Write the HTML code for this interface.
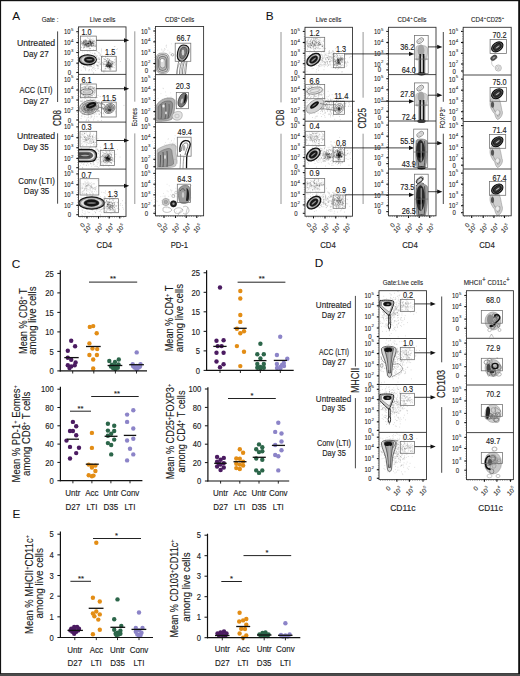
<!DOCTYPE html>
<html><head><meta charset="utf-8"><title>Figure</title>
<style>html,body{margin:0;padding:0;background:#fff;}body{width:520px;height:676px;overflow:hidden;font-family:"Liberation Sans",sans-serif;}svg{display:block;}</style>
</head><body>
<svg width="520" height="676" viewBox="0 0 520 676" font-family="Liberation Sans, sans-serif">
<rect x="0" y="0" width="520" height="676" fill="#fff"/>
<text x="12.3" y="20.4" font-size="11.8" fill="#111" stroke="#111" stroke-width="0.05">A</text>
<text x="265.7" y="20.4" font-size="11.8" fill="#111" stroke="#111" stroke-width="0.05">B</text>
<text x="11.8" y="267.6" font-size="11.8" fill="#111" stroke="#111" stroke-width="0.05">C</text>
<text x="314.7" y="267" font-size="11.8" fill="#111" stroke="#111" stroke-width="0.05">D</text>
<text x="12.6" y="517.8" font-size="11.8" fill="#111" stroke="#111" stroke-width="0.05">E</text>
<text x="41.7" y="21.6" font-size="6.9" fill="#222" stroke="#222" stroke-width="0.1" textLength="16.8" lengthAdjust="spacingAndGlyphs">Gate :</text>
<text x="102.6" y="21.6" font-size="6.9" fill="#222" stroke="#222" stroke-width="0.1" text-anchor="middle" textLength="25.6" lengthAdjust="spacingAndGlyphs">Live cells</text>
<text x="165" y="21.6" font-size="6.9" fill="#222" stroke="#222" stroke-width="0.1" textLength="12.5" lengthAdjust="spacingAndGlyphs">CD8</text>
<text x="177.6" y="18.6" font-size="4" fill="#222" stroke="#222" stroke-width="0.06">+</text>
<text x="181" y="21.6" font-size="6.9" fill="#222" stroke="#222" stroke-width="0.1" textLength="13.2" lengthAdjust="spacingAndGlyphs">Cells</text>
<text x="328.5" y="22.4" font-size="6.9" fill="#222" stroke="#222" stroke-width="0.1" text-anchor="middle" textLength="25.5" lengthAdjust="spacingAndGlyphs">Live cells</text>
<text x="397.5" y="22" font-size="6.9" fill="#222" stroke="#222" stroke-width="0.1" textLength="12.5" lengthAdjust="spacingAndGlyphs">CD4</text>
<text x="410.2" y="19" font-size="4" fill="#222" stroke="#222" stroke-width="0.06">+</text>
<text x="413.5" y="22" font-size="6.9" fill="#222" stroke="#222" stroke-width="0.1" textLength="13" lengthAdjust="spacingAndGlyphs">Cells</text>
<text x="471.1" y="22" font-size="6.9" fill="#222" stroke="#222" stroke-width="0.1" textLength="12.5" lengthAdjust="spacingAndGlyphs">CD4</text>
<text x="483.8" y="19" font-size="4" fill="#222" stroke="#222" stroke-width="0.06">+</text>
<text x="486.6" y="22" font-size="6.9" fill="#222" stroke="#222" stroke-width="0.1" textLength="15" lengthAdjust="spacingAndGlyphs">CD25</text>
<text x="501.8" y="19" font-size="4" fill="#222" stroke="#222" stroke-width="0.06">+</text>
<text x="382.8" y="284.8" font-size="6.9" fill="#222" stroke="#222" stroke-width="0.1" textLength="40.2" lengthAdjust="spacingAndGlyphs">Gate:Live cells</text>
<text x="463.7" y="285" font-size="6.9" fill="#222" stroke="#222" stroke-width="0.1" textLength="18.3" lengthAdjust="spacingAndGlyphs">MHCII</text>
<text x="482" y="281.6" font-size="6.6" fill="#222" stroke="#222" stroke-width="0.1">+</text>
<text x="487.5" y="285" font-size="6.9" fill="#222" stroke="#222" stroke-width="0.1" textLength="18.6" lengthAdjust="spacingAndGlyphs">CD11c</text>
<text x="506" y="281.6" font-size="6.6" fill="#222" stroke="#222" stroke-width="0.1">+</text>
<text x="36" y="45.6" font-size="9.4" fill="#222" stroke="#222" stroke-width="0.14" text-anchor="middle" textLength="38.1" lengthAdjust="spacingAndGlyphs">Untreated</text>
<text x="36" y="57" font-size="9.4" fill="#222" stroke="#222" stroke-width="0.14" text-anchor="middle" textLength="25.5" lengthAdjust="spacingAndGlyphs">Day 27</text>
<text x="36" y="93" font-size="9.4" fill="#222" stroke="#222" stroke-width="0.14" text-anchor="middle" textLength="32.9" lengthAdjust="spacingAndGlyphs">ACC (LTI)</text>
<text x="36" y="104.3" font-size="9.4" fill="#222" stroke="#222" stroke-width="0.14" text-anchor="middle" textLength="25.5" lengthAdjust="spacingAndGlyphs">Day 27</text>
<text x="36" y="138.8" font-size="9.4" fill="#222" stroke="#222" stroke-width="0.14" text-anchor="middle" textLength="38.1" lengthAdjust="spacingAndGlyphs">Untreated</text>
<text x="36" y="150.4" font-size="9.4" fill="#222" stroke="#222" stroke-width="0.14" text-anchor="middle" textLength="25.5" lengthAdjust="spacingAndGlyphs">Day 35</text>
<text x="36.6" y="183.6" font-size="9.4" fill="#222" stroke="#222" stroke-width="0.14" text-anchor="middle" textLength="36.7" lengthAdjust="spacingAndGlyphs">Conv (LTI)</text>
<text x="36.6" y="194.2" font-size="9.4" fill="#222" stroke="#222" stroke-width="0.14" text-anchor="middle" textLength="25.5" lengthAdjust="spacingAndGlyphs">Day 35</text>
<line x1="57.6" y1="31.4" x2="57.6" y2="102" stroke="#333" stroke-width="0.9"/>
<line x1="57.6" y1="133.3" x2="57.6" y2="203.7" stroke="#333" stroke-width="0.9"/>
<text x="61" y="126" font-size="10.4" fill="#222" stroke="#222" stroke-width="0.16" textLength="16" lengthAdjust="spacingAndGlyphs" transform="rotate(-90 61 126)">CD8</text>
<line x1="134.8" y1="31.3" x2="134.8" y2="101.7" stroke="#8a8a8a" stroke-width="0.9"/>
<line x1="134.8" y1="133.4" x2="134.8" y2="204" stroke="#8a8a8a" stroke-width="0.9"/>
<text x="137.2" y="126.6" font-size="7" fill="#222" stroke="#222" stroke-width="0.1" textLength="18.5" lengthAdjust="spacingAndGlyphs" transform="rotate(-90 137.2 126.6)">Eomes</text>
<text x="333.6" y="308" font-size="8.7" fill="#222" stroke="#222" stroke-width="0.13" text-anchor="middle" textLength="35.5" lengthAdjust="spacingAndGlyphs">Untreated</text>
<text x="333.6" y="317.8" font-size="8.7" fill="#222" stroke="#222" stroke-width="0.13" text-anchor="middle" textLength="23.7" lengthAdjust="spacingAndGlyphs">Day 27</text>
<text x="334" y="355.1" font-size="8.7" fill="#222" stroke="#222" stroke-width="0.13" text-anchor="middle" textLength="30.1" lengthAdjust="spacingAndGlyphs">ACC (LTI)</text>
<text x="334" y="365.1" font-size="8.7" fill="#222" stroke="#222" stroke-width="0.13" text-anchor="middle" textLength="23.7" lengthAdjust="spacingAndGlyphs">Day 27</text>
<text x="333.6" y="401.6" font-size="8.7" fill="#222" stroke="#222" stroke-width="0.13" text-anchor="middle" textLength="35.5" lengthAdjust="spacingAndGlyphs">Untreated</text>
<text x="333.6" y="411.4" font-size="8.7" fill="#222" stroke="#222" stroke-width="0.13" text-anchor="middle" textLength="23.7" lengthAdjust="spacingAndGlyphs">Day 35</text>
<text x="334" y="446.2" font-size="8.7" fill="#222" stroke="#222" stroke-width="0.13" text-anchor="middle" textLength="34" lengthAdjust="spacingAndGlyphs">Conv (LTI)</text>
<text x="334" y="455.8" font-size="8.7" fill="#222" stroke="#222" stroke-width="0.13" text-anchor="middle" textLength="23.7" lengthAdjust="spacingAndGlyphs">Day 35</text>
<line x1="355.4" y1="295.9" x2="355.4" y2="366.5" stroke="#333" stroke-width="0.9"/>
<line x1="355.4" y1="398.1" x2="355.4" y2="468.3" stroke="#333" stroke-width="0.9"/>
<text x="358.8" y="393.1" font-size="10.2" fill="#222" stroke="#222" stroke-width="0.15" textLength="25.4" lengthAdjust="spacingAndGlyphs" transform="rotate(-90 358.8 393.1)">MHCII</text>
<line x1="441.7" y1="296.5" x2="441.7" y2="362.3" stroke="#333" stroke-width="0.9"/>
<line x1="441.7" y1="407.1" x2="441.7" y2="472.8" stroke="#333" stroke-width="0.9"/>
<text x="444.9" y="398.1" font-size="10.4" fill="#222" stroke="#222" stroke-width="0.16" textLength="28.1" lengthAdjust="spacingAndGlyphs" transform="rotate(-90 444.9 398.1)">CD103</text>
<line x1="281" y1="32" x2="281" y2="102.4" stroke="#8a8a8a" stroke-width="0.9"/>
<line x1="281" y1="133.7" x2="281" y2="204" stroke="#8a8a8a" stroke-width="0.9"/>
<text x="284.3" y="126" font-size="10.6" fill="#222" stroke="#222" stroke-width="0.16" textLength="16.2" lengthAdjust="spacingAndGlyphs" transform="rotate(-90 284.3 126)">CD8</text>
<line x1="363.1" y1="32" x2="363.1" y2="97.7" stroke="#8a8a8a" stroke-width="0.9"/>
<line x1="363.1" y1="133.7" x2="363.1" y2="204" stroke="#8a8a8a" stroke-width="0.9"/>
<text x="366.2" y="128.6" font-size="10.5" fill="#222" stroke="#222" stroke-width="0.16" textLength="20.5" lengthAdjust="spacingAndGlyphs" transform="rotate(-90 366.2 128.6)">CD25</text>
<line x1="443.3" y1="32" x2="443.3" y2="101.8" stroke="#333" stroke-width="0.9"/>
<line x1="443.3" y1="133.7" x2="443.3" y2="204" stroke="#333" stroke-width="0.9"/>
<text x="445.2" y="128.5" font-size="7.3" fill="#222" stroke="#222" stroke-width="0.11" textLength="19.2" lengthAdjust="spacingAndGlyphs" transform="rotate(-90 445.2 128.5)">FOXP3</text>
<text x="441.6" y="109.3" font-size="4.2" fill="#222" stroke="#222" stroke-width="0.06" transform="rotate(-90 441.6 109.3)">+</text>
<text x="104.4" y="248.1" font-size="9.2" fill="#222" stroke="#222" stroke-width="0.14" text-anchor="middle" textLength="15.6" lengthAdjust="spacingAndGlyphs">CD4</text>
<text x="179.4" y="248.1" font-size="9.2" fill="#222" stroke="#222" stroke-width="0.14" text-anchor="middle" textLength="17.5" lengthAdjust="spacingAndGlyphs">PD-1</text>
<text x="328" y="248.1" font-size="9.2" fill="#222" stroke="#222" stroke-width="0.14" text-anchor="middle" textLength="15.6" lengthAdjust="spacingAndGlyphs">CD4</text>
<text x="410" y="248.1" font-size="9.2" fill="#222" stroke="#222" stroke-width="0.14" text-anchor="middle" textLength="15.6" lengthAdjust="spacingAndGlyphs">CD4</text>
<text x="487" y="248.1" font-size="9.2" fill="#222" stroke="#222" stroke-width="0.14" text-anchor="middle" textLength="15.6" lengthAdjust="spacingAndGlyphs">CD4</text>
<text x="402.9" y="510.6" font-size="9.2" fill="#222" stroke="#222" stroke-width="0.14" text-anchor="middle" textLength="25.4" lengthAdjust="spacingAndGlyphs">CD11c</text>
<text x="490.5" y="510.6" font-size="9.2" fill="#222" stroke="#222" stroke-width="0.14" text-anchor="middle" textLength="24.5" lengthAdjust="spacingAndGlyphs">CD11c</text>
<path d="M93.93 46.25h.01M88.31 42.05h.01M82.98 43.56h.01M83.3 40.77h.01M88.92 43.75h.01M90.51 41.76h.01M88.02 43.38h.01M81.07 44.52h.01M89.48 48.04h.01M88.93 43.23h.01M93.67 43.88h.01M92.18 42.81h.01M89 45.45h.01M91.2 43.74h.01M83.02 44.35h.01M88.35 44.87h.01M88.99 45.57h.01M87.76 43.88h.01M91.07 41.43h.01M86.15 42.55h.01M91 44.68h.01M86.71 40.55h.01M92.44 42.73h.01M91.3 41.02h.01M85.99 45.89h.01M94.58 41.03h.01M81.87 43.42h.01M91.35 43.8h.01M89.4 41.62h.01M90.7 45.62h.01M86 40.78h.01M84.51 44.95h.01M83.44 43.25h.01M86.88 43.53h.01M94.91 44.3h.01M94.14 43.23h.01M85.79 44.22h.01M88.74 41.15h.01M90.14 42.44h.01M83.5 42.51h.01M87.3 45.88h.01M88.47 43.45h.01M89.79 40.06h.01M93.7 41.45h.01M90.02 41.36h.01M83.51 42.75h.01M85.22 42.96h.01M82.7 43.44h.01M85.36 44.87h.01M81.76 42.86h.01M84.13 42.13h.01M91.27 43.74h.01M90.69 45.76h.01M93.29 40.89h.01M90.47 40.15h.01M87.71 47.15h.01M87.11 42.8h.01M88.78 43.53h.01M88.12 42.06h.01M92.98 45.19h.01M87.02 44.1h.01M91.03 45.46h.01M89.81 44.82h.01M86.79 41.47h.01M85.72 45.44h.01M92.5 43.78h.01M85.39 44.08h.01M95.65 46.07h.01M84.86 43.42h.01M81.32 41.34h.01M88.87 43.55h.01M92.44 45.91h.01M91.84 46.01h.01M85.48 41.36h.01M90.3 48.59h.01M89.64 41.31h.01M89.12 46.21h.01M83.24 45.03h.01M85.19 45.92h.01M91.61 44.08h.01M84.84 47.02h.01M83.97 47.68h.01M87.82 41.53h.01M87.99 43.75h.01M88.93 43.14h.01M92.97 39.09h.01M85.45 43h.01M86.44 41.33h.01M84.94 44.72h.01M89.89 46.24h.01M85.24 44.01h.01M93.4 45.22h.01M86.45 45.64h.01M83.75 46.93h.01M88.71 43.29h.01M89.25 45.11h.01M86.31 44.61h.01M83.99 40.28h.01M91.85 42.78h.01M93.18 41.55h.01M88.71 46.54h.01M90.42 44.09h.01M90.7 42.8h.01M88.36 40.93h.01M90.39 41.97h.01M85.95 44.83h.01M92.21 41.59h.01M91.84 45.31h.01M89.03 43.83h.01M90.05 40.03h.01M84.56 45.71h.01M88.89 41.69h.01M85.04 42.92h.01M91.16 44.24h.01M92.59 41.95h.01M92.54 42.55h.01M86.62 46.79h.01M88.34 43.24h.01M87.03 42.77h.01M95.17 46.12h.01M91.3 43.85h.01M92.8 43.35h.01M90.08 44.26h.01M88.41 46.63h.01M91.23 42.64h.01M87.89 45.66h.01M93.4 45.12h.01M88.65 43.57h.01M91.83 43.33h.01M83.87 42.32h.01M87.36 44.13h.01M90.2 43.33h.01M89.38 46.07h.01M93.71 43.2h.01M85.43 40.91h.01M87.67 45.87h.01M86.78 44.84h.01M91.26 44.25h.01M92.99 43.28h.01M84.18 41.27h.01M92.26 42.81h.01M86.57 45.09h.01M84.37 46.86h.01M91.06 42.5h.01M85.09 45.56h.01M82.55 42.28h.01M88.03 43.89h.01M88.07 44.24h.01M86.33 43.27h.01M93.82 44.73h.01M85.93 46.76h.01M91.07 45.35h.01M88.51 42.77h.01M90.69 43.13h.01M90.18 38.07h.01M89.75 42h.01M92.33 44.92h.01M91.35 42.73h.01M90 42.85h.01M88.99 43.24h.01M83.99 47.26h.01M91.33 39.59h.01M92.11 40.85h.01M86.93 42.39h.01M85.54 43.96h.01M86.5 40.75h.01M87.97 44.19h.01M82.53 42.78h.01M91 41.82h.01M84.68 44.55h.01M87.95 43.92h.01M85.11 41.93h.01M86.51 43.21h.01M86.46 44.32h.01M90.52 44.54h.01M90.2 41.82h.01M82.85 45.02h.01M88.06 43.73h.01M82.66 43.1h.01M85.07 41.86h.01M85.1 40.66h.01M88.39 45.72h.01M84.74 43.68h.01M82.98 44.78h.01M86.95 46.21h.01M89.69 43.72h.01M92.22 46.23h.01M90.95 42.4h.01M84.84 40.04h.01M83.05 45.63h.01M87.47 40.96h.01M94.07 40.32h.01M93.8 42.89h.01M89.56 44.79h.01M89.21 45.92h.01M88.07 42.88h.01M84.96 40.75h.01M84.8 45.37h.01M91.8 46.14h.01M90.3 41h.01M86.88 47.67h.01M90.44 43.24h.01M89.42 39.9h.01M84.16 41.01h.01M92.44 43.16h.01M89.59 41.59h.01M90.08 44.95h.01M95.06 46.47h.01M90.24 43.26h.01M84.2 42.35h.01M90.84 44.57h.01M88.09 46.66h.01M90.98 43.53h.01M87.12 43.65h.01M83.63 41.64h.01M89.6 42.39h.01M86.75 45.82h.01M87.11 46h.01M87.96 46.38h.01M90.14 40.16h.01M93.7 43.11h.01M88.71 41.05h.01M85.21 44.54h.01M94.5 45.67h.01M93.62 45.63h.01M88.86 38.39h.01M91.54 45.19h.01M84.43 42.78h.01M83.68 43.47h.01M87.81 43.49h.01M83.3 44.24h.01M86.43 45.31h.01M89.44 40.68h.01M81.36 43.63h.01M85.77 44.39h.01M91.71 43.54h.01M90.63 41.5h.01M93.1 43.33h.01M90.39 41.82h.01M87.54 37.87h.01M87.04 44.59h.01M83.87 41.9h.01M87.75 43.62h.01M84.28 44.78h.01M81.54 41.94h.01M94.13 41.61h.01M83.77 41.38h.01M84.77 42.09h.01M83.52 41.55h.01M95.42 42.22h.01M92.47 40.83h.01M90.5 41.12h.01M85.89 44.71h.01M85.56 39.77h.01M85.46 43.2h.01M90.64 41.6h.01M86.63 43.62h.01M84.19 44.33h.01M87.49 43.18h.01M86.3 41.71h.01M85.65 41.1h.01M88.8 44.75h.01M90.75 42.51h.01M95.73 45.12h.01M83.64 43.24h.01M91.28 45.91h.01M86.08 40.1h.01M87.22 46.09h.01M88.66 45.92h.01M91.81 46.46h.01M90.75 42.24h.01M90.05 48.32h.01" stroke="#000" stroke-opacity="0.35" stroke-width="0.7" stroke-linecap="round"/>
<path d="M114.61 62.78h.01M109.95 64.88h.01M111 60.85h.01M108 62.55h.01M106.42 62.31h.01M107.77 63.75h.01M106.82 65.6h.01M107.69 56.19h.01M111.86 63.48h.01M107.22 65.2h.01M109.55 64.64h.01M106.95 65h.01M105.31 68.25h.01M105.96 63.96h.01M109.05 65.07h.01M108.41 65.76h.01M100.28 63.89h.01M108.31 63.03h.01M112.36 61.62h.01M108.49 58.87h.01M109.34 59.92h.01M104.9 70.32h.01M110.38 64.13h.01M109.1 60.38h.01M106.14 65.27h.01M103.55 64.87h.01M104.47 64.47h.01M105.98 68.78h.01M111.16 62.8h.01M104.08 62.09h.01M108.55 61.54h.01M109.37 66.77h.01M108.55 63.01h.01M110.59 63.38h.01M110.75 63.32h.01M112.62 63.42h.01M106.1 64.42h.01M107.14 61.68h.01M108.38 66.14h.01M103.42 64.05h.01M108.32 63.78h.01M110.65 60.72h.01M110.31 63.57h.01M108.97 63.6h.01M107.9 62.8h.01M109.72 69.75h.01M111.29 66.46h.01M110.09 62.95h.01M110.22 69.7h.01M105.63 66.42h.01M111.23 64.99h.01M110.69 67.93h.01M114.18 67.72h.01M112.83 65.17h.01M110.83 64.76h.01M109.54 63.1h.01M110.49 68.15h.01M108.46 65.01h.01M110.37 64.41h.01M111.15 65.04h.01M106.04 61.66h.01M110.65 66.04h.01M111.57 65.05h.01M109.39 60.25h.01M112.29 61.98h.01M111.44 61.41h.01M107.31 64.82h.01M107.89 62.58h.01M111.1 66.19h.01M109.89 63.54h.01M106.94 63.18h.01M107.67 64.37h.01M110.8 64h.01M107.03 62.82h.01M112.05 64.88h.01M109.52 65.19h.01M110.39 64.82h.01M111.81 66.59h.01M102.13 64.11h.01M116.09 61.13h.01M109.29 67.3h.01M108.98 67.98h.01M105.94 61.22h.01M108.53 62.56h.01M106.4 65.98h.01M109.64 64.52h.01M108.02 65.18h.01M108.71 62.6h.01M110.23 65.47h.01M109.19 66.31h.01M106.34 64.12h.01M107.74 67.97h.01M110.22 70h.01M112.77 63.54h.01M106.37 65.76h.01M108.32 64.09h.01M106.45 66.06h.01M109.45 65.55h.01M109.74 62.15h.01M103.63 63.79h.01M107.47 63.12h.01M111.3 64.24h.01M112.62 64.97h.01M110.65 65.82h.01M110.93 61.23h.01M111.62 64.78h.01M106.66 66.1h.01M109.83 67.85h.01M110.76 65.45h.01M105.08 68.86h.01M112.57 66.52h.01M110.11 67.67h.01M106.92 66.32h.01M109.05 61.89h.01M109.88 65.42h.01M113.09 66.95h.01M105.15 59.4h.01M108.81 63.96h.01M106.75 60.71h.01M108.53 61.49h.01M107.34 66.74h.01M109.57 62.54h.01M106.3 64.01h.01M113.16 63.18h.01M113.15 62.45h.01M108.5 66.31h.01M107.14 64.64h.01M105.75 66.22h.01M111.78 62.81h.01M109.45 63.44h.01M103.82 71.64h.01M110.51 66.65h.01M109.93 64.95h.01M114.69 59.75h.01M108.25 63.41h.01M108.5 66.31h.01M107.27 61.05h.01M106.29 65.69h.01M111.28 66.6h.01M112.83 63.15h.01M111.38 66.28h.01M108.6 62.54h.01M111.11 62.73h.01M108.29 61.97h.01M113.19 64.36h.01M107.8 63.85h.01M108.45 64.73h.01M104.9 61.48h.01M110.21 67.31h.01M106.57 64.79h.01M107.61 58.58h.01M108.25 61.67h.01M111.09 63.95h.01M108.9 60.69h.01M109.34 59.43h.01M109.52 68.08h.01M106.09 66.71h.01M112.37 63.97h.01M111.68 64.71h.01M107.81 59.27h.01M106.41 60.63h.01M114.72 65.17h.01M108.58 60.98h.01M113.13 61.47h.01M112.56 67.32h.01M109.17 62.78h.01M108.88 61.05h.01M110.56 68.88h.01M111.14 67.23h.01M107.32 65.3h.01" stroke="#000" stroke-opacity="0.35" stroke-width="0.7" stroke-linecap="round"/>
<path d="M106.77 65.78h.01M108.17 64.92h.01M109.66 65.58h.01M108.17 67.66h.01M107.91 63.98h.01M106.85 64.87h.01M109.29 66.52h.01M109.87 67.72h.01M110.57 66.3h.01M110.13 66.33h.01M107.86 66.54h.01M108.63 65.31h.01M110.97 66.49h.01M107.98 65.47h.01M111.4 65.27h.01M109.46 66.32h.01M109.19 66.28h.01M107.98 65h.01M108.37 65.13h.01M109.55 67.44h.01M107.49 66.23h.01M107.38 64.73h.01M108.28 65.7h.01M108.03 62.39h.01M110.25 65.24h.01M107.79 66.39h.01M107.84 63.83h.01M109.16 66.08h.01M107.56 66.59h.01M109.02 64.19h.01M110.7 65.89h.01M107.19 66.12h.01M108.72 66.75h.01M106.92 66.83h.01M109.71 66.41h.01M109.31 67.17h.01M109.44 65.72h.01M107.55 66.92h.01M109.76 65.93h.01M108.75 66.44h.01" stroke="#000" stroke-opacity="0.49" stroke-width="0.7" stroke-linecap="round"/>
<path d="M95.04 68.5h.01M83.75 66.95h.01M91.15 59.43h.01M114.9 61.95h.01M93.53 65.38h.01M106.4 60.81h.01M100.47 55.16h.01M89.97 58.37h.01M79.34 51.95h.01M92.1 59.08h.01M94.76 52.99h.01M93.13 62.43h.01M102.26 55.92h.01M89.6 48.91h.01M88.46 47.82h.01M97.61 59.13h.01M99.05 64.16h.01M105.5 59.62h.01M87.49 57.37h.01M83.15 60.73h.01M85.36 67.41h.01M83.52 48.44h.01M114.93 46.55h.01M90.88 57.85h.01M112.22 49.09h.01M105.79 56.61h.01M92.29 56.97h.01M101.05 54.17h.01M93.13 63.12h.01M114.24 46.57h.01M110.78 66.69h.01M88.68 62.83h.01M88.87 70.88h.01M96.31 59.71h.01M91.49 59.8h.01M92.06 55.73h.01M116.64 49.53h.01M92.39 63.23h.01M91.75 60.11h.01M97.66 66.81h.01M89.07 58.76h.01M115.35 64.18h.01M102.53 57.47h.01M81.08 62.79h.01M84.85 54.65h.01M79.74 57.96h.01M106.18 58.4h.01M94.72 66.06h.01M107.22 59.99h.01M92.41 60.73h.01M81.52 65.01h.01M109.09 62.04h.01M91.39 59.44h.01M85.41 56.18h.01M89.59 55.95h.01M89.19 51.54h.01M97.85 61.29h.01M81.32 47.21h.01M93.91 67.62h.01M85.93 58.1h.01M87.75 64.92h.01M83.92 66.91h.01M90.67 66.55h.01M94.36 59.61h.01M91.13 64.96h.01M96.69 56.82h.01M98.51 66.92h.01M92.37 58.37h.01M89.67 65.86h.01M99.92 55.42h.01M98.12 58.12h.01M85.74 68.44h.01M103.03 56.65h.01M94.87 64.01h.01M86.97 60.28h.01M101.34 50.26h.01M97.6 65.43h.01M99.55 52.95h.01M97.5 55.82h.01M100.27 64.63h.01M96.38 56.41h.01M87.5 66.12h.01M84.11 63.97h.01M99.63 59.33h.01M120.34 61.42h.01M117.61 48.9h.01M101 59.13h.01M93.41 49.58h.01M87.08 54.8h.01M91.56 66.32h.01M94.58 63.23h.01M86.32 58.39h.01M95.23 59.31h.01M107.91 55.75h.01M114.8 55.12h.01M105.66 56.36h.01M112.13 61.82h.01M98.38 65.47h.01M87.02 54.75h.01M86.34 57.45h.01M93.66 72.93h.01M89.64 64.19h.01M103.25 70.35h.01M111.56 55.87h.01M94.6 60.34h.01M102.33 62.47h.01M92.43 68.29h.01M82.98 64.16h.01M94.11 60.64h.01M99.39 62.06h.01M96.94 62.59h.01M115.32 59.13h.01M105.13 64.65h.01M90.15 65.77h.01M84.57 67.96h.01M85.1 58.06h.01M97.55 65.99h.01M103.98 66.36h.01M91.72 55.26h.01M100.05 62.81h.01M83.52 66.84h.01M96.19 55.25h.01M98.85 53.05h.01M84.35 63.41h.01M79.14 65.42h.01M86 62.1h.01M104.42 63.74h.01M103.81 58.74h.01M109.59 54.65h.01M93.06 67.68h.01M108.41 68.68h.01M81.96 50.32h.01M98.3 52.41h.01M92.55 53.31h.01M105.68 65.82h.01M100.12 61.1h.01M94.5 59.21h.01M98.22 62.5h.01M99.05 58.43h.01M114.88 62.69h.01M109.34 68.98h.01M84.33 50.88h.01M107.83 58.67h.01M94.9 59.44h.01M95.44 53.86h.01M92.86 58.22h.01M93.83 46.99h.01M103.03 62.99h.01M94.34 64.77h.01M94 69.3h.01M94.24 55h.01M86.56 65.46h.01M87.25 66.05h.01M105.22 64.53h.01M105.19 59.96h.01M93.89 57.45h.01M87.29 51.61h.01M87.89 54.57h.01M99 58.95h.01M109.05 66.65h.01M105.49 57.38h.01M97.39 65.36h.01M98.58 68.56h.01M90.83 65.01h.01M84.15 47.15h.01M89.11 69.99h.01M86.52 58.6h.01M94.48 62.27h.01M83.28 61.76h.01M98.88 66.01h.01M85.7 70.31h.01M79.25 62.04h.01M100.11 54.1h.01M100.91 56.24h.01M91.12 45.84h.01M86.22 61.88h.01M95.67 70.5h.01M81.45 47.49h.01M98.97 57.45h.01M97.15 65.31h.01M100.61 69.65h.01M108.88 51.01h.01M93.31 73h.01M89.52 66.8h.01M93.39 58.48h.01M111.41 67.25h.01M91.32 66.44h.01M79.55 56.65h.01M103.92 61.23h.01M82.32 63.7h.01M97.62 68.71h.01M104.53 59.35h.01M88.67 60.17h.01M91.48 69.77h.01M111.47 69.14h.01M98.17 59.53h.01M103.93 58.91h.01M96.6 51h.01M89.34 69.64h.01M82.71 52.05h.01M92.2 71h.01M109.96 58.84h.01M88.74 60.34h.01M83.76 61.21h.01M90.7 52.14h.01M87.63 59.46h.01M84.53 54.28h.01M103.96 72.37h.01M90.84 58.45h.01M99.53 59.62h.01M85.39 69.35h.01M82.55 56.61h.01M86.69 55.69h.01M91.38 64.45h.01M109.85 64.98h.01M94.39 53.49h.01M93.32 55.35h.01M92.92 66.87h.01M96.25 59.74h.01M85.71 60.87h.01M95.22 55.43h.01M88.44 66.29h.01M81.16 70.28h.01M100.66 64.09h.01M98.36 62.72h.01M97.21 51.49h.01M96.84 64.56h.01M101.34 51.87h.01M88.81 59.16h.01M88.2 63.35h.01M79.95 59.66h.01M96.48 65.35h.01M94.54 59.55h.01M101.6 49.06h.01M104.27 59.15h.01" stroke="#000" stroke-opacity="0.24" stroke-width="0.7" stroke-linecap="round"/>
<g transform="rotate(0 87.75 59.8)">
<ellipse cx="87.75" cy="59.8" rx="8.6" ry="5" fill="#999" stroke="#111" stroke-width="1.25"/>
<ellipse cx="88.55" cy="59.8" rx="7.22" ry="3.8" fill="#d8d8d8" stroke="#9a9a9a" stroke-width="0.35"/>
<ellipse cx="89.35" cy="59.8" rx="5.33" ry="3.1" fill="#151515" stroke="#444" stroke-width="0.4"/>
<ellipse cx="89.35" cy="59.8" rx="3.2" ry="0.68" fill="#8a8a8a"/>
</g>
<path d="M88.18 92.3h.01M85.93 91.99h.01M92.17 92.15h.01M95.03 88.52h.01M88.3 89.03h.01M84.47 90.49h.01M89 92.17h.01M91.88 86.54h.01M88.92 89.26h.01M85.68 94.66h.01M87 85.54h.01M89.4 90.18h.01M82.72 88.42h.01M85.19 90.93h.01M86.08 91.2h.01M84.37 90.3h.01M92.93 89.02h.01M94.45 87.34h.01M83.35 90.85h.01M84.11 89.27h.01M90.03 93.03h.01M88.51 90.23h.01M94.05 92.13h.01M86.94 94.4h.01M83.94 91.46h.01M90.97 90.97h.01M85.41 91.98h.01M85.57 89.33h.01M83.4 94.65h.01M85.53 94.23h.01M89.71 90.27h.01M91 91.76h.01M88.59 87.15h.01M88.32 93.5h.01M90.19 93.79h.01M94.71 92.15h.01M91.69 91.26h.01M95.6 89.97h.01M81.96 87.45h.01M87.21 92.76h.01M85.71 91.52h.01M87.7 91.34h.01M90.64 91.47h.01M88.9 88.4h.01M87.49 92.23h.01M92.7 90.66h.01M88.41 91.95h.01M90.57 91.58h.01M86.86 89.57h.01M93.06 91.83h.01M91.97 93.39h.01M88.69 88.16h.01M93.11 90.75h.01M88.24 93.88h.01M92.58 91.67h.01M88.08 96.87h.01M90.58 88.13h.01M91.38 91.42h.01M88.15 92.91h.01M89.06 96.61h.01M88.92 91.71h.01M93.23 89.42h.01M92.56 90.83h.01M93.33 88.62h.01M89.89 86.52h.01M86.01 91.04h.01M90.23 96.53h.01M84.59 94.5h.01M89.98 87.18h.01M90.18 87.85h.01M84.14 87.48h.01M89.7 90.7h.01M87.33 90.26h.01M89.89 90.13h.01M94.55 90.18h.01M90.53 91.63h.01M84.14 88.27h.01M87.77 84.59h.01M88.07 91.22h.01M88.65 90.79h.01M89.59 90.03h.01M90.89 86.45h.01M92.1 88.54h.01M90.18 89.7h.01M86.09 88.79h.01M94.03 87.96h.01M82.59 91.61h.01M89.17 91.12h.01M83.68 89.19h.01M92.07 88.12h.01M90.75 93.03h.01M88.6 87.61h.01M88.89 89.96h.01M83.75 90.26h.01M88.9 88.65h.01M88.53 94.22h.01M89.97 90.74h.01M92.72 93.57h.01M92.05 88.79h.01M88.28 89.97h.01M90.18 89.75h.01M85.24 96.04h.01M92.55 95.95h.01M89.14 92.42h.01M83.91 91.09h.01M87.88 90.71h.01M85.86 94.25h.01M86.22 91.11h.01M88.25 96.43h.01M83.23 94.74h.01M94.29 90.65h.01M85.26 87.56h.01M84.15 96.7h.01M84.9 96.29h.01M89.42 87.24h.01M85.68 91.55h.01M88.56 88.37h.01M86.74 89.73h.01M90.18 91.77h.01M89.02 89.37h.01M91.54 89.44h.01M84.29 89.8h.01M86.55 90.15h.01M90.8 94.69h.01M86.24 93.1h.01M88.9 91.08h.01M90.58 86.18h.01M90.53 90.52h.01M83.46 89.35h.01M92.85 93.72h.01M84.64 86.87h.01M81.73 87.44h.01M84.64 97.07h.01M82.94 93.11h.01M93.6 88.36h.01M86.81 92.89h.01M85.07 94.48h.01M84.31 92.66h.01M89.51 88.91h.01M87.38 91.24h.01M90.26 94.19h.01M85.83 87.38h.01M86.13 89.86h.01M84.91 89.53h.01M90.92 92.17h.01M94.09 87.96h.01M89.97 92.66h.01M92.12 95.23h.01M85.61 87.8h.01M91.4 90.45h.01M85.4 90.75h.01M88.94 91.41h.01M87.07 92.3h.01M85.7 96.71h.01M85.83 86.67h.01M81.76 85.28h.01M93.18 87.91h.01M81.56 89.42h.01M87.06 87.5h.01M85.4 90.97h.01M90.89 88.33h.01M90.49 91.7h.01M90.44 89.48h.01M82.71 93.67h.01M90.59 89.09h.01M84.42 92.92h.01M89.51 92.34h.01M92.87 86.75h.01M88.64 94.53h.01M80.91 91.65h.01M91.33 95.8h.01" stroke="#000" stroke-opacity="0.32" stroke-width="0.7" stroke-linecap="round"/>
<ellipse cx="87.5" cy="91.3" rx="7.6" ry="5.2" fill="none" stroke="#999" stroke-width="0.5"/>
<ellipse cx="86.8" cy="91.9" rx="6.2" ry="3.0" fill="#e0e0e0" stroke="#666" stroke-width="0.9"/>
<ellipse cx="86.8" cy="91.9" rx="3.8" ry="1.2" fill="none" stroke="#777" stroke-width="0.5"/>
<path d="M81.39 101.69h.01M98.03 95.38h.01M90.71 95.59h.01M101.91 109.12h.01M104.21 105.23h.01M95.58 106.43h.01M85.36 108.8h.01M80.69 106.05h.01M98.27 108.32h.01M88.31 120.04h.01M92.52 104.77h.01M93.44 105.12h.01M88.53 106.07h.01M110.23 108.12h.01M93.58 111.71h.01M110.15 106.77h.01M98 120.56h.01M83.45 94.65h.01M97.95 105.13h.01M88.51 110.54h.01M94.01 109.6h.01M88.12 115.09h.01M105.54 108.18h.01M87.93 112.03h.01M96.3 102.28h.01M87.86 113.77h.01M91.13 106.19h.01M93.91 107.82h.01M91.98 97.38h.01M107.74 109.1h.01M84.11 113.39h.01M94.78 108.1h.01M101.43 120.44h.01M96.98 116.72h.01M111.42 102.39h.01M87.29 112.27h.01M103.64 113.74h.01M97.22 97.58h.01M113.16 111.03h.01M98.9 110.72h.01M81.05 118.55h.01M84.52 106.67h.01M89.71 111.14h.01M96.51 109.47h.01M80.65 90.74h.01M93.5 109.47h.01M103.08 107.43h.01M86.5 110.26h.01M82.94 109.58h.01M110.82 112.2h.01M102.28 109.31h.01M94.51 105.53h.01M89.47 94.64h.01M81.18 100.92h.01M99.53 111.65h.01M102.28 116.56h.01M89.25 113.8h.01M109.6 107.95h.01M101.78 107.09h.01M84.6 108.6h.01M87.83 109.76h.01M104.24 106.07h.01M83.82 108.02h.01M98.08 110.33h.01M95.62 97.17h.01M81.82 115.39h.01M94.16 99.63h.01M84.18 100.04h.01M82.81 114.5h.01M90 114.22h.01M93.71 99.64h.01M86.09 120.77h.01M85.01 102.14h.01M103.3 108.5h.01M91.94 116.21h.01M82.34 100.14h.01M84.54 114.46h.01M90.71 97.71h.01M81.82 116.56h.01M101.4 101.87h.01M114.28 105.94h.01M81.02 107.23h.01M100.61 117.05h.01M101.47 105.6h.01M86.84 99.82h.01M91.32 104.65h.01M94.25 100.88h.01M87.24 103.04h.01M80.93 101.34h.01M82.62 101.35h.01M97.24 108.56h.01M79.84 110.88h.01M94.65 116.21h.01M90.21 106.82h.01M85.66 108.7h.01M96.54 108.98h.01M89.66 111.17h.01M92.85 109.39h.01M83.4 109.16h.01M82.82 103.25h.01M93.48 119.85h.01M101.18 108.02h.01M90.35 113.56h.01M104.73 114.87h.01M90.29 109.06h.01M88.96 106.39h.01M84.13 106.6h.01M95.92 102.79h.01M96.98 100.72h.01M88.6 110.23h.01M82.45 103.98h.01M114.77 104.17h.01M85.5 104.77h.01M92.31 107.85h.01M101.05 112.46h.01M88.29 105.99h.01M85.2 112.11h.01M93.11 112.52h.01M100.67 107.07h.01M111.33 105.06h.01M86.25 105.58h.01M102.47 107.23h.01M85.2 110.44h.01M102.42 107.37h.01M89.68 114.1h.01M101.05 113.32h.01M84.97 109.59h.01M95.34 97.9h.01M103.06 108.56h.01M88.86 120.73h.01M93.35 103.95h.01M91.42 111.17h.01M99.48 107.68h.01M84.05 104.08h.01M84.49 102.09h.01M91.81 105.24h.01M92.5 103.36h.01M84.03 106.96h.01M88.79 114.47h.01M83.69 109.16h.01M91.62 100.65h.01M98.69 108.95h.01M100.62 103.53h.01M107.56 108.87h.01M81.41 111.16h.01M88.69 100.49h.01M85.25 111.62h.01M95.56 105.08h.01M87.13 117.92h.01M107.67 112.22h.01M88.73 102.49h.01M88.45 117.33h.01M96.23 106.38h.01M80.75 108.94h.01M83.94 108.07h.01M98.81 114h.01M93.28 106.08h.01M94.09 118.1h.01M95.45 100.16h.01M106.23 109.41h.01M123.91 105.37h.01M91.14 106.34h.01M95.46 104.76h.01M90.87 105.12h.01M86.69 119.87h.01M99.28 114.1h.01M87.43 109.68h.01M90.07 106.86h.01M98.83 111.38h.01M94.79 108.83h.01M95.49 105.96h.01M84.89 109.99h.01M83.56 104.24h.01M100.07 105.99h.01M105.07 110.92h.01M99.4 114.32h.01M80.2 105.41h.01M91.05 114.94h.01M91.61 117.16h.01M87.2 107.69h.01M92.85 113.27h.01M91.53 104.55h.01M89 100.19h.01M103.49 112.17h.01M95.9 109.54h.01M86.48 105.74h.01M99.37 103.6h.01M84.86 116.79h.01M106.21 109.63h.01M96.86 109.04h.01M104.99 105.53h.01M92.75 110.69h.01M105.12 106.61h.01M94.12 105.27h.01M86.04 104.37h.01M92.76 112.93h.01M85.71 104.66h.01M88.33 109.96h.01M98.34 101.06h.01M95.22 102.48h.01M98.47 102.67h.01M82.19 104.05h.01M91.44 102.49h.01M93.92 108.82h.01M92.75 109.49h.01M99.91 103.96h.01M92.02 107.84h.01M85.04 104.03h.01M87.97 108.54h.01M94.99 110.67h.01M85.73 111.85h.01M95.78 105.84h.01M91.81 112.43h.01M95.91 111.84h.01M92.96 114.28h.01M112.04 110.5h.01M86.86 100.39h.01M101.87 113.52h.01M88.56 115.97h.01M91.3 104.74h.01M92.61 109.18h.01M92.44 110.2h.01M86.88 111.58h.01M84.8 108.9h.01M90.42 99.3h.01M95.46 111.49h.01M81.96 96.47h.01M86.19 103.37h.01M93 107.91h.01M106.51 111.57h.01M89.69 108.89h.01M83.71 107.39h.01M94.88 109.18h.01M100.42 104.2h.01M94.75 107.28h.01M92.12 109.77h.01M89.47 109.16h.01M91.69 113.62h.01M90.99 109.68h.01M115.36 111.44h.01M96.61 113.92h.01M82.94 111.9h.01M98.74 110.41h.01M100.76 112.31h.01M102.7 104.47h.01M95.89 105.01h.01M103.14 108.75h.01M80.33 108.6h.01M82.99 113.39h.01M88.97 95.99h.01M88.52 113.62h.01M94.96 104.53h.01M97.81 111.16h.01M105.2 112.95h.01M95.29 103.68h.01M94.55 109.66h.01M92.12 110.31h.01M81.36 111.13h.01M92.09 109.96h.01M91.14 106.36h.01M94.29 112.29h.01M89.12 109.79h.01M85.14 110.28h.01M92.17 100.99h.01M102.42 103.13h.01M92.72 100.82h.01M79.47 96.66h.01M90.07 99.53h.01M90.17 117.99h.01M88.49 109.96h.01M97.02 109.35h.01M90.93 116.23h.01M91.28 109.94h.01M92.99 101.01h.01M94.86 108.3h.01M97.79 111.77h.01M105.98 97.64h.01M87.03 105.42h.01M84.3 110.25h.01M91.31 108.76h.01M91.42 105.56h.01M86.58 107.36h.01M89.53 102.21h.01M106.84 104.31h.01M97.79 111.25h.01M100.61 104.89h.01M83.11 110.39h.01M94.32 95.17h.01M88.53 106.54h.01M95.69 102.73h.01M115.54 112.91h.01M103.55 109.48h.01M87.1 110.39h.01M90.98 111.63h.01M84.18 106.02h.01M92.05 103.91h.01M87.94 111.33h.01M109.13 106.84h.01M99.33 101.82h.01M87.94 109.78h.01M97.13 102.44h.01M97.33 108.79h.01M103.65 113.08h.01M96.86 105.85h.01M94.32 103.34h.01M84.66 97.99h.01M80.44 101.1h.01M91.09 108.55h.01M80.07 107.46h.01M95.56 113.01h.01M91.14 109.17h.01M88.64 113h.01M100.17 96.56h.01M87.29 100.33h.01M84.14 113.6h.01M87.31 101.96h.01M91.23 110.16h.01M99.2 110.69h.01M90.29 103.41h.01M98.51 106.1h.01M91.26 105.92h.01M92.29 99.81h.01M110.5 104.86h.01M85.44 98.3h.01M91.12 100.46h.01M94.78 114.41h.01M97.29 105.53h.01M103.14 106.91h.01M91.46 108.26h.01M87.65 110.19h.01M80.96 98.33h.01M102.49 103.94h.01" stroke="#000" stroke-opacity="0.28" stroke-width="0.7" stroke-linecap="round"/>
<ellipse cx="89" cy="107.5" rx="10" ry="7" transform="rotate(-15 89 107.5)" fill="#000" fill-opacity="0.12" stroke="#555" stroke-width="0.5"/><ellipse cx="89" cy="107.5" rx="7.5" ry="5.25" transform="rotate(-15 89 107.5)" fill="#000" fill-opacity="0.12" stroke="#555" stroke-width="0.5"/><ellipse cx="89" cy="107.5" rx="5" ry="3.5" transform="rotate(-15 89 107.5)" fill="#000" fill-opacity="0.12" stroke="#555" stroke-width="0.5"/><ellipse cx="89" cy="107.5" rx="2.5" ry="1.75" transform="rotate(-15 89 107.5)" fill="#000" fill-opacity="0.12" stroke="#555" stroke-width="0.5"/>
<ellipse cx="91.3" cy="105.2" rx="5.4" ry="2.8" transform="rotate(-20 91.3 105.2)" fill="#111"/>
<ellipse cx="91.3" cy="105.2" rx="2.8" ry="0.7" transform="rotate(-20 91.3 105.2)" fill="#666"/>
<path d="M97 103 C 100 102 103 104 105 105 M97 107 C 100 107 102 108 104 109" fill="none" stroke="#555" stroke-width="0.6" stroke-opacity="1"/>
<ellipse cx="109.5" cy="108.5" rx="5.8" ry="4.6" transform="rotate(-35 109.5 108.5)" fill="#000" fill-opacity="0.12" stroke="#444" stroke-width="0.55"/><ellipse cx="109.5" cy="108.5" rx="4.35" ry="3.45" transform="rotate(-35 109.5 108.5)" fill="#000" fill-opacity="0.12" stroke="#444" stroke-width="0.55"/><ellipse cx="109.5" cy="108.5" rx="2.9" ry="2.3" transform="rotate(-35 109.5 108.5)" fill="#000" fill-opacity="0.12" stroke="#444" stroke-width="0.55"/><ellipse cx="109.5" cy="108.5" rx="1.45" ry="1.15" transform="rotate(-35 109.5 108.5)" fill="#000" fill-opacity="0.12" stroke="#444" stroke-width="0.55"/>
<ellipse cx="109.5" cy="110" rx="1.6" ry="1.2" fill="#333"/>
<path d="M90.5 132.74h.01M84.12 139.26h.01M95.37 139.01h.01M82.01 143.29h.01M86.72 145.23h.01M87.35 135.41h.01M80.65 137.74h.01M90.23 143.16h.01M89.33 136.41h.01M90.5 133.97h.01M90.52 136.37h.01M95.48 142.47h.01M89.83 135.42h.01M90.75 140.29h.01M85.26 136.82h.01M94.36 137.6h.01M90.22 143.87h.01M80.57 145.25h.01M93.07 136.73h.01M83.24 134.73h.01M92.66 139.59h.01M84.58 137.22h.01M86.16 138.19h.01M92.45 136.08h.01M93.47 142.46h.01M86.74 141.14h.01M85.29 139.19h.01M90.5 145.79h.01M87.75 138.47h.01M88.16 138.36h.01M82.61 145.58h.01M84.89 136.95h.01M84.44 141.42h.01M92.95 140.22h.01M87.88 135.48h.01M91.72 138.69h.01M82.96 132.56h.01M89.72 134.96h.01M86.22 139.8h.01M87.91 136.25h.01M88.49 139.65h.01M92.76 142.27h.01M85.53 141.06h.01M87.85 142.6h.01M93 135.69h.01M87.36 142.95h.01M85.26 139.26h.01M84.93 141.08h.01M89.49 136.09h.01M92.3 137.42h.01M84.5 137.15h.01M83.36 141.42h.01M87.86 139.38h.01M86.37 139.38h.01M94.07 142.61h.01M89.09 138h.01M84.04 136.6h.01M89.85 132.72h.01M82.38 139.21h.01M91.83 140.95h.01M92.3 142.88h.01M85.81 137.79h.01M86.43 137.86h.01M93.68 142.1h.01M82.65 135.05h.01M94.6 143.74h.01M94 141.43h.01M92.3 136.61h.01M84.94 133.19h.01M95.81 145.36h.01M92.53 136.95h.01M88.97 135.25h.01M86.7 144.45h.01M92.07 138.61h.01M89.94 138.46h.01M90.54 136.79h.01M93.19 138.22h.01M89.12 138.58h.01M95.9 142.3h.01M84.01 135.69h.01M91.02 139.44h.01M86.88 139.83h.01M95.38 137.31h.01M86.89 140.17h.01M87.71 137.29h.01M82.66 137.86h.01M86.02 139.05h.01M93.42 140.9h.01M93.99 139.81h.01M90.38 141.31h.01M91.78 142.69h.01M85.29 140.61h.01M89.14 143.44h.01M92.41 137.06h.01M90.26 141.61h.01M88.4 143.55h.01M89.47 134.58h.01M89.68 141.87h.01M84.04 141.57h.01M81.01 137.37h.01M86.49 134.07h.01M89.64 135.82h.01M91.6 143.21h.01M86.67 139.82h.01M96.17 140.46h.01M93.92 142.64h.01M91.87 140.97h.01M94.13 139.88h.01M88.81 136.56h.01M86.48 142.8h.01M86.38 132.1h.01M91.6 143.49h.01M89.78 140.17h.01M89.59 138.88h.01M95.29 136.19h.01M84.37 133.94h.01M85.6 136.66h.01M84.85 139.82h.01M93.51 134.3h.01M88.81 136.64h.01M84.79 137.53h.01M90.08 133.4h.01M95.84 138.83h.01M84.5 133.45h.01M93.59 141.61h.01M92.68 139.68h.01M93.06 137.8h.01M88.81 138.01h.01M88.45 139.38h.01M88.33 139.1h.01M89.01 137.68h.01M84.64 137.49h.01M91.51 141.7h.01M83 142.13h.01M81.53 137.09h.01M84.06 139.34h.01M94.83 144.55h.01M89.93 142.57h.01M90.35 134.72h.01M85.48 138.85h.01M83.27 136.82h.01M91.97 135.71h.01M84.87 132.99h.01M90.34 137.8h.01M90.78 136.49h.01M87.97 140.87h.01M81.23 143.98h.01M87.66 139.28h.01M87.3 140.37h.01M81.86 134.83h.01M89.94 138.33h.01M86.11 140.24h.01M96.05 135.44h.01M83.25 139.25h.01M82.72 133.95h.01M90.43 139.76h.01M93.25 142.02h.01M87.45 137h.01M85.55 138.94h.01M84.68 133.38h.01M86.68 137.44h.01M86.26 140.65h.01M89.45 140.99h.01M81.17 133.98h.01M87.62 135.14h.01M93.3 142.09h.01M80.68 136.51h.01" stroke="#000" stroke-opacity="0.22" stroke-width="0.7" stroke-linecap="round"/>
<path d="M107.36 159.53h.01M107.43 157.05h.01M105.67 157.36h.01M110.78 159.27h.01M110.59 158.75h.01M108.99 158.56h.01M103.83 160.57h.01M109.27 159.5h.01M103.77 152.77h.01M105.78 156.6h.01M108.76 157.86h.01M109.3 156.07h.01M108.77 159.18h.01M106.35 163.15h.01M109.39 161.59h.01M106.45 155.78h.01M107.14 157.68h.01M109.58 158.75h.01M106.88 155.13h.01M106.7 161.66h.01M105.98 158.73h.01M109.07 153.53h.01M108.12 161.92h.01M102.96 157.04h.01M107.73 155.55h.01M109.24 157.81h.01M104.34 160.48h.01M109.67 160.84h.01M111.6 159.09h.01M108.3 154.1h.01M109.54 156.16h.01M106.87 154.21h.01M105.58 156.41h.01M111.22 151.9h.01M104.36 158.72h.01M111.61 159.74h.01M103.25 150.45h.01M108.89 155.79h.01M105.2 160.93h.01M110.75 158.47h.01M108.61 159.3h.01M111.99 159.86h.01M109.3 159.64h.01M104.08 161.85h.01M110.39 159.59h.01M103.07 156.1h.01M110.11 152.57h.01M107.54 161.06h.01M104.72 162.83h.01M109.38 157.55h.01M108.81 159.95h.01M108.3 161.44h.01M106.35 156.76h.01M110.6 158.08h.01M105.8 160.84h.01M111.66 156.67h.01M104.55 157.6h.01M107.63 157.11h.01M111.51 154.92h.01M111.15 154.2h.01M106.03 159.89h.01M110.82 160.58h.01M108.86 158.43h.01M108.38 159.73h.01M107.56 158.83h.01M109.43 158h.01M109.91 159.7h.01M113.03 158.97h.01M106.93 156.88h.01M107.97 160.77h.01M107.16 159.16h.01M112.59 150.31h.01M105.19 158.73h.01M109 158.72h.01M106.92 159.97h.01M108.71 156.43h.01M114.08 159.07h.01M106.61 157.7h.01M107.44 157.81h.01M101.18 156.54h.01M110.52 154.49h.01M107.83 160.86h.01M110.14 162.47h.01M103.75 156.94h.01M107.15 159.87h.01M110.73 149.95h.01M110.72 153.66h.01M109.71 153.52h.01M108.44 161.58h.01M107.63 158.57h.01M109.99 158.42h.01M107.78 162.6h.01M110.62 157.12h.01M114.86 154.56h.01M110.29 157.2h.01M108.33 160.12h.01M108.56 159.92h.01M104.18 153.47h.01M109.54 155.11h.01M105.43 153.59h.01M111.17 160.24h.01M111.68 155.19h.01M108 154.58h.01M109.92 162.77h.01M105.77 162.68h.01M110.47 157.47h.01M103.07 162.22h.01M107.76 156.19h.01M109 159.23h.01M111.75 154.94h.01M110.84 162.46h.01M111.63 157.46h.01M106.14 161.06h.01M108.29 158.37h.01M111.56 157.21h.01M102.26 156.84h.01M103.37 160.46h.01M108.79 156.17h.01M107.98 160.5h.01M108.2 161.98h.01M107.85 161.12h.01M111.73 162.83h.01M106.32 160.64h.01M103.31 154.75h.01M103.09 161.21h.01M104.92 157.96h.01M107.52 157.91h.01M106.52 158.7h.01M112.48 158.13h.01M109.33 161h.01M107.51 154.22h.01M106.61 161.22h.01M103.88 156.21h.01M110.52 160.38h.01M108.02 160.42h.01M108.41 154.46h.01M104.09 156.08h.01M110.31 156.3h.01M105.74 155.69h.01M104.17 157.65h.01M105.05 159.09h.01M102.1 158.98h.01M106.4 152.17h.01M109.81 157.17h.01M102.42 155.37h.01M108.73 156.62h.01M109.95 160.24h.01M109.67 158.98h.01M111.33 159.98h.01M109.13 151.75h.01M110.24 161.93h.01M107.26 156.59h.01M112.85 152.73h.01M109.17 165.27h.01M105.68 160.07h.01M112.72 157.64h.01M109.4 160.71h.01M105.74 157.73h.01M108.73 160.48h.01M107.91 157.41h.01M105.46 156.92h.01M110.23 158.31h.01M105.87 155.48h.01M114.67 161.42h.01M109.59 150.22h.01M109.55 159.44h.01M112.21 159.28h.01M107.83 159.57h.01M103.14 161.1h.01M108.81 155.89h.01M111.31 163.43h.01M104.49 156h.01M108.73 158.55h.01M107 155.08h.01M113.3 161.11h.01M105.01 153.96h.01M112.26 160.97h.01M112.55 160.43h.01M105.82 158.78h.01M102.6 155.76h.01M107.85 159.57h.01M106.18 157.63h.01M109.15 159.13h.01M109.59 158.63h.01M107.19 160.37h.01M108.12 155.52h.01M106.44 158h.01M107.73 158.47h.01M108 158.53h.01M107.66 154.22h.01M109.05 161.16h.01M109.09 157.43h.01M109.12 155.1h.01M103.26 158.18h.01M105.67 160.22h.01M105.29 150.11h.01M105.4 162.73h.01M107.05 153.89h.01M106.09 159.56h.01M109.24 158.53h.01" stroke="#000" stroke-opacity="0.35" stroke-width="0.7" stroke-linecap="round"/>
<path d="M105.35 158.2h.01M108.46 158.26h.01M107.69 156.64h.01M107.19 158.01h.01M108.66 158.7h.01M107.48 157.58h.01M106.45 158.49h.01M109.15 156.12h.01M103.98 161h.01M109.53 159.34h.01M107.99 158.02h.01M107.08 157.02h.01M108.29 158.27h.01M105.09 157.88h.01M106.84 157.71h.01M109.98 159.9h.01M103.53 159.15h.01M108.88 160.21h.01M108.55 156.01h.01M108.65 158.63h.01M109.4 159.14h.01M105.64 160.91h.01M106.04 159.97h.01M108.1 157.85h.01M104.68 157.45h.01M106.38 158.31h.01M107.27 160.6h.01M108.07 160.03h.01M106.07 157.98h.01M108.71 159.78h.01M108.41 157.97h.01M106.2 160.79h.01M106.66 158.05h.01M109.5 158.62h.01M106.72 159.6h.01M107.26 160.18h.01M107.36 157.48h.01M110.64 160.1h.01M107.71 158.37h.01M105.82 157.78h.01M105.9 159.61h.01M109.05 158.1h.01M106.88 159h.01M107.49 159.19h.01M108.14 159.03h.01M108.31 157.25h.01M108.41 155.96h.01M107.64 158.15h.01M107.97 158.26h.01M107.8 156.23h.01M106.83 157.48h.01M107.95 158.73h.01M106.92 157.82h.01M106.58 158.31h.01M108.02 159.36h.01M107.28 157.13h.01M106.42 159.36h.01M106.14 158.02h.01M104.55 159.56h.01M107.51 157.63h.01" stroke="#000" stroke-opacity="0.56" stroke-width="0.7" stroke-linecap="round"/>
<path d="M102.95 163.68h.01M98.49 159.31h.01M98.85 156.98h.01M85.03 151.83h.01M80.81 159.04h.01M98.69 167.57h.01M98.18 159.34h.01M99.82 157.59h.01M88.44 159.03h.01M104.84 160.22h.01M81.46 163.15h.01M83.91 164.82h.01M102.75 152.4h.01M94.29 158.71h.01M102.92 154.69h.01M98.01 153.65h.01M79.25 166.65h.01M103.24 164.65h.01M104.52 162.29h.01M84.75 142.97h.01M98.56 151.09h.01M93.84 160.24h.01M80.25 155.71h.01M111.47 162.63h.01M93.4 161.41h.01M101.14 157.41h.01M90.89 163.26h.01M96.82 154.65h.01M87.21 159.19h.01M97.09 166.77h.01M91.5 157.93h.01M92.82 151.53h.01M97.14 162.63h.01M93.18 163.12h.01M82.19 159.08h.01M84.99 154.39h.01M95.49 158.43h.01M101.51 161.52h.01M80.41 165.39h.01M95.58 156.73h.01M97.47 157.35h.01M82.13 162.13h.01M91.63 151.42h.01M92.75 156.9h.01M95.52 153.46h.01M93.84 155.9h.01M108.48 154.8h.01M105.15 156.53h.01M88.11 157.9h.01M82.75 152.67h.01M86.29 157.58h.01M101.5 162.49h.01M87.03 157.91h.01M89.57 150.38h.01M84.57 160.51h.01M93.02 160.93h.01M87.49 157.95h.01M89.56 147.7h.01M90.36 156.17h.01M85.01 161.81h.01M113.83 165.7h.01M92.42 149.91h.01M90.14 153.14h.01M93.57 164.27h.01M91.45 148.34h.01M105.77 157.35h.01M105.86 151.64h.01M117.41 149.54h.01M93.38 161.96h.01M99.11 151.16h.01M93.74 152.08h.01M95.73 153.73h.01M96.95 152.75h.01M88.53 165h.01M100.35 149.39h.01M106.85 153.21h.01M97.87 149.62h.01M85.16 161.83h.01M79.75 157.46h.01M96.16 152.96h.01M106.77 161.08h.01M90.63 163.21h.01M105.94 164.57h.01M90.76 161.93h.01M95.96 150.3h.01M83.95 159.99h.01M109.26 154.72h.01M91.88 152.45h.01M97.22 149.55h.01M96.6 151.96h.01M95.41 146.54h.01M80.88 162.66h.01M97.96 138.42h.01M107.42 151.95h.01M100.96 163.24h.01M90.31 154.65h.01M110.87 149.35h.01M103.42 161.51h.01M101.62 150.45h.01M90.8 158.53h.01M109.34 151.26h.01M86.56 152.29h.01M100.69 147.29h.01M89.86 148.98h.01M88.46 161.56h.01M86.44 161.17h.01M87.12 156.63h.01M90.35 151.54h.01M96.12 160.88h.01M83.84 161.08h.01M92.92 154.31h.01M93.43 161.92h.01M99.4 165.94h.01M94.5 158.23h.01M97.82 150.16h.01M82.41 167.99h.01M91.01 150.18h.01M115.14 156.77h.01M97.98 160.95h.01M86.91 159h.01M92.27 154.88h.01M102.09 151.83h.01M84.18 152.93h.01M104.11 153.94h.01M110.01 148.78h.01M81.82 140.95h.01M82.46 157.37h.01M98.82 150.89h.01M86.55 165.45h.01M86.83 157.47h.01M98.17 150.98h.01M104.16 155.68h.01M99.62 155.08h.01M94.48 164.18h.01M93.96 145.86h.01M88.91 154.53h.01M89.9 157.99h.01M83.13 164.62h.01M87.98 154.69h.01M90.46 154.74h.01M97.26 164.25h.01M109.99 168.13h.01M79.41 160.82h.01M96.67 156.38h.01M94.84 156.99h.01M80.25 151.79h.01M101.38 156.5h.01M105.69 154.14h.01M85.97 157.53h.01M92.85 162.7h.01M86.52 161.76h.01M95.46 151.57h.01M90.06 155.78h.01M101.98 164.3h.01M98.7 153.7h.01M99.13 157.88h.01M85.89 161.41h.01M84.15 155.08h.01M81.42 148.59h.01M95.41 147.35h.01M85.29 154.65h.01M96.49 152.83h.01M98.94 151.97h.01M83.91 151.88h.01M86.81 152.49h.01M83.28 163.22h.01M81.15 158.83h.01M82.64 162.04h.01M90.44 153.41h.01M103.31 165.87h.01M107.08 162.62h.01M92.4 152.8h.01M86.98 153.54h.01M96.88 154.31h.01M94.04 158.09h.01M90.64 152.94h.01M90.57 147.22h.01M79.29 153.06h.01M110.25 157.76h.01M82.64 167.36h.01M120.04 157.05h.01M101.86 161.07h.01M86.14 140.37h.01M100.73 153.48h.01M95.36 159.7h.01M85.8 142.73h.01M87.31 152.24h.01M80.02 151.97h.01M91.71 166.23h.01M92.75 158.35h.01M102.64 159.73h.01M89.62 152.95h.01M79.75 162.57h.01M91 164.27h.01M83.85 153.31h.01M95.97 165.9h.01M90.04 153.3h.01M97.14 148.81h.01M103.63 149.23h.01M86.26 165.03h.01M100.01 159.73h.01M83.16 144.98h.01M110.11 145.33h.01M81.76 151.4h.01M85.06 157.82h.01M95.96 149.11h.01M95.9 160.78h.01M94.92 166.45h.01M86.52 154.69h.01M87.08 149.86h.01M90.87 163.47h.01M97.51 156.85h.01M93.13 165.03h.01M104.09 145.56h.01M99.27 161.02h.01M101.2 150.05h.01M79.24 159.67h.01M79.44 157.6h.01M112.34 146.11h.01M97.15 166.58h.01M104.86 154.21h.01M82.35 156.98h.01M88.24 155.1h.01M100.04 156.96h.01M85.65 155.83h.01M89.33 155.26h.01M86.97 162.08h.01M87.55 163.4h.01M98.33 162.84h.01M95.98 148.9h.01M116.06 154.26h.01M80.88 157.95h.01M93.61 144.69h.01M87.63 150.29h.01M81.89 156.69h.01M81.25 159.15h.01M93.92 153.65h.01M108.75 166.16h.01M106.09 152.06h.01M84.26 152.41h.01M94.42 160.22h.01M97.6 144.67h.01M84.35 162.76h.01M86.07 149.62h.01M87.95 151.03h.01M90.04 153.29h.01M86.28 153.38h.01M93.93 159.52h.01M96.55 159.69h.01M89.07 150.8h.01M92.27 155.54h.01M89.08 159.47h.01M82.62 153.76h.01M85.97 160.95h.01M97.15 159.43h.01M107.59 163.84h.01M97.11 157.54h.01M83.48 158.73h.01M87.48 158.54h.01" stroke="#000" stroke-opacity="0.24" stroke-width="0.7" stroke-linecap="round"/>
<path d="M78.6 149.3 L 89 149.3 C 94 149.3 96.5 152 96.5 155.5 C 96.5 159 94 161.7 89 161.7 L 78.6 161.7 Z" fill="#8c8c8c" stroke="#0d0d0d" stroke-width="1.2"/>
<path d="M78.6 150.9 L 88.5 150.9 C 92.5 150.9 94.8 153 94.8 155.5 C 94.8 158 92.5 160.1 88.5 160.1 L 78.6 160.1" fill="#f2f2f2" stroke="#888" stroke-width="0.4"/>
<path d="M78.6 152.2 L 87.5 152.2 C 91 152.2 92.8 153.8 92.8 155.5 C 92.8 157.2 91 158.8 87.5 158.8 L 78.6 158.8" fill="#5a5a5a" stroke="#333" stroke-width="0.5"/>
<path d="M79 154 H 89 M79 156.8 H 90" fill="none" stroke="#222" stroke-width="0.6" stroke-opacity="1"/>
<ellipse cx="85" cy="155.5" rx="4" ry="0.8" fill="#aaa"/>
<path d="M83.83 187.89h.01M96.11 193.14h.01M95.5 187.19h.01M90.81 186.02h.01M81.82 185.15h.01M94.19 187.99h.01M87.26 182.8h.01M88.5 184.69h.01M89.2 188.93h.01M81 183.29h.01M82.22 191.42h.01M92.66 188.98h.01M84.95 181.28h.01M86.92 187.81h.01M88.6 189.73h.01M87.05 194.14h.01M90.34 186.08h.01M84.37 190.21h.01M94.72 187.62h.01M91.23 185.92h.01M86.71 185.84h.01M89.21 187.49h.01M94.93 189.5h.01M91.3 187.18h.01M84.14 188.94h.01M87.43 185.64h.01M86.03 185.82h.01M95.6 188.7h.01M86.55 185.59h.01M91.8 186.97h.01M89.63 192.48h.01M94.06 188.02h.01M85.63 182.25h.01M89.36 185.32h.01M82.7 193.55h.01M83.8 184.79h.01M88.05 186.65h.01M90.5 183.6h.01M85.52 188.12h.01M84.42 188.22h.01M95.57 189.98h.01M96.68 191.23h.01M91.28 182.61h.01M87.95 184.08h.01M88.55 182.8h.01M84.68 189.25h.01M92.36 184.04h.01M87.33 184.87h.01M91.35 184.42h.01M96.48 186.53h.01M90.94 187.11h.01M90.4 190.84h.01M87.15 188.74h.01M86.23 186.18h.01M95 189.64h.01M88.33 185.61h.01M80.82 188.88h.01M89.48 183.08h.01M91.54 185.42h.01M86.96 180.29h.01M93.69 183.81h.01M90.41 187.74h.01M85.66 186.56h.01M87.42 185.78h.01M89.73 184.21h.01M92.41 187.2h.01M82.22 188.38h.01M86.41 188.59h.01M94.29 183.78h.01M82.25 186.27h.01M90.71 186.21h.01M84.71 183.09h.01M86.25 193.11h.01M88.53 185.16h.01M87.11 182.82h.01M81.19 187.35h.01M96.07 188.78h.01M81.1 192.88h.01M90.21 194.39h.01M88.01 181.44h.01M90.06 186.24h.01M82.78 183.84h.01M86.55 183.32h.01M92.23 188.09h.01M86.29 185.41h.01M93.73 188.48h.01M82.31 187.92h.01M84.17 193.04h.01M93 189.29h.01M90.12 193.91h.01M90.38 189.64h.01M91.14 188.3h.01M82.71 191.72h.01M82.46 187.99h.01M83.67 191.15h.01M89.37 190.07h.01M85.38 186.7h.01M91.54 187.26h.01M89.59 185.69h.01M85.93 185.27h.01M93.12 188.16h.01M85.94 193.83h.01M97.83 180.71h.01M91.4 186.64h.01M87.29 189.75h.01M83.92 184.17h.01M83.01 193.25h.01M85.97 188.62h.01M87.99 191.39h.01M83.52 183.68h.01M85.72 187.95h.01M85.02 189.05h.01M92.3 191.4h.01M92.27 192.84h.01M87.38 185.17h.01M85.48 184.43h.01M81.9 188.78h.01M88.61 184.26h.01M84.2 186.06h.01M95.92 187.61h.01M84.35 193.78h.01M86.5 186.84h.01M88.07 183.8h.01M86.93 186.68h.01M92.02 187.59h.01M90.28 188.54h.01M85.73 183.77h.01M93.99 183.94h.01M94.57 191.59h.01M86.24 189.46h.01M86.68 190.56h.01" stroke="#000" stroke-opacity="0.2" stroke-width="0.7" stroke-linecap="round"/>
<path d="M107.66 204.62h.01M108.9 205.04h.01M113.53 200.85h.01M109.82 204.54h.01M107.91 205.65h.01M111 213.41h.01M112.06 205.98h.01M114.04 202.86h.01M108.9 207.66h.01M109.24 203.05h.01M108.98 201.94h.01M115.01 209.8h.01M120.19 205.13h.01M110.2 205.41h.01M112.88 206.04h.01M113.77 205.08h.01M106.01 210.78h.01M109.26 209.48h.01M109.82 206.43h.01M105.18 203.07h.01M112.38 207.78h.01M110.18 206.43h.01M104.54 206.12h.01M108.64 202.9h.01M112.22 204.65h.01M107.91 204.81h.01M109.62 205.13h.01M111.25 204.67h.01M114.19 210.71h.01M114.53 204.97h.01M108.75 207.16h.01M110.25 210.11h.01M111.77 207.36h.01M108.98 206.49h.01M107.14 201.52h.01M111.69 202.62h.01M108.85 208.62h.01M116.52 206.15h.01M109.49 208.29h.01M114.34 207.57h.01M107.98 204.52h.01M114.57 202.72h.01M111.23 209.66h.01M114.59 204.06h.01M109.99 205.35h.01M107.11 206.22h.01M108.03 207.82h.01M107.25 204.1h.01M108.9 206.11h.01M102.41 208.84h.01M110.19 206.41h.01M115.33 206.07h.01M112.47 206.41h.01M113.99 208.08h.01M115.03 205.84h.01M107.38 206.83h.01M107.19 205.98h.01M109.89 199.66h.01M109.82 203.02h.01M106.47 200.69h.01M112.47 207.82h.01M107.09 202.89h.01M108.09 202.88h.01M112.91 202.99h.01M114.17 198.81h.01M104.64 208.35h.01M109.55 199.84h.01M118.41 207.9h.01M111.95 198.36h.01M113.85 205.71h.01M110.07 204.55h.01M104.5 202.21h.01M112.16 208.6h.01M113.02 206.95h.01M111.41 207.3h.01M118.32 205.99h.01M105.37 207.12h.01M109.56 202.57h.01M106.42 208.05h.01M108.41 205.19h.01M107.76 209.17h.01M109.33 204.53h.01M105.49 202.11h.01M114.51 202.85h.01M114.32 207.34h.01M112 206.54h.01M110.89 209.31h.01M111.29 201.78h.01M109.91 210.53h.01M106.84 205.85h.01M110.68 209.23h.01M107.93 210.05h.01M107.21 206.36h.01M107.04 206.49h.01M108.93 201.55h.01M112.13 203.1h.01M113.45 198.53h.01M116.58 205.77h.01M117.22 208.33h.01M111.33 205.53h.01M109.55 208.34h.01M110.71 201.89h.01M110.55 207.89h.01M111.77 207.17h.01M113.07 199.2h.01M112.09 210.87h.01M113.18 205.41h.01M107.61 204.59h.01M117.98 205.05h.01M113.33 206.2h.01M113.64 202.8h.01M104.69 205.22h.01M111.77 198.56h.01M110.49 206.83h.01M110.6 205.1h.01M104.64 203.63h.01M107.21 208.45h.01M111.97 207.55h.01M105.5 202.29h.01M111.88 206h.01M114.68 204.29h.01M108.94 208.45h.01M108.14 204.7h.01M115.28 210.76h.01M109.7 202.04h.01M109.25 197.36h.01M113.96 210.99h.01M112.41 203.53h.01M107.39 204.8h.01M112.28 209h.01M115.67 211.7h.01M112.9 209.93h.01M102.41 202.54h.01M111.89 203.27h.01M110.2 206.67h.01M113.86 206.83h.01M112.06 205.7h.01M113.21 209.82h.01M109.57 207.48h.01M111.98 205.71h.01M107.98 204.17h.01M109.7 207.63h.01M112.86 208.61h.01M111.06 202.63h.01M112.23 199.93h.01M114.35 211.47h.01M107.81 204.47h.01M103.67 205.47h.01M109.79 206.84h.01M112.7 205.62h.01M115.38 208.98h.01M109.92 208.3h.01M106.65 200.9h.01M106.69 211.4h.01M107.5 203.19h.01M110.46 205.9h.01M113.87 209.78h.01M110.45 204.73h.01M108.41 203.42h.01M107.87 204.59h.01" stroke="#000" stroke-opacity="0.32" stroke-width="0.7" stroke-linecap="round"/>
<path d="M106.93 201.18h.01M100.21 210.04h.01M103.18 206.61h.01M113.94 209.4h.01M92.68 202.49h.01M83.8 197.74h.01M95.24 204.8h.01M89.52 203.66h.01M97.55 207.81h.01M108.26 205.15h.01M83.88 205.18h.01M104.95 196.72h.01M90.26 207.64h.01M92.8 206.04h.01M95.34 198.47h.01M101.33 199.53h.01M118.33 201.22h.01M102.92 204.01h.01M106.38 200.69h.01M106.99 203.32h.01M110.42 207.43h.01M95.84 199.71h.01M103.98 206.57h.01M115.34 201.93h.01M101.21 206.79h.01M97.68 205.15h.01M96.37 200.71h.01M80.81 201.82h.01M101.68 212.31h.01M106.7 209.79h.01M104.1 207.84h.01M96.38 208.24h.01M117.06 202.2h.01M84.98 214.78h.01M97.18 209.34h.01M105.36 197.75h.01M96.3 208.14h.01M95.65 199.14h.01M92.54 206.06h.01M108.51 207.9h.01M94.77 211.45h.01M84.11 208.36h.01M108.46 202.39h.01M97.08 206.9h.01M114.13 198.48h.01M94.03 207.57h.01M91.95 190.97h.01M107.06 198.95h.01M88.64 205.22h.01M95.48 212.57h.01M92.94 214.24h.01M85.09 201.39h.01M103.37 211.83h.01M102.5 205.66h.01M86.06 201.07h.01M101.62 202.16h.01M104.24 204.45h.01M89.67 204.65h.01M99.57 208.72h.01M87.79 202.72h.01M112.87 203.02h.01M87.78 197.2h.01M96.21 205.13h.01M122.36 205.35h.01M83.89 190.55h.01M112.32 205.04h.01M108.55 207.15h.01M91.72 192.23h.01M92.36 195.45h.01M101.75 192.24h.01M82.2 210.71h.01M115.37 197.5h.01M105.09 198.57h.01M84.97 200.18h.01M110.26 207.79h.01M120.74 203.53h.01M92.24 198.6h.01M92.39 196.78h.01M112.72 208.6h.01M111.32 205.39h.01M84.66 204.47h.01M89.14 197.89h.01M93.93 204.83h.01M87.83 211.86h.01M96.33 207.21h.01M109.84 199.49h.01M85.05 211.21h.01M98.39 209.54h.01M103.93 192.56h.01M103.35 200.3h.01M84.17 201.61h.01M103.99 208.86h.01M107.15 194.87h.01M86.32 190.94h.01M92.67 207.3h.01M84.07 205.35h.01M97.01 209.54h.01M83.32 199.44h.01M84.08 213.64h.01M108.18 203.32h.01M96.93 204.63h.01M96.64 202.85h.01M89.66 197.09h.01M85.66 213.08h.01M100.98 204.36h.01M91.21 204.34h.01M98.59 200.45h.01M96.55 205.32h.01M84.27 199.66h.01M81.01 198.15h.01M105.57 191.02h.01M90.53 200.64h.01M85.94 204.54h.01M108.66 204.42h.01M92.18 200.63h.01M92.32 209.02h.01M88.88 197.69h.01M98.62 202.69h.01M112.97 200.38h.01M103.79 208.41h.01M81.94 208.99h.01M110.85 197.25h.01M107.63 201.89h.01M88.88 200.97h.01M89.79 194h.01M80.98 197.2h.01M100.38 215.49h.01M81.79 214.91h.01M101.42 199.99h.01M106.17 206.95h.01M90.89 204.1h.01M95.72 202.14h.01M96.47 200.78h.01M82.35 212.34h.01M98.68 206.41h.01M104.65 196.9h.01M108.27 201.86h.01M99.23 203.27h.01M96.84 210.62h.01M88.76 212.6h.01M83.83 198.88h.01M103.24 198.14h.01M89.19 208.99h.01M109.74 194.24h.01M100.58 214.36h.01M109.53 202.68h.01M86.19 202.37h.01M91.57 203.2h.01M109.37 202.73h.01M80.05 201.54h.01M92.26 202.11h.01M80.96 202.63h.01M122.39 200.66h.01M92.23 210.18h.01M103.68 208.2h.01M105.21 193.18h.01M82.77 204.71h.01M100.49 211.12h.01M100.1 202.69h.01M94.51 202.84h.01M97.21 207.71h.01M89.58 199.53h.01M82.89 210.03h.01M110.65 209.46h.01M105.14 208.58h.01M93.97 207.65h.01M80.32 202.88h.01M84.46 208h.01M86.46 203.41h.01M99.2 211.45h.01M83.7 198.84h.01M104.62 197.91h.01M99.88 200.86h.01M92.63 193.99h.01M103.27 201.25h.01M82.32 215.42h.01M99.3 202.09h.01M95.4 212.84h.01M93.65 206.48h.01M100.72 198.99h.01M95.68 201.23h.01M102.65 204.41h.01M82.2 192.97h.01M100.31 203.46h.01M95.86 205.95h.01M96.82 204.94h.01M79.18 201.89h.01M87.35 202.7h.01M97.51 207.4h.01M115.26 189.87h.01M99.21 202.91h.01M123.59 209.13h.01M87.23 209.46h.01M80.28 203.44h.01M92.29 203.47h.01M86.41 193.89h.01M99.99 209.49h.01M93.11 198.41h.01M96.64 207.11h.01M91.72 203.92h.01M112.31 197.85h.01M86.75 193.52h.01M84.9 199.93h.01M81.52 200.18h.01M117.36 202.92h.01M93.21 194.46h.01M99.24 198.85h.01M115.3 197.15h.01M86.45 195.17h.01M95.27 198.41h.01M93.15 201.93h.01M86.03 209.19h.01M106.16 204.34h.01M82.3 198.11h.01M88.06 199.68h.01M84.93 197.98h.01M81.36 202.87h.01M112.64 203.99h.01M87.36 195.12h.01M96.77 203.85h.01M93.45 209.57h.01M102.15 205.13h.01M89.8 205.76h.01M79.28 201.97h.01M110.48 202.54h.01M112.52 203.76h.01M95.89 201.96h.01M122.8 207.55h.01M101.88 209.25h.01M101.4 209.62h.01M90.54 202.77h.01M106.79 202.06h.01M86.92 207.37h.01M84.64 198.16h.01M89.68 212.54h.01M93.38 204.89h.01M94.12 205.63h.01M106.07 211.68h.01M93.96 202.24h.01M125.18 203.07h.01M119.28 209.32h.01M80.61 206.69h.01M103.58 203.31h.01M91.51 197.91h.01M117.74 202.66h.01M88.89 202.35h.01M83.81 199.73h.01M95.22 205.72h.01M87.41 203.5h.01M84.26 205.18h.01M82.21 201.17h.01M96.8 197.34h.01M93.05 199.96h.01M114.73 211.62h.01M97.89 196.48h.01M87.45 207.39h.01M87.34 197.49h.01M94.18 200.43h.01M117.05 198.29h.01M98.46 204.48h.01M92.21 209.74h.01M89.68 202.21h.01M89.13 203.45h.01M110.72 208.27h.01M83.63 208.49h.01M96.92 208.89h.01M93.19 193.5h.01M99.86 205.25h.01M100.6 196.84h.01M95.06 200.22h.01M85.07 205.94h.01M98.58 199.09h.01" stroke="#000" stroke-opacity="0.24" stroke-width="0.7" stroke-linecap="round"/>
<clipPath id="ca14"><rect x="78.5" y="169.1" width="47.5" height="47.3"/></clipPath>
<g clip-path="url(#ca14)">
<g transform="rotate(0 91.5 203)">
<ellipse cx="91.5" cy="203" rx="12.8" ry="6.1" fill="#8a8a8a" stroke="#111" stroke-width="1.1"/>
<ellipse cx="91.5" cy="203" rx="10.75" ry="4.64" fill="#e4e4e4" stroke="#9a9a9a" stroke-width="0.35"/>
<ellipse cx="91.5" cy="203" rx="7.68" ry="3.66" fill="#151515" stroke="#444" stroke-width="0.4"/>
<ellipse cx="91.5" cy="203" rx="4.61" ry="0.81" fill="#8a8a8a"/>
</g>
</g>
<path d="M169.24 53.45h.01M169.26 52.08h.01M166.1 45.85h.01M159.42 53.26h.01M158.38 54.42h.01M164.31 50.6h.01M161.84 50.15h.01M163.29 51.38h.01M165.13 49.56h.01M165.09 54.82h.01M165.73 54.51h.01M166.12 46.08h.01M171.14 52.99h.01M171.07 54.71h.01M161.84 54.73h.01M166.51 45.07h.01M164.63 48.96h.01M170.39 54.96h.01M157.74 50.18h.01M167.9 50.26h.01M160.66 55.34h.01M156.92 57.09h.01M170.12 52.35h.01M171.37 43.87h.01M162.96 51.89h.01M163.06 50.09h.01M164.79 48.54h.01M167.9 56.97h.01M166.62 47.4h.01M161.66 49.13h.01" stroke="#000" stroke-opacity="0.17" stroke-width="0.7" stroke-linecap="round"/>
<rect x="156.3" y="53.2" width="12.8" height="20.2" rx="4.5" fill="#e6e6e6" stroke="#888" stroke-width="0.7"/>
<rect x="157.3" y="54.6" width="10.6" height="17.6" rx="4" fill="#cfcfcf" stroke="#666" stroke-width="0.7"/>
<rect x="158.6" y="56.4" width="8" height="14" rx="3.4" fill="#b8b8b8" stroke="#555" stroke-width="0.7"/>
<rect x="160" y="58.5" width="5.2" height="9.5" rx="2.5" fill="#dcdcdc" stroke="#666" stroke-width="0.6"/>
<ellipse cx="162" cy="60.5" rx="1.3" ry="1.5" fill="#fff"/>
<path d="M177 74 C 177 68 178 64 179 61 M179.5 74 C 179.5 68 181 64 182 61 M182.5 74 C 182.5 68 183.5 65 184.5 61 M185.5 74 C 186 69 186.5 65 187 61" fill="none" stroke="#555" stroke-width="0.7" stroke-opacity="1"/>
<path d="M176.5 74 C 177 70 178 66 180 63 M184 74 C 184.5 70 185 66 186 62 M181 74 C 181 70 182 66 183 62" fill="none" stroke="#888" stroke-width="0.6" stroke-opacity="1"/>
<path d="M183.5 45 C 188 45 189.7 48 188.8 52 C 187.8 56 185.4 60 183 61.2 C 180 61.7 177.4 60 177.3 56 C 177.3 51 179 45 183.5 45 Z" fill="#a8a8a8" stroke="#111" stroke-width="1.1"/>
<path d="M183.6 47.2 C 186.4 47.2 187.4 49.4 186.8 52 C 186 55.2 184.4 58 182.8 58.8 C 180.8 59 179.6 57.6 179.6 55.2 C 179.7 51.5 180.8 47.2 183.6 47.2 Z" fill="#777" stroke="#333" stroke-width="0.6"/>
<ellipse cx="183" cy="52.5" rx="1.3" ry="3" fill="#d0d0d0"/>
<circle cx="172.6" cy="54.8" r="1.2" fill="none" stroke="#777" stroke-width="0.5"/>
<path d="M170.75 92.83h.01M166.64 101.79h.01M162.96 88.18h.01M159.48 104.28h.01M177.16 101.38h.01M172.1 105.57h.01M160.96 93.67h.01M158.03 98.55h.01M168.54 102.32h.01M160.72 101.73h.01M169.57 98.68h.01M170.04 103.83h.01M158.25 101.77h.01M169.76 101.52h.01M179.7 93.97h.01M170.22 98.61h.01M169.75 103.11h.01M172.67 98.69h.01M172.95 102.54h.01M171.02 96.79h.01M175.12 99.55h.01M167.7 97.36h.01M166.86 109.67h.01M174.47 99.94h.01M168.79 101.39h.01M172.01 104.63h.01M162.24 99.14h.01M167.94 102.38h.01M164.78 98.41h.01M160.92 111.12h.01M169.11 99.54h.01M185.29 96.48h.01M157.1 108.9h.01M180.62 106.87h.01M175.85 108.72h.01M163.34 88.68h.01M167.18 106.89h.01M172.93 99.04h.01M173.04 105.86h.01M171.34 101.25h.01M175.51 100.45h.01M166.05 95.47h.01M168.9 99.3h.01M176.23 103.84h.01M170.53 100.67h.01M178.07 102.74h.01M176.81 98.54h.01M173.95 100.13h.01M165.55 91.94h.01M171.84 105.4h.01" stroke="#000" stroke-opacity="0.17" stroke-width="0.7" stroke-linecap="round"/>
<path d="M156.6 105 C 160 99.5 166 97.5 171 98 C 174.5 98.5 175.5 101 175 104 C 174.5 109 174 115 172 119 C 170 121 160 121.5 156.6 121 Z" fill="#b3b3b3" stroke="#777" stroke-width="0.6"/>
<path d="M158 107 C 161 102 166 100.5 170 101 C 172.5 101.5 173 104 172.5 107 C 172 111 171 115 169 118 C 166 119.5 160 119.5 158 119 Z" fill="#8f8f8f" stroke="#555" stroke-width="0.5"/>
<path d="M161 104 C 162 110 162 115 161 119 M165.5 103 C 166 109 166 115 165 119 M169 104 C 169.5 108 169 114 168 118" fill="none" stroke="#444" stroke-width="0.6" stroke-opacity="1"/>
<ellipse cx="163.5" cy="106" rx="1.2" ry="1.5" fill="#eee"/>
<ellipse cx="166" cy="113" rx="1" ry="1.4" fill="#ddd"/>
<path d="M172 116 C 173 112 178 110.5 181 112 C 183 113.5 182.5 118 180 119.5 C 177 121 172.5 120 172 116 Z" fill="#e2e2e2" stroke="#888" stroke-width="0.5"/>
<ellipse cx="177" cy="116" rx="2.2" ry="1.8" fill="none" stroke="#999" stroke-width="0.4"/>
<path d="M184.5 93.2 C 187 93.2 187.5 96 187 99 C 186.4 102.5 184.5 106 182 107 C 179.5 107.5 178 106 178 103 C 178.2 99 180.5 93.2 184.5 93.2 Z" fill="#777" stroke="#222" stroke-width="0.7"/>
<path d="M185 94.2 C 186.6 94.5 186.6 97 186.1 99.5 C 185.5 102 184.5 103.5 183.5 103.8 C 184 101 184.5 97 185 94.2 Z" fill="#111"/>
<ellipse cx="181.8" cy="101" rx="1" ry="2.6" transform="rotate(15 181.8 101)" fill="#c8c8c8"/>
<path d="M179.7 152.19h.01M166.65 144.96h.01M171.5 140.4h.01M173.89 140.93h.01M168.27 138.48h.01M168.5 148.86h.01M172.4 145.5h.01M152.68 141.62h.01M167.24 150.14h.01M167.02 149.26h.01M170 142.79h.01M177.23 149.99h.01M169.78 150.14h.01M181.4 148.01h.01M164.16 151.7h.01M157.99 148.22h.01M177.76 149.91h.01M172.35 143.43h.01M165.03 148.83h.01M163.52 157.78h.01M171.32 155.11h.01M180.06 149.39h.01M179.27 151.27h.01M173.83 148.4h.01M169.58 151.05h.01M171.2 141.16h.01M173.65 147.9h.01M161.75 150.84h.01M165.65 142.58h.01M175.13 135.69h.01M187.6 142.18h.01M185.35 139.9h.01M168.07 139.49h.01M164.83 144.51h.01M173.06 142.81h.01M175.37 143.99h.01M181.53 148.35h.01M169.43 147.05h.01M174.42 138.91h.01M174.78 143.08h.01" stroke="#000" stroke-opacity="0.17" stroke-width="0.7" stroke-linecap="round"/>
<path d="M157 150 C 160 147 165 145.5 169 144.5 C 172 143.5 175 143.8 176 146 C 176.8 148 175 151 176 154 C 177.5 158 177 163 175.5 166 C 173 168 160 168.5 157 168 Z" fill="#c9c9c9" stroke="#999" stroke-width="0.5"/>
<path d="M158 153 C 161 150.5 165 149 168 148.5 C 170.5 148 172 149.5 172 152 C 172 156 174 160 173.5 164 C 172 166.5 161 167 158 166.5 Z" fill="#999" stroke="#666" stroke-width="0.5"/>
<path d="M163 152 C 163.5 157 163.5 162 163 167 M167 151 C 167.5 156 167.5 162 167 167 M160.5 155 C 160.5 159 160.5 163 160 167" fill="none" stroke="#3a3a3a" stroke-width="0.7" stroke-opacity="1"/>
<ellipse cx="165" cy="157" rx="1" ry="2" fill="#ddd"/>
<path d="M171 146 C 173 144 175 145 176 147 M173.5 160 C 176 158 178 160 177 164" fill="none" stroke="#aaa" stroke-width="0.5" stroke-opacity="1"/>
<path d="M180 168.5 C 180.5 163 180.5 159 180.5 154 M183 168.5 C 183.2 163 183.5 159 184 156 M186.5 168.5 C 186.3 164 186.5 160 186.8 156" fill="none" stroke="#777" stroke-width="0.7" stroke-opacity="1"/>
<path d="M180 152 C 179.3 147 180.5 141.5 185 140.7 C 189 140.2 191 142.5 190 146 C 189 149.5 187 153 186.7 157 L 186.5 168" fill="none" stroke="#111" stroke-width="1.3"/>
<path d="M181.6 151 C 181.5 147 182.5 143.5 185.5 143 C 187.5 142.8 188.3 144 187.8 146.3 C 187 149 185.5 151.5 185 155" fill="none" stroke="#555" stroke-width="0.8"/>
<ellipse cx="184" cy="148" rx="1.4" ry="3" fill="#aaa"/>
<path d="M169.64 199.53h.01M168.77 196.39h.01M165.75 198.61h.01M170.64 194.68h.01M174.66 197.53h.01M181.55 201.72h.01M185.85 196.8h.01M173.81 194.93h.01M173.87 202.74h.01M172.35 201.66h.01M169.71 203.5h.01M166.34 207.75h.01M173.9 195.22h.01M160.78 196.68h.01M188.42 201.16h.01M165.03 195.33h.01M159.54 205.31h.01M164.6 196.83h.01M176.26 196.89h.01M156.4 201.03h.01M178.43 189.16h.01M174.37 195.28h.01M168.14 191.69h.01M191.02 197.84h.01M161.95 204.68h.01M167.33 202.65h.01M169.2 185.81h.01M172.92 194.15h.01M187.37 203.78h.01M163.05 196.18h.01M167.05 184.27h.01M170.6 189.78h.01M161.72 200.54h.01M171.07 190.3h.01M178.55 196.79h.01M191.29 185.45h.01M171.45 191.92h.01M165.36 196.92h.01M175.82 188.29h.01M174.94 203.25h.01M172.28 194.44h.01M172.01 190.32h.01M175.35 202.92h.01M174.72 196.26h.01M151.58 200.61h.01M168.95 208.26h.01M158.5 205.67h.01M182.72 194.2h.01M176.62 211.36h.01M164.96 206.99h.01M167.09 190.86h.01M162.7 204.37h.01M186.02 196.49h.01M174.59 193.93h.01M172.29 207.91h.01M157.68 201.24h.01M153.85 197.83h.01M188.08 199.23h.01M169 207.58h.01M163.61 193.43h.01" stroke="#000" stroke-opacity="0.17" stroke-width="0.7" stroke-linecap="round"/>
<path d="M179 189 C 181 185 186 184.5 188.5 186 C 190.5 188 190.5 195 189.5 200 C 188.5 203.5 184 204 181 203 C 178.5 202 178 195 179 189 Z" fill="#9a9a9a" stroke="#555" stroke-width="0.6"/>
<path d="M186.5 188 C 189 189 189.5 194 188.8 199 C 188 201.5 186.5 202 186 200 C 186.5 196 187 192 186.5 188 Z" fill="#222"/>
<ellipse cx="183" cy="195" rx="1.2" ry="3" fill="#ccc"/>
<path d="M180 191 C 182 188 184 188 185 191" fill="none" stroke="#333" stroke-width="0.6" stroke-opacity="1"/>
<circle cx="165.8" cy="202" r="3.6" fill="#d0d0d0" stroke="#888" stroke-width="0.6"/>
<circle cx="165.8" cy="202" r="1.8" fill="#aaa" stroke="#777" stroke-width="0.4"/>
<circle cx="173.5" cy="203.8" r="3.1" fill="#222" stroke="#000" stroke-width="0.6"/>
<circle cx="173.5" cy="203.8" r="1.2" fill="#999"/>
<circle cx="173.3" cy="196" r="1.5" fill="none" stroke="#888" stroke-width="0.5"/>
<circle cx="176" cy="192.5" r="1.3" fill="none" stroke="#999" stroke-width="0.4"/>
<path d="M163 208 C 166 206 170 207 172 210 C 170 213 165 213 163 211 Z M174 210 C 177 207 181 207 183 210 C 182 213 178 214 175 213 Z M183 207 C 186 205 189 207 189 211 C 188 214 185 215 183 213" fill="none" stroke="#888" stroke-width="0.5" stroke-opacity="1"/>
<path d="M178 215.5 C 179 212 181 210 183 209 M186 215.5 C 186 212 187 209 188 207" fill="none" stroke="#999" stroke-width="0.5" stroke-opacity="1"/>
<path d="M317.9 47.95h.01M310.22 41.43h.01M315.88 49.2h.01M316.13 40.64h.01M310.33 43.93h.01M318.81 44.06h.01M312.37 43.42h.01M314.99 41.9h.01M314.16 44.88h.01M322.19 43.92h.01M318.89 41.07h.01M318.36 44.57h.01M311.52 44.02h.01M318.58 43.15h.01M319.19 48.57h.01M322.12 48.86h.01M307.94 45.1h.01M310.83 46.88h.01M314.53 44.76h.01M316.43 42.36h.01M314.65 41.99h.01M314.26 38.91h.01M306.93 41.64h.01M318.08 46.37h.01M315.56 42.22h.01M323.26 41.09h.01M309.98 45.54h.01M309.29 44.89h.01M318.94 43.9h.01M316.18 44.22h.01M308.19 44.09h.01M306.11 42.45h.01M315.2 48.05h.01M307.45 42.54h.01M315.29 45.66h.01M307.38 49.6h.01M310.15 47.32h.01M313.19 45.31h.01M322.4 46.2h.01M314.82 41.13h.01M310.95 39.89h.01M324.14 39.51h.01M320.49 43.04h.01M318.31 41.66h.01M311.33 45.59h.01M316.12 42.75h.01M322.2 46.29h.01M314.86 40.59h.01M314.85 43.16h.01M313.79 46.48h.01M311.32 44.89h.01M318.12 45.15h.01M313.85 40.58h.01M306.03 43.22h.01M317.4 44.37h.01M318.69 39.46h.01M318.99 41.24h.01M308.1 45.77h.01M316.51 41.91h.01M310.07 43.48h.01M314.08 43.57h.01M320.64 44.59h.01M307.96 39.39h.01M310.67 42.83h.01M316.22 43.1h.01M315.84 44.75h.01M319.37 44.52h.01M320.37 48.67h.01M312.54 42.71h.01M309.7 43.36h.01M310.48 44.08h.01M315.6 45.65h.01M308.34 47.28h.01M312.54 43.71h.01M311.52 38.08h.01M315.34 38.76h.01M319.58 44.16h.01M321.83 45.98h.01M317.57 48.22h.01M313.86 48.63h.01M313.43 44.81h.01M310.7 45.66h.01M317.39 42.54h.01M307.69 43.93h.01M316.16 43.56h.01M309.21 41.88h.01M311.14 48.32h.01M307.67 43.38h.01M322.45 46.15h.01M318.63 43.59h.01M315.55 44.75h.01M322.22 46.45h.01M314.34 40.74h.01M313.28 43.59h.01M310.68 41.44h.01M309.06 43.67h.01M311.09 45.24h.01M319.08 44.97h.01M314.14 48.68h.01M317.29 39.61h.01M310.47 44.6h.01M309.66 46.28h.01M318.91 45.75h.01M306.06 44.24h.01M320.72 40.69h.01M308.11 40.38h.01M309.13 38.83h.01M311.61 39.68h.01M314.33 50.69h.01M308.79 46.72h.01M314.56 43.98h.01M312.34 46.4h.01M311.83 45.06h.01M312.08 43.6h.01M310.11 50.8h.01M313.73 40.66h.01M323.72 48.71h.01M313.03 42.05h.01M310.34 47.7h.01M312.38 41.88h.01M318.2 43.2h.01M313.74 49.79h.01M318.31 47.73h.01M316.09 47.85h.01M313.16 46.89h.01M319.22 42.78h.01M307.61 45.61h.01M313.41 45.82h.01M311.01 45.59h.01M322.91 45.17h.01M321.16 42.13h.01M319.86 44.42h.01M320.63 45h.01M312.86 41.88h.01M320.26 44.18h.01M317.56 45.44h.01M312.16 45.18h.01M316.41 38.61h.01M312.44 43.82h.01M315.94 46.82h.01M310.62 43.31h.01M317.11 38.53h.01M323.24 41.18h.01M320.56 44.44h.01M323.38 47.11h.01M313.84 38.94h.01M314.66 44.97h.01M316.72 40.24h.01M309.89 41.68h.01M315.41 41.41h.01M313.42 46.78h.01M311.91 48.02h.01M315.48 43.27h.01M319.45 45.48h.01M312.58 42.25h.01M313.78 45.04h.01M319.69 44.81h.01M310.93 40.04h.01M315.28 45.18h.01M319.64 42.43h.01M307.57 46.5h.01M313.15 40.38h.01M322.26 46.66h.01M314.32 44.84h.01M310.3 46.96h.01M311.86 42.66h.01M312.54 40.61h.01M319.12 48.98h.01M317.8 37.88h.01M312.5 42.1h.01M318.89 43.44h.01M314.2 43.57h.01M309.88 47.32h.01M307.44 40.86h.01M312.21 42.58h.01M319.62 42.43h.01M316.51 42.62h.01M320.36 43.95h.01M315.31 39.14h.01M317.51 42.09h.01M318.42 45.52h.01M316.71 47.36h.01M315.88 41.39h.01M314.8 44.51h.01M308.17 45.84h.01M321.3 44.73h.01M314.58 45.38h.01M319.47 42.4h.01M318.75 41.79h.01M316.65 45.55h.01M307.64 45.97h.01M315.09 39.04h.01M311.77 42.14h.01M309.59 45.24h.01M310.08 44.15h.01M308.62 43.22h.01M323.07 45.24h.01M306.29 41.21h.01M313.32 39.16h.01M318.86 43.88h.01M313.66 44.16h.01M310.62 40.6h.01M315.18 46.04h.01M313.09 38.54h.01M312.33 44.11h.01M307.58 48.08h.01M308.44 44h.01M308.59 46.7h.01M307.74 41.33h.01M319.53 40.25h.01M311.32 45.61h.01M315.77 38.78h.01M317 43.13h.01M320.06 38.84h.01M317.8 45.2h.01M312.12 42.74h.01M315.91 41.95h.01M312.27 41.71h.01M314.68 46h.01M306.1 44.07h.01M315.53 48.48h.01M310.31 47.74h.01M311.78 45.45h.01" stroke="#000" stroke-opacity="0.28" stroke-width="0.7" stroke-linecap="round"/>
<path d="M340.33 60.57h.01M347.98 62.61h.01M339.51 62.39h.01M337.66 58.75h.01M340.4 59.61h.01M341.12 60.34h.01M334.33 56.87h.01M336.76 54.75h.01M338.8 60.09h.01M341.45 58.28h.01M338.4 62.81h.01M340.94 57.79h.01M342.99 59.03h.01M342.14 60.06h.01M337.9 57.09h.01M338.67 68.51h.01M337.33 65.83h.01M342.48 59.78h.01M341.93 65.37h.01M338.21 59.33h.01M341.93 62.12h.01M344.57 62.38h.01M335.98 60.86h.01M335.9 63.38h.01M340.85 59.71h.01M336.68 63.83h.01M338.01 64.86h.01M336.43 60.14h.01M337.58 57.74h.01M346.15 66.3h.01M337.36 63.51h.01M334.28 64.96h.01M341.86 59.94h.01M338.09 61.79h.01M340.21 59.88h.01M336.78 60.2h.01M337.89 63.49h.01M339.25 61.77h.01M334.65 59.82h.01M337.99 59.39h.01M338.72 60.08h.01M335.03 63.99h.01M341.44 59.41h.01M340.67 58.1h.01M335.72 60.4h.01M343.12 60.73h.01M335.03 61.82h.01M337.55 58.8h.01M339.99 55.57h.01M334.36 56.48h.01M341.92 61.4h.01M337.49 58.95h.01M340.82 65.05h.01M337.19 61.95h.01M345.31 63.04h.01M338.25 62.2h.01M339.4 63.25h.01M340.05 59.59h.01M338.81 62.34h.01M337.32 61.38h.01M336.73 65.06h.01M343.22 58.42h.01M341.37 61.7h.01M339.38 60.37h.01M339.84 64.33h.01M335.92 64.36h.01M338.44 57.71h.01M339.01 63.17h.01M338.91 62.1h.01M338.26 59.48h.01M341.77 58.23h.01M341.75 62.23h.01M338.42 60.47h.01M338.39 61.06h.01M339.02 60.73h.01M334.09 54.56h.01M340.04 59.2h.01M337.66 60.65h.01M336.26 66.01h.01M339.14 60.63h.01M336.4 63.94h.01M341.03 65.82h.01M341.48 58.64h.01M335.86 65.44h.01M337.39 60.84h.01M338.74 62.74h.01M340.58 57.96h.01M337.48 55.78h.01M340.6 60.68h.01M334.78 64.41h.01M339.18 58.04h.01M338.08 59.36h.01M339.42 61.82h.01M337.67 62.51h.01M332.44 60.12h.01M340.83 64.14h.01M341.23 57.95h.01M334.79 60.13h.01M345.03 62h.01M337.24 55.99h.01M339.52 59.78h.01M340.43 61.76h.01M333.1 60.79h.01M341.17 59.33h.01M336.05 57.58h.01M335.72 67.92h.01M342.76 59.27h.01M342.66 57.87h.01M337.73 58.84h.01M338.64 63.17h.01M344.34 63.41h.01M338.84 61.63h.01M338.53 62.28h.01M336.89 61.91h.01M340.28 64.05h.01M336.99 62.43h.01M339.83 58.63h.01M334.04 59.42h.01M341.34 60.26h.01M344.93 62.85h.01M337.26 60.81h.01M340.28 62.6h.01M338.49 62.52h.01M346.67 63.93h.01M339.52 59.67h.01M334.54 61.65h.01M338.05 60.97h.01M337.69 63.48h.01M341.84 58.97h.01M335.59 62.08h.01M342.63 62.37h.01M340.33 56.82h.01M337.68 62.89h.01M340.03 61.08h.01M340.55 63.72h.01M339.31 58.93h.01M335.5 61.74h.01M338.65 60.56h.01M341.91 59.09h.01M338.39 63.1h.01M336.83 54.54h.01M337.69 63.58h.01M337.55 60.35h.01M334.36 64.74h.01M334.64 59.06h.01M338.62 67.03h.01M339.36 58.9h.01M335.28 60.15h.01M335.96 59.2h.01M339.2 64.8h.01" stroke="#000" stroke-opacity="0.32" stroke-width="0.7" stroke-linecap="round"/>
<path d="M338.01 59.4h.01M340.11 66.55h.01M339.06 63.96h.01M340.05 63.29h.01M339.5 63.78h.01M338.2 59.64h.01M336.44 63.01h.01M339.04 61.95h.01M335.74 61.63h.01M338.42 60.49h.01M337.58 65.26h.01M340.1 63.21h.01M338.86 61.32h.01M338.06 63.06h.01M337.48 61.65h.01M340.46 60.03h.01M337.56 64.72h.01M338.95 62.27h.01M337.5 59.84h.01M339.94 58.05h.01M339.05 61.15h.01M338.39 58.82h.01M339.57 62.91h.01M338.85 62.64h.01M336.87 62.27h.01M339.08 61.88h.01M334.71 61.83h.01M338.63 60.28h.01M338.57 63.97h.01M338.39 64.01h.01" stroke="#000" stroke-opacity="0.42" stroke-width="0.7" stroke-linecap="round"/>
<path d="M329.91 58.69h.01M315.45 57.13h.01M319.77 59.5h.01M330.64 65.07h.01M328.39 65.42h.01M331.02 60.33h.01M322.88 54.94h.01M306.53 59.35h.01M323.39 61.33h.01M329.3 53.47h.01M316.86 54.17h.01M337.2 59.13h.01M326.71 55.21h.01M310.14 56.79h.01M324 61.95h.01M307.16 61.29h.01M314.99 57.06h.01M321.24 57.53h.01M330.6 63.98h.01M329.18 56.98h.01M330.12 61.5h.01M335.35 60.97h.01M306.04 55.91h.01M320.4 64.2h.01M323.55 64.14h.01M328.61 53.78h.01M325.7 62.38h.01M329.97 52.34h.01M330.19 56.75h.01M342.19 71.79h.01M337.69 61.79h.01M347.62 61.33h.01M313.55 47.55h.01M335.9 48.53h.01M325.93 55.39h.01M337.52 59.22h.01M327.66 61.86h.01M318.24 60.7h.01M327.19 62.28h.01M318.8 59.45h.01M325.76 65.23h.01M336.57 56.84h.01M312.05 68.81h.01M335.94 50.22h.01M321.28 55.23h.01M318.09 51.19h.01M320.33 57.16h.01M322.54 64.93h.01M328.08 53.68h.01M339.17 64.45h.01M318.39 65.56h.01M330.63 56.75h.01M330.63 59.39h.01M312.13 57.63h.01M327.44 66.39h.01M313.11 61h.01M325.79 59.56h.01M310.91 66.12h.01M341.16 67.82h.01M331.22 67.24h.01M332.09 64.84h.01M321.62 60.97h.01M321.73 54.56h.01M320.42 54.23h.01M312.23 57.9h.01M318.4 70.22h.01M347.02 65.28h.01M335.21 55.56h.01M329.03 52.63h.01M318.13 57.45h.01M321.28 64.2h.01M316.21 72h.01M319.55 64.16h.01M306.67 64.46h.01M310.9 60.88h.01M325.67 64.03h.01M333.12 61.86h.01M323.95 69.74h.01M320.2 59.96h.01M320.07 60.59h.01M314.13 57.82h.01M331.85 56.99h.01M331.36 56.96h.01M342.92 59.23h.01M346.99 62.4h.01M324.17 64.68h.01M339.84 67.59h.01M342.56 64.4h.01M311.65 64.6h.01M324.7 61.95h.01M341.07 56.29h.01M341.86 71.97h.01M332.48 58.33h.01M342.37 60.82h.01M338.49 66.22h.01M307.5 61.53h.01M307.35 56.36h.01M333.09 53.88h.01M317.04 57.58h.01M329.52 61.64h.01M331.08 57.34h.01M316.62 61.94h.01M315.18 55.78h.01M334.13 55.86h.01M314.74 65.54h.01M325.11 48.61h.01M316.52 69.65h.01M334.08 63.55h.01M329.4 50.68h.01M337.66 61.23h.01M322.73 51.68h.01M317.95 59.25h.01M322.53 60.96h.01M320.92 64.84h.01M333.08 54.02h.01M318.26 61.93h.01M318.87 66.83h.01M319.03 61.04h.01M332.84 54.11h.01M340.57 58.74h.01M316.93 56.31h.01M343.53 59.14h.01M322.09 60.76h.01M332.42 55.8h.01M322.96 61.15h.01M337.67 61.06h.01M345.46 58.7h.01M321.44 52.82h.01M324.96 63.01h.01M322.52 58.91h.01M313.73 56.84h.01M320.11 59.33h.01M338.38 62.33h.01M336.49 65.67h.01M319.89 66.48h.01M326.02 53.17h.01M318.2 59.35h.01M306.99 71.31h.01M324.86 64.06h.01M310.93 60.27h.01M328.54 55.95h.01M328.48 59.75h.01M329.91 53.71h.01M331.63 58.32h.01M315.15 48.75h.01M323.08 57.88h.01M343.26 66.01h.01M330.34 60.98h.01M331.38 52.34h.01M342.36 58.12h.01M316.46 59.71h.01M311.19 51.87h.01M332.34 67.71h.01M325.47 58.1h.01M329.19 57.19h.01M326.87 61.74h.01M322.53 57.64h.01M326.11 59.99h.01M333.39 52.15h.01M311.83 57.25h.01M331.07 53.21h.01M339.72 66.86h.01M316.35 65.26h.01M305.81 65.02h.01M335.28 62.18h.01M318.1 53.96h.01M330.05 57.03h.01M333.14 51.6h.01M330.1 62.15h.01M316.42 56.54h.01M311.26 59.13h.01M333.14 50.92h.01M324.35 66.73h.01M334.46 52.87h.01M351.45 56.69h.01M335.94 64.28h.01M320.91 62.64h.01M326.63 57.73h.01M326.16 64.8h.01M335.99 56.34h.01M334.17 65.33h.01M326.06 61.4h.01M329.18 51.95h.01M334.85 65.26h.01M312.79 53.6h.01M322.25 60.54h.01M334.47 58.28h.01M325.03 54.43h.01M327.99 55.54h.01M336.6 62.9h.01M311.37 64.21h.01M312.1 65.7h.01M337.33 69.15h.01M328.47 59.63h.01M339.11 53.26h.01M324.01 57.78h.01M323.78 51.46h.01M342.07 57.68h.01M331.96 58.74h.01M321.59 65.86h.01M315.02 54.75h.01M310.05 64.8h.01M316.16 57.01h.01M322.32 62.45h.01M336.83 60.31h.01M324.47 61.96h.01M314.89 60.42h.01M344.68 56.1h.01M314.17 51.66h.01M325.08 62.46h.01M319.35 57.72h.01M338.57 59.51h.01M332.8 57.54h.01M340.01 63.9h.01M322.76 56.4h.01M312.99 46.97h.01M332.76 59.7h.01M323.55 51.79h.01M324.76 55.48h.01M310.61 58.21h.01M328.29 58.68h.01M318.61 63.07h.01M327.54 57.59h.01M331.5 60.94h.01M335.57 63.56h.01M333.47 56.5h.01M340.38 64.42h.01M318.25 65.65h.01M325.8 54.48h.01M324.25 53.09h.01M338.14 53.2h.01M342.17 55.18h.01M323.14 65.81h.01M328.93 51.32h.01M323.16 50.45h.01M332.76 54.43h.01M323.72 58.84h.01M306.86 61.14h.01M345.95 54.98h.01M317.96 61.34h.01M339.21 55.18h.01M327.19 61.29h.01M337.34 55.45h.01M308.73 55.61h.01M329.2 56.39h.01M318.7 59.57h.01M316.25 56.53h.01M327.48 57.6h.01M329.27 64.76h.01M338.26 60.05h.01M349.38 57.67h.01M335.64 68.54h.01M327.38 63.66h.01M319.5 56.83h.01M327.53 62.02h.01M329.48 62.93h.01M328.99 59.23h.01M317.97 59.14h.01M325.83 59.62h.01M312.43 65.91h.01M338.19 60.83h.01M319.66 65.11h.01M322.62 58.52h.01M332.34 57.04h.01M326.89 57.36h.01M332.54 61.82h.01M333.83 61.9h.01M329.26 61.63h.01M334.79 55.08h.01M311.71 60.13h.01M327.37 58.58h.01M343.06 62.08h.01M340.23 60.26h.01M309.48 53.12h.01M338.17 60.02h.01M319.91 66.08h.01M345.67 61.72h.01M340.59 58.32h.01M314.55 51.79h.01M338.34 52.31h.01M320.88 60.17h.01M332.37 50.74h.01M322.84 55.86h.01M342.55 58.91h.01M317.95 68.12h.01M327.44 63.66h.01M329.35 59.06h.01M334.25 56.33h.01M309.46 56.65h.01M332.92 57.98h.01M338 63.3h.01M328.04 65.18h.01M330.01 61.39h.01M322.43 59.33h.01M324.76 64.93h.01M343.97 65.08h.01M328.5 59.26h.01M328.61 57.09h.01M325.46 58.25h.01M325.21 48.4h.01M325.59 63h.01M313.19 68.35h.01M327.32 57.13h.01M342.05 55.26h.01M336.53 66.77h.01M333.74 60.5h.01M317.48 59.17h.01M328.24 64.61h.01M312.66 56.89h.01M324.51 56.83h.01M332.69 51.99h.01M331.16 54.97h.01M321.43 59.49h.01M309.34 61.85h.01M350.29 56.71h.01" stroke="#000" stroke-opacity="0.24" stroke-width="0.7" stroke-linecap="round"/>
<g transform="rotate(-40 313.6 59.6)">
<ellipse cx="313.6" cy="59.6" rx="7.8" ry="4.9" fill="#777" stroke="#111" stroke-width="1.3"/>
<ellipse cx="313.6" cy="59.6" rx="6.55" ry="3.72" fill="#e6e6e6" stroke="#9a9a9a" stroke-width="0.35"/>
<ellipse cx="313.6" cy="59.6" rx="4.99" ry="3.14" fill="#151515" stroke="#444" stroke-width="0.4"/>
<ellipse cx="313.6" cy="59.6" rx="3" ry="0.69" fill="#8a8a8a"/>
</g>
<path d="M316.43 91.11h.01M308.07 93.84h.01M315.57 92.12h.01M314.96 96.02h.01M318.94 94.94h.01M312.58 89.62h.01M308.69 90.27h.01M314.85 91.34h.01M318.72 89.87h.01M315.42 93.55h.01M314.86 93.03h.01M308.58 89.08h.01M323.15 89.36h.01M311.92 92.6h.01M322 91.93h.01M318.91 87.8h.01M315.76 96.25h.01M313.58 89.05h.01M311.77 89.37h.01M318.37 91.7h.01M311.46 93.6h.01M308.25 86.45h.01M322.82 90.78h.01M312.92 92.75h.01M309.52 88.36h.01M312.99 89.82h.01M317.96 97.33h.01M307.8 88.25h.01M318.16 92.71h.01M320.11 88.68h.01M317.31 90.9h.01M311.68 90.43h.01M316.4 92.34h.01M309.97 95.08h.01M317.46 88.29h.01M313.16 93.85h.01M308.6 88.22h.01M316.37 91.35h.01M319.2 94.67h.01M314.42 88.71h.01M313.56 91.37h.01M311.12 92.73h.01M314.68 91.81h.01M321.08 95.24h.01M320.56 92.28h.01M314.88 92.89h.01M315.81 88.72h.01M316.22 94.02h.01M311.93 87.56h.01M317.22 88.65h.01M306.14 90.28h.01M306.29 92.14h.01M311.38 91.33h.01M320.24 94.67h.01M311.58 87.33h.01M318.92 96.08h.01M317.86 93.14h.01M317.11 93.27h.01M312.15 93.96h.01M312.49 87.36h.01M314.4 96.21h.01M313.12 85.4h.01M320.76 91.85h.01M317.06 89.58h.01M316.71 96.25h.01M310.68 93.29h.01M316.03 88.31h.01M315.11 92.98h.01M309.63 94.83h.01M308.19 94.79h.01M317.46 91.91h.01M309.96 88.58h.01M313.46 92.87h.01M319.61 91.72h.01M312.35 94.25h.01M314.1 91h.01M307.88 94.46h.01M310.56 97.29h.01M309.54 89.54h.01M314.62 88.85h.01M306.36 87.43h.01M309.76 90.33h.01M319.38 93.22h.01M315.85 93.68h.01M311.2 87.78h.01M316.7 89h.01M308.28 93.93h.01M310.66 90.29h.01M306.12 93.97h.01M314.38 95.69h.01M312.22 88.57h.01M322.87 90.44h.01M317.5 91.86h.01M314.99 91.72h.01M313.42 91.84h.01M308.77 93.02h.01M311.43 91.61h.01M322.92 91.78h.01M308.68 92.26h.01M306.47 91.63h.01M321.6 87.72h.01M313.35 88.3h.01M315.06 92.14h.01M315.08 90.2h.01M311.82 93.68h.01M310.16 85.75h.01M321.86 92.17h.01M309.17 91.92h.01M317.31 86.53h.01M320.93 88.38h.01M318.46 89.3h.01M311.4 91.47h.01M315.78 89.87h.01M311.36 92.47h.01M307.15 97.39h.01M310.19 92.24h.01M313.24 94.2h.01M311.79 88.59h.01M315.4 92.98h.01M313.32 97.51h.01M318.06 95.39h.01M320.83 94.31h.01M313.13 96.19h.01M312.16 91.5h.01M321.43 94.01h.01M308.43 90.1h.01M309.41 94.68h.01M312.22 91.12h.01M310.51 89.46h.01M317.6 87.89h.01M314.38 89.5h.01M312.17 87.03h.01M320.15 85.98h.01M307.65 89.72h.01M314.42 88.67h.01M308.82 88.9h.01M313.89 92.18h.01M311.86 89.89h.01M319.57 90.35h.01M315.89 89.79h.01M310.98 91.55h.01M311.41 91.39h.01M317.36 89.04h.01M316.01 88.57h.01M306.62 91h.01M315.03 92.5h.01M315.86 89.61h.01M311.86 86.26h.01M310.14 89.5h.01M319.5 86.89h.01M323.62 93.76h.01M311.3 89.12h.01M315.11 92.19h.01M317.65 85.61h.01M312.18 92.54h.01M318.63 92.38h.01M313.52 91.94h.01M311.26 96.32h.01M318.67 92.21h.01M311.04 90.84h.01M315.91 91.27h.01M322.38 97.38h.01M319.05 87.42h.01M317.58 89.43h.01M314.04 97.06h.01M310.73 93.4h.01M311.92 84.92h.01M315.98 93.02h.01M320.38 91.33h.01M319.75 89.21h.01M318.56 94.7h.01M312.61 89.86h.01M320.3 88.74h.01M309.42 91.16h.01M316.99 93.85h.01M311.58 92.63h.01M309.54 87.49h.01M306.25 92.01h.01M310.23 93.26h.01M319.38 91.87h.01M309.33 95.64h.01M319.38 89.96h.01M319.89 92.94h.01M307.56 88.63h.01M314.93 87.7h.01M317.65 91.38h.01M317.81 90.15h.01M317.98 90.58h.01M311.19 91.52h.01M310.02 89.2h.01M319.08 94.16h.01M310.79 89.57h.01M311.63 87.04h.01M322.58 94.86h.01M309.49 92.99h.01M308.9 89.87h.01M319.38 90.03h.01M310.21 86.36h.01M316.79 90.25h.01M307.47 97.21h.01M310.21 89.21h.01M315.85 89.98h.01M313.96 92.14h.01M311.24 87.96h.01M312.2 94.04h.01M313.84 95.71h.01M314.3 88.06h.01M315.03 90.33h.01M311.36 90.31h.01M318.73 93.58h.01" stroke="#000" stroke-opacity="0.28" stroke-width="0.7" stroke-linecap="round"/>
<ellipse cx="314.8" cy="90.6" rx="7.8" ry="3.4" transform="rotate(-10 314.8 90.6)" fill="#e6e6e6" stroke="#777" stroke-width="0.7"/>
<ellipse cx="314.8" cy="90.6" rx="5" ry="1.6" transform="rotate(-10 314.8 90.6)" fill="none" stroke="#888" stroke-width="0.5"/>
<path d="M333.35 107.62h.01M317.56 116.14h.01M306.85 106.19h.01M337.57 109.51h.01M334.06 100.93h.01M349.32 102.48h.01M325.68 106.14h.01M326.21 103.4h.01M345.4 106.48h.01M338.58 98.06h.01M333.71 105.03h.01M331.31 107.24h.01M331.79 105.66h.01M327.3 106.85h.01M329.19 106.43h.01M321.68 108.38h.01M315.9 116.7h.01M336.91 113.97h.01M324.86 99.53h.01M307.71 102.07h.01M318.6 104.12h.01M321.7 109.28h.01M321.91 106.84h.01M308.4 108.61h.01M329.62 106.97h.01M324.01 104.66h.01M322.2 110.67h.01M327.14 107.28h.01M314.9 94.59h.01M336.82 100.73h.01M311.87 105.06h.01M327.79 110.8h.01M324.66 102.75h.01M334.42 101.17h.01M308.32 100.35h.01M322.03 103.84h.01M326.01 106.23h.01M328 101.72h.01M321.18 106.56h.01M322.98 108.74h.01M322.69 107.55h.01M318.34 92.42h.01M331.1 114.44h.01M314.12 103.1h.01M335.75 103.32h.01M327.38 104.8h.01M333.44 105.31h.01M350.77 106.24h.01M322.79 98.63h.01M327.17 101.16h.01M333.9 108.88h.01M327.62 111.36h.01M348.55 106.33h.01M325.67 112.31h.01M329.46 107.52h.01M336.53 102.04h.01M349.63 104.24h.01M326.07 104.03h.01M321.57 105.97h.01M340.23 119.63h.01M334.94 105.45h.01M318.07 113.2h.01M318.32 105.85h.01M342.63 105.32h.01M324.32 106.79h.01M306 105.46h.01M328.25 107.92h.01M321.63 94.9h.01M316.28 109.95h.01M316.48 101.42h.01M332.66 108.89h.01M328.17 109.19h.01M336.17 108.62h.01M330.47 115.52h.01M312.52 117.56h.01M329.56 102.33h.01M334.86 111.37h.01M311.35 107.01h.01M336.56 110.3h.01M326.76 100.58h.01M325.11 117.3h.01M325.69 105.68h.01M319.55 106.92h.01M328.84 100.91h.01M351.41 112.31h.01M331 99.48h.01M321.7 105.19h.01M336.11 105.54h.01M312.23 105.13h.01M323.74 106.17h.01M336.95 102.38h.01M307.32 112.16h.01M338.2 99.86h.01M335.3 103.45h.01M334.78 108.83h.01M309.06 100.76h.01M324.34 98.99h.01M311.68 101.61h.01M324.12 105.6h.01M316.78 104.84h.01M340.85 109.02h.01M331.29 102.57h.01M317.9 99.86h.01M315.83 96.79h.01M324.36 104.08h.01M317.77 102.89h.01M310.42 109.75h.01M333.78 112.23h.01M330.43 105.25h.01M337.21 99.7h.01M309.15 110.82h.01M332.24 107.42h.01M342.73 105.89h.01M329.13 108.29h.01M311.75 108.06h.01M333.69 105.79h.01M317.49 101.94h.01M342.78 112.43h.01M324.9 102.08h.01M340.5 111.67h.01M332.68 102.33h.01M335.88 110.85h.01M320.59 101.86h.01M321.27 107.23h.01M331.38 108.75h.01M326.3 103.46h.01M330.3 111.29h.01M328.2 109.59h.01M325.27 102.36h.01M321.33 105.21h.01M307.54 105.14h.01M318.63 107.05h.01M335.45 106.76h.01M321.35 107.25h.01M313.2 108.66h.01M342.31 108.89h.01M343.97 103.86h.01M345.5 103.45h.01M345.05 103.04h.01M323.07 108.39h.01M307.36 106.63h.01M324.65 110.69h.01M329.02 106.71h.01M324.68 115.7h.01M332.35 107.05h.01M326.72 107.46h.01M336.51 107.39h.01M343.87 106.26h.01M333.2 107.24h.01M334.44 107.84h.01M332.11 107.58h.01M329.02 109.42h.01M318.35 102.41h.01M326.5 106.75h.01M341.6 98.66h.01M343.88 103.48h.01M316.24 107.83h.01M330.38 111.07h.01M331.72 113.37h.01M323.88 98.73h.01M323.33 105.04h.01M334.75 110.82h.01M327.87 102.59h.01M338.35 112.91h.01M339.87 109.5h.01M328.85 104.27h.01M339.6 110.22h.01M325.67 105.29h.01M327.95 101.07h.01M342.62 106.35h.01M313.76 104.81h.01M312.91 102.24h.01M310.95 106.74h.01M306.9 102.76h.01M326.64 104.99h.01M327.92 102.35h.01M318.59 107.65h.01M321.67 110.7h.01M320.55 106.68h.01M322.37 111.31h.01M314.87 110.03h.01M339.93 108.69h.01M342.28 101.4h.01M305.67 102.81h.01M320.55 108.14h.01M319.17 103.57h.01M323.01 114.47h.01M318.58 105.82h.01M330.02 113.96h.01M310.93 97.34h.01M325.32 101.91h.01M318.71 96.13h.01M345.54 98.52h.01M331.58 108.99h.01M336.27 114.15h.01M320.64 100.01h.01M330.08 110.86h.01M324.88 104.81h.01M340.49 101.06h.01M349.03 98.49h.01M315.89 105.59h.01M315.9 109.97h.01M318.41 103.55h.01M322.55 111.82h.01M325.87 105.16h.01M340.16 101.8h.01M310.74 105.94h.01M331.58 101.24h.01M323.62 107.94h.01M323.85 107.53h.01M325.47 113.16h.01M309.47 114.56h.01M334.73 119.31h.01M341.61 97.32h.01M330.96 100.32h.01M339.04 113.95h.01M338.77 104.51h.01M327.64 99.03h.01M329.32 95.15h.01M322.06 103.74h.01M312.12 108.37h.01M328.85 113.73h.01M323.6 107.89h.01M313.66 112.32h.01M319.01 102.67h.01M309.97 109.72h.01M329.37 104.07h.01M330.07 110.88h.01M327.51 109.09h.01M323.86 108.62h.01M338.32 107.21h.01M310.66 108.67h.01M351.85 101.03h.01M316.37 106.59h.01M316.41 102.34h.01M328.07 91.35h.01M333.71 98.11h.01M345.59 105.75h.01M325.75 98.53h.01M340.5 104.8h.01M313.19 110.37h.01M333.66 114.2h.01M314.82 105.34h.01M317.61 98.96h.01M318.05 103.2h.01M324.13 105.91h.01M323.81 106.59h.01M322.01 104.87h.01M328.33 114.65h.01M323.71 102.59h.01M322.24 106.73h.01M317.76 103.7h.01M314.58 105.56h.01M346.16 103h.01M330.3 112.64h.01M328.82 102.84h.01M335.78 111.05h.01M317.9 101.98h.01M310.32 104.29h.01M324.22 103.84h.01M322.4 108.4h.01M330.61 116.9h.01M309.66 99.43h.01M319.13 107.98h.01M343.86 110.38h.01M338.53 99.79h.01M329.66 114.35h.01M333.97 103.29h.01M331.33 112.92h.01M328.59 99.62h.01M338.2 103.03h.01M331.97 110.03h.01M320.36 111.47h.01M310 112.65h.01M310.85 99.64h.01M322.26 104.87h.01M328.67 108.33h.01M323.56 101.37h.01M337.28 96.57h.01M336.57 100.12h.01M326.4 108.06h.01M329.53 104.64h.01M337.78 107.66h.01M317.67 103.27h.01M318.65 98.15h.01M339.39 95.97h.01M339.38 116.54h.01M340.94 108.87h.01M326.94 103.55h.01M324.16 113.56h.01M320.84 107.07h.01M341.59 108.13h.01M330.45 108.18h.01M324.77 112.17h.01M335.4 108.18h.01M324.05 109.73h.01M325.92 100.41h.01M332.12 94.71h.01M334.34 104.78h.01M323.21 103.54h.01M342.54 107.58h.01M318.96 105.45h.01M320.72 113.63h.01M321.56 104.46h.01M327.44 105.26h.01M312.37 109.86h.01M326.45 108.92h.01M329.11 108.02h.01M315.07 118.11h.01M341.52 107.84h.01M308.56 96.26h.01M339.33 112.2h.01M341.13 103.15h.01M321.87 104.22h.01M316.27 116.15h.01M320.14 103h.01M333.78 114.61h.01M330.47 99.06h.01M329.22 102.87h.01M324.06 101.12h.01M307.68 112.47h.01M322.99 103.06h.01M321.19 109.18h.01M318.13 110.42h.01M327.61 106.11h.01M324.7 100.66h.01M339.21 106.43h.01M319.24 102.4h.01M332.81 115.74h.01M330.96 100.45h.01M317.43 99.45h.01M316.25 104.04h.01M319.63 108.53h.01M323.06 107.63h.01M328.93 101.97h.01M334.04 106.47h.01M332.28 99.87h.01M327.23 107.57h.01M313.73 109.82h.01M321.01 104.41h.01M328.67 96.56h.01M326.91 109.7h.01M333.18 116.03h.01M331.23 103.31h.01M324.31 101.47h.01M329.5 102.06h.01M313.8 101.34h.01M306.83 100.17h.01M319.24 103.66h.01M319.65 108.98h.01M313.41 105.45h.01M315.47 106.06h.01M330.42 100.84h.01M313.2 107.05h.01M314.78 105.97h.01M323.66 106.18h.01M317.58 105.86h.01M321.5 107.52h.01M335.94 108.34h.01M325.44 105.78h.01M332.96 104.34h.01M322.46 109.53h.01M348.49 102.77h.01M345.37 104.2h.01M326.89 103.71h.01M321.36 116.52h.01M319.42 107.03h.01M315.33 109.44h.01M317.75 99.29h.01M317.29 106.08h.01M310.65 102.22h.01M321.03 106.59h.01M315.28 110.15h.01M314.77 113.3h.01M323.02 100.78h.01M322.61 97.25h.01M326.92 96.87h.01M348.92 106.1h.01M327.68 109.83h.01M336.42 102.18h.01M343.95 104.36h.01M338.31 101.34h.01M342.62 104.32h.01M318.8 108.87h.01M317.49 104.8h.01M343.07 101.16h.01M336.57 100.59h.01" stroke="#000" stroke-opacity="0.24" stroke-width="0.7" stroke-linecap="round"/>
<ellipse cx="315" cy="106" rx="10" ry="5.6" transform="rotate(-35 315 106)" fill="#d5d5d5" stroke="#777" stroke-width="0.5"/>
<path d="M320 103.5 C 326 105 331 105 336 104.5 M320 109 C 326 108.5 331 109.5 336 111" fill="none" stroke="#555" stroke-width="0.6" stroke-opacity="1"/>
<ellipse cx="314.5" cy="105" rx="5.2" ry="2.2" transform="rotate(-37 314.5 105)" fill="#111"/>
<ellipse cx="314.5" cy="105" rx="2.8" ry="0.5" transform="rotate(-37 314.5 105)" fill="#777"/>
<ellipse cx="339" cy="108.4" rx="4.2" ry="5" transform="rotate(30 339 108.4)" fill="#000" fill-opacity="0.08" stroke="#555" stroke-width="0.5"/><ellipse cx="339" cy="108.4" rx="2.62" ry="3.12" transform="rotate(30 339 108.4)" fill="#000" fill-opacity="0.08" stroke="#555" stroke-width="0.5"/><ellipse cx="339" cy="108.4" rx="1.05" ry="1.25" transform="rotate(30 339 108.4)" fill="#000" fill-opacity="0.08" stroke="#555" stroke-width="0.5"/>
<ellipse cx="339" cy="109" rx="1.4" ry="1.8" fill="#333"/>
<path d="M311.34 139.48h.01M319.57 143.74h.01M307.25 135.84h.01M309.35 137.03h.01M313.24 134.09h.01M315.43 133.67h.01M316.86 135.27h.01M315.6 139.41h.01M313.49 136.21h.01M310.07 134.55h.01M322.15 139.92h.01M323.83 139.24h.01M315.89 136.24h.01M312.79 133.18h.01M319.26 141.16h.01M321.88 142.65h.01M318.13 138.87h.01M309.01 135.19h.01M318.33 143.71h.01M316.41 135.91h.01M318.52 141.53h.01M307.84 140.44h.01M308.99 138.13h.01M316.67 138.22h.01M306.2 139.25h.01M306.63 140.23h.01M311.53 135.81h.01M315.19 138.85h.01M323.65 139.47h.01M319.88 134.45h.01M319.68 140.8h.01M321.29 142.52h.01M309.34 133.86h.01M309.97 136.02h.01M314.28 141.21h.01M313.22 133.5h.01M309.37 139.75h.01M317.94 137.51h.01M315.82 142.43h.01M312.2 144.31h.01M308.79 144.06h.01M306.43 142.28h.01M314.06 133.13h.01M314.67 139.75h.01M317.1 138.37h.01M313.09 137.05h.01M314.52 141.87h.01M316.51 140.22h.01M315.02 142.46h.01M307.57 135.24h.01M308.45 136.86h.01M314.54 137.34h.01M310.13 135.25h.01M312.16 136.49h.01M312.78 132.8h.01M319.37 139.56h.01M310.15 136.43h.01M309.3 131.84h.01M317.57 136.57h.01M319.68 142.8h.01M306.83 134.35h.01M316.75 136.22h.01M310.37 136.67h.01M316.25 133.6h.01M314.4 141.52h.01M310.98 136.78h.01M316.33 141.1h.01M319.26 139.54h.01M322.69 135.93h.01M322.81 139.88h.01M312.36 133.4h.01M322.33 138.85h.01M317.03 143.09h.01M311.9 140.58h.01M318.72 143.33h.01M315.79 144h.01M311.18 137.85h.01M310.55 134.95h.01M323.18 138.94h.01M313.86 138.65h.01M314.83 133.19h.01M311.58 139.27h.01M307.45 137.33h.01M311.85 134.77h.01M306.73 136.02h.01M315.17 139.76h.01M317.19 132.44h.01M306.67 139.78h.01M317.9 139.84h.01M322.67 140.32h.01M321.44 137.99h.01M314.07 135.11h.01M314.59 136.79h.01M310.81 140.03h.01M316.02 136.6h.01M315.17 139.09h.01M316.4 135.82h.01M317.55 136.51h.01M315.71 136.31h.01M319.54 134.81h.01M322.82 133.97h.01M317.91 137.46h.01M319.11 133.78h.01M312.28 139.5h.01M318.57 136h.01M310.21 138.23h.01M311.59 134.6h.01M312.92 142.56h.01M317.09 136.72h.01M317.21 133.36h.01M310.76 137.72h.01M311.93 135.9h.01M313.95 143.88h.01M313.72 139.31h.01M312.26 140.87h.01M305.97 136.61h.01M321.2 138.33h.01M315.18 144.86h.01M307.06 139.35h.01M317.27 138.48h.01M312.62 140.76h.01M316.43 140.78h.01M319.5 140.04h.01M323.6 136.63h.01M313.05 133.78h.01M312 138.33h.01M322.34 134.03h.01M316.58 133.68h.01M322.44 137.1h.01M309 136.64h.01M310.4 139h.01M320.78 138.88h.01M312.43 137.14h.01M323.57 134.98h.01M318.1 135.2h.01M309.77 140.24h.01M323.35 134.88h.01M308.07 137.56h.01M312.41 135.71h.01M313.51 140.36h.01M311.85 138.06h.01M311.08 137.74h.01M314.99 136.91h.01M315.27 135.75h.01M316.12 132.76h.01M316.98 137.49h.01M316.82 137.84h.01M313.64 138.29h.01M311.93 138.05h.01M315.43 133.75h.01M305.93 143.51h.01M316.57 140.01h.01M321.85 136.4h.01M316.15 141.06h.01M310.33 137.4h.01M314.41 139.23h.01M308.82 137.82h.01M310.64 140.77h.01M311.18 140.44h.01M314.25 136.31h.01M318.49 139.84h.01M312.6 141.3h.01M321.69 132.4h.01M318.58 131.83h.01M314.56 140.75h.01M317.16 139.6h.01M313.75 140.22h.01M308.05 144.17h.01M310.77 134.48h.01M319.97 136.16h.01M310.39 137.95h.01M318.3 139.85h.01M311.8 138.88h.01M314.9 137.83h.01M310.49 138.81h.01M306.02 141.11h.01M318.91 137.32h.01M311.5 131.84h.01M312.74 140.92h.01" stroke="#000" stroke-opacity="0.24" stroke-width="0.7" stroke-linecap="round"/>
<path d="M338.63 153.31h.01M338.71 156.81h.01M338.67 148.01h.01M339.86 152.93h.01M338.44 154.46h.01M339.6 158.65h.01M340.71 154.44h.01M337.08 149.94h.01M339.64 159.24h.01M339.11 153.57h.01M340.38 148.19h.01M338.19 155.96h.01M341.27 153.04h.01M339.98 154.99h.01M341.03 149.55h.01M340.48 147.94h.01M332.19 151.57h.01M336.62 157.5h.01M340.73 149.12h.01M341.2 149.99h.01M338.78 152.82h.01M339.3 157.27h.01M340.66 155.4h.01M340.69 155.91h.01M337.37 151.13h.01M337.78 156h.01M338.35 163.34h.01M336.87 149.6h.01M341 159.69h.01M340.31 157.34h.01M342.71 153.62h.01M335.3 151.87h.01M341.48 148.23h.01M339.09 155.01h.01M338.18 156.89h.01M340.51 163.29h.01M340.61 151.56h.01M337.54 150.67h.01M341.48 151.73h.01M338.82 157h.01M337.12 152.83h.01M334.21 149.67h.01M337.52 155.66h.01M342.1 153.93h.01M339.68 154.67h.01M341.82 157.57h.01M339.71 149.96h.01M341.35 155.52h.01M342.19 153.88h.01M344.08 152.56h.01M343.14 154.46h.01M337.66 149.49h.01M338.61 159.69h.01M341.12 156.76h.01M332.82 156.84h.01M340.45 151.8h.01M337.37 153.99h.01M343.48 149.78h.01M337.89 159.45h.01M337.84 152.54h.01M339.25 149.03h.01M339.57 149.16h.01M341.3 154.01h.01M344.94 155.12h.01M342.55 148.79h.01M338.68 155.29h.01M343.54 147.28h.01M341.58 156.37h.01M342.99 156.85h.01M339.14 151.91h.01M335.75 154.78h.01M338.5 162.08h.01M337.41 155.28h.01M334.92 152.42h.01M339.68 157.3h.01M342.77 153.82h.01M336.1 155.83h.01M340.34 155.97h.01M337.18 158.53h.01M339.23 156.8h.01M342.31 156.44h.01M339.74 162.61h.01M339.63 152.82h.01M339.29 159.93h.01M339.31 156.08h.01M342.11 151.95h.01M334.51 155.2h.01M339.6 151.57h.01M341.26 156.43h.01M336.41 156.07h.01M338.49 148.07h.01M340.18 153.82h.01M337.06 156.09h.01M340.27 151.69h.01M340.04 158.06h.01M337.15 155.52h.01M339.01 163.06h.01M334.16 156.78h.01M338.2 153.6h.01M343.94 153.97h.01M344.83 152.23h.01M339.91 152.04h.01M337.2 154.25h.01M338.27 154.81h.01M333.53 162.01h.01M338.57 160.97h.01M336.38 155.17h.01M347.23 150.52h.01M335.11 151.81h.01M340.23 156.77h.01M342.35 152.97h.01M334.83 152.26h.01M342.22 155.86h.01M333.91 153.86h.01M342.64 162.51h.01M340.46 155.24h.01M335.78 150.63h.01M339.12 156.01h.01M340.51 152.09h.01M336 150.89h.01M335.99 156.57h.01M332.99 152.67h.01M340.17 160.09h.01M339.19 158.01h.01M337.96 151.02h.01M337.25 160.11h.01M341.58 155.95h.01M347.66 153.87h.01M340.61 155.23h.01M338.42 163.26h.01M342.92 148.4h.01M337.96 155.71h.01M341.04 148.61h.01M333.14 146.37h.01M338.82 153.59h.01M339.9 150.92h.01M335.82 145.91h.01M339.86 155.48h.01M341.58 157.16h.01M338.5 159.4h.01M338.65 151.36h.01M337.65 151.66h.01M333.37 154.63h.01M339.65 152.55h.01M337.14 155.49h.01M343.46 154.15h.01M337.68 151.63h.01M338.82 148.94h.01M338.67 154.24h.01M343.8 157.77h.01M341.69 151.15h.01M340.74 149.44h.01M339.81 155.67h.01M337.01 162h.01M340.48 146.39h.01M340.44 152.37h.01M339 155.86h.01M340.02 145.84h.01M335.99 157.09h.01M342.38 161.61h.01M343.69 145.78h.01M341 146.33h.01M343.2 155.01h.01M336.03 162.04h.01M340.67 146.44h.01M339.76 151.08h.01M339.29 152.14h.01M342.57 148.31h.01M339.83 161.26h.01M336.85 154.84h.01M339.53 151.24h.01M340.68 154.39h.01M336.55 161.05h.01M341.06 153.33h.01M337.34 150.86h.01M342.2 153.41h.01M340.19 153.26h.01M340.6 153.54h.01M340.99 153.27h.01M341.16 156.69h.01M338.7 150.56h.01M336.56 151.04h.01M336.44 157.46h.01M338.88 160.28h.01M344.93 154.1h.01M334.98 152.47h.01M338.8 148.05h.01M338.35 155.15h.01M337.81 150.93h.01M337.03 161.15h.01M338.58 150.68h.01M338.03 157.82h.01M337.22 155.93h.01M340.89 157h.01M342.64 151.8h.01M341.95 150.83h.01M337.97 158.78h.01M341.14 154.01h.01M335.9 156.25h.01M337.36 150.3h.01M337.31 154.99h.01M333.49 155.44h.01M339.45 151.66h.01M341.7 156.45h.01M337.42 151.32h.01M340.81 147.94h.01M338.14 151.48h.01M339.18 154.84h.01M339.1 158.54h.01M339.59 152.74h.01M335.85 156.89h.01M340.37 159.8h.01M337.06 154.11h.01M338.85 153.65h.01M339.03 147.14h.01M341.14 156.61h.01M341.94 163h.01M338.17 153.86h.01M339.03 161.77h.01M334.5 155.94h.01" stroke="#000" stroke-opacity="0.32" stroke-width="0.7" stroke-linecap="round"/>
<path d="M337.74 156.09h.01M339.48 154.24h.01M339.05 155.38h.01M339.12 155.14h.01M339.8 156.6h.01M340.84 154.84h.01M338.12 156.13h.01M338.62 153.67h.01M341.06 156.37h.01M338.57 154.48h.01M339.48 155.3h.01M339.55 154.81h.01M336.76 152h.01M340.16 155.34h.01M336.35 155.51h.01M339.35 156.15h.01M339 155.51h.01M337.98 152.38h.01M338.69 155.17h.01M338.56 152.45h.01M338.39 153.83h.01M339.82 153.02h.01M337.74 153.93h.01M339.14 156.75h.01M339.5 152.66h.01M337.74 157.44h.01M339.19 154.6h.01M339.47 155.95h.01M341 155.25h.01M338.09 153.4h.01M340.13 154.95h.01M339.18 155.74h.01M337.77 157.58h.01M338.67 154.65h.01M338.66 155.2h.01M338.56 154.43h.01M339.74 157.07h.01M339.85 153.09h.01M338.53 157.22h.01M338.98 155.18h.01M338.73 157.42h.01M338.45 154.25h.01M340.22 152.46h.01M338.44 159.01h.01M338.97 155.58h.01M336.61 154.75h.01M337.78 153.82h.01M338.02 155.1h.01M338.62 156.55h.01M336.25 153.88h.01M339.82 155.54h.01M340.65 154.19h.01M340.16 155.78h.01M337.46 152.13h.01M341.23 156.74h.01M339.13 153.72h.01M336.81 154.38h.01M339.08 157.49h.01M338.57 154.77h.01M338.83 156.63h.01" stroke="#000" stroke-opacity="0.56" stroke-width="0.7" stroke-linecap="round"/>
<path d="M342.48 155.85h.01M333.58 158.38h.01M316.77 146.18h.01M313.64 155.7h.01M337.62 154.64h.01M311.04 161.03h.01M308.34 151.56h.01M319.73 155.25h.01M338.07 146.54h.01M322.49 155.58h.01M313.16 153.54h.01M328.07 147.32h.01M311.62 153.73h.01M323.51 155.11h.01M350.33 158.48h.01M330.9 150.45h.01M336.23 150.09h.01M343.26 159.93h.01M323.9 151.99h.01M312.13 147.87h.01M333.94 151.34h.01M309.18 152.6h.01M336.66 162.41h.01M326.68 152.43h.01M317.15 151.4h.01M331.86 160.27h.01M339.68 152.78h.01M335.73 157.82h.01M330.99 141.75h.01M325.31 152.58h.01M340.6 152.58h.01M330.96 155.31h.01M339.93 157.81h.01M337.32 161.48h.01M336.55 157.91h.01M323.13 154.49h.01M349.79 154.17h.01M331.61 153.62h.01M322.8 139.03h.01M344.83 148.09h.01M316.85 160.77h.01M319.83 144.78h.01M332.77 150.14h.01M324.86 151.85h.01M333.04 165.3h.01M312.19 158.29h.01M318.4 152.22h.01M321.26 158.08h.01M328.7 156.88h.01M334.04 147.08h.01M341.98 152.38h.01M333.53 153.09h.01M328.93 157.23h.01M327.92 159.47h.01M328.39 154.44h.01M311.46 152.04h.01M343.36 144.58h.01M318.43 152.14h.01M338.81 160.19h.01M326.69 154.46h.01M324.22 151.55h.01M320.71 151.67h.01M324.31 154.39h.01M319.01 157.13h.01M325.59 156.67h.01M310.98 150.49h.01M327.02 155.42h.01M324.05 161.7h.01M323.68 161.14h.01M341.35 157.48h.01M330.9 156.77h.01M324.4 148.37h.01M320.26 150.83h.01M321.45 150.33h.01M314.17 154.65h.01M341.65 149.62h.01M305.73 151.1h.01M312.41 148.89h.01M311.7 153.26h.01M331.75 165.25h.01M312.95 146.9h.01M324.06 153.31h.01M343.68 160.49h.01M318.58 143.7h.01M332.26 151.75h.01M341.04 153.36h.01M324.34 148.02h.01M325.5 159.76h.01M317.02 154.99h.01M319.51 158.53h.01M325.37 156.72h.01M329.47 149.56h.01M313.29 160.57h.01M322.17 148.84h.01M318.82 162.3h.01M327.03 159.56h.01M326.93 160.69h.01M322.58 153.73h.01M335.56 163.47h.01M327.84 150.64h.01M337.27 164.64h.01M311.18 149.8h.01M333.14 151.86h.01M329.29 157.53h.01M341.54 147.5h.01M320.13 153.74h.01M330.72 150.28h.01M326.39 150.17h.01M335.58 160.33h.01M317.64 157.02h.01M314.68 156.06h.01M310.37 155.32h.01M338.94 158.65h.01M305.76 154.77h.01M322.22 161.21h.01M330.7 161.45h.01M320.2 148.32h.01M323.12 155.61h.01M324.41 155.29h.01M342.19 148h.01M332.13 160.46h.01M332.03 163.44h.01M322.7 154.89h.01M322.96 152.44h.01M345.89 146.92h.01M319.79 151.54h.01M326.48 152.6h.01M333.18 156.73h.01M346.11 158.46h.01M316.18 146.09h.01M321.68 151.02h.01M323.35 160.74h.01M329.95 147.23h.01M317.47 162.09h.01M312.92 157.75h.01M335.52 148.02h.01M311.77 155.68h.01M329.36 159.14h.01M332.3 149h.01M346.08 154.97h.01M327.6 155.06h.01M309.44 149.95h.01M335.07 157.51h.01M320.53 154.61h.01M320.24 151.24h.01M321.32 148.49h.01M318.12 153.45h.01M326.14 153.26h.01M324.03 156.14h.01M327.39 154.38h.01M321.79 153.72h.01M334.83 157.5h.01M322.85 150.96h.01M318.24 148.67h.01M343.84 149.83h.01M336.33 153.75h.01M333.27 151.1h.01M323.62 159.15h.01M343.45 155.15h.01M338.87 157.63h.01M336.83 155.91h.01M325.55 166.05h.01M322.9 158.48h.01M324.01 156.42h.01M320.24 150.66h.01M324.74 158.29h.01M314.22 161.08h.01M327.19 156.51h.01M319.07 159.68h.01M324.93 156.36h.01M308.53 163.94h.01M335.47 150.7h.01M319.8 155.26h.01M317.64 146.97h.01M325.18 161h.01M333.67 156.6h.01M321.27 162.66h.01M316.31 149.95h.01M313.12 156.42h.01M317.56 154.44h.01M335.55 146.2h.01M317.55 157.32h.01M328.01 153.54h.01M326.66 150.97h.01M329.74 158.32h.01M319.12 150.92h.01M312.89 153.34h.01M338.69 150.83h.01M324.01 161.02h.01M317.23 152.53h.01M325.76 153.33h.01M348.29 153.13h.01M342.1 156.93h.01M348.94 165.16h.01M308.6 156.44h.01M325.42 161.28h.01M345.39 155.61h.01M325.31 157.06h.01M313.89 156.13h.01M332.37 154.86h.01M315.86 158.25h.01M324.16 151.44h.01M330.56 149.76h.01M336.58 153.73h.01M316.18 155.53h.01M348.01 159.55h.01M310.46 149.44h.01M333.2 158.75h.01M324.08 157.88h.01M313.82 158.31h.01M309.58 156.05h.01M340.65 153.52h.01M334.27 142.28h.01M336.01 153.16h.01M334.89 147.41h.01M346.21 155.12h.01M344.73 147.61h.01M316.78 160.87h.01M331.59 149.21h.01M319.01 150.27h.01M337.79 151.1h.01M326.6 159.28h.01M316.87 151.47h.01M318.67 160.21h.01M320.64 159.25h.01M334.32 156.2h.01M335.53 157.76h.01M320.97 158.29h.01M326.38 154.69h.01M323.34 153.29h.01M337.65 156.03h.01M330.14 150.83h.01M328.57 155.27h.01M319.78 146h.01M316.88 156.05h.01M334.27 153.61h.01M332.17 145.36h.01M307.56 156.55h.01M315 163.56h.01M325.6 147.01h.01M334.8 147.66h.01M332.83 150.52h.01M307.28 162.52h.01M317.26 155.71h.01M329.63 149.64h.01M313.59 157.19h.01M343.96 159.04h.01M323.39 153h.01M333.62 156.32h.01M308.11 157.84h.01M331.66 146.2h.01M324.41 148.05h.01M334.72 156.43h.01M325.92 152.85h.01M326.11 154.91h.01M321.51 157.93h.01M319.2 154.41h.01M320.73 153.28h.01M331.07 144.79h.01M306.4 159.4h.01M318.78 148.5h.01M318.21 149.89h.01M341.16 162.19h.01M329.24 164.07h.01M315.69 158.24h.01M318.29 150.83h.01M347.31 153.46h.01M318.52 157.01h.01M345.8 146.28h.01M322.31 156.05h.01M314.04 152.77h.01M312.03 156.41h.01M340.15 154.57h.01M320.17 148.25h.01M340.26 154.07h.01M340.51 150.24h.01M315.36 153.52h.01M328.58 159.39h.01M332.07 153.27h.01M316.22 149.83h.01M332.91 156.02h.01M325.74 156.16h.01M343.17 159.2h.01M320.03 160.95h.01M312.79 154.44h.01M323.27 154.37h.01M331.11 155.13h.01M332.68 146.87h.01M342.35 152.13h.01M328.18 160.53h.01M321.41 150.54h.01M309.27 158.64h.01M326.73 155.2h.01M333.87 151.18h.01M328.89 157.69h.01M321.42 157.47h.01M323.7 154.03h.01M339.66 137.35h.01M328.54 158.89h.01M313.84 159.52h.01M307.12 159.04h.01M334.14 152.74h.01M337.12 158.6h.01M336.52 155.97h.01M332.9 162.82h.01M308.81 159.36h.01M310.77 149.47h.01M316.28 146.42h.01M324.13 145h.01M320.76 155.99h.01M328.24 163.14h.01M339.9 159.66h.01M327.85 154.26h.01M324.22 145.97h.01M328.38 149.32h.01M318.8 146.52h.01M326.69 156.53h.01M334.71 155.59h.01M327.26 150.46h.01M334.06 147.74h.01M334.44 152.85h.01M344.77 152.46h.01M334.41 155.16h.01M333.39 156.98h.01M332.02 150.62h.01M314.75 151.05h.01M334.89 154.48h.01M312.89 153.89h.01M324.1 149.84h.01M350.43 152.73h.01M324.26 156.55h.01M327.73 158.59h.01M314.34 154.66h.01M312.24 149.05h.01M331.78 154.17h.01M313.99 156.21h.01M325.52 145.66h.01M314.31 158.79h.01M322.38 159.74h.01M335.48 147.12h.01M343.52 155.01h.01M326.39 154.07h.01M316.35 167.11h.01M318.11 159.25h.01M328.87 159.81h.01M326.78 149.65h.01M338.89 157.28h.01M328.48 154.56h.01M331.63 157.84h.01M340.55 165.03h.01M318.6 146.21h.01M322.05 150.01h.01M327.77 154.12h.01M332.58 157.73h.01M307.9 152.63h.01M345.01 149.94h.01M312.01 149.27h.01M351.23 150.89h.01M314.07 148.52h.01M337.59 145.45h.01M312.06 152.6h.01M334.9 153.09h.01M306.67 167.81h.01M311.24 153.45h.01M325.05 154.41h.01M308.65 149.8h.01M320.77 154.95h.01" stroke="#000" stroke-opacity="0.24" stroke-width="0.7" stroke-linecap="round"/>
<path d="M327.15 158.29h.01M329.24 156.9h.01M327.79 156.13h.01M327.27 156.98h.01M326.14 159.06h.01M330.5 156.62h.01M330.09 158.67h.01M327.38 154.63h.01M329.52 153.41h.01M329.51 156.93h.01M325.97 151.69h.01M328.29 157.35h.01M328.39 150.93h.01M328.29 156.48h.01M327.51 154.25h.01M324.09 158.67h.01M327.41 153.06h.01M329.91 153.6h.01M328.67 153.33h.01M326.86 155.61h.01M331.59 153.63h.01M325.66 158.26h.01M330.08 156.25h.01M326.19 154.83h.01M323.91 157.94h.01M329.01 157.73h.01M329.36 157.02h.01M329.74 154.15h.01M331.78 156.72h.01M326.05 153.97h.01M327.05 157.64h.01M328.76 158.55h.01M332.54 157.48h.01M329.96 157.68h.01M325.65 155.13h.01M327.08 158.12h.01M324.69 160.69h.01M325.87 154.09h.01M326.17 154h.01M327.78 156.34h.01M331.67 155.28h.01M330 157.55h.01M328.52 151.86h.01M328.58 156.42h.01M325.17 157.7h.01M330.45 157.53h.01M327.57 153.82h.01M328.77 154.39h.01M328.58 154.3h.01M325.75 157.12h.01M326.36 151.99h.01M330.14 157.17h.01M329.23 153.36h.01M327.71 157.89h.01M328.66 155.09h.01M329.6 155.43h.01M324.08 155.6h.01M326.27 153.57h.01M329.62 153.89h.01M330.26 154.54h.01M326.86 155.64h.01M328.83 155.22h.01M327.61 156.63h.01M325.97 154.67h.01M325.18 153h.01M331.2 154.71h.01M328.64 154.34h.01M331.06 157.12h.01M329.95 155.93h.01M329.79 154.47h.01M324.38 158.49h.01M329.43 156.72h.01M327.2 155.22h.01M325.44 155.34h.01M327.92 158.01h.01M327.37 153.02h.01M324.31 154.12h.01M325.06 157.42h.01M330.12 157.72h.01M325.97 153.57h.01" stroke="#000" stroke-opacity="0.42" stroke-width="0.7" stroke-linecap="round"/>
<g transform="rotate(-40 313.3 154.5)">
<ellipse cx="313.3" cy="154.5" rx="7.9" ry="5" fill="#777" stroke="#111" stroke-width="1.3"/>
<ellipse cx="313.3" cy="154.5" rx="6.64" ry="3.8" fill="#e6e6e6" stroke="#9a9a9a" stroke-width="0.35"/>
<ellipse cx="313.3" cy="154.5" rx="5.06" ry="3.2" fill="#151515" stroke="#444" stroke-width="0.4"/>
<ellipse cx="313.3" cy="154.5" rx="3.03" ry="0.7" fill="#8a8a8a"/>
</g>
<path d="M314.24 188.54h.01M318.88 189.74h.01M314.74 188.78h.01M318.5 183.65h.01M321.94 184.02h.01M307.28 183.74h.01M309.95 183.54h.01M319.08 184.94h.01M323.73 184.41h.01M317.8 185.41h.01M317.04 188.73h.01M308.11 188.9h.01M321.58 182.73h.01M316.95 189.75h.01M323.29 184.51h.01M318.25 180.07h.01M311.41 183.98h.01M319.56 184.71h.01M319.31 185.33h.01M311.12 186.02h.01M316.36 184.64h.01M319.21 182.85h.01M316.04 187.55h.01M311.62 185.46h.01M314.59 180.66h.01M323.35 184.37h.01M320.54 183.21h.01M308.09 184.11h.01M318.63 179.98h.01M319.15 185.54h.01M319.66 187.07h.01M308.38 183.14h.01M316.24 183.33h.01M313.12 181.05h.01M319.28 186.11h.01M307.44 184.11h.01M320.29 184.57h.01M317.16 183.36h.01M311.2 185.2h.01M310.65 182.58h.01M314.53 183.57h.01M321.33 185.31h.01M310.46 180.67h.01M308.49 183.75h.01M317.95 184.38h.01M311.87 180.73h.01M313.23 181.61h.01M322.59 185.55h.01M312.4 190.15h.01M322.63 184.58h.01M305.92 188.39h.01M310.69 186.73h.01M307.43 183.11h.01M311.51 181.5h.01M307.08 187.68h.01M310.92 188.66h.01M316.65 185.05h.01M316.34 183.45h.01M312.59 185.52h.01M314.42 182.33h.01M317.81 185.73h.01M321.61 182.87h.01M319.17 186.52h.01M319.88 189.35h.01M312.76 189.86h.01M319.99 183.22h.01M321.42 185.05h.01M306.56 186.92h.01M314.51 183.6h.01M307.46 183.22h.01M320.18 183.16h.01M307.58 181.61h.01M319.32 190.02h.01M307.79 182.92h.01M317.43 188.02h.01M311.14 186.1h.01M323.02 182.91h.01M312.09 185.3h.01M316.49 184.85h.01M307.55 184.83h.01M318.49 181.54h.01M309.23 182.82h.01M323.17 184.25h.01M308.49 189.19h.01M319.46 183.88h.01M315.61 185.57h.01M317.34 184.58h.01M315.09 183.15h.01M314.48 186.75h.01M314.88 183.79h.01M313.33 184.93h.01M323.38 185.59h.01M313.35 186.19h.01M313.12 186.52h.01M316.23 188.13h.01M314.39 183.77h.01M314.52 180.47h.01M309.41 183.95h.01M319.8 185.71h.01M307.6 187.39h.01M316.78 185.69h.01M319.73 185.41h.01M319.75 186.35h.01M309.87 186.04h.01M318.14 191.28h.01M311.7 185.17h.01M306.51 182.61h.01M317.99 181.15h.01M319 185.5h.01M310.96 184.88h.01M306.57 185h.01M314.13 179.94h.01M313.93 182.47h.01M309.5 182.71h.01M314.13 183.47h.01M317.56 189.26h.01M313.41 182.86h.01M314.99 179.84h.01M310.64 182.34h.01M317.39 185.76h.01M314.7 185.71h.01M307.07 190.78h.01M316.03 179.39h.01M321.49 184.74h.01M315.72 188.03h.01M308.1 187.67h.01M309.1 188.87h.01M317.49 185.4h.01M314.54 186.81h.01M318.72 186.91h.01M317.77 185.12h.01M318.72 188.63h.01M318.95 180.05h.01M313.2 188.04h.01M314.89 189.4h.01M315.13 190.07h.01M307.79 185.7h.01M321.87 180.09h.01M313.09 189.8h.01M313.89 185.44h.01M315.93 183.43h.01M312.44 189.68h.01M316.92 182.6h.01M312.93 182.06h.01M320.31 185.43h.01M315.6 186.82h.01M307.98 187.36h.01M314.66 187.07h.01M310.39 183.97h.01M307.05 183.33h.01M310.26 191.01h.01M315.39 184.83h.01M316.2 185.58h.01M309.78 185.14h.01M310.17 185.69h.01M316.01 191.49h.01M318.07 179.34h.01M319.49 184.99h.01M313.92 182.28h.01M318.87 188.56h.01M309.71 187.71h.01M310.6 184.08h.01M322.18 185.68h.01M314.59 179.91h.01M311.9 187.4h.01M310.64 182.93h.01M313.84 181.37h.01M316.54 186.39h.01M322.91 181.98h.01M315.42 187.47h.01M314.07 187.15h.01M315.25 186.55h.01M316.48 181.67h.01M320.89 184.26h.01M310.54 184.36h.01M309.49 186.79h.01M317.35 188.23h.01M314.65 182.36h.01M316.28 185.22h.01M311.8 186.5h.01" stroke="#000" stroke-opacity="0.24" stroke-width="0.7" stroke-linecap="round"/>
<path d="M340 200.84h.01M338.47 197.02h.01M341.86 199.72h.01M340.54 200h.01M342.09 200.88h.01M340.13 203.95h.01M338.46 200.32h.01M338.66 201.34h.01M340.66 201.9h.01M339.29 203.78h.01M339.55 197.43h.01M343.01 195.16h.01M344.76 195.8h.01M335.02 198.6h.01M341.76 198.03h.01M341.28 204.31h.01M337.15 200.59h.01M340.6 202.23h.01M337.22 194.94h.01M337.25 197.93h.01M339.27 201.06h.01M336.93 197.45h.01M337.23 201.58h.01M340.35 202.54h.01M341.8 204.42h.01M337.66 205.17h.01M335.59 202.9h.01M338.81 194.91h.01M343.48 208.17h.01M342.35 195.83h.01M331.93 203.51h.01M339.85 198.61h.01M336.75 194.72h.01M339.12 193.5h.01M334.6 200.05h.01M342.93 203.38h.01M341.92 205.47h.01M341.36 199.06h.01M339.81 201.44h.01M337.26 200.79h.01M338.72 196.21h.01M334.53 200.99h.01M340.94 204.15h.01M342.62 202.26h.01M339.47 199.05h.01M335.38 190.62h.01M338.09 203.14h.01M338.91 207.62h.01M343.54 203.94h.01M338.63 206.86h.01M343.41 196.58h.01M340.34 205.12h.01M336.51 207.52h.01M338.49 203.04h.01M337.94 201.83h.01M339.8 206.37h.01M338.11 202.98h.01M341.14 199.92h.01M340.28 195.9h.01M334.93 199.25h.01M333.97 197.73h.01M338.18 198.41h.01M337.01 197.55h.01M340.32 200.19h.01M331.53 203.71h.01M343.41 203.33h.01M342.32 198.18h.01M343.86 203.13h.01M338.7 205.22h.01M340.06 198.23h.01M339.06 202.74h.01M338.23 202.36h.01M337.07 194.81h.01M342.45 202.47h.01M340.36 195.14h.01M338.65 205.28h.01M337.5 197.13h.01M345.59 200.96h.01M340.52 200.61h.01M342.96 201.72h.01M336.93 199.69h.01M339.22 207.14h.01M339.14 200.45h.01M342.43 204.89h.01M337.47 201.95h.01M341.55 200.02h.01M341.73 202.69h.01M335.41 203.81h.01M339.12 199.56h.01M332.63 202.34h.01M332.75 201.63h.01M343.39 197.29h.01M338.15 199.63h.01M341.53 200.68h.01M337.77 204.89h.01M333.98 199.69h.01M332.44 199.06h.01M339.97 196.08h.01M338.34 205.92h.01M333.94 200.97h.01M338.18 207.14h.01M338.57 198.86h.01M342.2 199.48h.01M336.46 202.15h.01M334.91 205.1h.01M341.98 199.15h.01M335.69 200.21h.01M343.52 206.1h.01M338.39 201.39h.01M339.26 203.94h.01M339.42 198.86h.01M342.57 207.31h.01M336.64 208.61h.01M340.29 201.1h.01M339.74 204.38h.01M336.4 200.25h.01M346.02 199.1h.01M331.04 196.78h.01M344.27 193.72h.01M337.78 200.14h.01M338.13 200.55h.01M330.86 207.09h.01M335.4 204.27h.01M343.49 199.32h.01M336.34 203.82h.01M342.76 205.26h.01M337.41 198.51h.01M333.65 203.82h.01M341.01 201.75h.01M335.31 196.56h.01M334.91 199.73h.01M342.89 201.29h.01M337.9 200.54h.01M336.74 200.51h.01M336.01 206.12h.01M339.25 200.53h.01M342.65 203.57h.01M342.77 198.71h.01M336.32 205.86h.01M339.93 200.32h.01M342.13 201.85h.01M338.16 196.86h.01M337.25 201.29h.01M339.45 201.9h.01M336.71 201.58h.01M336.05 199.09h.01M336.82 206.37h.01M337.27 204.33h.01M334.52 202.48h.01M343.89 200.31h.01M344.01 201.01h.01M334.76 200.26h.01M339.51 201.12h.01M340.49 201.17h.01M342.56 204.62h.01M339.28 197.43h.01M339.69 204.67h.01M340.68 202.74h.01M333 203.51h.01M338.79 199.3h.01" stroke="#000" stroke-opacity="0.32" stroke-width="0.7" stroke-linecap="round"/>
<path d="M308.87 193.95h.01M309.3 203.13h.01M338.31 198.66h.01M324.2 192.97h.01M327.89 199.94h.01M325.83 197.11h.01M325.68 197.96h.01M318.43 205.15h.01M326.8 203.7h.01M310.14 200.66h.01M319.28 207.68h.01M329.68 200.81h.01M325.15 203.14h.01M320.99 196.37h.01M318.3 202.4h.01M329.13 192.69h.01M306.58 204.03h.01M327.19 205.56h.01M333.64 200.06h.01M327.74 202h.01M316.44 192.81h.01M337.89 202.82h.01M318.2 203.7h.01M327.03 205.9h.01M341.68 209.76h.01M330.28 206.88h.01M315.8 195.34h.01M312.79 201.98h.01M332.26 199.8h.01M328.85 205.04h.01M325.29 195.76h.01M322.6 202.28h.01M337.21 206.17h.01M327.62 206.51h.01M326.73 205.3h.01M334.65 211.19h.01M316.96 196.94h.01M328.76 210.43h.01M320.54 199.99h.01M337.37 212.1h.01M321.06 205.63h.01M344.4 206.79h.01M326.39 207.44h.01M323.71 194.87h.01M319.93 203.73h.01M323.06 197.38h.01M340.52 197.53h.01M320.68 199.34h.01M335.33 190.88h.01M323.76 202.47h.01M314.55 199.93h.01M336.78 194.22h.01M313.68 203.57h.01M309.94 201.92h.01M315.68 195.36h.01M329.98 209.84h.01M334.11 202.28h.01M323.66 200.61h.01M318.26 198.35h.01M323.66 202.75h.01M315.48 205.49h.01M345.95 203.86h.01M339.27 200.35h.01M306.75 198.04h.01M316.72 194.92h.01M312.82 201.94h.01M322.61 202.78h.01M328.86 193.71h.01M345.08 201.22h.01M337.24 200.54h.01M332.7 199.29h.01M312.71 194.37h.01M318.44 203.3h.01M335.07 205.73h.01M321.64 206.33h.01M320 198.57h.01M323.34 201.8h.01M316.74 194.06h.01M323.93 204.3h.01M318.04 196.87h.01M333.45 193.4h.01M314.91 202.58h.01M312.99 197.72h.01M312.35 201.95h.01M314.37 206.56h.01M320.16 201.24h.01M319.43 197.74h.01M318.3 206.62h.01M333.69 197.32h.01M313.18 205.12h.01M337.68 193.75h.01M329.93 200.87h.01M315.74 200.09h.01M319.73 204.24h.01M310.47 196.39h.01M323.65 199.39h.01M305.85 202.96h.01M319.3 203.64h.01M316.59 206.39h.01M323.78 203.93h.01M331.8 201.2h.01M324.26 199.32h.01M321.8 204.53h.01M333.8 192.29h.01M331.79 201.71h.01M325.83 203.89h.01M312.42 205.35h.01M313.36 205.61h.01M333.83 204.26h.01M338.86 202.33h.01M321.23 198.55h.01M309.47 201.89h.01M314.49 211.39h.01M335.24 203.14h.01M319.17 201.1h.01M320.48 205.44h.01M318.61 205.14h.01M311.46 209.07h.01M346.7 203.33h.01M345.45 194.48h.01M332.43 204.43h.01M328.28 202.12h.01M335.44 198.78h.01M330.16 211.38h.01M331.45 194.57h.01M324.44 203.35h.01M336.64 205.88h.01M339.48 197.32h.01M325.74 203.96h.01M335.75 193.76h.01M311.41 201.39h.01M331.65 201.9h.01M328.72 200.79h.01M328.28 198.14h.01M325.4 198.13h.01M339.27 205.38h.01M338.18 198.74h.01M339.59 196.76h.01M335.01 196.05h.01M338.31 196.01h.01M316.65 203.84h.01M328.02 199.49h.01M320.85 201.33h.01M333.41 195.68h.01M331.05 196.63h.01M313.15 203.3h.01M319.73 198.72h.01M338.26 202.97h.01M336.2 204.66h.01M335.8 206.23h.01M319.61 200.32h.01M330.15 195.67h.01M334.61 199.26h.01M315.04 201.08h.01M323.24 196.59h.01M314.95 198.46h.01M334.13 213.24h.01M316.25 210.69h.01M316.32 197.98h.01M319.8 203.58h.01M332.51 204.05h.01M332.05 199.92h.01M313.63 201.2h.01M324.89 201.94h.01M325.53 194.98h.01M316.15 197.83h.01M337.14 197.62h.01M322.86 197.73h.01M313.28 204.82h.01M342.7 197.13h.01M331.42 195.86h.01M327.44 192.07h.01M327.61 198.25h.01M326.57 188.22h.01M329.38 193.75h.01M336.11 201.37h.01M342.27 203.39h.01M306.86 193.67h.01M337.08 204.41h.01M347.65 199.61h.01M334 204.52h.01M335.96 200.77h.01M320.62 200.25h.01M346.63 194.8h.01M321.45 202.13h.01M316.01 206.54h.01M337.21 197.96h.01M320.6 202.69h.01M320.96 204.85h.01M331.34 196.15h.01M327.04 197.94h.01M331.98 202.25h.01M340.73 210.83h.01M316.49 201.81h.01M333.45 202.52h.01M320.9 193.68h.01M317.13 199.44h.01M330.64 196.88h.01M326.57 200.35h.01M338.36 198.69h.01M344.32 191.01h.01M328.02 201.85h.01M325.34 204.13h.01M322.39 194.95h.01M320 207.65h.01M326.09 207.8h.01M330.45 200.93h.01M329.71 197.78h.01M323.71 196.42h.01M323.94 200.93h.01M319.71 195.48h.01M325.47 204.42h.01M344.31 205.39h.01M319.29 203.24h.01M332.41 200.39h.01M323.39 202.16h.01M330.26 206.17h.01M331.89 211.02h.01M330.66 209.71h.01M308.35 201.71h.01M335.65 191.33h.01M339.93 196.51h.01M332.55 203.75h.01M310.55 193.37h.01M346.25 195.8h.01M319.35 204.31h.01M308.35 198.49h.01M339.63 201.02h.01M345.17 192.51h.01M323.95 201.11h.01M330.16 195.05h.01M319.03 198.62h.01M324.06 194.08h.01M343.17 202.72h.01M336.66 200.14h.01M317.2 200.5h.01M349.79 206.39h.01M325.21 197.87h.01M341.5 200.12h.01M325.88 196.09h.01M320.31 203.35h.01M310.85 206.03h.01M328.81 202.6h.01M325.47 205.3h.01M349.01 193.96h.01M329.2 197.2h.01M326.48 199.17h.01M323.41 199.39h.01M338.07 203.97h.01M322.11 196.07h.01M336.22 196.43h.01M328.29 201.92h.01M339.79 197.02h.01M330.47 196.85h.01M313.45 200.68h.01M334.18 200.47h.01M331.2 203.34h.01M306.59 205.01h.01M310.73 200.14h.01M342.32 207.42h.01M328.53 196.54h.01M316.44 195.08h.01M344.61 206.75h.01M325.48 199.76h.01M311.5 200.32h.01M328.67 192.26h.01M323.86 206.74h.01M344.04 198.41h.01M311.95 207.36h.01M334.15 205.44h.01M325.62 196.52h.01M308.81 201.37h.01M344.58 212.05h.01M334.59 198.55h.01M332.54 192.48h.01M323.71 203.4h.01M334.61 193.28h.01M322.17 206.75h.01M340.48 206.77h.01M310 206.07h.01M335.01 205.29h.01M317.88 206.9h.01M321.53 201.69h.01M345.61 198.26h.01M345.36 195.01h.01M319.98 196.54h.01M331.84 200.56h.01M313.21 196.46h.01M342.6 192.31h.01M347.71 203.84h.01M331.4 206.33h.01M339.98 202.62h.01M338.04 199.83h.01M321.43 199.84h.01M331.06 195.33h.01M314.87 200.84h.01M323.98 199.18h.01M333.62 201.77h.01M335.16 203.88h.01M307.79 193.89h.01M331.86 197.13h.01M331.81 209.5h.01M331.33 204.61h.01M314.76 199.58h.01M318.18 201.7h.01M314.71 202.04h.01M317.95 194.07h.01M325.72 200.07h.01M334.04 195.46h.01M312.8 197.81h.01M339.94 198.72h.01M309.57 200.14h.01M314.06 201.53h.01M310.84 196.3h.01M328.85 201.94h.01M340.51 203.06h.01M312.52 206.43h.01M327.63 198.65h.01M320.91 196.89h.01M342.18 196.47h.01M313.58 200.58h.01M312.85 197.46h.01M313.09 204.79h.01M337.79 203.94h.01M319.79 201.18h.01" stroke="#000" stroke-opacity="0.24" stroke-width="0.7" stroke-linecap="round"/>
<g transform="rotate(-40 313.9 202.6)">
<ellipse cx="313.9" cy="202.6" rx="7.9" ry="5" fill="#777" stroke="#111" stroke-width="1.3"/>
<ellipse cx="313.9" cy="202.6" rx="6.64" ry="3.8" fill="#e6e6e6" stroke="#9a9a9a" stroke-width="0.35"/>
<ellipse cx="313.9" cy="202.6" rx="5.06" ry="3.2" fill="#151515" stroke="#444" stroke-width="0.4"/>
<ellipse cx="313.9" cy="202.6" rx="3.03" ry="0.7" fill="#8a8a8a"/>
</g>
<clipPath id="cb2"><rect x="388.5" y="27.3" width="47.5" height="188.5"/></clipPath>
<g clip-path="url(#cb2)">
<ellipse cx="420.2" cy="40.7" rx="3.8" ry="2.3" transform="rotate(-35 420.2 40.7)" fill="#e8e8e8" stroke="#777" stroke-width="0.7"/>
<ellipse cx="420.2" cy="40.7" rx="2" ry="0.9" transform="rotate(-35 420.2 40.7)" fill="none" stroke="#999" stroke-width="0.4"/>
<path d="M416 47.5 C 416 44.5 427 44.5 427.5 48.5 C 428 51.1 427 57.1 426 60.1 L 416.5 60.1 C 415.5 57.1 415.5 51.1 416 47.5 Z" fill="#d2d2d2" stroke="#999" stroke-width="0.5"/>
<ellipse cx="421" cy="50.3" rx="3.4" ry="5.9" fill="#a5a5a5"/>
<rect x="418" y="56.1" width="7.5" height="17.5" fill="#b8b8b8"/>
<line x1="420.2" y1="54.1" x2="420.2" y2="73.6" stroke="#111" stroke-width="1.5"/>
<line x1="423.6" y1="54.1" x2="423.6" y2="73.6" stroke="#111" stroke-width="1.5"/>
<line x1="421.9" y1="57.1" x2="421.9" y2="71.6" stroke="#ddd" stroke-width="0.7"/>
<ellipse cx="421.5" cy="73.8" rx="4.2" ry="1.6" fill="#000"/>
<ellipse cx="420.2" cy="88.1" rx="3.8" ry="2.3" transform="rotate(-35 420.2 88.1)" fill="#e8e8e8" stroke="#777" stroke-width="0.7"/>
<ellipse cx="420.2" cy="88.1" rx="2" ry="0.9" transform="rotate(-35 420.2 88.1)" fill="none" stroke="#999" stroke-width="0.4"/>
<path d="M416 94.9 C 416 91.9 427 91.9 427.5 95.9 C 428 97.1 427 103.1 426 106.1 L 416.5 106.1 C 415.5 103.1 415.5 97.1 416 94.9 Z" fill="#d2d2d2" stroke="#999" stroke-width="0.5"/>
<ellipse cx="421" cy="97" rx="3.4" ry="5.55" fill="#a5a5a5"/>
<rect x="418" y="102.1" width="7.5" height="18.9" fill="#b8b8b8"/>
<line x1="420.2" y1="100.1" x2="420.2" y2="121" stroke="#111" stroke-width="1.5"/>
<line x1="423.6" y1="100.1" x2="423.6" y2="121" stroke="#111" stroke-width="1.5"/>
<line x1="421.9" y1="103.1" x2="421.9" y2="119" stroke="#ddd" stroke-width="0.7"/>
<ellipse cx="421.5" cy="121.2" rx="4.2" ry="1.6" fill="#000"/>
<ellipse cx="420.2" cy="134.3" rx="3.8" ry="2.3" transform="rotate(-35 420.2 134.3)" fill="#e8e8e8" stroke="#777" stroke-width="0.7"/>
<ellipse cx="420.2" cy="134.3" rx="2" ry="0.9" transform="rotate(-35 420.2 134.3)" fill="none" stroke="#999" stroke-width="0.4"/>
<path d="M416 141.1 C 416 138.1 427 138.1 427.5 142.1 C 428 154.1 427 159.6 425.5 167.6 L 417 167.6 C 415.5 159.6 415.5 154.1 416 141.1 Z" fill="#a0a0a0" stroke="#666" stroke-width="0.5"/>
<ellipse cx="420.5" cy="151.35" rx="4.4" ry="11.25" fill="#2a2a2a"/>
<ellipse cx="420" cy="154.35" rx="3" ry="3.5" fill="#050505"/>
<line x1="421.2" y1="143.1" x2="421.2" y2="161.6" stroke="#ddd" stroke-width="0.8"/>
<path d="M417 143.1 C 417 151.1 418 161.6 419 167.6 M424.5 141.1 C 425.5 151.1 425 161.6 424 167.6" fill="none" stroke="#333" stroke-width="0.7" stroke-opacity="1"/>
<ellipse cx="421.5" cy="167.8" rx="4.2" ry="1.6" fill="#000"/>
<ellipse cx="420.2" cy="179.4" rx="3.8" ry="2.3" transform="rotate(-35 420.2 179.4)" fill="#e8e8e8" stroke="#777" stroke-width="0.7"/>
<ellipse cx="420.2" cy="179.4" rx="2" ry="0.9" transform="rotate(-35 420.2 179.4)" fill="none" stroke="#999" stroke-width="0.4"/>
<path d="M416 186.2 C 416 183.2 427 183.2 427.5 187.2 C 428 199.2 427 207.8 425.5 215.8 L 417 215.8 C 415.5 207.8 415.5 199.2 416 186.2 Z" fill="#a0a0a0" stroke="#666" stroke-width="0.5"/>
<ellipse cx="420.5" cy="198" rx="4.4" ry="12.8" fill="#2a2a2a"/>
<ellipse cx="420" cy="201" rx="3" ry="3.5" fill="#050505"/>
<line x1="421.2" y1="188.2" x2="421.2" y2="209.8" stroke="#ddd" stroke-width="0.8"/>
<path d="M417 188.2 C 417 196.2 418 209.8 419 215.8 M424.5 186.2 C 425.5 196.2 425 209.8 424 215.8" fill="none" stroke="#333" stroke-width="0.7" stroke-opacity="1"/>
<ellipse cx="421.5" cy="216" rx="4.2" ry="1.6" fill="#000"/>
<ellipse cx="419.5" cy="180.5" rx="3.8" ry="2" transform="rotate(-40 419.5 180.5)" fill="none" stroke="#222" stroke-width="0.9"/>
<path d="M416 186 C 418 183 421 182 424 184" fill="none" stroke="#333" stroke-width="0.8"/>
</g>
<ellipse cx="493.8" cy="57.8" rx="3.4" ry="2.2" transform="rotate(-35 493.8 57.8)" fill="#555" stroke="#222" stroke-width="0.6"/>
<ellipse cx="493.8" cy="57.8" rx="1.4" ry="0.6" transform="rotate(-35 493.8 57.8)" fill="#aaa"/>
<path d="M492 60.5 C 491 63 492 66 494.5 67" fill="none" stroke="#999" stroke-width="0.5" stroke-opacity="1"/>
<circle cx="498.3" cy="68" r="3.1" fill="#f0f0f0" stroke="#888" stroke-width="0.5"/>
<circle cx="498.3" cy="68" r="1.8" fill="none" stroke="#999" stroke-width="0.4"/>
<circle cx="498.3" cy="68" r="0.6" fill="#888"/>
<ellipse cx="497.3" cy="46.9" rx="6.2" ry="4.3" transform="rotate(-35 497.3 46.9)" fill="#666" stroke="#0a0a0a" stroke-width="1.1"/>
<ellipse cx="497.3" cy="46.9" rx="4.4" ry="2.7" transform="rotate(-35 497.3 46.9)" fill="#333" stroke="#111" stroke-width="0.8"/>
<ellipse cx="497.6" cy="46.9" rx="2.4" ry="0.6" transform="rotate(-35 497.6 46.9)" fill="#bbb"/>
<path d="M491 98.7 C 488.5 104.7 491 108.7 493.5 112.7 C 495 111.5 494.5 117.5 497.5 119.5 C 501.5 118.5 503.5 112.5 502 110.7 C 501 105.7 500.5 101.7 499 98.7 Z" fill="#cfcfcf" stroke="#8a8a8a" stroke-width="0.5"/>
<path d="M492.5 100.7 C 491.5 104.7 493 107.7 495 111.7 C 496.5 110.5 496.5 114.5 498 116.5 C 500 115.5 500.5 111.5 499.5 110.7" fill="none" stroke="#777" stroke-width="0.5"/>
<ellipse cx="492.5" cy="104.7" rx="1.6" ry="3" fill="#555"/>
<ellipse cx="497.5" cy="112.5" rx="2" ry="2.6" fill="#eee" stroke="#999" stroke-width="0.4"/>
<ellipse cx="497.3" cy="93.7" rx="6.2" ry="4.3" transform="rotate(-35 497.3 93.7)" fill="#666" stroke="#0a0a0a" stroke-width="1.1"/>
<ellipse cx="497.3" cy="93.7" rx="4.4" ry="2.7" transform="rotate(-35 497.3 93.7)" fill="#333" stroke="#111" stroke-width="0.8"/>
<ellipse cx="497.6" cy="93.7" rx="2.4" ry="0.6" transform="rotate(-35 497.6 93.7)" fill="#bbb"/>
<path d="M491 146.7 C 488.5 152.7 491 156.7 493.5 160.7 C 495 159.5 494.5 165.5 497.5 167.5 C 501.5 166.5 503.5 160.5 502 158.7 C 501 153.7 500.5 149.7 499 146.7 Z" fill="#cfcfcf" stroke="#8a8a8a" stroke-width="0.5"/>
<path d="M492.5 148.7 C 491.5 152.7 493 155.7 495 159.7 C 496.5 158.5 496.5 162.5 498 164.5 C 500 163.5 500.5 159.5 499.5 158.7" fill="none" stroke="#777" stroke-width="0.5"/>
<ellipse cx="492.5" cy="152.7" rx="1.6" ry="3" fill="#555"/>
<ellipse cx="497.5" cy="160.5" rx="2" ry="2.6" fill="#eee" stroke="#999" stroke-width="0.4"/>
<ellipse cx="497.3" cy="141.7" rx="6.2" ry="4.3" transform="rotate(-35 497.3 141.7)" fill="#666" stroke="#0a0a0a" stroke-width="1.1"/>
<ellipse cx="497.3" cy="141.7" rx="4.4" ry="2.7" transform="rotate(-35 497.3 141.7)" fill="#333" stroke="#111" stroke-width="0.8"/>
<ellipse cx="497.6" cy="141.7" rx="2.4" ry="0.6" transform="rotate(-35 497.6 141.7)" fill="#bbb"/>
<path d="M491 194 C 488.5 200 491 204 493.5 208 C 495 207.5 494.5 213.5 497.5 215.5 C 501.5 214.5 503.5 208.5 502 206 C 501 201 500.5 197 499 194 Z" fill="#cfcfcf" stroke="#8a8a8a" stroke-width="0.5"/>
<path d="M492.5 196 C 491.5 200 493 203 495 207 C 496.5 206.5 496.5 210.5 498 212.5 C 500 211.5 500.5 207.5 499.5 206" fill="none" stroke="#777" stroke-width="0.5"/>
<ellipse cx="492.5" cy="200" rx="1.6" ry="3" fill="#555"/>
<ellipse cx="497.5" cy="208.5" rx="2" ry="2.6" fill="#eee" stroke="#999" stroke-width="0.4"/>
<ellipse cx="497.3" cy="189" rx="6.2" ry="4.3" transform="rotate(-35 497.3 189)" fill="#666" stroke="#0a0a0a" stroke-width="1.1"/>
<ellipse cx="497.3" cy="189" rx="4.4" ry="2.7" transform="rotate(-35 497.3 189)" fill="#333" stroke="#111" stroke-width="0.8"/>
<ellipse cx="497.6" cy="189" rx="2.4" ry="0.6" transform="rotate(-35 497.6 189)" fill="#bbb"/>
<path d="M390.82 321.84h.01M386.12 318.84h.01M385.75 318.76h.01M406.88 301.48h.01M396.9 312.94h.01M400.49 306.85h.01M397.99 320.6h.01M396.66 308.12h.01M389.39 315.12h.01M396.68 309.83h.01M391.85 314.35h.01M393.01 311.66h.01M400.57 310.98h.01M390.02 318.93h.01M386.65 306.96h.01M391.72 303.99h.01M385.28 310.86h.01M391.55 300.86h.01M389.2 331.15h.01M393.24 302.55h.01M388.22 301.22h.01M396.67 312.28h.01M391.41 309.56h.01M397.36 312.42h.01M391.51 310.78h.01M412.87 307.07h.01M394.38 293.28h.01M403.49 301.47h.01M388.41 313.26h.01M382.71 315.71h.01M398.44 297.93h.01M395.59 312.98h.01M387.68 314.93h.01M385.4 324.13h.01M382.1 308.06h.01M399.79 310.43h.01M380.34 304.14h.01M392.81 301.22h.01M390.39 322.17h.01M390.18 319.28h.01M410.65 312.16h.01M394.59 309.69h.01M393.53 317.72h.01M389.47 317.49h.01M386.44 320.47h.01M393.81 314.62h.01M390.99 305.07h.01M393.13 305.34h.01M395.37 310.27h.01M397.29 296.47h.01M397.3 326.88h.01M394.87 309.01h.01M380.67 299.81h.01M406.22 291.91h.01M390.35 324.65h.01M389.24 318.01h.01M396.02 306.72h.01M385.92 326h.01M386.16 302.26h.01M384 316.87h.01M401.98 313.02h.01M398.16 311.43h.01M387.66 312.76h.01M387.83 305.41h.01M405.38 296.7h.01M386.95 323.79h.01M408.66 307.11h.01M381.84 306.34h.01M387.15 313.28h.01M398.24 323.43h.01M400.93 311.07h.01M388.43 327.09h.01M381.86 303.39h.01M392.35 314.05h.01M401.52 317.71h.01M387.92 311.58h.01M390.61 317.68h.01M397.58 317.86h.01M396.99 325.27h.01M390.85 323.32h.01M394.82 313.39h.01M391.08 301.65h.01M382.27 317.51h.01M393.88 328.35h.01M387.03 324h.01M393.75 312.26h.01M388.49 302.46h.01M392.55 306.45h.01M396.26 304.11h.01M395.87 308.1h.01M400.79 302.8h.01M397.53 309.87h.01M389.47 310.31h.01M393.36 312.42h.01M394.89 327.63h.01M388.72 307.27h.01M383.91 300.24h.01M394.74 317.33h.01M401.52 310.65h.01M395.57 307.09h.01M390.95 314.62h.01M398.42 303.45h.01M396.76 321.56h.01M389.46 302.87h.01M381.11 317.41h.01M390.63 317.32h.01M398.29 317.53h.01M394.31 310.94h.01M404.65 319.33h.01M388.8 308.47h.01M400.51 302.59h.01M391.59 314.87h.01M397.49 313.04h.01M388.31 325.05h.01M389.5 320.11h.01M388.78 318h.01M397.85 307.19h.01M392.34 315.75h.01M386.85 303.21h.01M395.72 314.27h.01M393 299.4h.01M389.67 314.55h.01M391.84 304.95h.01M394.18 312.14h.01M386.2 310.84h.01M392.75 315.08h.01M397.5 315.18h.01M390.63 300.74h.01M398.08 300.1h.01M386.92 305.74h.01M382.88 311.51h.01M394.55 313.66h.01M395.01 314.32h.01M404.22 305.2h.01M390.74 304.88h.01M400.96 305.58h.01M385.82 311.86h.01M413.74 314.22h.01M398.9 313.77h.01M388.07 304.26h.01M398.29 310.3h.01M394.26 316.04h.01M398.43 320.21h.01M391.12 317.65h.01M393 316h.01M391.14 315.18h.01M394.78 320.77h.01M381.07 305.05h.01M387.89 318.52h.01M389.11 314.07h.01M398.43 300.05h.01M397.35 327.23h.01M386.3 325.22h.01M405.92 310.46h.01M382.77 312.12h.01M384.43 314.24h.01M402.9 302.64h.01M389.96 293.42h.01M385 299.49h.01M390.24 310.89h.01M389.42 313.6h.01M390.17 311.14h.01M385.6 306.54h.01M395.83 330.78h.01M394.95 302.52h.01M386.51 309.54h.01M384.13 326.24h.01M398.7 306.01h.01M382.53 331.4h.01M387.52 315.13h.01M384.36 305.8h.01M394.54 303.5h.01M391.87 324.35h.01M389.23 322.39h.01M406.33 299.43h.01M394.41 329.48h.01M402.19 298.51h.01M395.07 327.15h.01M401.96 307.04h.01M392.72 309.47h.01M391.12 321.33h.01M399.06 310.94h.01M388.88 317.4h.01M401.07 307.04h.01M389.25 309.21h.01M400.27 318.87h.01M393.63 310.55h.01M391.23 308.43h.01M388.32 311.34h.01M392.15 306.79h.01M390.97 294.99h.01M392.51 312.98h.01M389.95 313.37h.01M391.61 318.92h.01M402.91 320.77h.01M403.86 324.68h.01M391.59 313.21h.01M393.22 312.34h.01M402.98 310.24h.01M380.28 321.34h.01M383.44 311.73h.01M388.33 324.59h.01M416.26 312.7h.01M392.39 299.27h.01M397.1 313.06h.01M394.43 313.07h.01M404.49 317.9h.01M391.17 294.81h.01M397.38 306.75h.01M392.97 313.51h.01M395.37 306.95h.01M385.35 305.59h.01M396.85 324.48h.01M391.15 322.45h.01M394.02 311.35h.01M401.79 320.26h.01M388.16 306.3h.01M383.87 310.3h.01M393.05 325.77h.01M395.27 313.26h.01M387.44 315.19h.01M395.86 298.88h.01M394.88 299.62h.01M398.96 322.65h.01M399.25 301.65h.01M405.3 335.87h.01M381.99 309.79h.01M386.92 317.93h.01M381.22 314.88h.01M395.66 320.97h.01M395.29 314.48h.01M407.28 298.53h.01M385.8 309.78h.01M383.73 308.2h.01M387 317.27h.01M388.19 320.34h.01M393.89 315.59h.01M382.88 316.11h.01M394.33 306.08h.01M387.97 305.67h.01M406.19 306.56h.01M405.35 304.52h.01M394.01 305.99h.01M400.46 306.56h.01M385.18 308.12h.01M389.75 307.57h.01M393.14 309h.01M391.75 324.26h.01M407.38 322.61h.01M398.59 309.64h.01M384.18 312.55h.01M391.61 320.39h.01M383.17 317.6h.01M402.08 297.92h.01M398.88 315.05h.01M403.56 305.92h.01M388.92 316.03h.01M386.64 314.8h.01M392.87 308.89h.01M400.67 319.86h.01M390.52 314.89h.01M395.87 309.68h.01M396.35 308.41h.01M385.75 316.04h.01M388.4 314.34h.01M390.4 300.6h.01M383.49 312.58h.01M386.9 304.63h.01M400.94 317.73h.01M389.83 309.26h.01M383.99 314.63h.01M382.41 323.3h.01M384.09 320.86h.01M389.77 323.29h.01M380.3 323.45h.01M384.98 313.25h.01M403.08 311.22h.01M399.38 295.77h.01M385.86 305.98h.01M379.9 312.8h.01M395.47 309.36h.01M383.93 319.64h.01M387.39 311.71h.01M383.25 310.08h.01M394.04 322.86h.01M396.92 305.5h.01M389.96 307.89h.01M383.43 318.64h.01M402.24 307.06h.01M391.07 298.32h.01M397.39 291.44h.01M390.44 307.18h.01M384.14 313.37h.01M401.27 305.45h.01M384.13 304.82h.01M387.8 317.22h.01M393.81 313.1h.01M388.5 310.62h.01M405.21 303.48h.01M394.32 321.32h.01M396.6 308.75h.01M398.33 291.62h.01M401.96 315.03h.01M392.55 308.65h.01M383.76 296.3h.01M402.67 301.95h.01M383.09 323.29h.01M397.65 312.4h.01M383.63 314.95h.01M398.21 310.31h.01M400.32 325.51h.01M389.75 318.24h.01M405.16 315.62h.01M402.04 307.56h.01M388.53 317.81h.01M387.05 311.97h.01M396.04 314.96h.01M387.07 318.68h.01M397.88 315.5h.01M397.51 315.45h.01M388.98 316.29h.01M396.52 302.27h.01M390.19 315.88h.01M396.21 304.33h.01M390.34 311.72h.01M386.11 327.29h.01M399.9 294.86h.01M384.44 300.75h.01M391.07 307.5h.01M383.67 317.9h.01M394.4 307.88h.01M384.58 315.12h.01M397.16 307.83h.01M392.58 319.08h.01M395.36 299.35h.01M390.24 306.25h.01M392.94 330.24h.01M387.54 307h.01M391.23 333.51h.01M389.14 318.41h.01M399.14 304.12h.01M386.33 331.32h.01M386.39 311.95h.01M391.93 301.35h.01M394.29 320.7h.01M398.17 336.88h.01M384.12 309.25h.01M399.74 303.28h.01M401.36 302.07h.01M381.61 326.61h.01M382.61 306.36h.01M393.72 304.79h.01M402.3 303.49h.01M390.87 314.42h.01M390.38 319.16h.01M391.18 317.25h.01M386.21 316.03h.01M397.85 301.99h.01M383.81 311.35h.01M400.02 309.24h.01M395.31 308.51h.01M400.9 308.48h.01M383.99 308.03h.01M391.12 311.31h.01M395.77 306.49h.01M392.44 308.14h.01M401.4 300.56h.01M398.82 305.25h.01M385.48 302.68h.01M395.95 307.03h.01M393.36 313.75h.01M402.95 303h.01M391.72 322.56h.01M393.55 297.41h.01M398.09 295.72h.01M389.18 318.8h.01M394.01 314.4h.01M389.29 311.23h.01M391.54 316.71h.01M386.34 298.79h.01M401.75 322.64h.01M395.29 297.68h.01M396.63 309.76h.01M387.94 315.99h.01M387.61 311.13h.01M394.26 310.6h.01M385.32 307.09h.01M398.73 323.87h.01M390.04 318.9h.01M381.12 322.87h.01M401.42 326.28h.01M403.53 304.66h.01M390.75 299.07h.01M389.74 335.32h.01M390.56 297.37h.01" stroke="#000" stroke-opacity="0.22" stroke-width="0.7" stroke-linecap="round"/>
<path d="M402.83 305.59h.01M403.5 304.72h.01M408.13 304.28h.01M400.86 307.16h.01M406.14 308.26h.01M406.32 307.1h.01M411.06 307.23h.01M405.52 309.22h.01M407.61 303.23h.01M400.94 309.69h.01M407.71 310.89h.01M407.12 308.75h.01M406.16 300.38h.01M404.94 307.81h.01M410.45 302.99h.01M406.67 304.45h.01M410.71 306.82h.01M405.95 307.76h.01M407.28 306.97h.01M407.91 307.36h.01M406.39 302.99h.01M407.73 305.63h.01M405.02 305.37h.01M409.17 303.47h.01M407.29 309.4h.01M407.46 305.35h.01M405.5 306.31h.01M404.75 306.52h.01M413.17 306.47h.01M407.83 301.16h.01M405.72 303.26h.01M405.84 309.26h.01M408.16 302.66h.01M403.25 305.44h.01M408.49 303.07h.01M406.88 309.95h.01M402.1 304.71h.01M405.67 302.46h.01M407.75 306.66h.01M408.25 303.76h.01M405.65 303.53h.01M408.27 309.84h.01M407.69 306.64h.01M410.83 305.62h.01M402.7 309.5h.01M408.63 310.53h.01M407.67 310.18h.01M407.02 304.36h.01M401.54 309.34h.01M402.96 305.86h.01M409.02 306.36h.01M401.44 305.18h.01M413.15 310.69h.01M402.76 302.43h.01M408.76 304.09h.01M405.62 302.71h.01M406.23 307.33h.01M406.48 303.93h.01M408.86 308.07h.01M403.3 307.01h.01M412.54 308.59h.01M407.12 302.6h.01M404.68 310.8h.01M406.96 303.59h.01M410.9 302.93h.01M405.59 306.89h.01M413.13 304.46h.01M402.31 306.49h.01" stroke="#000" stroke-opacity="0.21" stroke-width="0.7" stroke-linecap="round"/>
<path d="M379.8 300.7 C 384 299.9 391 299.9 393.5 301.2 C 394.5 303.7 392 308.7 390 313.7 L 389.3 315.7 C 384 311.7 381 307.7 379.8 306.7 Z" fill="#c8c8c8" stroke="#111" stroke-width="0.9"/>
<path d="M381.5 301.7 C 385 301.1 390 301.1 392 302.2 C 392.5 304.7 391 308.7 389.5 312.2 C 386 309.7 383 307.2 381.5 305.7 Z" fill="#f4f4f4" stroke="#555" stroke-width="0.5"/>
<ellipse cx="387.4" cy="304" rx="4.2" ry="2.3" fill="#111"/>
<ellipse cx="388" cy="304.2" rx="1.6" ry="0.8" fill="#777"/>
<path d="M388.6 314.7 L 388.6 328.7 M390.2 314.7 L 390.2 328.7" stroke="#222" stroke-width="0.9"/>
<ellipse cx="389.4" cy="325.7" rx="1.2" ry="2.6" fill="#fff" stroke="#111" stroke-width="0.8"/>
<path d="M389.4 328.2 L 389.4 330.7" stroke="#333" stroke-width="0.6"/>
<path d="M395.01 362.3h.01M388.28 348.43h.01M389.03 352.2h.01M396.6 352.07h.01M393.55 362h.01M393.73 355.91h.01M398.41 351.37h.01M395.54 354.05h.01M394.62 352.86h.01M393.23 356.68h.01M394.86 362.58h.01M393.1 359.02h.01M404.07 365.01h.01M415.35 356.19h.01M397.15 349.56h.01M396.73 344.08h.01M394.99 348.3h.01M393.95 350.33h.01M393.22 364.03h.01M388.02 365.46h.01M387.11 375.13h.01M385.77 356.6h.01M410.15 353.96h.01M400.87 361.37h.01M390.94 349.62h.01M406.48 354.9h.01M404.92 352.8h.01M394.92 361.38h.01M390.11 361.56h.01M381.21 353.06h.01M382.31 353.39h.01M411.35 378.89h.01M400.77 358.2h.01M388.68 346.22h.01M389.59 352.98h.01M388.53 364.27h.01M388.82 375.81h.01M389.87 346.56h.01M398.07 358.64h.01M380.91 359.38h.01M382.75 368.13h.01M401.2 370.42h.01M408.36 352.57h.01M393.02 354.94h.01M390.95 366.56h.01M400.79 359.11h.01M402.18 356.04h.01M394.58 352.61h.01M395.79 361.5h.01M383.64 371.67h.01M393.57 353.06h.01M390.04 362.73h.01M386.68 364.31h.01M395.85 356.08h.01M387.5 353.47h.01M385.95 343.24h.01M393.69 368.64h.01M404.66 353.93h.01M387.08 359.12h.01M383.87 352.07h.01M387.85 359.32h.01M390.73 361.47h.01M387.32 370.33h.01M400.23 353.97h.01M386.13 368.3h.01M397.62 352.81h.01M396.54 357.42h.01M395.42 353.39h.01M388.56 357.93h.01M393.16 353.04h.01M389.75 358.21h.01M395.02 366.59h.01M385.48 358.68h.01M396.2 353.65h.01M393.03 357.46h.01M384.68 360.05h.01M397.42 351.65h.01M394.06 361.2h.01M394.18 340.79h.01M393.01 369.03h.01M387.05 359.52h.01M400.66 351.5h.01M389.27 371.33h.01M394.36 343.3h.01M395.59 356.15h.01M390.72 361.08h.01M385.27 364.73h.01M408.7 356.78h.01M382.75 354.16h.01M395.13 341.25h.01M393.63 358.12h.01M394.88 344.2h.01M389.78 348.01h.01M407.53 355.81h.01M390.74 354.81h.01M390.97 377.55h.01M389.91 362.41h.01M389.44 354.5h.01M390.97 353.86h.01M397.57 363.44h.01M410.72 362.6h.01M402.5 365.27h.01M392.66 350.87h.01M411.07 369.93h.01M398.52 354.52h.01M394.69 367.28h.01M404.76 360.4h.01M404.97 354.38h.01M397.13 348.17h.01M409.68 358.62h.01M389.58 363.12h.01M402.44 363.07h.01M402.46 368.08h.01M397.28 357.1h.01M395.29 359.47h.01M385.51 362.23h.01M390.62 340.05h.01M392.63 376.5h.01M394.08 351.75h.01M387.13 345.37h.01M383.88 363.14h.01M386.9 384.45h.01M403.74 361.22h.01M405.34 371.38h.01M393.9 355.22h.01M391.68 360.14h.01M381.43 382.83h.01M386.95 355.49h.01M419.51 350.55h.01M396.2 371.52h.01M386.59 340.05h.01M407.84 361.83h.01M390.54 367.53h.01M387.71 366.89h.01M391.12 361.32h.01M390.14 368.91h.01M388.89 344.56h.01M401.12 347.2h.01M399.24 374.85h.01M405.65 353.97h.01M390.46 358.67h.01M381.98 371.31h.01M394.28 376.41h.01M392.87 346.05h.01M403.86 370.88h.01M392.26 358.76h.01M389.53 369.79h.01M389.92 365.34h.01M391.08 358.68h.01M391.47 344.16h.01M405.55 343.01h.01M392.15 352.69h.01M402.61 350.58h.01M395.95 352.52h.01M392.42 361.2h.01M389.57 364.35h.01M390.66 353.88h.01M402.16 348.91h.01M391.66 357.55h.01M393.12 369.75h.01M397.21 359.31h.01M397.93 382.09h.01M394.18 368.91h.01M398.92 374.01h.01M406.52 362.88h.01M395.06 362.18h.01M388.12 349.5h.01M396.72 351.71h.01M393.07 342.17h.01M397.71 364.49h.01M401.6 357.57h.01M386.78 365.64h.01M385.94 349.98h.01M392.55 374.33h.01M389.24 375.37h.01M394.33 359.91h.01M396.91 344.58h.01M407.28 367.38h.01M391.07 357h.01M390.78 361.67h.01M391.3 372.05h.01M390.8 347.76h.01M386.61 368.31h.01M392 367.5h.01M392.84 362.41h.01M410.34 347.49h.01M400.85 360.21h.01M406.27 345.69h.01M394.58 350.74h.01M400.2 373.82h.01M397.58 367.19h.01M389.22 356.93h.01M400.75 358.2h.01M392.91 353.94h.01M403.81 348.03h.01M401.02 361.49h.01M401.87 360.67h.01M407.49 360.49h.01M398.83 358.39h.01M403.69 370.3h.01M400.75 363.47h.01M395.28 353.56h.01M391.14 375h.01M401.45 372.65h.01M388.92 369.27h.01M399.16 369.57h.01M387.9 359.58h.01M397.61 352.15h.01M396.13 368h.01M385.43 354.5h.01M396.81 358.01h.01M398.29 366.31h.01M403.52 352.73h.01M401.2 360.77h.01M388.76 365h.01M394.81 366.98h.01M391.25 365.27h.01M397.72 361.21h.01M396.62 372.93h.01M415.89 355.23h.01M390.26 354.7h.01M384.62 368h.01M391.46 347.68h.01M394.4 367.02h.01M384.35 368.44h.01M397.51 351.75h.01M393.03 364.37h.01M389.34 359.83h.01M387.9 358.83h.01M384.06 355.65h.01M388.62 364.55h.01M381.2 369.21h.01M391.29 350.45h.01M382.32 355.76h.01M386.86 371.13h.01M381.57 361.67h.01M384.24 359.68h.01M380.89 370.88h.01M390.84 353.21h.01M405.11 346.58h.01M390.85 360.74h.01M395.75 368.44h.01M388.48 360.72h.01M399 358.31h.01M391.47 357.54h.01M395.56 373.27h.01M391.64 373.15h.01M395.18 355.65h.01M385.51 365.57h.01M399.25 358.58h.01M393.32 363.51h.01M383.13 354.35h.01M386 355.09h.01M409.02 347.92h.01M390.56 355.24h.01M402.48 364.27h.01M396.08 376.65h.01M397.82 360.04h.01M385.36 351.08h.01M389.07 352.75h.01M394.45 359.81h.01M397.57 350.7h.01M380.51 366.99h.01M396.96 356.6h.01M393.14 369.49h.01M391.5 368.13h.01M409.24 362.25h.01M387.48 361.27h.01M391.37 358.19h.01M401.2 361.95h.01M380.82 364.76h.01M393.83 358.11h.01M390.62 364.93h.01M387.84 353.05h.01M405.48 347.26h.01M403.68 362.41h.01M406.56 350.28h.01M385.69 356.54h.01M399.53 360.15h.01M401.16 372.75h.01M407.83 367.19h.01M413.23 345.37h.01M400.22 347.67h.01M396.32 353.94h.01M388.2 344.75h.01M395.01 364.49h.01M401.1 354.84h.01M394.93 372.04h.01M391.43 361.6h.01M391.35 371.52h.01M391.94 355.73h.01M383.89 357.35h.01M393.03 362.06h.01M394.81 356.85h.01M406.89 348.61h.01M406.49 358.28h.01M393.63 355.1h.01M391.28 346.89h.01M397.4 353.92h.01M405.36 372.95h.01M386.08 357.18h.01M394.28 350.81h.01M404.51 373.61h.01M394.73 372.97h.01M401.93 341.38h.01M398.48 356.41h.01M398.33 378.03h.01M401.35 360.26h.01M387.48 348.02h.01M393.58 366.4h.01M387.52 354.66h.01M386.53 357.81h.01M391.42 371.95h.01M387.64 366.55h.01M399.52 353.25h.01M388.11 370.23h.01M404.28 346.12h.01M393.08 378.86h.01M395.54 353.1h.01M398.19 366.21h.01M385.82 355.77h.01M397.94 367.32h.01M391.21 359.38h.01M400.64 351.89h.01M386.31 367.03h.01M402.81 346.2h.01M400.26 356.94h.01M401.38 370.8h.01M390.1 365.88h.01M391.59 361.74h.01M379.69 369.68h.01M387.14 361.81h.01M392.52 377.22h.01M382.93 347.56h.01M398.18 375.06h.01M400.35 365.09h.01M388.74 354.75h.01M416.39 350.27h.01M409.66 357.5h.01M388.2 362.85h.01M392.32 349.71h.01M409.13 360.86h.01M387.66 371.1h.01M393.85 357.83h.01M400.65 369.61h.01M386.64 367.7h.01M398.87 354.45h.01M413.47 347.79h.01M400.25 353.91h.01M402.01 351.84h.01M400.23 353.88h.01M403.16 368.66h.01M395.4 363.88h.01M400.65 348.43h.01M388.75 341.03h.01M390.21 349.69h.01M397.39 359.24h.01M389.37 353.42h.01M410.45 353.47h.01M395.41 370.54h.01M399.73 341.72h.01M398.1 350.96h.01M407.96 359.27h.01M384.31 382.05h.01M390.77 354.69h.01M406.75 355.07h.01M407.15 358.48h.01M386.02 368.88h.01M390.04 347.71h.01M393.94 348.51h.01M390.25 340.64h.01M403.83 353.18h.01M398.3 352.21h.01M380.18 370.16h.01M405.69 373.03h.01M399.82 364.31h.01M386.06 353.7h.01M402.48 360.91h.01M388.15 354h.01M383.44 350.75h.01M399.39 355.29h.01M416.28 346.19h.01M394.96 351.34h.01M382.62 363.54h.01M400.82 368.36h.01M397.25 348.86h.01M394.31 356.03h.01M397.79 365.09h.01M406.56 354.3h.01M395.73 355.37h.01M396.86 369.54h.01M386.26 358.4h.01M392.88 366.38h.01M391.48 353.68h.01M407.67 356h.01M394.82 356.12h.01M393.97 355.2h.01M396.56 366.24h.01M405.79 369.34h.01" stroke="#000" stroke-opacity="0.22" stroke-width="0.7" stroke-linecap="round"/>
<path d="M409.02 354.36h.01M406.09 351.98h.01M413.96 351.81h.01M406.8 350.37h.01M408.32 351.65h.01M404.09 351.87h.01M408.33 358.09h.01M407.17 352.31h.01M411.14 353.36h.01M403.9 352.86h.01M403.4 357.2h.01M408.63 347.99h.01M405.53 350.72h.01M405.01 355.84h.01M401.44 357.66h.01M408.25 351.78h.01M406.89 354.34h.01M408.21 353.09h.01M405.13 354.63h.01M402.05 355.06h.01M409.24 350.51h.01M409.76 349.14h.01M403.13 351.29h.01M411.33 350.76h.01M402.54 358.52h.01M404.94 350.87h.01M403.79 356.62h.01M409.63 357.6h.01M404.94 347.95h.01M407.99 357.12h.01M402.12 352.32h.01M406.57 353.71h.01M411.53 358.71h.01M406.6 353.3h.01M404.89 351.72h.01M405.75 354.45h.01M409.73 349.98h.01M407.56 357.11h.01M408.46 357.61h.01M409.38 347.9h.01M407.95 354.94h.01M400.95 349.44h.01M404.98 354.41h.01M410.18 355.18h.01M410.64 350.6h.01M402.39 353.86h.01M407.72 355.47h.01M406.44 358.03h.01M406.3 352.75h.01M409.01 354.23h.01M411.52 352.84h.01M412.87 350.42h.01M406.76 355.9h.01M407.98 358.14h.01M410.28 355.33h.01M407.9 349.11h.01M406.13 355h.01M410.26 348.65h.01M403.75 350.6h.01M409.76 355.05h.01M406.16 356.75h.01M406.03 357.28h.01M406.94 354.28h.01M408.57 354.91h.01M405.11 350.23h.01M401.44 351.42h.01M406.26 351.73h.01M410 358.78h.01M406.47 350.71h.01M405.26 349.34h.01" stroke="#000" stroke-opacity="0.21" stroke-width="0.7" stroke-linecap="round"/>
<path d="M381 356.5 C 382 366.5 395 364.5 398 363.5 C 402 365.5 404 369.5 401 371.5 C 398 373.5 395 375.5 392 376.5" fill="none" stroke="#555" stroke-width="0.5"/>
<ellipse cx="381.8" cy="365.5" rx="1.2" ry="2" fill="none" stroke="#666" stroke-width="0.5"/>
<path d="M381.5 348.5 C 383 345.5 394 345.5 396 348.5 C 397 352.5 393 358.5 392.5 364.5 L 391.5 375 C 390.5 378 388.5 378 387.5 375 L 386 364.5 C 384.5 358.5 381 352.5 381.5 348.5 Z" fill="#d6d6d6" stroke="#333" stroke-width="0.7"/>
<path d="M384 348.5 C 386 347 391 347 393.5 348.5 C 393 352.5 391 358.5 390.5 373 L 388.5 373 C 388 358.5 385.5 352.5 384 348.5 Z" fill="#a0a0a0" stroke="#222" stroke-width="0.6"/>
<ellipse cx="388.3" cy="350" rx="4" ry="2.2" fill="#111"/>
<path d="M389.2 351.5 L 389.2 370" stroke="#ccc" stroke-width="0.7"/>
<path d="M396.7 412.36h.01M393.43 390.55h.01M391.16 394.97h.01M394.67 393.94h.01M398.76 409.29h.01M407.54 410.7h.01M397.98 401.84h.01M387.64 418.83h.01M393.25 409.91h.01M394.43 412.2h.01M396.26 426.33h.01M393.72 399.66h.01M389.86 400.78h.01M399.02 404.82h.01M393.33 393h.01M396.74 420.66h.01M396.41 401.08h.01M382.55 408.6h.01M394.98 401.8h.01M383.39 395.44h.01M393.3 393.93h.01M389.68 416.15h.01M385.68 403.05h.01M396.05 397.72h.01M380.21 406.07h.01M397.75 387.07h.01M388.9 398.91h.01M400.81 388.36h.01M389.37 389.51h.01M383.87 403.61h.01M388.57 401.98h.01M385.76 388.51h.01M397.99 417.46h.01M391.03 400.1h.01M400.94 408.29h.01M393.16 412.11h.01M384.65 395.49h.01M391.93 392.84h.01M391.44 405.74h.01M395.46 408.37h.01M380.97 402.23h.01M393.77 413.15h.01M398.52 400.96h.01M389.77 392.34h.01M387.72 395.86h.01M381.56 400.59h.01M398.64 418.17h.01M393.52 402.5h.01M393.7 410.95h.01M395.19 407.26h.01M389.74 400.92h.01M407.44 413.36h.01M384.87 410.98h.01M385.66 405.84h.01M387.59 406.18h.01M387.33 401.21h.01M394.93 409.37h.01M387.58 408.58h.01M390.89 398.83h.01M398.97 404.39h.01M391.25 411.6h.01M386.48 424.42h.01M400.94 403.93h.01M392.11 405.75h.01M397.16 408.15h.01M385.87 394.63h.01M399.85 391.2h.01M385.7 415.27h.01M381.39 409.48h.01M399.7 427.08h.01M401.61 406.28h.01M384.45 417.43h.01M401.13 419.37h.01M403.41 404.8h.01M389.6 394.25h.01M395.14 412.36h.01M387.43 406.55h.01M399.14 419.17h.01M386.7 402.31h.01M385.01 395.47h.01M398.09 413.5h.01M389.07 402.29h.01M387.62 421.54h.01M387.63 401.45h.01M385.92 410.68h.01M388.4 387.24h.01M393.85 405.95h.01M390.69 405.15h.01M393.88 408.02h.01M400.33 411.16h.01M399.47 411.07h.01M395.76 403.45h.01M392.52 392.6h.01M400.23 423.81h.01M391.43 395.74h.01M394.51 401.78h.01M398.76 389.54h.01M403.6 417.82h.01M389.74 418.95h.01M393.2 396.32h.01M393.16 404.83h.01M383.19 404.03h.01M398.99 413.49h.01M399.56 407.8h.01M387.29 404.1h.01M406.45 410.22h.01M397.6 394.91h.01M400.4 406.52h.01M403.63 400.96h.01M391.25 402.13h.01M387.51 401.4h.01M393.03 404.39h.01M394.46 422.76h.01M396.31 409.71h.01M386.98 421.94h.01M393.07 408.12h.01M385.4 417.28h.01M380 390.18h.01M391.33 400.88h.01M390.12 410.07h.01M390.85 417.76h.01M380.96 409.74h.01M407.24 406.47h.01M398.04 417.13h.01M393.15 402.31h.01M400.2 404.98h.01M385.88 408.49h.01M393.51 409.83h.01M391.51 410.77h.01M387.89 423.16h.01M397.15 402.3h.01M397.42 405.72h.01M394.7 400.11h.01M390.38 401.12h.01M389.44 408.89h.01M386.99 398.72h.01M393.26 393.75h.01M390.8 405.57h.01M393.04 402.34h.01M393.66 396.34h.01M396.89 401.53h.01M384.01 398.73h.01M390.95 397.2h.01M387.04 409.28h.01M401.99 397.3h.01M385.54 417.61h.01M388.11 399.93h.01M388.83 404.52h.01M392.67 408h.01M400.46 410.55h.01M398.39 389.53h.01M395.27 425.96h.01M386.54 416.38h.01M385.43 398.72h.01M386.53 386.91h.01M389.22 394.38h.01M399.47 393.1h.01M390.37 405.96h.01M408.3 399.63h.01M380.62 401.2h.01M390.94 400.63h.01M394.79 392.36h.01M399.81 402.28h.01M389.91 419.69h.01M402.25 408.13h.01M395.75 401.43h.01M398.84 410.14h.01M386.36 394.06h.01M385.74 402.98h.01M384.98 404.14h.01M396.29 403.41h.01M379.63 397.89h.01M394.92 390.04h.01M388.81 395.56h.01M392.38 404.39h.01M385.21 409.05h.01M390.85 397.24h.01M394.46 413.79h.01M386.37 396.17h.01M397.59 397.29h.01M394.79 416.89h.01M390.79 405.8h.01M389.24 407.04h.01M382.31 389.56h.01M400.28 417.88h.01M392.44 397.85h.01M387.75 405.42h.01M388.89 414.72h.01M386.69 410.26h.01M389.45 391.37h.01M398.79 412.3h.01M392.31 402.23h.01M391.97 402.67h.01M385.82 408.36h.01M394.73 404.95h.01M389.34 398.28h.01M387.86 403.86h.01M379.77 390.52h.01M392.11 395.9h.01M398.27 402.31h.01M390.7 413.78h.01M398.89 403.66h.01M389.78 415.39h.01M384.27 393.03h.01M389.37 391.48h.01M385.61 409.59h.01M400.12 403.28h.01M392.45 396.03h.01M398.96 405.14h.01M385 403.26h.01M393.04 409.67h.01M402.43 408.82h.01M399.65 393.13h.01M396.15 385.81h.01M403.12 395.92h.01M397.14 399.43h.01M406.8 404.08h.01M397.24 388.34h.01M391.79 392.74h.01M389.69 417.1h.01M397.03 401.65h.01M395.34 410.97h.01M384.22 408.32h.01M392.55 411.16h.01M396.78 412.58h.01M396.11 411.02h.01M396.65 415.76h.01M388.32 400.04h.01M397.73 404.46h.01M396.92 400.3h.01M383.34 399.98h.01M386.39 400.63h.01M394.48 392.34h.01M384.55 400.66h.01M390.51 413.51h.01M390.93 390.41h.01M403.29 404.04h.01M398.24 404.09h.01M383.76 409.83h.01M394.46 401.09h.01M397.75 411.37h.01M392.77 407.56h.01M389.92 393.43h.01M382.42 408.11h.01M389.6 413h.01M386.88 415.64h.01M383.11 407.55h.01M383.35 400.96h.01M403.69 408.91h.01M394.23 402.65h.01M391.57 392.8h.01M391.93 402.88h.01M400.57 406.96h.01M388.89 403.09h.01M392.52 400.47h.01M401.75 394.46h.01M389.74 387.02h.01M389.5 416.45h.01M403.55 406.59h.01M392.94 407.12h.01M392.16 401.31h.01M380.97 386.63h.01M383.46 401.65h.01M392.76 389.69h.01M389.72 404.5h.01M403.25 403.09h.01M381.71 406.35h.01M391.96 411.05h.01M398.83 406.69h.01M389.03 402.82h.01M394.75 412.7h.01M404.75 404.53h.01M400.04 421.15h.01M386.54 401.19h.01M400.89 410.01h.01M397.88 407.43h.01M405.15 404.27h.01M389.69 392.95h.01M383.5 394.41h.01M394.27 401.63h.01M407.15 389.5h.01M386.56 400.48h.01M398.08 407.17h.01M402.27 407.52h.01M382.61 396.31h.01M396.16 398.77h.01M392 389.74h.01M389.65 403.34h.01M397.85 395.96h.01M393.37 406.08h.01M386.37 392.19h.01M383.21 402.37h.01M393.79 387.85h.01M385.21 392.77h.01M387.8 404.2h.01M392.67 401.83h.01M396.47 414.71h.01M382.14 418.45h.01M389.46 414.45h.01M397.04 420.55h.01M384.87 415.47h.01M391.31 394.7h.01M405.58 419.88h.01M404.75 408.33h.01M396.07 412.48h.01M385.09 407.76h.01M383.09 397.33h.01M390.87 401.51h.01M388.87 408.73h.01M400.55 402.26h.01M396.8 404.1h.01M388.64 394.48h.01M389.81 409.63h.01M380.36 392.97h.01M383.56 404.93h.01M397.11 402.15h.01M383.29 419.38h.01M393.68 405.69h.01M387.84 395.68h.01M399.57 398.03h.01M390.19 417.56h.01M382.75 408.82h.01M392.83 407.59h.01M403.36 395.21h.01M393.95 407.97h.01M397.18 392.04h.01M397.34 389.2h.01M402.93 396.07h.01M402 404.66h.01M404.31 415.17h.01M396.26 393.5h.01M382.15 409.78h.01M388.92 417.67h.01M393.9 403.9h.01M382.21 414.86h.01M394.78 412.08h.01M395.73 393.81h.01M391.44 413.58h.01M386.49 412.58h.01M397.28 404.2h.01M385.5 421.49h.01M381.94 405.51h.01M394.17 401.43h.01M393.7 408.97h.01M393.12 407.4h.01M393.3 424.47h.01M400.6 396.41h.01M380.47 403.03h.01M397.49 402.5h.01M391.56 399.84h.01M385.72 411.97h.01M388.68 400.1h.01M388.41 407.37h.01M383.81 416.88h.01M392.4 412.53h.01M388.35 401.01h.01M396.57 399.11h.01M390.05 411.99h.01M384.67 407.31h.01M386.01 409.74h.01M392.88 407.6h.01M400.8 391.7h.01M391.69 394.13h.01M395.59 403.41h.01M407.2 411.03h.01M383.58 401.5h.01M380.94 403.02h.01M386.01 391.85h.01M379.72 403.14h.01M385.16 389.95h.01M392.56 399.85h.01M382.18 409.07h.01M390.34 394.99h.01M379.86 394.16h.01M393.02 411.5h.01M390.69 409.3h.01M384.45 397.57h.01M400.57 403.56h.01M392.27 408.71h.01M388.81 401.65h.01M397.25 411.96h.01M394.2 397.57h.01M391.7 407.39h.01M404.25 400.92h.01M389.27 403.91h.01M401.02 400.54h.01M389.33 391.61h.01M385.25 401.27h.01M392.26 400.62h.01M390.7 415.95h.01M384 407.24h.01M388.92 402.8h.01M392.32 405.25h.01M386.94 393.37h.01M396.55 405.22h.01M386.2 418.66h.01M391.85 398.76h.01M383.11 407.71h.01M393.19 398.95h.01M395.29 419.33h.01M389.97 397.29h.01M392.2 414.29h.01" stroke="#000" stroke-opacity="0.22" stroke-width="0.7" stroke-linecap="round"/>
<path d="M404.82 398.6h.01M401.51 400.35h.01M407.59 401.43h.01M405.6 403.67h.01M409.25 400.29h.01M412.52 402.04h.01M404.13 401.85h.01M404.51 403.04h.01M404.86 400.59h.01M404.07 400.51h.01M412.43 402.84h.01M404.61 395.75h.01M409.82 397.61h.01M404.11 401.52h.01M402.34 401.85h.01M411.24 399.63h.01M403.59 398.94h.01M412.88 400.1h.01M411.89 399.71h.01M407.58 400.11h.01M407.59 400.44h.01M410.37 402.95h.01M406.51 396.87h.01M404.52 396.9h.01M404.12 404.74h.01M404.91 395.54h.01M408.59 399.54h.01M410.43 400.02h.01M408.01 398.3h.01M405.2 394.85h.01M409.45 394.88h.01M408.52 400.86h.01M408.64 395.08h.01M410.22 397.6h.01M408.6 398.52h.01M406.26 400.39h.01M401.46 398.21h.01M406.23 400.28h.01M405.73 404.64h.01M407 401.39h.01M409.71 398.07h.01M411.56 401.8h.01M407.45 399.22h.01M401.98 395.4h.01M402.23 400.43h.01M407.94 397.55h.01M406.19 403.57h.01M402.55 398.38h.01M405.64 403.6h.01M410.03 397.75h.01M409.53 400.16h.01M408.97 400.14h.01M409.53 401.26h.01M404.17 401.72h.01M404.1 395.88h.01M405.61 397.04h.01M404.5 396.48h.01M410.32 402.03h.01M404.62 403.32h.01M406.73 397.43h.01M403.16 400.72h.01M406.68 400.27h.01M406.74 396.5h.01M405.5 397.58h.01M407.62 396.4h.01M410.66 400.53h.01M404.1 400.16h.01M405.43 398.46h.01M406.87 393.97h.01" stroke="#000" stroke-opacity="0.21" stroke-width="0.7" stroke-linecap="round"/>
<path d="M379.8 394.5 C 384 393.7 391 393.7 393.5 395 C 394.5 397.5 392 402.5 390 407.5 L 389.3 409.5 C 384 405.5 381 401.5 379.8 400.5 Z" fill="#c8c8c8" stroke="#111" stroke-width="0.9"/>
<path d="M381.5 395.5 C 385 394.9 390 394.9 392 396 C 392.5 398.5 391 402.5 389.5 406 C 386 403.5 383 401 381.5 399.5 Z" fill="#f4f4f4" stroke="#555" stroke-width="0.5"/>
<ellipse cx="387.4" cy="397.8" rx="4.2" ry="2.3" fill="#111"/>
<ellipse cx="388" cy="398" rx="1.6" ry="0.8" fill="#777"/>
<path d="M388.6 408.5 L 388.6 422.5 M390.2 408.5 L 390.2 422.5" stroke="#222" stroke-width="0.9"/>
<ellipse cx="389.4" cy="419.5" rx="1.2" ry="2.6" fill="#fff" stroke="#111" stroke-width="0.8"/>
<path d="M389.4 422 L 389.4 424.5" stroke="#333" stroke-width="0.6"/>
<path d="M401.26 448.82h.01M396.63 446.29h.01M387.64 453.21h.01M390.95 451.47h.01M387.96 456.32h.01M408.25 456.52h.01M397.89 449.71h.01M387.39 444.25h.01M384.48 457.85h.01M390.58 446.24h.01M387.81 460.53h.01M412.47 451.56h.01M395.5 442.59h.01M412.66 438.83h.01M397.91 448.45h.01M389.13 455.84h.01M386.85 452.66h.01M396.24 456.65h.01M394.54 451.89h.01M393.52 457.33h.01M388.77 453.77h.01M385.26 453.18h.01M387.48 444.45h.01M391.58 452.36h.01M401.9 449.05h.01M398.85 446.6h.01M414.74 467.32h.01M389.14 452.64h.01M411.87 447.69h.01M409.08 466.53h.01M396.86 455.87h.01M403.7 467.2h.01M385.99 445.31h.01M391.9 445.27h.01M397.02 453.77h.01M394.86 464.31h.01M396.17 453.61h.01M394.36 453.67h.01M398.07 454.09h.01M399.24 457.96h.01M400.98 441.59h.01M397.06 452.55h.01M389.4 460.94h.01M384.45 455.57h.01M391.98 439.83h.01M394.09 459.56h.01M403.72 451.93h.01M409.89 442.04h.01M398.19 440.68h.01M393.59 444.97h.01M396.16 461.02h.01M395.91 457.68h.01M397.81 456.01h.01M398.3 452.9h.01M393.76 449.57h.01M390.73 438.8h.01M398.53 461.3h.01M390.67 449.29h.01M398.65 454.32h.01M403.54 465h.01M396.17 448.87h.01M396.41 433.13h.01M395.68 462.86h.01M394.88 461.8h.01M394.5 446.39h.01M382.74 452.15h.01M407.83 435.49h.01M400.68 447.22h.01M383.94 468.53h.01M403.37 439.9h.01M397.46 456.67h.01M394.43 445.22h.01M386.85 443.66h.01M389.33 447.69h.01M404.02 449.78h.01M401 452.57h.01M392.73 455.08h.01M402.7 435.84h.01M392.23 452.41h.01M390.72 450.63h.01M389.84 457.01h.01M388.16 460.27h.01M402.66 438.85h.01M399.8 462.27h.01M387.66 458.93h.01M401.58 457.53h.01M409.88 447.89h.01M395.7 448.82h.01M398.48 444.76h.01M388.83 461.22h.01M391.32 458.64h.01M402.69 445.5h.01M384.49 455.21h.01M397.19 454.12h.01M401.33 454.15h.01M395.62 450.65h.01M389.69 470.16h.01M397.02 462.55h.01M404.98 443.43h.01M388.71 457.18h.01M392.92 460.35h.01M404.5 451.33h.01M389.44 456.49h.01M390.09 451.98h.01M394.47 452.19h.01M392.56 454.01h.01M397.51 470.21h.01M401.86 465.19h.01M392.6 449.95h.01M396.48 451.7h.01M387.59 457.42h.01M385.08 461.85h.01M390.74 448.54h.01M397.09 456.31h.01M397.13 454.36h.01M389.76 452.6h.01M391 445.41h.01M396.81 451.35h.01M387.66 445.55h.01M393.93 450.25h.01M401.49 471.8h.01M386.62 454.16h.01M403.12 458.51h.01M404.94 449.95h.01M404.96 448.91h.01M405.03 453.73h.01M397.35 438.87h.01M399.7 459.64h.01M394.48 441.21h.01M391.1 450.52h.01M390.62 451.64h.01M406.85 454.4h.01M389.41 455.65h.01M390.82 453.18h.01M399.05 434.94h.01M390.55 454.52h.01M394.48 453.55h.01M395.04 456.69h.01M400.99 465.35h.01M388.9 458.11h.01M404.02 462.81h.01M393.4 471.26h.01M395.04 453.25h.01M398.09 443.08h.01M401.31 441h.01M392.29 445.69h.01M391.85 448.98h.01M407.35 442.97h.01M391.34 449.09h.01M395.88 462.11h.01M408.45 469.3h.01M402.2 447.71h.01M394.63 463.08h.01M402.72 451.88h.01M393.56 442.51h.01M398.55 458.07h.01M383.1 458.44h.01M389.7 456.56h.01M410.05 463.32h.01M398.66 444.48h.01M394.07 443.11h.01M393.63 455.95h.01M393.32 451.62h.01M397.77 449.37h.01M401.12 448.28h.01M391.7 447.18h.01M397.87 467.22h.01M384.19 449.14h.01M386.93 461.94h.01M414.54 449.62h.01M401.14 444.43h.01M379.71 459.43h.01M397.56 444.48h.01M393.18 452.3h.01M387.55 444.48h.01M407.31 468.15h.01M391.9 442.08h.01M398.89 442.26h.01M392.52 452.3h.01M391.39 442.41h.01M383.59 450.43h.01M393.07 438.47h.01M407.17 462.07h.01M386.57 446.47h.01M393.77 457.55h.01M387.22 459.43h.01M406.44 452.99h.01M401.25 443.87h.01M392.89 448.23h.01M393.07 454.08h.01M412.84 449.68h.01M388.47 454.3h.01M384.1 441.91h.01M395.93 458.62h.01M398.22 439.54h.01M398.17 458.86h.01M398.17 441.09h.01M412.01 452.22h.01M404.69 455.69h.01M399.02 451.28h.01M396.57 443.78h.01M402.71 454.68h.01M397.62 443.81h.01M399.74 455.49h.01M381.12 454.92h.01M402.75 459.56h.01M390.47 462.39h.01M408.71 447.18h.01M406.28 457.36h.01M384.79 450.66h.01M406.38 447.07h.01M404.56 457.04h.01M398.08 449.08h.01M392.15 452.51h.01M393.97 445.71h.01M386.35 445.84h.01M397.92 444.66h.01M401.79 455.56h.01M402.54 448.71h.01M398.85 459.06h.01M395.57 462.41h.01M393.26 436.88h.01M384.84 465.56h.01M387.5 445.3h.01M390.33 447.88h.01M404.11 452.67h.01M397.36 445.83h.01M395.77 445.87h.01M385.85 457.9h.01M386.27 447.78h.01M395.34 469.6h.01M392.11 446.48h.01M416.88 438.7h.01M395.47 466.39h.01M386.22 456.67h.01M398.67 451.27h.01M395.17 458.48h.01M402.28 473.71h.01M400.63 462.03h.01M382.9 438.84h.01M392.86 440.88h.01M403.89 444.77h.01M393.9 450.77h.01M391.15 456.27h.01M398.94 470.13h.01M382.81 452.85h.01M403.13 458.74h.01M387.29 471.92h.01M386.45 452.79h.01M400.63 456.81h.01M393.12 445.8h.01M406.54 445.55h.01M398.66 453.38h.01M388.47 455.92h.01M393.9 450.09h.01M402.07 464.86h.01M392.32 439.05h.01M379.69 444.53h.01M404.22 442.81h.01M393.58 434.72h.01M392.31 435.75h.01M400.05 435.71h.01M400.11 443.02h.01M402.44 449.7h.01M400.1 456.75h.01M398.83 447.74h.01M391.56 458.1h.01M396.91 462.82h.01M388.74 456.89h.01M385.08 450.75h.01M393.07 453.45h.01M399.7 439.69h.01M394.78 458.5h.01M394.98 472.95h.01M395.96 461.03h.01M388.76 454.99h.01M400.43 459.18h.01M380.11 450.79h.01M388 455.77h.01M382.47 447.58h.01M395.98 448.55h.01M396.45 447.1h.01M388.85 451.35h.01M387.07 447.95h.01M394.88 452.41h.01M400.34 460.16h.01M407.36 453.13h.01M383.17 447.67h.01M412.16 456.65h.01M405.19 451.85h.01M397.88 443.18h.01M394.72 456.83h.01M388.18 443.93h.01M395.82 441.39h.01M396.33 472.04h.01M389.78 440.5h.01M395.17 456.86h.01M413.08 448.18h.01M384.65 452.82h.01M387.22 452.61h.01M385.7 453.81h.01M397.21 454.3h.01M388.62 457.59h.01M382.04 452.9h.01M399.8 452.02h.01M389.32 436.49h.01M381.9 458.85h.01M396.83 455.72h.01M404.6 440.11h.01M389.7 462.36h.01M385 469.59h.01M388.46 445.82h.01M389.51 445.23h.01M379.94 444.4h.01M395.9 453.13h.01M410.74 450.92h.01M397.26 434.16h.01M398.84 449.86h.01M410.79 447.5h.01M402.82 474.64h.01M385.2 452.26h.01M382.16 445.16h.01M398.2 454.98h.01M385.31 448.42h.01M390.79 445.53h.01M411.42 450.48h.01M394.02 460.51h.01M411.99 446.44h.01M401.78 450.13h.01M393.26 451.13h.01M399.57 438.26h.01M381.34 451.43h.01M395.64 453.82h.01M394.98 440.04h.01M388.26 450.74h.01M399.64 445.23h.01M388.49 449.01h.01M404.84 458.87h.01M396.26 450.29h.01M381.32 452.12h.01M399.98 447.64h.01M404.99 471.79h.01M403.08 437.65h.01M381.27 451.93h.01M385.44 439.26h.01M397.86 456.57h.01M398.03 447.83h.01M393.24 442.78h.01M391.65 454.57h.01M382.83 450.93h.01M414.2 453.64h.01M388.91 450.95h.01M393.53 440.05h.01M390.1 449.08h.01M388.21 452.67h.01M400.78 466.58h.01M397.99 447.87h.01M397.02 452.19h.01M394.68 443.63h.01M392.53 457.77h.01M405.26 452.02h.01M402 447.04h.01M380.83 438.08h.01M389.54 446.63h.01M404.09 441.82h.01M382.69 446.55h.01M383.95 454.46h.01M403.47 439.27h.01M406.23 464.05h.01M385.52 445.06h.01M399.6 441.92h.01M393.86 446.04h.01M389.06 460.15h.01M383.28 440.93h.01M389.77 439.17h.01M400.51 460.39h.01M392.33 446.62h.01M401.13 453.24h.01M393.4 453.04h.01M380.47 446.32h.01M390.3 463.54h.01M400.24 449.03h.01M404.02 459.18h.01M389.93 449.8h.01M394.02 464.6h.01M385.8 441.56h.01M401.43 465.42h.01M395.22 435.42h.01M404.22 457.54h.01M388.33 454.35h.01M387.47 450.52h.01M400.03 452.97h.01M396.09 451.93h.01M387.49 463.78h.01M394.92 448.91h.01M400.53 456.54h.01M393.15 458.45h.01M400.92 456.74h.01M387.07 437.62h.01M398.32 447.7h.01" stroke="#000" stroke-opacity="0.22" stroke-width="0.7" stroke-linecap="round"/>
<path d="M408.23 445.69h.01M411.15 446.25h.01M402.79 449.73h.01M408.21 449.01h.01M404.58 448.36h.01M405.11 444.85h.01M404.72 448.91h.01M408.1 451.77h.01M409.89 445.91h.01M408.1 445.11h.01M407.18 445.34h.01M403.47 446.2h.01M411.43 443.96h.01M408.35 448.2h.01M404.44 447.88h.01M407.66 447.21h.01M412.28 447.95h.01M404.81 443.1h.01M402.62 447.75h.01M408.13 446.35h.01M404.5 443.33h.01M410.64 451.39h.01M407.37 444.32h.01M405.28 448.8h.01M403.95 441.78h.01M410.6 451.35h.01M402.56 450.15h.01M408.94 447.06h.01M412.93 445.61h.01M410.09 450.28h.01M406.84 448.26h.01M410.38 448.34h.01M408.04 446.63h.01M403.05 450.78h.01M401.65 444.77h.01M404.88 448.55h.01M409.12 448.89h.01M413.67 451.9h.01M411.88 451.38h.01M407.54 444.27h.01M409.43 447.99h.01M410.61 446.26h.01M407.38 445.98h.01M410.43 448.17h.01M405.48 448.93h.01M403.83 444.56h.01M403.92 446.5h.01M404.45 448.58h.01M403.43 446.5h.01M404.74 450.76h.01M412.9 450.37h.01M402.01 446.65h.01M405.26 446.88h.01M407.41 447.11h.01M408.53 450.42h.01M412.22 445.39h.01M409.83 445.93h.01M402.12 446.21h.01M407.17 448.63h.01M406.13 448.41h.01M409.37 447.48h.01M410.36 444.43h.01M407 443.74h.01M405.35 449.21h.01M406.63 448.46h.01M410.01 447.65h.01M405.33 446.02h.01M403.89 447.74h.01M407.03 445.33h.01M400.99 448.81h.01" stroke="#000" stroke-opacity="0.21" stroke-width="0.7" stroke-linecap="round"/>
<path d="M381.5 442.4 C 383 439.4 394 439.4 396 442.4 C 397 446.4 393 452.4 392.5 458.4 L 391.5 469.4 C 390.5 472.4 388.5 472.4 387.5 469.4 L 386 458.4 C 384.5 452.4 381 446.4 381.5 442.4 Z" fill="#d6d6d6" stroke="#333" stroke-width="0.7"/>
<path d="M384 442.4 C 386 440.9 391 440.9 393.5 442.4 C 393 446.4 391 452.4 390.5 467.4 L 388.5 467.4 C 388 452.4 385.5 446.4 384 442.4 Z" fill="#a0a0a0" stroke="#222" stroke-width="0.6"/>
<ellipse cx="388.3" cy="443.9" rx="4" ry="2.2" fill="#111"/>
<path d="M389.2 445.4 L 389.2 464.4" stroke="#ccc" stroke-width="0.7"/>
<path d="M386 442 C 390 440.5 395 440 397.5 440.5 C 396 443 394 446 393 448" fill="none" stroke="#555" stroke-width="0.6"/>
<ellipse cx="493" cy="321" rx="8" ry="9" fill="#c8c8c8" stroke="#888" stroke-width="0.5"/>
<ellipse cx="492.41" cy="321.83" rx="3.05" ry="2.13" fill="none" stroke="#999" stroke-width="0.55"/>
<ellipse cx="497.37" cy="316.71" rx="2.81" ry="2.15" fill="none" stroke="#999" stroke-width="0.55"/>
<ellipse cx="496.61" cy="315.38" rx="1.81" ry="1.38" fill="none" stroke="#555" stroke-width="0.55"/>
<ellipse cx="494.17" cy="319.56" rx="2.11" ry="2.68" fill="none" stroke="#666" stroke-width="0.55"/>
<ellipse cx="494.52" cy="325.59" rx="1.33" ry="1.27" fill="none" stroke="#666" stroke-width="0.55"/>
<ellipse cx="494.23" cy="324.85" rx="1.85" ry="2.38" fill="none" stroke="#666" stroke-width="0.55"/>
<ellipse cx="493.24" cy="322.94" rx="2.2" ry="2.52" fill="none" stroke="#888" stroke-width="0.55"/>
<ellipse cx="494.91" cy="319.71" rx="2.3" ry="3.06" fill="none" stroke="#555" stroke-width="0.55"/>
<ellipse cx="495.56" cy="318.44" rx="1.66" ry="1.78" fill="none" stroke="#555" stroke-width="0.55"/>
<ellipse cx="493.78" cy="315.57" rx="1.42" ry="1.78" fill="none" stroke="#555" stroke-width="0.55"/>
<ellipse cx="498.64" cy="325.81" rx="1.2" ry="1.62" fill="none" stroke="#555" stroke-width="0.55"/>
<ellipse cx="492.63" cy="327.65" rx="1.99" ry="1.35" fill="none" stroke="#666" stroke-width="0.55"/>
<ellipse cx="496.43" cy="317.81" rx="1.37" ry="1.87" fill="none" stroke="#888" stroke-width="0.55"/>
<ellipse cx="496.18" cy="315.71" rx="1.69" ry="1.4" fill="none" stroke="#555" stroke-width="0.55"/>
<ellipse cx="490" cy="319.5" rx="3" ry="5" fill="#8a8a8a"/>
<path d="M494.5 316.5 C 495 314 498.5 314 499.5 316.5 C 500.5 319.5 498 321 496 322.5 L 493.5 325.5" fill="none" stroke="#0a0a0a" stroke-width="1.5"/>
<ellipse cx="491.2" cy="326" rx="1.8" ry="1.3" fill="#111"/>
<ellipse cx="489.5" cy="330" rx="1.8" ry="1.6" fill="#fff" stroke="#888" stroke-width="0.5"/>
<ellipse cx="499.5" cy="330" rx="1.5" ry="1.5" fill="#fff" stroke="#888" stroke-width="0.5"/>
<ellipse cx="493" cy="368" rx="8" ry="8.5" fill="#c8c8c8" stroke="#888" stroke-width="0.5"/>
<ellipse cx="492.69" cy="370.06" rx="2.53" ry="1.49" fill="none" stroke="#555" stroke-width="0.55"/>
<ellipse cx="499.11" cy="367.77" rx="2.49" ry="2.12" fill="none" stroke="#999" stroke-width="0.55"/>
<ellipse cx="489.65" cy="361.48" rx="2.45" ry="3.16" fill="none" stroke="#777" stroke-width="0.55"/>
<ellipse cx="488.84" cy="373.31" rx="1.32" ry="2.84" fill="none" stroke="#555" stroke-width="0.55"/>
<ellipse cx="493.17" cy="372.17" rx="2.56" ry="2.8" fill="none" stroke="#555" stroke-width="0.55"/>
<ellipse cx="487.08" cy="362.26" rx="3.03" ry="2.22" fill="none" stroke="#555" stroke-width="0.55"/>
<ellipse cx="499.02" cy="367" rx="2.09" ry="2.52" fill="none" stroke="#666" stroke-width="0.55"/>
<ellipse cx="493.49" cy="373" rx="2.32" ry="3.15" fill="none" stroke="#555" stroke-width="0.55"/>
<ellipse cx="493.68" cy="368.09" rx="1.37" ry="2.41" fill="none" stroke="#999" stroke-width="0.55"/>
<ellipse cx="492.63" cy="369.43" rx="2.28" ry="2.48" fill="none" stroke="#555" stroke-width="0.55"/>
<ellipse cx="498.75" cy="374.23" rx="2.53" ry="1.91" fill="none" stroke="#777" stroke-width="0.55"/>
<ellipse cx="497.51" cy="366.5" rx="1.82" ry="1.7" fill="none" stroke="#777" stroke-width="0.55"/>
<ellipse cx="491.32" cy="368.15" rx="2.82" ry="2.2" fill="none" stroke="#555" stroke-width="0.55"/>
<ellipse cx="491.53" cy="372.7" rx="1.27" ry="1.25" fill="none" stroke="#888" stroke-width="0.55"/>
<ellipse cx="488.5" cy="368" rx="2" ry="4" fill="#444"/>
<ellipse cx="495" cy="366" rx="3" ry="2.6" fill="none" stroke="#111" stroke-width="1.3"/>
<ellipse cx="492" cy="372" rx="2.5" ry="1.2" fill="#333"/>
<path d="M497 357 L 497.5 359" stroke="#888" stroke-width="0.5"/>
<ellipse cx="493" cy="413.5" rx="8" ry="9" fill="#d0d0d0" stroke="#888" stroke-width="0.5"/>
<ellipse cx="490.03" cy="416.07" rx="2.57" ry="2.9" fill="none" stroke="#666" stroke-width="0.55"/>
<ellipse cx="494.87" cy="415.8" rx="2.94" ry="2.48" fill="none" stroke="#666" stroke-width="0.55"/>
<ellipse cx="488.45" cy="413.93" rx="1.63" ry="1.79" fill="none" stroke="#888" stroke-width="0.55"/>
<ellipse cx="488.4" cy="416.05" rx="3.2" ry="3.19" fill="none" stroke="#666" stroke-width="0.55"/>
<ellipse cx="487.89" cy="417.57" rx="2.98" ry="1.72" fill="none" stroke="#888" stroke-width="0.55"/>
<ellipse cx="496.01" cy="419.72" rx="2.79" ry="1.71" fill="none" stroke="#666" stroke-width="0.55"/>
<ellipse cx="492.84" cy="417.03" rx="2.33" ry="2.06" fill="none" stroke="#777" stroke-width="0.55"/>
<ellipse cx="497.78" cy="415.42" rx="2.51" ry="1.89" fill="none" stroke="#999" stroke-width="0.55"/>
<ellipse cx="496.67" cy="420.22" rx="2.58" ry="2.31" fill="none" stroke="#666" stroke-width="0.55"/>
<ellipse cx="492.27" cy="416.67" rx="2.27" ry="1.79" fill="none" stroke="#666" stroke-width="0.55"/>
<ellipse cx="493.28" cy="410.08" rx="2.12" ry="2.41" fill="none" stroke="#888" stroke-width="0.55"/>
<ellipse cx="497.79" cy="414.57" rx="2.3" ry="2.33" fill="none" stroke="#666" stroke-width="0.55"/>
<path d="M487 407 C 489 406 490.5 408 490 412 C 489.5 416 488.5 419 487 419 C 485.5 418 485.5 410 487 407 Z" fill="#222"/>
<path d="M495 407 L 501 411 L 496 416 Z" fill="none" stroke="#777" stroke-width="0.5"/>
<ellipse cx="493" cy="463" rx="8.5" ry="11" fill="#c8c8c8" stroke="#888" stroke-width="0.5"/>
<ellipse cx="487.86" cy="466.43" rx="2.5" ry="3.08" fill="none" stroke="#777" stroke-width="0.55"/>
<ellipse cx="496.07" cy="459.46" rx="1.35" ry="2.1" fill="none" stroke="#888" stroke-width="0.55"/>
<ellipse cx="495.41" cy="461.25" rx="2.76" ry="1.44" fill="none" stroke="#666" stroke-width="0.55"/>
<ellipse cx="497.85" cy="459.88" rx="2.82" ry="1.92" fill="none" stroke="#999" stroke-width="0.55"/>
<ellipse cx="488.42" cy="463.87" rx="2.53" ry="1.53" fill="none" stroke="#555" stroke-width="0.55"/>
<ellipse cx="488.07" cy="460.24" rx="1.37" ry="1.61" fill="none" stroke="#888" stroke-width="0.55"/>
<ellipse cx="491.74" cy="471.3" rx="2.08" ry="2.42" fill="none" stroke="#555" stroke-width="0.55"/>
<ellipse cx="494.03" cy="465.33" rx="1.93" ry="2.93" fill="none" stroke="#888" stroke-width="0.55"/>
<ellipse cx="493.18" cy="457.82" rx="2.11" ry="1.64" fill="none" stroke="#777" stroke-width="0.55"/>
<ellipse cx="493.01" cy="456.27" rx="2.84" ry="1.38" fill="none" stroke="#777" stroke-width="0.55"/>
<ellipse cx="488.01" cy="457.28" rx="2.02" ry="2.57" fill="none" stroke="#999" stroke-width="0.55"/>
<ellipse cx="487.68" cy="462.67" rx="2.57" ry="2.27" fill="none" stroke="#888" stroke-width="0.55"/>
<ellipse cx="490.51" cy="462.32" rx="2.04" ry="2.85" fill="none" stroke="#777" stroke-width="0.55"/>
<ellipse cx="492.67" cy="458.54" rx="2.93" ry="3.08" fill="none" stroke="#555" stroke-width="0.55"/>
<ellipse cx="493.9" cy="462.81" rx="1.73" ry="2.08" fill="none" stroke="#888" stroke-width="0.55"/>
<ellipse cx="498.81" cy="461.7" rx="1.89" ry="2.34" fill="none" stroke="#888" stroke-width="0.55"/>
<path d="M490 456 C 486.5 456 485 460 485.5 464 C 486 468 488 469.5 490.5 469" fill="none" stroke="#0a0a0a" stroke-width="1.6"/>
<ellipse cx="490" cy="462" rx="2" ry="3" fill="#555"/>
<ellipse cx="494.5" cy="449" rx="2.5" ry="2" fill="none" stroke="#777" stroke-width="0.6"/>
<ellipse cx="498" cy="476" rx="2" ry="1.6" fill="none" stroke="#888" stroke-width="0.5"/>
<ellipse cx="489.5" cy="476" rx="2.5" ry="1.8" fill="none" stroke="#999" stroke-width="0.5"/>
<path d="M489.5 337.5 L 491.5 334 L 493.5 337.5" fill="none" stroke="#888" stroke-width="0.5"/>
<rect x="78.5" y="26.9" width="47.5" height="189.5" fill="none" stroke="#333" stroke-width="0.9"/>
<line x1="78.5" y1="74.4" x2="126" y2="74.4" stroke="#333" stroke-width="0.9"/>
<line x1="78.5" y1="122.1" x2="126" y2="122.1" stroke="#333" stroke-width="0.9"/>
<line x1="78.5" y1="169.1" x2="126" y2="169.1" stroke="#333" stroke-width="0.9"/>
<text x="70.6" y="34.22" font-size="7" fill="#222" stroke="#222" stroke-width="0.1" text-anchor="end" textLength="6.54" lengthAdjust="spacingAndGlyphs">10</text>
<text x="71" y="30.86" font-size="4.34" fill="#222" stroke="#222" stroke-width="0.07">5</text>
<line x1="76.3" y1="31.7" x2="78.5" y2="31.7" stroke="#111" stroke-width="1.1"/>
<text x="70.6" y="45.02" font-size="7" fill="#222" stroke="#222" stroke-width="0.1" text-anchor="end" textLength="6.54" lengthAdjust="spacingAndGlyphs">10</text>
<text x="71" y="41.66" font-size="4.34" fill="#222" stroke="#222" stroke-width="0.07">4</text>
<line x1="76.3" y1="42.5" x2="78.5" y2="42.5" stroke="#111" stroke-width="1.1"/>
<text x="70.6" y="55.02" font-size="7" fill="#222" stroke="#222" stroke-width="0.1" text-anchor="end" textLength="6.54" lengthAdjust="spacingAndGlyphs">10</text>
<text x="71" y="51.66" font-size="4.34" fill="#222" stroke="#222" stroke-width="0.07">3</text>
<line x1="76.3" y1="52.5" x2="78.5" y2="52.5" stroke="#111" stroke-width="1.1"/>
<text x="70.6" y="65.72" font-size="7" fill="#222" stroke="#222" stroke-width="0.1" text-anchor="end" textLength="6.54" lengthAdjust="spacingAndGlyphs">10</text>
<text x="71" y="62.36" font-size="4.34" fill="#222" stroke="#222" stroke-width="0.07">2</text>
<line x1="76.3" y1="63.2" x2="78.5" y2="63.2" stroke="#111" stroke-width="1.1"/>
<text x="71.2" y="75" font-size="7" fill="#222" stroke="#222" stroke-width="0.1" text-anchor="end" textLength="3.35" lengthAdjust="spacingAndGlyphs">0</text>
<line x1="76.3" y1="72.5" x2="78.5" y2="72.5" stroke="#111" stroke-width="1.1"/>
<path d="M77.3 28.9h1.2M77.3 31.3h1.2M77.3 33.7h1.2M77.3 36.1h1.2M77.3 38.5h1.2M77.3 40.9h1.2M77.3 43.3h1.2M77.3 45.7h1.2M77.3 48.1h1.2M77.3 50.5h1.2M77.3 52.9h1.2M77.3 55.3h1.2M77.3 57.7h1.2M77.3 60.1h1.2M77.3 62.5h1.2M77.3 64.9h1.2M77.3 67.3h1.2M77.3 69.7h1.2M77.3 72.1h1.2" stroke="#555" stroke-width="0.5"/>
<text x="70.6" y="81.72" font-size="7" fill="#222" stroke="#222" stroke-width="0.1" text-anchor="end" textLength="6.54" lengthAdjust="spacingAndGlyphs">10</text>
<text x="71" y="78.36" font-size="4.34" fill="#222" stroke="#222" stroke-width="0.07">5</text>
<line x1="76.3" y1="79.2" x2="78.5" y2="79.2" stroke="#111" stroke-width="1.1"/>
<text x="70.6" y="92.52" font-size="7" fill="#222" stroke="#222" stroke-width="0.1" text-anchor="end" textLength="6.54" lengthAdjust="spacingAndGlyphs">10</text>
<text x="71" y="89.16" font-size="4.34" fill="#222" stroke="#222" stroke-width="0.07">4</text>
<line x1="76.3" y1="90" x2="78.5" y2="90" stroke="#111" stroke-width="1.1"/>
<text x="70.6" y="102.52" font-size="7" fill="#222" stroke="#222" stroke-width="0.1" text-anchor="end" textLength="6.54" lengthAdjust="spacingAndGlyphs">10</text>
<text x="71" y="99.16" font-size="4.34" fill="#222" stroke="#222" stroke-width="0.07">3</text>
<line x1="76.3" y1="100" x2="78.5" y2="100" stroke="#111" stroke-width="1.1"/>
<text x="70.6" y="113.22" font-size="7" fill="#222" stroke="#222" stroke-width="0.1" text-anchor="end" textLength="6.54" lengthAdjust="spacingAndGlyphs">10</text>
<text x="71" y="109.86" font-size="4.34" fill="#222" stroke="#222" stroke-width="0.07">2</text>
<line x1="76.3" y1="110.7" x2="78.5" y2="110.7" stroke="#111" stroke-width="1.1"/>
<text x="71.2" y="122.5" font-size="7" fill="#222" stroke="#222" stroke-width="0.1" text-anchor="end" textLength="3.35" lengthAdjust="spacingAndGlyphs">0</text>
<line x1="76.3" y1="120" x2="78.5" y2="120" stroke="#111" stroke-width="1.1"/>
<path d="M77.3 76.4h1.2M77.3 78.8h1.2M77.3 81.2h1.2M77.3 83.6h1.2M77.3 86h1.2M77.3 88.4h1.2M77.3 90.8h1.2M77.3 93.2h1.2M77.3 95.6h1.2M77.3 98h1.2M77.3 100.4h1.2M77.3 102.8h1.2M77.3 105.2h1.2M77.3 107.6h1.2M77.3 110h1.2M77.3 112.4h1.2M77.3 114.8h1.2M77.3 117.2h1.2M77.3 119.6h1.2" stroke="#555" stroke-width="0.5"/>
<text x="70.6" y="129.42" font-size="7" fill="#222" stroke="#222" stroke-width="0.1" text-anchor="end" textLength="6.54" lengthAdjust="spacingAndGlyphs">10</text>
<text x="71" y="126.06" font-size="4.34" fill="#222" stroke="#222" stroke-width="0.07">5</text>
<line x1="76.3" y1="126.9" x2="78.5" y2="126.9" stroke="#111" stroke-width="1.1"/>
<text x="70.6" y="140.22" font-size="7" fill="#222" stroke="#222" stroke-width="0.1" text-anchor="end" textLength="6.54" lengthAdjust="spacingAndGlyphs">10</text>
<text x="71" y="136.86" font-size="4.34" fill="#222" stroke="#222" stroke-width="0.07">4</text>
<line x1="76.3" y1="137.7" x2="78.5" y2="137.7" stroke="#111" stroke-width="1.1"/>
<text x="70.6" y="150.22" font-size="7" fill="#222" stroke="#222" stroke-width="0.1" text-anchor="end" textLength="6.54" lengthAdjust="spacingAndGlyphs">10</text>
<text x="71" y="146.86" font-size="4.34" fill="#222" stroke="#222" stroke-width="0.07">3</text>
<line x1="76.3" y1="147.7" x2="78.5" y2="147.7" stroke="#111" stroke-width="1.1"/>
<text x="70.6" y="160.92" font-size="7" fill="#222" stroke="#222" stroke-width="0.1" text-anchor="end" textLength="6.54" lengthAdjust="spacingAndGlyphs">10</text>
<text x="71" y="157.56" font-size="4.34" fill="#222" stroke="#222" stroke-width="0.07">2</text>
<line x1="76.3" y1="158.4" x2="78.5" y2="158.4" stroke="#111" stroke-width="1.1"/>
<text x="71.2" y="170.2" font-size="7" fill="#222" stroke="#222" stroke-width="0.1" text-anchor="end" textLength="3.35" lengthAdjust="spacingAndGlyphs">0</text>
<line x1="76.3" y1="167.7" x2="78.5" y2="167.7" stroke="#111" stroke-width="1.1"/>
<path d="M77.3 124.1h1.2M77.3 126.5h1.2M77.3 128.9h1.2M77.3 131.3h1.2M77.3 133.7h1.2M77.3 136.1h1.2M77.3 138.5h1.2M77.3 140.9h1.2M77.3 143.3h1.2M77.3 145.7h1.2M77.3 148.1h1.2M77.3 150.5h1.2M77.3 152.9h1.2M77.3 155.3h1.2M77.3 157.7h1.2M77.3 160.1h1.2M77.3 162.5h1.2M77.3 164.9h1.2M77.3 167.3h1.2" stroke="#555" stroke-width="0.5"/>
<text x="70.6" y="176.42" font-size="7" fill="#222" stroke="#222" stroke-width="0.1" text-anchor="end" textLength="6.54" lengthAdjust="spacingAndGlyphs">10</text>
<text x="71" y="173.06" font-size="4.34" fill="#222" stroke="#222" stroke-width="0.07">5</text>
<line x1="76.3" y1="173.9" x2="78.5" y2="173.9" stroke="#111" stroke-width="1.1"/>
<text x="70.6" y="187.22" font-size="7" fill="#222" stroke="#222" stroke-width="0.1" text-anchor="end" textLength="6.54" lengthAdjust="spacingAndGlyphs">10</text>
<text x="71" y="183.86" font-size="4.34" fill="#222" stroke="#222" stroke-width="0.07">4</text>
<line x1="76.3" y1="184.7" x2="78.5" y2="184.7" stroke="#111" stroke-width="1.1"/>
<text x="70.6" y="197.22" font-size="7" fill="#222" stroke="#222" stroke-width="0.1" text-anchor="end" textLength="6.54" lengthAdjust="spacingAndGlyphs">10</text>
<text x="71" y="193.86" font-size="4.34" fill="#222" stroke="#222" stroke-width="0.07">3</text>
<line x1="76.3" y1="194.7" x2="78.5" y2="194.7" stroke="#111" stroke-width="1.1"/>
<text x="70.6" y="207.92" font-size="7" fill="#222" stroke="#222" stroke-width="0.1" text-anchor="end" textLength="6.54" lengthAdjust="spacingAndGlyphs">10</text>
<text x="71" y="204.56" font-size="4.34" fill="#222" stroke="#222" stroke-width="0.07">2</text>
<line x1="76.3" y1="205.4" x2="78.5" y2="205.4" stroke="#111" stroke-width="1.1"/>
<text x="71.2" y="217.2" font-size="7" fill="#222" stroke="#222" stroke-width="0.1" text-anchor="end" textLength="3.35" lengthAdjust="spacingAndGlyphs">0</text>
<line x1="76.3" y1="214.7" x2="78.5" y2="214.7" stroke="#111" stroke-width="1.1"/>
<path d="M77.3 171.1h1.2M77.3 173.5h1.2M77.3 175.9h1.2M77.3 178.3h1.2M77.3 180.7h1.2M77.3 183.1h1.2M77.3 185.5h1.2M77.3 187.9h1.2M77.3 190.3h1.2M77.3 192.7h1.2M77.3 195.1h1.2M77.3 197.5h1.2M77.3 199.9h1.2M77.3 202.3h1.2M77.3 204.7h1.2M77.3 207.1h1.2M77.3 209.5h1.2M77.3 211.9h1.2M77.3 214.3h1.2" stroke="#555" stroke-width="0.5"/>
<rect x="155.5" y="26.5" width="48.1" height="189.3" fill="none" stroke="#333" stroke-width="0.9"/>
<line x1="155.5" y1="74.6" x2="203.6" y2="74.6" stroke="#333" stroke-width="0.9"/>
<line x1="155.5" y1="122.3" x2="203.6" y2="122.3" stroke="#333" stroke-width="0.9"/>
<line x1="155.5" y1="168.9" x2="203.6" y2="168.9" stroke="#333" stroke-width="0.9"/>
<text x="147.6" y="33.52" font-size="7" fill="#222" stroke="#222" stroke-width="0.1" text-anchor="end" textLength="6.54" lengthAdjust="spacingAndGlyphs">10</text>
<text x="148" y="30.16" font-size="4.34" fill="#222" stroke="#222" stroke-width="0.07">5</text>
<line x1="153.3" y1="31" x2="155.5" y2="31" stroke="#111" stroke-width="1.1"/>
<text x="147.6" y="44.32" font-size="7" fill="#222" stroke="#222" stroke-width="0.1" text-anchor="end" textLength="6.54" lengthAdjust="spacingAndGlyphs">10</text>
<text x="148" y="40.96" font-size="4.34" fill="#222" stroke="#222" stroke-width="0.07">4</text>
<line x1="153.3" y1="41.8" x2="155.5" y2="41.8" stroke="#111" stroke-width="1.1"/>
<text x="147.6" y="54.92" font-size="7" fill="#222" stroke="#222" stroke-width="0.1" text-anchor="end" textLength="6.54" lengthAdjust="spacingAndGlyphs">10</text>
<text x="148" y="51.56" font-size="4.34" fill="#222" stroke="#222" stroke-width="0.07">3</text>
<line x1="153.3" y1="52.4" x2="155.5" y2="52.4" stroke="#111" stroke-width="1.1"/>
<text x="147.6" y="66.02" font-size="7" fill="#222" stroke="#222" stroke-width="0.1" text-anchor="end" textLength="6.54" lengthAdjust="spacingAndGlyphs">10</text>
<text x="148" y="62.66" font-size="4.34" fill="#222" stroke="#222" stroke-width="0.07">2</text>
<line x1="153.3" y1="63.5" x2="155.5" y2="63.5" stroke="#111" stroke-width="1.1"/>
<text x="148.2" y="73.4" font-size="7" fill="#222" stroke="#222" stroke-width="0.1" text-anchor="end" textLength="3.35" lengthAdjust="spacingAndGlyphs">0</text>
<line x1="153.3" y1="70.9" x2="155.5" y2="70.9" stroke="#111" stroke-width="1.1"/>
<path d="M154.3 28.5h1.2M154.3 30.9h1.2M154.3 33.3h1.2M154.3 35.7h1.2M154.3 38.1h1.2M154.3 40.5h1.2M154.3 42.9h1.2M154.3 45.3h1.2M154.3 47.7h1.2M154.3 50.1h1.2M154.3 52.5h1.2M154.3 54.9h1.2M154.3 57.3h1.2M154.3 59.7h1.2M154.3 62.1h1.2M154.3 64.5h1.2M154.3 66.9h1.2M154.3 69.3h1.2M154.3 71.7h1.2" stroke="#555" stroke-width="0.5"/>
<text x="147.6" y="81.62" font-size="7" fill="#222" stroke="#222" stroke-width="0.1" text-anchor="end" textLength="6.54" lengthAdjust="spacingAndGlyphs">10</text>
<text x="148" y="78.26" font-size="4.34" fill="#222" stroke="#222" stroke-width="0.07">5</text>
<line x1="153.3" y1="79.1" x2="155.5" y2="79.1" stroke="#111" stroke-width="1.1"/>
<text x="147.6" y="92.42" font-size="7" fill="#222" stroke="#222" stroke-width="0.1" text-anchor="end" textLength="6.54" lengthAdjust="spacingAndGlyphs">10</text>
<text x="148" y="89.06" font-size="4.34" fill="#222" stroke="#222" stroke-width="0.07">4</text>
<line x1="153.3" y1="89.9" x2="155.5" y2="89.9" stroke="#111" stroke-width="1.1"/>
<text x="147.6" y="103.02" font-size="7" fill="#222" stroke="#222" stroke-width="0.1" text-anchor="end" textLength="6.54" lengthAdjust="spacingAndGlyphs">10</text>
<text x="148" y="99.66" font-size="4.34" fill="#222" stroke="#222" stroke-width="0.07">3</text>
<line x1="153.3" y1="100.5" x2="155.5" y2="100.5" stroke="#111" stroke-width="1.1"/>
<text x="147.6" y="114.12" font-size="7" fill="#222" stroke="#222" stroke-width="0.1" text-anchor="end" textLength="6.54" lengthAdjust="spacingAndGlyphs">10</text>
<text x="148" y="110.76" font-size="4.34" fill="#222" stroke="#222" stroke-width="0.07">2</text>
<line x1="153.3" y1="111.6" x2="155.5" y2="111.6" stroke="#111" stroke-width="1.1"/>
<text x="148.2" y="121.5" font-size="7" fill="#222" stroke="#222" stroke-width="0.1" text-anchor="end" textLength="3.35" lengthAdjust="spacingAndGlyphs">0</text>
<line x1="153.3" y1="119" x2="155.5" y2="119" stroke="#111" stroke-width="1.1"/>
<path d="M154.3 76.6h1.2M154.3 79h1.2M154.3 81.4h1.2M154.3 83.8h1.2M154.3 86.2h1.2M154.3 88.6h1.2M154.3 91h1.2M154.3 93.4h1.2M154.3 95.8h1.2M154.3 98.2h1.2M154.3 100.6h1.2M154.3 103h1.2M154.3 105.4h1.2M154.3 107.8h1.2M154.3 110.2h1.2M154.3 112.6h1.2M154.3 115h1.2M154.3 117.4h1.2M154.3 119.8h1.2" stroke="#555" stroke-width="0.5"/>
<text x="147.6" y="129.32" font-size="7" fill="#222" stroke="#222" stroke-width="0.1" text-anchor="end" textLength="6.54" lengthAdjust="spacingAndGlyphs">10</text>
<text x="148" y="125.96" font-size="4.34" fill="#222" stroke="#222" stroke-width="0.07">5</text>
<line x1="153.3" y1="126.8" x2="155.5" y2="126.8" stroke="#111" stroke-width="1.1"/>
<text x="147.6" y="140.12" font-size="7" fill="#222" stroke="#222" stroke-width="0.1" text-anchor="end" textLength="6.54" lengthAdjust="spacingAndGlyphs">10</text>
<text x="148" y="136.76" font-size="4.34" fill="#222" stroke="#222" stroke-width="0.07">4</text>
<line x1="153.3" y1="137.6" x2="155.5" y2="137.6" stroke="#111" stroke-width="1.1"/>
<text x="147.6" y="150.72" font-size="7" fill="#222" stroke="#222" stroke-width="0.1" text-anchor="end" textLength="6.54" lengthAdjust="spacingAndGlyphs">10</text>
<text x="148" y="147.36" font-size="4.34" fill="#222" stroke="#222" stroke-width="0.07">3</text>
<line x1="153.3" y1="148.2" x2="155.5" y2="148.2" stroke="#111" stroke-width="1.1"/>
<text x="147.6" y="161.82" font-size="7" fill="#222" stroke="#222" stroke-width="0.1" text-anchor="end" textLength="6.54" lengthAdjust="spacingAndGlyphs">10</text>
<text x="148" y="158.46" font-size="4.34" fill="#222" stroke="#222" stroke-width="0.07">2</text>
<line x1="153.3" y1="159.3" x2="155.5" y2="159.3" stroke="#111" stroke-width="1.1"/>
<text x="148.2" y="169.2" font-size="7" fill="#222" stroke="#222" stroke-width="0.1" text-anchor="end" textLength="3.35" lengthAdjust="spacingAndGlyphs">0</text>
<line x1="153.3" y1="166.7" x2="155.5" y2="166.7" stroke="#111" stroke-width="1.1"/>
<path d="M154.3 124.3h1.2M154.3 126.7h1.2M154.3 129.1h1.2M154.3 131.5h1.2M154.3 133.9h1.2M154.3 136.3h1.2M154.3 138.7h1.2M154.3 141.1h1.2M154.3 143.5h1.2M154.3 145.9h1.2M154.3 148.3h1.2M154.3 150.7h1.2M154.3 153.1h1.2M154.3 155.5h1.2M154.3 157.9h1.2M154.3 160.3h1.2M154.3 162.7h1.2M154.3 165.1h1.2M154.3 167.5h1.2" stroke="#555" stroke-width="0.5"/>
<text x="147.6" y="175.92" font-size="7" fill="#222" stroke="#222" stroke-width="0.1" text-anchor="end" textLength="6.54" lengthAdjust="spacingAndGlyphs">10</text>
<text x="148" y="172.56" font-size="4.34" fill="#222" stroke="#222" stroke-width="0.07">5</text>
<line x1="153.3" y1="173.4" x2="155.5" y2="173.4" stroke="#111" stroke-width="1.1"/>
<text x="147.6" y="186.72" font-size="7" fill="#222" stroke="#222" stroke-width="0.1" text-anchor="end" textLength="6.54" lengthAdjust="spacingAndGlyphs">10</text>
<text x="148" y="183.36" font-size="4.34" fill="#222" stroke="#222" stroke-width="0.07">4</text>
<line x1="153.3" y1="184.2" x2="155.5" y2="184.2" stroke="#111" stroke-width="1.1"/>
<text x="147.6" y="197.32" font-size="7" fill="#222" stroke="#222" stroke-width="0.1" text-anchor="end" textLength="6.54" lengthAdjust="spacingAndGlyphs">10</text>
<text x="148" y="193.96" font-size="4.34" fill="#222" stroke="#222" stroke-width="0.07">3</text>
<line x1="153.3" y1="194.8" x2="155.5" y2="194.8" stroke="#111" stroke-width="1.1"/>
<text x="147.6" y="208.42" font-size="7" fill="#222" stroke="#222" stroke-width="0.1" text-anchor="end" textLength="6.54" lengthAdjust="spacingAndGlyphs">10</text>
<text x="148" y="205.06" font-size="4.34" fill="#222" stroke="#222" stroke-width="0.07">2</text>
<line x1="153.3" y1="205.9" x2="155.5" y2="205.9" stroke="#111" stroke-width="1.1"/>
<text x="148.2" y="215.8" font-size="7" fill="#222" stroke="#222" stroke-width="0.1" text-anchor="end" textLength="3.35" lengthAdjust="spacingAndGlyphs">0</text>
<line x1="153.3" y1="213.3" x2="155.5" y2="213.3" stroke="#111" stroke-width="1.1"/>
<path d="M154.3 170.9h1.2M154.3 173.3h1.2M154.3 175.7h1.2M154.3 178.1h1.2M154.3 180.5h1.2M154.3 182.9h1.2M154.3 185.3h1.2M154.3 187.7h1.2M154.3 190.1h1.2M154.3 192.5h1.2M154.3 194.9h1.2M154.3 197.3h1.2M154.3 199.7h1.2M154.3 202.1h1.2M154.3 204.5h1.2M154.3 206.9h1.2M154.3 209.3h1.2M154.3 211.7h1.2M154.3 214.1h1.2" stroke="#555" stroke-width="0.5"/>
<rect x="305" y="27.3" width="47.5" height="188.9" fill="none" stroke="#333" stroke-width="0.9"/>
<line x1="305" y1="74.4" x2="352.5" y2="74.4" stroke="#333" stroke-width="0.9"/>
<line x1="305" y1="121.2" x2="352.5" y2="121.2" stroke="#333" stroke-width="0.9"/>
<line x1="305" y1="168.5" x2="352.5" y2="168.5" stroke="#333" stroke-width="0.9"/>
<text x="297.1" y="33.92" font-size="7" fill="#222" stroke="#222" stroke-width="0.1" text-anchor="end" textLength="6.54" lengthAdjust="spacingAndGlyphs">10</text>
<text x="297.5" y="30.56" font-size="4.34" fill="#222" stroke="#222" stroke-width="0.07">5</text>
<line x1="302.8" y1="31.4" x2="305" y2="31.4" stroke="#111" stroke-width="1.1"/>
<text x="297.1" y="45.02" font-size="7" fill="#222" stroke="#222" stroke-width="0.1" text-anchor="end" textLength="6.54" lengthAdjust="spacingAndGlyphs">10</text>
<text x="297.5" y="41.66" font-size="4.34" fill="#222" stroke="#222" stroke-width="0.07">4</text>
<line x1="302.8" y1="42.5" x2="305" y2="42.5" stroke="#111" stroke-width="1.1"/>
<text x="297.1" y="55.82" font-size="7" fill="#222" stroke="#222" stroke-width="0.1" text-anchor="end" textLength="6.54" lengthAdjust="spacingAndGlyphs">10</text>
<text x="297.5" y="52.46" font-size="4.34" fill="#222" stroke="#222" stroke-width="0.07">3</text>
<line x1="302.8" y1="53.3" x2="305" y2="53.3" stroke="#111" stroke-width="1.1"/>
<text x="297.1" y="66.22" font-size="7" fill="#222" stroke="#222" stroke-width="0.1" text-anchor="end" textLength="6.54" lengthAdjust="spacingAndGlyphs">10</text>
<text x="297.5" y="62.86" font-size="4.34" fill="#222" stroke="#222" stroke-width="0.07">2</text>
<line x1="302.8" y1="63.7" x2="305" y2="63.7" stroke="#111" stroke-width="1.1"/>
<text x="297.7" y="74.6" font-size="7" fill="#222" stroke="#222" stroke-width="0.1" text-anchor="end" textLength="3.35" lengthAdjust="spacingAndGlyphs">0</text>
<line x1="302.8" y1="72.1" x2="305" y2="72.1" stroke="#111" stroke-width="1.1"/>
<path d="M303.8 29.3h1.2M303.8 31.7h1.2M303.8 34.1h1.2M303.8 36.5h1.2M303.8 38.9h1.2M303.8 41.3h1.2M303.8 43.7h1.2M303.8 46.1h1.2M303.8 48.5h1.2M303.8 50.9h1.2M303.8 53.3h1.2M303.8 55.7h1.2M303.8 58.1h1.2M303.8 60.5h1.2M303.8 62.9h1.2M303.8 65.3h1.2M303.8 67.7h1.2M303.8 70.1h1.2M303.8 72.5h1.2" stroke="#555" stroke-width="0.5"/>
<text x="297.1" y="81.02" font-size="7" fill="#222" stroke="#222" stroke-width="0.1" text-anchor="end" textLength="6.54" lengthAdjust="spacingAndGlyphs">10</text>
<text x="297.5" y="77.66" font-size="4.34" fill="#222" stroke="#222" stroke-width="0.07">5</text>
<line x1="302.8" y1="78.5" x2="305" y2="78.5" stroke="#111" stroke-width="1.1"/>
<text x="297.1" y="92.12" font-size="7" fill="#222" stroke="#222" stroke-width="0.1" text-anchor="end" textLength="6.54" lengthAdjust="spacingAndGlyphs">10</text>
<text x="297.5" y="88.76" font-size="4.34" fill="#222" stroke="#222" stroke-width="0.07">4</text>
<line x1="302.8" y1="89.6" x2="305" y2="89.6" stroke="#111" stroke-width="1.1"/>
<text x="297.1" y="102.92" font-size="7" fill="#222" stroke="#222" stroke-width="0.1" text-anchor="end" textLength="6.54" lengthAdjust="spacingAndGlyphs">10</text>
<text x="297.5" y="99.56" font-size="4.34" fill="#222" stroke="#222" stroke-width="0.07">3</text>
<line x1="302.8" y1="100.4" x2="305" y2="100.4" stroke="#111" stroke-width="1.1"/>
<text x="297.1" y="113.32" font-size="7" fill="#222" stroke="#222" stroke-width="0.1" text-anchor="end" textLength="6.54" lengthAdjust="spacingAndGlyphs">10</text>
<text x="297.5" y="109.96" font-size="4.34" fill="#222" stroke="#222" stroke-width="0.07">2</text>
<line x1="302.8" y1="110.8" x2="305" y2="110.8" stroke="#111" stroke-width="1.1"/>
<text x="297.7" y="121.7" font-size="7" fill="#222" stroke="#222" stroke-width="0.1" text-anchor="end" textLength="3.35" lengthAdjust="spacingAndGlyphs">0</text>
<line x1="302.8" y1="119.2" x2="305" y2="119.2" stroke="#111" stroke-width="1.1"/>
<path d="M303.8 76.4h1.2M303.8 78.8h1.2M303.8 81.2h1.2M303.8 83.6h1.2M303.8 86h1.2M303.8 88.4h1.2M303.8 90.8h1.2M303.8 93.2h1.2M303.8 95.6h1.2M303.8 98h1.2M303.8 100.4h1.2M303.8 102.8h1.2M303.8 105.2h1.2M303.8 107.6h1.2M303.8 110h1.2M303.8 112.4h1.2M303.8 114.8h1.2M303.8 117.2h1.2M303.8 119.6h1.2" stroke="#555" stroke-width="0.5"/>
<text x="297.1" y="127.82" font-size="7" fill="#222" stroke="#222" stroke-width="0.1" text-anchor="end" textLength="6.54" lengthAdjust="spacingAndGlyphs">10</text>
<text x="297.5" y="124.46" font-size="4.34" fill="#222" stroke="#222" stroke-width="0.07">5</text>
<line x1="302.8" y1="125.3" x2="305" y2="125.3" stroke="#111" stroke-width="1.1"/>
<text x="297.1" y="138.92" font-size="7" fill="#222" stroke="#222" stroke-width="0.1" text-anchor="end" textLength="6.54" lengthAdjust="spacingAndGlyphs">10</text>
<text x="297.5" y="135.56" font-size="4.34" fill="#222" stroke="#222" stroke-width="0.07">4</text>
<line x1="302.8" y1="136.4" x2="305" y2="136.4" stroke="#111" stroke-width="1.1"/>
<text x="297.1" y="149.72" font-size="7" fill="#222" stroke="#222" stroke-width="0.1" text-anchor="end" textLength="6.54" lengthAdjust="spacingAndGlyphs">10</text>
<text x="297.5" y="146.36" font-size="4.34" fill="#222" stroke="#222" stroke-width="0.07">3</text>
<line x1="302.8" y1="147.2" x2="305" y2="147.2" stroke="#111" stroke-width="1.1"/>
<text x="297.1" y="160.12" font-size="7" fill="#222" stroke="#222" stroke-width="0.1" text-anchor="end" textLength="6.54" lengthAdjust="spacingAndGlyphs">10</text>
<text x="297.5" y="156.76" font-size="4.34" fill="#222" stroke="#222" stroke-width="0.07">2</text>
<line x1="302.8" y1="157.6" x2="305" y2="157.6" stroke="#111" stroke-width="1.1"/>
<text x="297.7" y="168.5" font-size="7" fill="#222" stroke="#222" stroke-width="0.1" text-anchor="end" textLength="3.35" lengthAdjust="spacingAndGlyphs">0</text>
<line x1="302.8" y1="166" x2="305" y2="166" stroke="#111" stroke-width="1.1"/>
<path d="M303.8 123.2h1.2M303.8 125.6h1.2M303.8 128h1.2M303.8 130.4h1.2M303.8 132.8h1.2M303.8 135.2h1.2M303.8 137.6h1.2M303.8 140h1.2M303.8 142.4h1.2M303.8 144.8h1.2M303.8 147.2h1.2M303.8 149.6h1.2M303.8 152h1.2M303.8 154.4h1.2M303.8 156.8h1.2M303.8 159.2h1.2M303.8 161.6h1.2M303.8 164h1.2M303.8 166.4h1.2" stroke="#555" stroke-width="0.5"/>
<text x="297.1" y="175.12" font-size="7" fill="#222" stroke="#222" stroke-width="0.1" text-anchor="end" textLength="6.54" lengthAdjust="spacingAndGlyphs">10</text>
<text x="297.5" y="171.76" font-size="4.34" fill="#222" stroke="#222" stroke-width="0.07">5</text>
<line x1="302.8" y1="172.6" x2="305" y2="172.6" stroke="#111" stroke-width="1.1"/>
<text x="297.1" y="186.22" font-size="7" fill="#222" stroke="#222" stroke-width="0.1" text-anchor="end" textLength="6.54" lengthAdjust="spacingAndGlyphs">10</text>
<text x="297.5" y="182.86" font-size="4.34" fill="#222" stroke="#222" stroke-width="0.07">4</text>
<line x1="302.8" y1="183.7" x2="305" y2="183.7" stroke="#111" stroke-width="1.1"/>
<text x="297.1" y="197.02" font-size="7" fill="#222" stroke="#222" stroke-width="0.1" text-anchor="end" textLength="6.54" lengthAdjust="spacingAndGlyphs">10</text>
<text x="297.5" y="193.66" font-size="4.34" fill="#222" stroke="#222" stroke-width="0.07">3</text>
<line x1="302.8" y1="194.5" x2="305" y2="194.5" stroke="#111" stroke-width="1.1"/>
<text x="297.1" y="207.42" font-size="7" fill="#222" stroke="#222" stroke-width="0.1" text-anchor="end" textLength="6.54" lengthAdjust="spacingAndGlyphs">10</text>
<text x="297.5" y="204.06" font-size="4.34" fill="#222" stroke="#222" stroke-width="0.07">2</text>
<line x1="302.8" y1="204.9" x2="305" y2="204.9" stroke="#111" stroke-width="1.1"/>
<text x="297.7" y="215.8" font-size="7" fill="#222" stroke="#222" stroke-width="0.1" text-anchor="end" textLength="3.35" lengthAdjust="spacingAndGlyphs">0</text>
<line x1="302.8" y1="213.3" x2="305" y2="213.3" stroke="#111" stroke-width="1.1"/>
<path d="M303.8 170.5h1.2M303.8 172.9h1.2M303.8 175.3h1.2M303.8 177.7h1.2M303.8 180.1h1.2M303.8 182.5h1.2M303.8 184.9h1.2M303.8 187.3h1.2M303.8 189.7h1.2M303.8 192.1h1.2M303.8 194.5h1.2M303.8 196.9h1.2M303.8 199.3h1.2M303.8 201.7h1.2M303.8 204.1h1.2M303.8 206.5h1.2M303.8 208.9h1.2M303.8 211.3h1.2M303.8 213.7h1.2" stroke="#555" stroke-width="0.5"/>
<rect x="388.5" y="27.3" width="47.5" height="188.5" fill="none" stroke="#333" stroke-width="0.9"/>
<line x1="388.5" y1="74.6" x2="436" y2="74.6" stroke="#333" stroke-width="0.9"/>
<line x1="388.5" y1="121" x2="436" y2="121" stroke="#333" stroke-width="0.9"/>
<line x1="388.5" y1="169" x2="436" y2="169" stroke="#333" stroke-width="0.9"/>
<text x="380.6" y="33.92" font-size="7" fill="#222" stroke="#222" stroke-width="0.1" text-anchor="end" textLength="6.54" lengthAdjust="spacingAndGlyphs">10</text>
<text x="381" y="30.56" font-size="4.34" fill="#222" stroke="#222" stroke-width="0.07">5</text>
<line x1="386.3" y1="31.4" x2="388.5" y2="31.4" stroke="#111" stroke-width="1.1"/>
<text x="380.6" y="45.02" font-size="7" fill="#222" stroke="#222" stroke-width="0.1" text-anchor="end" textLength="6.54" lengthAdjust="spacingAndGlyphs">10</text>
<text x="381" y="41.66" font-size="4.34" fill="#222" stroke="#222" stroke-width="0.07">4</text>
<line x1="386.3" y1="42.5" x2="388.5" y2="42.5" stroke="#111" stroke-width="1.1"/>
<text x="380.6" y="56.12" font-size="7" fill="#222" stroke="#222" stroke-width="0.1" text-anchor="end" textLength="6.54" lengthAdjust="spacingAndGlyphs">10</text>
<text x="381" y="52.76" font-size="4.34" fill="#222" stroke="#222" stroke-width="0.07">3</text>
<line x1="386.3" y1="53.6" x2="388.5" y2="53.6" stroke="#111" stroke-width="1.1"/>
<text x="380.6" y="66.52" font-size="7" fill="#222" stroke="#222" stroke-width="0.1" text-anchor="end" textLength="6.54" lengthAdjust="spacingAndGlyphs">10</text>
<text x="381" y="63.16" font-size="4.34" fill="#222" stroke="#222" stroke-width="0.07">2</text>
<line x1="386.3" y1="64" x2="388.5" y2="64" stroke="#111" stroke-width="1.1"/>
<text x="381.2" y="72.4" font-size="7" fill="#222" stroke="#222" stroke-width="0.1" text-anchor="end" textLength="3.35" lengthAdjust="spacingAndGlyphs">0</text>
<line x1="386.3" y1="69.9" x2="388.5" y2="69.9" stroke="#111" stroke-width="1.1"/>
<path d="M387.3 29.3h1.2M387.3 31.7h1.2M387.3 34.1h1.2M387.3 36.5h1.2M387.3 38.9h1.2M387.3 41.3h1.2M387.3 43.7h1.2M387.3 46.1h1.2M387.3 48.5h1.2M387.3 50.9h1.2M387.3 53.3h1.2M387.3 55.7h1.2M387.3 58.1h1.2M387.3 60.5h1.2M387.3 62.9h1.2M387.3 65.3h1.2M387.3 67.7h1.2M387.3 70.1h1.2M387.3 72.5h1.2" stroke="#555" stroke-width="0.5"/>
<text x="380.6" y="81.22" font-size="7" fill="#222" stroke="#222" stroke-width="0.1" text-anchor="end" textLength="6.54" lengthAdjust="spacingAndGlyphs">10</text>
<text x="381" y="77.86" font-size="4.34" fill="#222" stroke="#222" stroke-width="0.07">5</text>
<line x1="386.3" y1="78.7" x2="388.5" y2="78.7" stroke="#111" stroke-width="1.1"/>
<text x="380.6" y="92.32" font-size="7" fill="#222" stroke="#222" stroke-width="0.1" text-anchor="end" textLength="6.54" lengthAdjust="spacingAndGlyphs">10</text>
<text x="381" y="88.96" font-size="4.34" fill="#222" stroke="#222" stroke-width="0.07">4</text>
<line x1="386.3" y1="89.8" x2="388.5" y2="89.8" stroke="#111" stroke-width="1.1"/>
<text x="380.6" y="103.42" font-size="7" fill="#222" stroke="#222" stroke-width="0.1" text-anchor="end" textLength="6.54" lengthAdjust="spacingAndGlyphs">10</text>
<text x="381" y="100.06" font-size="4.34" fill="#222" stroke="#222" stroke-width="0.07">3</text>
<line x1="386.3" y1="100.9" x2="388.5" y2="100.9" stroke="#111" stroke-width="1.1"/>
<text x="380.6" y="113.82" font-size="7" fill="#222" stroke="#222" stroke-width="0.1" text-anchor="end" textLength="6.54" lengthAdjust="spacingAndGlyphs">10</text>
<text x="381" y="110.46" font-size="4.34" fill="#222" stroke="#222" stroke-width="0.07">2</text>
<line x1="386.3" y1="111.3" x2="388.5" y2="111.3" stroke="#111" stroke-width="1.1"/>
<text x="381.2" y="119.7" font-size="7" fill="#222" stroke="#222" stroke-width="0.1" text-anchor="end" textLength="3.35" lengthAdjust="spacingAndGlyphs">0</text>
<line x1="386.3" y1="117.2" x2="388.5" y2="117.2" stroke="#111" stroke-width="1.1"/>
<path d="M387.3 76.6h1.2M387.3 79h1.2M387.3 81.4h1.2M387.3 83.8h1.2M387.3 86.2h1.2M387.3 88.6h1.2M387.3 91h1.2M387.3 93.4h1.2M387.3 95.8h1.2M387.3 98.2h1.2M387.3 100.6h1.2M387.3 103h1.2M387.3 105.4h1.2M387.3 107.8h1.2M387.3 110.2h1.2M387.3 112.6h1.2M387.3 115h1.2M387.3 117.4h1.2M387.3 119.8h1.2" stroke="#555" stroke-width="0.5"/>
<text x="380.6" y="127.62" font-size="7" fill="#222" stroke="#222" stroke-width="0.1" text-anchor="end" textLength="6.54" lengthAdjust="spacingAndGlyphs">10</text>
<text x="381" y="124.26" font-size="4.34" fill="#222" stroke="#222" stroke-width="0.07">5</text>
<line x1="386.3" y1="125.1" x2="388.5" y2="125.1" stroke="#111" stroke-width="1.1"/>
<text x="380.6" y="138.72" font-size="7" fill="#222" stroke="#222" stroke-width="0.1" text-anchor="end" textLength="6.54" lengthAdjust="spacingAndGlyphs">10</text>
<text x="381" y="135.36" font-size="4.34" fill="#222" stroke="#222" stroke-width="0.07">4</text>
<line x1="386.3" y1="136.2" x2="388.5" y2="136.2" stroke="#111" stroke-width="1.1"/>
<text x="380.6" y="149.82" font-size="7" fill="#222" stroke="#222" stroke-width="0.1" text-anchor="end" textLength="6.54" lengthAdjust="spacingAndGlyphs">10</text>
<text x="381" y="146.46" font-size="4.34" fill="#222" stroke="#222" stroke-width="0.07">3</text>
<line x1="386.3" y1="147.3" x2="388.5" y2="147.3" stroke="#111" stroke-width="1.1"/>
<text x="380.6" y="160.22" font-size="7" fill="#222" stroke="#222" stroke-width="0.1" text-anchor="end" textLength="6.54" lengthAdjust="spacingAndGlyphs">10</text>
<text x="381" y="156.86" font-size="4.34" fill="#222" stroke="#222" stroke-width="0.07">2</text>
<line x1="386.3" y1="157.7" x2="388.5" y2="157.7" stroke="#111" stroke-width="1.1"/>
<text x="381.2" y="166.1" font-size="7" fill="#222" stroke="#222" stroke-width="0.1" text-anchor="end" textLength="3.35" lengthAdjust="spacingAndGlyphs">0</text>
<line x1="386.3" y1="163.6" x2="388.5" y2="163.6" stroke="#111" stroke-width="1.1"/>
<path d="M387.3 123h1.2M387.3 125.4h1.2M387.3 127.8h1.2M387.3 130.2h1.2M387.3 132.6h1.2M387.3 135h1.2M387.3 137.4h1.2M387.3 139.8h1.2M387.3 142.2h1.2M387.3 144.6h1.2M387.3 147h1.2M387.3 149.4h1.2M387.3 151.8h1.2M387.3 154.2h1.2M387.3 156.6h1.2M387.3 159h1.2M387.3 161.4h1.2M387.3 163.8h1.2M387.3 166.2h1.2" stroke="#555" stroke-width="0.5"/>
<text x="380.6" y="175.62" font-size="7" fill="#222" stroke="#222" stroke-width="0.1" text-anchor="end" textLength="6.54" lengthAdjust="spacingAndGlyphs">10</text>
<text x="381" y="172.26" font-size="4.34" fill="#222" stroke="#222" stroke-width="0.07">5</text>
<line x1="386.3" y1="173.1" x2="388.5" y2="173.1" stroke="#111" stroke-width="1.1"/>
<text x="380.6" y="186.72" font-size="7" fill="#222" stroke="#222" stroke-width="0.1" text-anchor="end" textLength="6.54" lengthAdjust="spacingAndGlyphs">10</text>
<text x="381" y="183.36" font-size="4.34" fill="#222" stroke="#222" stroke-width="0.07">4</text>
<line x1="386.3" y1="184.2" x2="388.5" y2="184.2" stroke="#111" stroke-width="1.1"/>
<text x="380.6" y="197.82" font-size="7" fill="#222" stroke="#222" stroke-width="0.1" text-anchor="end" textLength="6.54" lengthAdjust="spacingAndGlyphs">10</text>
<text x="381" y="194.46" font-size="4.34" fill="#222" stroke="#222" stroke-width="0.07">3</text>
<line x1="386.3" y1="195.3" x2="388.5" y2="195.3" stroke="#111" stroke-width="1.1"/>
<text x="380.6" y="208.22" font-size="7" fill="#222" stroke="#222" stroke-width="0.1" text-anchor="end" textLength="6.54" lengthAdjust="spacingAndGlyphs">10</text>
<text x="381" y="204.86" font-size="4.34" fill="#222" stroke="#222" stroke-width="0.07">2</text>
<line x1="386.3" y1="205.7" x2="388.5" y2="205.7" stroke="#111" stroke-width="1.1"/>
<text x="381.2" y="214.1" font-size="7" fill="#222" stroke="#222" stroke-width="0.1" text-anchor="end" textLength="3.35" lengthAdjust="spacingAndGlyphs">0</text>
<line x1="386.3" y1="211.6" x2="388.5" y2="211.6" stroke="#111" stroke-width="1.1"/>
<path d="M387.3 171h1.2M387.3 173.4h1.2M387.3 175.8h1.2M387.3 178.2h1.2M387.3 180.6h1.2M387.3 183h1.2M387.3 185.4h1.2M387.3 187.8h1.2M387.3 190.2h1.2M387.3 192.6h1.2M387.3 195h1.2M387.3 197.4h1.2M387.3 199.8h1.2M387.3 202.2h1.2M387.3 204.6h1.2M387.3 207h1.2M387.3 209.4h1.2M387.3 211.8h1.2M387.3 214.2h1.2" stroke="#555" stroke-width="0.5"/>
<rect x="463.2" y="27.3" width="48" height="188.5" fill="none" stroke="#333" stroke-width="0.9"/>
<line x1="463.2" y1="75" x2="511.2" y2="75" stroke="#333" stroke-width="0.9"/>
<line x1="463.2" y1="121.5" x2="511.2" y2="121.5" stroke="#333" stroke-width="0.9"/>
<line x1="463.2" y1="169" x2="511.2" y2="169" stroke="#333" stroke-width="0.9"/>
<text x="455.3" y="33.92" font-size="7" fill="#222" stroke="#222" stroke-width="0.1" text-anchor="end" textLength="6.54" lengthAdjust="spacingAndGlyphs">10</text>
<text x="455.7" y="30.56" font-size="4.34" fill="#222" stroke="#222" stroke-width="0.07">5</text>
<line x1="461" y1="31.4" x2="463.2" y2="31.4" stroke="#111" stroke-width="1.1"/>
<text x="455.3" y="45.02" font-size="7" fill="#222" stroke="#222" stroke-width="0.1" text-anchor="end" textLength="6.54" lengthAdjust="spacingAndGlyphs">10</text>
<text x="455.7" y="41.66" font-size="4.34" fill="#222" stroke="#222" stroke-width="0.07">4</text>
<line x1="461" y1="42.5" x2="463.2" y2="42.5" stroke="#111" stroke-width="1.1"/>
<text x="455.3" y="55.82" font-size="7" fill="#222" stroke="#222" stroke-width="0.1" text-anchor="end" textLength="6.54" lengthAdjust="spacingAndGlyphs">10</text>
<text x="455.7" y="52.46" font-size="4.34" fill="#222" stroke="#222" stroke-width="0.07">3</text>
<line x1="461" y1="53.3" x2="463.2" y2="53.3" stroke="#111" stroke-width="1.1"/>
<text x="455.3" y="66.52" font-size="7" fill="#222" stroke="#222" stroke-width="0.1" text-anchor="end" textLength="6.54" lengthAdjust="spacingAndGlyphs">10</text>
<text x="455.7" y="63.16" font-size="4.34" fill="#222" stroke="#222" stroke-width="0.07">2</text>
<line x1="461" y1="64" x2="463.2" y2="64" stroke="#111" stroke-width="1.1"/>
<text x="455.9" y="73.5" font-size="7" fill="#222" stroke="#222" stroke-width="0.1" text-anchor="end" textLength="3.35" lengthAdjust="spacingAndGlyphs">0</text>
<line x1="461" y1="71" x2="463.2" y2="71" stroke="#111" stroke-width="1.1"/>
<path d="M462 29.3h1.2M462 31.7h1.2M462 34.1h1.2M462 36.5h1.2M462 38.9h1.2M462 41.3h1.2M462 43.7h1.2M462 46.1h1.2M462 48.5h1.2M462 50.9h1.2M462 53.3h1.2M462 55.7h1.2M462 58.1h1.2M462 60.5h1.2M462 62.9h1.2M462 65.3h1.2M462 67.7h1.2M462 70.1h1.2M462 72.5h1.2" stroke="#555" stroke-width="0.5"/>
<text x="455.3" y="81.62" font-size="7" fill="#222" stroke="#222" stroke-width="0.1" text-anchor="end" textLength="6.54" lengthAdjust="spacingAndGlyphs">10</text>
<text x="455.7" y="78.26" font-size="4.34" fill="#222" stroke="#222" stroke-width="0.07">5</text>
<line x1="461" y1="79.1" x2="463.2" y2="79.1" stroke="#111" stroke-width="1.1"/>
<text x="455.3" y="92.72" font-size="7" fill="#222" stroke="#222" stroke-width="0.1" text-anchor="end" textLength="6.54" lengthAdjust="spacingAndGlyphs">10</text>
<text x="455.7" y="89.36" font-size="4.34" fill="#222" stroke="#222" stroke-width="0.07">4</text>
<line x1="461" y1="90.2" x2="463.2" y2="90.2" stroke="#111" stroke-width="1.1"/>
<text x="455.3" y="103.52" font-size="7" fill="#222" stroke="#222" stroke-width="0.1" text-anchor="end" textLength="6.54" lengthAdjust="spacingAndGlyphs">10</text>
<text x="455.7" y="100.16" font-size="4.34" fill="#222" stroke="#222" stroke-width="0.07">3</text>
<line x1="461" y1="101" x2="463.2" y2="101" stroke="#111" stroke-width="1.1"/>
<text x="455.3" y="114.22" font-size="7" fill="#222" stroke="#222" stroke-width="0.1" text-anchor="end" textLength="6.54" lengthAdjust="spacingAndGlyphs">10</text>
<text x="455.7" y="110.86" font-size="4.34" fill="#222" stroke="#222" stroke-width="0.07">2</text>
<line x1="461" y1="111.7" x2="463.2" y2="111.7" stroke="#111" stroke-width="1.1"/>
<text x="455.9" y="121.2" font-size="7" fill="#222" stroke="#222" stroke-width="0.1" text-anchor="end" textLength="3.35" lengthAdjust="spacingAndGlyphs">0</text>
<line x1="461" y1="118.7" x2="463.2" y2="118.7" stroke="#111" stroke-width="1.1"/>
<path d="M462 77h1.2M462 79.4h1.2M462 81.8h1.2M462 84.2h1.2M462 86.6h1.2M462 89h1.2M462 91.4h1.2M462 93.8h1.2M462 96.2h1.2M462 98.6h1.2M462 101h1.2M462 103.4h1.2M462 105.8h1.2M462 108.2h1.2M462 110.6h1.2M462 113h1.2M462 115.4h1.2M462 117.8h1.2M462 120.2h1.2" stroke="#555" stroke-width="0.5"/>
<text x="455.3" y="128.12" font-size="7" fill="#222" stroke="#222" stroke-width="0.1" text-anchor="end" textLength="6.54" lengthAdjust="spacingAndGlyphs">10</text>
<text x="455.7" y="124.76" font-size="4.34" fill="#222" stroke="#222" stroke-width="0.07">5</text>
<line x1="461" y1="125.6" x2="463.2" y2="125.6" stroke="#111" stroke-width="1.1"/>
<text x="455.3" y="139.22" font-size="7" fill="#222" stroke="#222" stroke-width="0.1" text-anchor="end" textLength="6.54" lengthAdjust="spacingAndGlyphs">10</text>
<text x="455.7" y="135.86" font-size="4.34" fill="#222" stroke="#222" stroke-width="0.07">4</text>
<line x1="461" y1="136.7" x2="463.2" y2="136.7" stroke="#111" stroke-width="1.1"/>
<text x="455.3" y="150.02" font-size="7" fill="#222" stroke="#222" stroke-width="0.1" text-anchor="end" textLength="6.54" lengthAdjust="spacingAndGlyphs">10</text>
<text x="455.7" y="146.66" font-size="4.34" fill="#222" stroke="#222" stroke-width="0.07">3</text>
<line x1="461" y1="147.5" x2="463.2" y2="147.5" stroke="#111" stroke-width="1.1"/>
<text x="455.3" y="160.72" font-size="7" fill="#222" stroke="#222" stroke-width="0.1" text-anchor="end" textLength="6.54" lengthAdjust="spacingAndGlyphs">10</text>
<text x="455.7" y="157.36" font-size="4.34" fill="#222" stroke="#222" stroke-width="0.07">2</text>
<line x1="461" y1="158.2" x2="463.2" y2="158.2" stroke="#111" stroke-width="1.1"/>
<text x="455.9" y="167.7" font-size="7" fill="#222" stroke="#222" stroke-width="0.1" text-anchor="end" textLength="3.35" lengthAdjust="spacingAndGlyphs">0</text>
<line x1="461" y1="165.2" x2="463.2" y2="165.2" stroke="#111" stroke-width="1.1"/>
<path d="M462 123.5h1.2M462 125.9h1.2M462 128.3h1.2M462 130.7h1.2M462 133.1h1.2M462 135.5h1.2M462 137.9h1.2M462 140.3h1.2M462 142.7h1.2M462 145.1h1.2M462 147.5h1.2M462 149.9h1.2M462 152.3h1.2M462 154.7h1.2M462 157.1h1.2M462 159.5h1.2M462 161.9h1.2M462 164.3h1.2M462 166.7h1.2" stroke="#555" stroke-width="0.5"/>
<text x="455.3" y="175.62" font-size="7" fill="#222" stroke="#222" stroke-width="0.1" text-anchor="end" textLength="6.54" lengthAdjust="spacingAndGlyphs">10</text>
<text x="455.7" y="172.26" font-size="4.34" fill="#222" stroke="#222" stroke-width="0.07">5</text>
<line x1="461" y1="173.1" x2="463.2" y2="173.1" stroke="#111" stroke-width="1.1"/>
<text x="455.3" y="186.72" font-size="7" fill="#222" stroke="#222" stroke-width="0.1" text-anchor="end" textLength="6.54" lengthAdjust="spacingAndGlyphs">10</text>
<text x="455.7" y="183.36" font-size="4.34" fill="#222" stroke="#222" stroke-width="0.07">4</text>
<line x1="461" y1="184.2" x2="463.2" y2="184.2" stroke="#111" stroke-width="1.1"/>
<text x="455.3" y="197.52" font-size="7" fill="#222" stroke="#222" stroke-width="0.1" text-anchor="end" textLength="6.54" lengthAdjust="spacingAndGlyphs">10</text>
<text x="455.7" y="194.16" font-size="4.34" fill="#222" stroke="#222" stroke-width="0.07">3</text>
<line x1="461" y1="195" x2="463.2" y2="195" stroke="#111" stroke-width="1.1"/>
<text x="455.3" y="208.22" font-size="7" fill="#222" stroke="#222" stroke-width="0.1" text-anchor="end" textLength="6.54" lengthAdjust="spacingAndGlyphs">10</text>
<text x="455.7" y="204.86" font-size="4.34" fill="#222" stroke="#222" stroke-width="0.07">2</text>
<line x1="461" y1="205.7" x2="463.2" y2="205.7" stroke="#111" stroke-width="1.1"/>
<text x="455.9" y="215.2" font-size="7" fill="#222" stroke="#222" stroke-width="0.1" text-anchor="end" textLength="3.35" lengthAdjust="spacingAndGlyphs">0</text>
<line x1="461" y1="212.7" x2="463.2" y2="212.7" stroke="#111" stroke-width="1.1"/>
<path d="M462 171h1.2M462 173.4h1.2M462 175.8h1.2M462 178.2h1.2M462 180.6h1.2M462 183h1.2M462 185.4h1.2M462 187.8h1.2M462 190.2h1.2M462 192.6h1.2M462 195h1.2M462 197.4h1.2M462 199.8h1.2M462 202.2h1.2M462 204.6h1.2M462 207h1.2M462 209.4h1.2M462 211.8h1.2M462 214.2h1.2" stroke="#555" stroke-width="0.5"/>
<rect x="379" y="290.7" width="47.5" height="188.9" fill="none" stroke="#333" stroke-width="0.9"/>
<line x1="379" y1="338.5" x2="426.5" y2="338.5" stroke="#333" stroke-width="0.9"/>
<line x1="379" y1="384.5" x2="426.5" y2="384.5" stroke="#333" stroke-width="0.9"/>
<line x1="379" y1="432.4" x2="426.5" y2="432.4" stroke="#333" stroke-width="0.9"/>
<text x="371.1" y="298.02" font-size="7" fill="#222" stroke="#222" stroke-width="0.1" text-anchor="end" textLength="6.54" lengthAdjust="spacingAndGlyphs">10</text>
<text x="371.5" y="294.66" font-size="4.34" fill="#222" stroke="#222" stroke-width="0.07">5</text>
<line x1="376.8" y1="295.5" x2="379" y2="295.5" stroke="#111" stroke-width="1.1"/>
<text x="371.1" y="308.32" font-size="7" fill="#222" stroke="#222" stroke-width="0.1" text-anchor="end" textLength="6.54" lengthAdjust="spacingAndGlyphs">10</text>
<text x="371.5" y="304.96" font-size="4.34" fill="#222" stroke="#222" stroke-width="0.07">4</text>
<line x1="376.8" y1="305.8" x2="379" y2="305.8" stroke="#111" stroke-width="1.1"/>
<text x="371.1" y="319.42" font-size="7" fill="#222" stroke="#222" stroke-width="0.1" text-anchor="end" textLength="6.54" lengthAdjust="spacingAndGlyphs">10</text>
<text x="371.5" y="316.06" font-size="4.34" fill="#222" stroke="#222" stroke-width="0.07">3</text>
<line x1="376.8" y1="316.9" x2="379" y2="316.9" stroke="#111" stroke-width="1.1"/>
<text x="371.1" y="330.52" font-size="7" fill="#222" stroke="#222" stroke-width="0.1" text-anchor="end" textLength="6.54" lengthAdjust="spacingAndGlyphs">10</text>
<text x="371.5" y="327.16" font-size="4.34" fill="#222" stroke="#222" stroke-width="0.07">2</text>
<line x1="376.8" y1="328" x2="379" y2="328" stroke="#111" stroke-width="1.1"/>
<text x="371.7" y="339.1" font-size="7" fill="#222" stroke="#222" stroke-width="0.1" text-anchor="end" textLength="3.35" lengthAdjust="spacingAndGlyphs">0</text>
<line x1="376.8" y1="336.6" x2="379" y2="336.6" stroke="#111" stroke-width="1.1"/>
<path d="M377.8 292.7h1.2M377.8 295.1h1.2M377.8 297.5h1.2M377.8 299.9h1.2M377.8 302.3h1.2M377.8 304.7h1.2M377.8 307.1h1.2M377.8 309.5h1.2M377.8 311.9h1.2M377.8 314.3h1.2M377.8 316.7h1.2M377.8 319.1h1.2M377.8 321.5h1.2M377.8 323.9h1.2M377.8 326.3h1.2M377.8 328.7h1.2M377.8 331.1h1.2M377.8 333.5h1.2M377.8 335.9h1.2" stroke="#555" stroke-width="0.5"/>
<text x="371.1" y="345.82" font-size="7" fill="#222" stroke="#222" stroke-width="0.1" text-anchor="end" textLength="6.54" lengthAdjust="spacingAndGlyphs">10</text>
<text x="371.5" y="342.46" font-size="4.34" fill="#222" stroke="#222" stroke-width="0.07">5</text>
<line x1="376.8" y1="343.3" x2="379" y2="343.3" stroke="#111" stroke-width="1.1"/>
<text x="371.1" y="356.12" font-size="7" fill="#222" stroke="#222" stroke-width="0.1" text-anchor="end" textLength="6.54" lengthAdjust="spacingAndGlyphs">10</text>
<text x="371.5" y="352.76" font-size="4.34" fill="#222" stroke="#222" stroke-width="0.07">4</text>
<line x1="376.8" y1="353.6" x2="379" y2="353.6" stroke="#111" stroke-width="1.1"/>
<text x="371.1" y="367.22" font-size="7" fill="#222" stroke="#222" stroke-width="0.1" text-anchor="end" textLength="6.54" lengthAdjust="spacingAndGlyphs">10</text>
<text x="371.5" y="363.86" font-size="4.34" fill="#222" stroke="#222" stroke-width="0.07">3</text>
<line x1="376.8" y1="364.7" x2="379" y2="364.7" stroke="#111" stroke-width="1.1"/>
<text x="371.1" y="378.32" font-size="7" fill="#222" stroke="#222" stroke-width="0.1" text-anchor="end" textLength="6.54" lengthAdjust="spacingAndGlyphs">10</text>
<text x="371.5" y="374.96" font-size="4.34" fill="#222" stroke="#222" stroke-width="0.07">2</text>
<line x1="376.8" y1="375.8" x2="379" y2="375.8" stroke="#111" stroke-width="1.1"/>
<text x="371.7" y="386.9" font-size="7" fill="#222" stroke="#222" stroke-width="0.1" text-anchor="end" textLength="3.35" lengthAdjust="spacingAndGlyphs">0</text>
<line x1="376.8" y1="384.4" x2="379" y2="384.4" stroke="#111" stroke-width="1.1"/>
<path d="M377.8 340.5h1.2M377.8 342.9h1.2M377.8 345.3h1.2M377.8 347.7h1.2M377.8 350.1h1.2M377.8 352.5h1.2M377.8 354.9h1.2M377.8 357.3h1.2M377.8 359.7h1.2M377.8 362.1h1.2M377.8 364.5h1.2M377.8 366.9h1.2M377.8 369.3h1.2M377.8 371.7h1.2M377.8 374.1h1.2M377.8 376.5h1.2M377.8 378.9h1.2M377.8 381.3h1.2" stroke="#555" stroke-width="0.5"/>
<text x="371.1" y="391.82" font-size="7" fill="#222" stroke="#222" stroke-width="0.1" text-anchor="end" textLength="6.54" lengthAdjust="spacingAndGlyphs">10</text>
<text x="371.5" y="388.46" font-size="4.34" fill="#222" stroke="#222" stroke-width="0.07">5</text>
<line x1="376.8" y1="389.3" x2="379" y2="389.3" stroke="#111" stroke-width="1.1"/>
<text x="371.1" y="402.12" font-size="7" fill="#222" stroke="#222" stroke-width="0.1" text-anchor="end" textLength="6.54" lengthAdjust="spacingAndGlyphs">10</text>
<text x="371.5" y="398.76" font-size="4.34" fill="#222" stroke="#222" stroke-width="0.07">4</text>
<line x1="376.8" y1="399.6" x2="379" y2="399.6" stroke="#111" stroke-width="1.1"/>
<text x="371.1" y="413.22" font-size="7" fill="#222" stroke="#222" stroke-width="0.1" text-anchor="end" textLength="6.54" lengthAdjust="spacingAndGlyphs">10</text>
<text x="371.5" y="409.86" font-size="4.34" fill="#222" stroke="#222" stroke-width="0.07">3</text>
<line x1="376.8" y1="410.7" x2="379" y2="410.7" stroke="#111" stroke-width="1.1"/>
<text x="371.1" y="424.32" font-size="7" fill="#222" stroke="#222" stroke-width="0.1" text-anchor="end" textLength="6.54" lengthAdjust="spacingAndGlyphs">10</text>
<text x="371.5" y="420.96" font-size="4.34" fill="#222" stroke="#222" stroke-width="0.07">2</text>
<line x1="376.8" y1="421.8" x2="379" y2="421.8" stroke="#111" stroke-width="1.1"/>
<text x="371.7" y="432.9" font-size="7" fill="#222" stroke="#222" stroke-width="0.1" text-anchor="end" textLength="3.35" lengthAdjust="spacingAndGlyphs">0</text>
<line x1="376.8" y1="430.4" x2="379" y2="430.4" stroke="#111" stroke-width="1.1"/>
<path d="M377.8 386.5h1.2M377.8 388.9h1.2M377.8 391.3h1.2M377.8 393.7h1.2M377.8 396.1h1.2M377.8 398.5h1.2M377.8 400.9h1.2M377.8 403.3h1.2M377.8 405.7h1.2M377.8 408.1h1.2M377.8 410.5h1.2M377.8 412.9h1.2M377.8 415.3h1.2M377.8 417.7h1.2M377.8 420.1h1.2M377.8 422.5h1.2M377.8 424.9h1.2M377.8 427.3h1.2M377.8 429.7h1.2" stroke="#555" stroke-width="0.5"/>
<text x="371.1" y="439.72" font-size="7" fill="#222" stroke="#222" stroke-width="0.1" text-anchor="end" textLength="6.54" lengthAdjust="spacingAndGlyphs">10</text>
<text x="371.5" y="436.36" font-size="4.34" fill="#222" stroke="#222" stroke-width="0.07">5</text>
<line x1="376.8" y1="437.2" x2="379" y2="437.2" stroke="#111" stroke-width="1.1"/>
<text x="371.1" y="450.02" font-size="7" fill="#222" stroke="#222" stroke-width="0.1" text-anchor="end" textLength="6.54" lengthAdjust="spacingAndGlyphs">10</text>
<text x="371.5" y="446.66" font-size="4.34" fill="#222" stroke="#222" stroke-width="0.07">4</text>
<line x1="376.8" y1="447.5" x2="379" y2="447.5" stroke="#111" stroke-width="1.1"/>
<text x="371.1" y="461.12" font-size="7" fill="#222" stroke="#222" stroke-width="0.1" text-anchor="end" textLength="6.54" lengthAdjust="spacingAndGlyphs">10</text>
<text x="371.5" y="457.76" font-size="4.34" fill="#222" stroke="#222" stroke-width="0.07">3</text>
<line x1="376.8" y1="458.6" x2="379" y2="458.6" stroke="#111" stroke-width="1.1"/>
<text x="371.1" y="472.22" font-size="7" fill="#222" stroke="#222" stroke-width="0.1" text-anchor="end" textLength="6.54" lengthAdjust="spacingAndGlyphs">10</text>
<text x="371.5" y="468.86" font-size="4.34" fill="#222" stroke="#222" stroke-width="0.07">2</text>
<line x1="376.8" y1="469.7" x2="379" y2="469.7" stroke="#111" stroke-width="1.1"/>
<text x="371.7" y="480.8" font-size="7" fill="#222" stroke="#222" stroke-width="0.1" text-anchor="end" textLength="3.35" lengthAdjust="spacingAndGlyphs">0</text>
<line x1="376.8" y1="478.3" x2="379" y2="478.3" stroke="#111" stroke-width="1.1"/>
<path d="M377.8 434.4h1.2M377.8 436.8h1.2M377.8 439.2h1.2M377.8 441.6h1.2M377.8 444h1.2M377.8 446.4h1.2M377.8 448.8h1.2M377.8 451.2h1.2M377.8 453.6h1.2M377.8 456h1.2M377.8 458.4h1.2M377.8 460.8h1.2M377.8 463.2h1.2M377.8 465.6h1.2M377.8 468h1.2M377.8 470.4h1.2M377.8 472.8h1.2M377.8 475.2h1.2M377.8 477.6h1.2" stroke="#555" stroke-width="0.5"/>
<rect x="466.5" y="290.7" width="46.9" height="188.9" fill="none" stroke="#333" stroke-width="0.9"/>
<line x1="466.5" y1="338.3" x2="513.4" y2="338.3" stroke="#333" stroke-width="0.9"/>
<line x1="466.5" y1="385" x2="513.4" y2="385" stroke="#333" stroke-width="0.9"/>
<line x1="466.5" y1="432.6" x2="513.4" y2="432.6" stroke="#333" stroke-width="0.9"/>
<text x="458.6" y="298.02" font-size="7" fill="#222" stroke="#222" stroke-width="0.1" text-anchor="end" textLength="6.54" lengthAdjust="spacingAndGlyphs">10</text>
<text x="459" y="294.66" font-size="4.34" fill="#222" stroke="#222" stroke-width="0.07">5</text>
<line x1="464.3" y1="295.5" x2="466.5" y2="295.5" stroke="#111" stroke-width="1.1"/>
<text x="458.6" y="309.12" font-size="7" fill="#222" stroke="#222" stroke-width="0.1" text-anchor="end" textLength="6.54" lengthAdjust="spacingAndGlyphs">10</text>
<text x="459" y="305.76" font-size="4.34" fill="#222" stroke="#222" stroke-width="0.07">4</text>
<line x1="464.3" y1="306.6" x2="466.5" y2="306.6" stroke="#111" stroke-width="1.1"/>
<text x="458.6" y="321.62" font-size="7" fill="#222" stroke="#222" stroke-width="0.1" text-anchor="end" textLength="6.54" lengthAdjust="spacingAndGlyphs">10</text>
<text x="459" y="318.26" font-size="4.34" fill="#222" stroke="#222" stroke-width="0.07">3</text>
<line x1="464.3" y1="319.1" x2="466.5" y2="319.1" stroke="#111" stroke-width="1.1"/>
<text x="459.2" y="330.8" font-size="7" fill="#222" stroke="#222" stroke-width="0.1" text-anchor="end" textLength="3.35" lengthAdjust="spacingAndGlyphs">0</text>
<line x1="464.3" y1="328.3" x2="466.5" y2="328.3" stroke="#111" stroke-width="1.1"/>
<path d="M465.3 292.7h1.2M465.3 295.1h1.2M465.3 297.5h1.2M465.3 299.9h1.2M465.3 302.3h1.2M465.3 304.7h1.2M465.3 307.1h1.2M465.3 309.5h1.2M465.3 311.9h1.2M465.3 314.3h1.2M465.3 316.7h1.2M465.3 319.1h1.2M465.3 321.5h1.2M465.3 323.9h1.2M465.3 326.3h1.2M465.3 328.7h1.2M465.3 331.1h1.2M465.3 333.5h1.2M465.3 335.9h1.2" stroke="#555" stroke-width="0.5"/>
<text x="458.6" y="345.62" font-size="7" fill="#222" stroke="#222" stroke-width="0.1" text-anchor="end" textLength="6.54" lengthAdjust="spacingAndGlyphs">10</text>
<text x="459" y="342.26" font-size="4.34" fill="#222" stroke="#222" stroke-width="0.07">5</text>
<line x1="464.3" y1="343.1" x2="466.5" y2="343.1" stroke="#111" stroke-width="1.1"/>
<text x="458.6" y="356.72" font-size="7" fill="#222" stroke="#222" stroke-width="0.1" text-anchor="end" textLength="6.54" lengthAdjust="spacingAndGlyphs">10</text>
<text x="459" y="353.36" font-size="4.34" fill="#222" stroke="#222" stroke-width="0.07">4</text>
<line x1="464.3" y1="354.2" x2="466.5" y2="354.2" stroke="#111" stroke-width="1.1"/>
<text x="458.6" y="369.22" font-size="7" fill="#222" stroke="#222" stroke-width="0.1" text-anchor="end" textLength="6.54" lengthAdjust="spacingAndGlyphs">10</text>
<text x="459" y="365.86" font-size="4.34" fill="#222" stroke="#222" stroke-width="0.07">3</text>
<line x1="464.3" y1="366.7" x2="466.5" y2="366.7" stroke="#111" stroke-width="1.1"/>
<text x="459.2" y="378.4" font-size="7" fill="#222" stroke="#222" stroke-width="0.1" text-anchor="end" textLength="3.35" lengthAdjust="spacingAndGlyphs">0</text>
<line x1="464.3" y1="375.9" x2="466.5" y2="375.9" stroke="#111" stroke-width="1.1"/>
<path d="M465.3 340.3h1.2M465.3 342.7h1.2M465.3 345.1h1.2M465.3 347.5h1.2M465.3 349.9h1.2M465.3 352.3h1.2M465.3 354.7h1.2M465.3 357.1h1.2M465.3 359.5h1.2M465.3 361.9h1.2M465.3 364.3h1.2M465.3 366.7h1.2M465.3 369.1h1.2M465.3 371.5h1.2M465.3 373.9h1.2M465.3 376.3h1.2M465.3 378.7h1.2M465.3 381.1h1.2M465.3 383.5h1.2" stroke="#555" stroke-width="0.5"/>
<text x="458.6" y="392.32" font-size="7" fill="#222" stroke="#222" stroke-width="0.1" text-anchor="end" textLength="6.54" lengthAdjust="spacingAndGlyphs">10</text>
<text x="459" y="388.96" font-size="4.34" fill="#222" stroke="#222" stroke-width="0.07">5</text>
<line x1="464.3" y1="389.8" x2="466.5" y2="389.8" stroke="#111" stroke-width="1.1"/>
<text x="458.6" y="403.42" font-size="7" fill="#222" stroke="#222" stroke-width="0.1" text-anchor="end" textLength="6.54" lengthAdjust="spacingAndGlyphs">10</text>
<text x="459" y="400.06" font-size="4.34" fill="#222" stroke="#222" stroke-width="0.07">4</text>
<line x1="464.3" y1="400.9" x2="466.5" y2="400.9" stroke="#111" stroke-width="1.1"/>
<text x="458.6" y="415.92" font-size="7" fill="#222" stroke="#222" stroke-width="0.1" text-anchor="end" textLength="6.54" lengthAdjust="spacingAndGlyphs">10</text>
<text x="459" y="412.56" font-size="4.34" fill="#222" stroke="#222" stroke-width="0.07">3</text>
<line x1="464.3" y1="413.4" x2="466.5" y2="413.4" stroke="#111" stroke-width="1.1"/>
<text x="459.2" y="425.1" font-size="7" fill="#222" stroke="#222" stroke-width="0.1" text-anchor="end" textLength="3.35" lengthAdjust="spacingAndGlyphs">0</text>
<line x1="464.3" y1="422.6" x2="466.5" y2="422.6" stroke="#111" stroke-width="1.1"/>
<path d="M465.3 387h1.2M465.3 389.4h1.2M465.3 391.8h1.2M465.3 394.2h1.2M465.3 396.6h1.2M465.3 399h1.2M465.3 401.4h1.2M465.3 403.8h1.2M465.3 406.2h1.2M465.3 408.6h1.2M465.3 411h1.2M465.3 413.4h1.2M465.3 415.8h1.2M465.3 418.2h1.2M465.3 420.6h1.2M465.3 423h1.2M465.3 425.4h1.2M465.3 427.8h1.2M465.3 430.2h1.2" stroke="#555" stroke-width="0.5"/>
<text x="458.6" y="439.92" font-size="7" fill="#222" stroke="#222" stroke-width="0.1" text-anchor="end" textLength="6.54" lengthAdjust="spacingAndGlyphs">10</text>
<text x="459" y="436.56" font-size="4.34" fill="#222" stroke="#222" stroke-width="0.07">5</text>
<line x1="464.3" y1="437.4" x2="466.5" y2="437.4" stroke="#111" stroke-width="1.1"/>
<text x="458.6" y="451.02" font-size="7" fill="#222" stroke="#222" stroke-width="0.1" text-anchor="end" textLength="6.54" lengthAdjust="spacingAndGlyphs">10</text>
<text x="459" y="447.66" font-size="4.34" fill="#222" stroke="#222" stroke-width="0.07">4</text>
<line x1="464.3" y1="448.5" x2="466.5" y2="448.5" stroke="#111" stroke-width="1.1"/>
<text x="458.6" y="463.52" font-size="7" fill="#222" stroke="#222" stroke-width="0.1" text-anchor="end" textLength="6.54" lengthAdjust="spacingAndGlyphs">10</text>
<text x="459" y="460.16" font-size="4.34" fill="#222" stroke="#222" stroke-width="0.07">3</text>
<line x1="464.3" y1="461" x2="466.5" y2="461" stroke="#111" stroke-width="1.1"/>
<text x="459.2" y="472.7" font-size="7" fill="#222" stroke="#222" stroke-width="0.1" text-anchor="end" textLength="3.35" lengthAdjust="spacingAndGlyphs">0</text>
<line x1="464.3" y1="470.2" x2="466.5" y2="470.2" stroke="#111" stroke-width="1.1"/>
<path d="M465.3 434.6h1.2M465.3 437h1.2M465.3 439.4h1.2M465.3 441.8h1.2M465.3 444.2h1.2M465.3 446.6h1.2M465.3 449h1.2M465.3 451.4h1.2M465.3 453.8h1.2M465.3 456.2h1.2M465.3 458.6h1.2M465.3 461h1.2M465.3 463.4h1.2M465.3 465.8h1.2M465.3 468.2h1.2M465.3 470.6h1.2M465.3 473h1.2M465.3 475.4h1.2M465.3 477.8h1.2" stroke="#555" stroke-width="0.5"/>
<g transform="translate(87 229.2) rotate(-45)">
<text x="0" y="2.2" font-size="6.3" fill="#333" stroke="#333" stroke-width="0.17" text-anchor="middle">10</text>
<text x="3.6" y="-1" font-size="3.9" fill="#333" stroke="#333" stroke-width="0.1">2</text>
</g>
<g transform="translate(98.5 229.2) rotate(-45)">
<text x="0" y="2.2" font-size="6.3" fill="#333" stroke="#333" stroke-width="0.17" text-anchor="middle">10</text>
<text x="3.6" y="-1" font-size="3.9" fill="#333" stroke="#333" stroke-width="0.1">3</text>
</g>
<g transform="translate(109.2 229.2) rotate(-45)">
<text x="0" y="2.2" font-size="6.3" fill="#333" stroke="#333" stroke-width="0.17" text-anchor="middle">10</text>
<text x="3.6" y="-1" font-size="3.9" fill="#333" stroke="#333" stroke-width="0.1">4</text>
</g>
<g transform="translate(119.8 229.2) rotate(-45)">
<text x="0" y="2.2" font-size="6.3" fill="#333" stroke="#333" stroke-width="0.17" text-anchor="middle">10</text>
<text x="3.6" y="-1" font-size="3.9" fill="#333" stroke="#333" stroke-width="0.1">5</text>
</g>
<path d="M80 216.4v1.2M82.3 216.4v1.2M84.6 216.4v1.2M86.9 216.4v1.2M89.2 216.4v1.2M91.5 216.4v1.2M93.8 216.4v1.2M96.1 216.4v1.2M98.4 216.4v1.2M100.7 216.4v1.2M103 216.4v1.2M105.3 216.4v1.2M107.6 216.4v1.2M109.9 216.4v1.2M112.2 216.4v1.2M114.5 216.4v1.2M116.8 216.4v1.2M119.1 216.4v1.2M121.4 216.4v1.2M123.7 216.4v1.2" stroke="#444" stroke-width="0.5"/>
<line x1="87" y1="216.4" x2="87" y2="218.6" stroke="#111" stroke-width="1.1"/>
<line x1="98.5" y1="216.4" x2="98.5" y2="218.6" stroke="#111" stroke-width="1.1"/>
<line x1="109.2" y1="216.4" x2="109.2" y2="218.6" stroke="#111" stroke-width="1.1"/>
<line x1="119.8" y1="216.4" x2="119.8" y2="218.6" stroke="#111" stroke-width="1.1"/>
<g transform="translate(82.4 225.2) rotate(-45)"><text x="0" y="2.2" font-size="6.3" fill="#333" stroke="#333" stroke-width="0.17" text-anchor="middle">0</text></g>
<g transform="translate(164 229.2) rotate(-45)">
<text x="0" y="2.2" font-size="6.3" fill="#333" stroke="#333" stroke-width="0.17" text-anchor="middle">10</text>
<text x="3.6" y="-1" font-size="3.9" fill="#333" stroke="#333" stroke-width="0.1">2</text>
</g>
<g transform="translate(175.5 229.2) rotate(-45)">
<text x="0" y="2.2" font-size="6.3" fill="#333" stroke="#333" stroke-width="0.17" text-anchor="middle">10</text>
<text x="3.6" y="-1" font-size="3.9" fill="#333" stroke="#333" stroke-width="0.1">3</text>
</g>
<g transform="translate(186.2 229.2) rotate(-45)">
<text x="0" y="2.2" font-size="6.3" fill="#333" stroke="#333" stroke-width="0.17" text-anchor="middle">10</text>
<text x="3.6" y="-1" font-size="3.9" fill="#333" stroke="#333" stroke-width="0.1">4</text>
</g>
<g transform="translate(196.8 229.2) rotate(-45)">
<text x="0" y="2.2" font-size="6.3" fill="#333" stroke="#333" stroke-width="0.17" text-anchor="middle">10</text>
<text x="3.6" y="-1" font-size="3.9" fill="#333" stroke="#333" stroke-width="0.1">5</text>
</g>
<path d="M157 215.8v1.2M159.3 215.8v1.2M161.6 215.8v1.2M163.9 215.8v1.2M166.2 215.8v1.2M168.5 215.8v1.2M170.8 215.8v1.2M173.1 215.8v1.2M175.4 215.8v1.2M177.7 215.8v1.2M180 215.8v1.2M182.3 215.8v1.2M184.6 215.8v1.2M186.9 215.8v1.2M189.2 215.8v1.2M191.5 215.8v1.2M193.8 215.8v1.2M196.1 215.8v1.2M198.4 215.8v1.2M200.7 215.8v1.2" stroke="#444" stroke-width="0.5"/>
<line x1="164" y1="215.8" x2="164" y2="218" stroke="#111" stroke-width="1.1"/>
<line x1="175.5" y1="215.8" x2="175.5" y2="218" stroke="#111" stroke-width="1.1"/>
<line x1="186.2" y1="215.8" x2="186.2" y2="218" stroke="#111" stroke-width="1.1"/>
<line x1="196.8" y1="215.8" x2="196.8" y2="218" stroke="#111" stroke-width="1.1"/>
<g transform="translate(159.4 225.2) rotate(-45)"><text x="0" y="2.2" font-size="6.3" fill="#333" stroke="#333" stroke-width="0.17" text-anchor="middle">0</text></g>
<g transform="translate(313.5 229.2) rotate(-45)">
<text x="0" y="2.2" font-size="6.3" fill="#333" stroke="#333" stroke-width="0.17" text-anchor="middle">10</text>
<text x="3.6" y="-1" font-size="3.9" fill="#333" stroke="#333" stroke-width="0.1">2</text>
</g>
<g transform="translate(325 229.2) rotate(-45)">
<text x="0" y="2.2" font-size="6.3" fill="#333" stroke="#333" stroke-width="0.17" text-anchor="middle">10</text>
<text x="3.6" y="-1" font-size="3.9" fill="#333" stroke="#333" stroke-width="0.1">3</text>
</g>
<g transform="translate(335.7 229.2) rotate(-45)">
<text x="0" y="2.2" font-size="6.3" fill="#333" stroke="#333" stroke-width="0.17" text-anchor="middle">10</text>
<text x="3.6" y="-1" font-size="3.9" fill="#333" stroke="#333" stroke-width="0.1">4</text>
</g>
<g transform="translate(346.3 229.2) rotate(-45)">
<text x="0" y="2.2" font-size="6.3" fill="#333" stroke="#333" stroke-width="0.17" text-anchor="middle">10</text>
<text x="3.6" y="-1" font-size="3.9" fill="#333" stroke="#333" stroke-width="0.1">5</text>
</g>
<path d="M306.5 216.2v1.2M308.8 216.2v1.2M311.1 216.2v1.2M313.4 216.2v1.2M315.7 216.2v1.2M318 216.2v1.2M320.3 216.2v1.2M322.6 216.2v1.2M324.9 216.2v1.2M327.2 216.2v1.2M329.5 216.2v1.2M331.8 216.2v1.2M334.1 216.2v1.2M336.4 216.2v1.2M338.7 216.2v1.2M341 216.2v1.2M343.3 216.2v1.2M345.6 216.2v1.2M347.9 216.2v1.2M350.2 216.2v1.2" stroke="#444" stroke-width="0.5"/>
<line x1="313.5" y1="216.2" x2="313.5" y2="218.4" stroke="#111" stroke-width="1.1"/>
<line x1="325" y1="216.2" x2="325" y2="218.4" stroke="#111" stroke-width="1.1"/>
<line x1="335.7" y1="216.2" x2="335.7" y2="218.4" stroke="#111" stroke-width="1.1"/>
<line x1="346.3" y1="216.2" x2="346.3" y2="218.4" stroke="#111" stroke-width="1.1"/>
<g transform="translate(308.9 225.2) rotate(-45)"><text x="0" y="2.2" font-size="6.3" fill="#333" stroke="#333" stroke-width="0.17" text-anchor="middle">0</text></g>
<g transform="translate(397 229.2) rotate(-45)">
<text x="0" y="2.2" font-size="6.3" fill="#333" stroke="#333" stroke-width="0.17" text-anchor="middle">10</text>
<text x="3.6" y="-1" font-size="3.9" fill="#333" stroke="#333" stroke-width="0.1">2</text>
</g>
<g transform="translate(408.5 229.2) rotate(-45)">
<text x="0" y="2.2" font-size="6.3" fill="#333" stroke="#333" stroke-width="0.17" text-anchor="middle">10</text>
<text x="3.6" y="-1" font-size="3.9" fill="#333" stroke="#333" stroke-width="0.1">3</text>
</g>
<g transform="translate(419.2 229.2) rotate(-45)">
<text x="0" y="2.2" font-size="6.3" fill="#333" stroke="#333" stroke-width="0.17" text-anchor="middle">10</text>
<text x="3.6" y="-1" font-size="3.9" fill="#333" stroke="#333" stroke-width="0.1">4</text>
</g>
<g transform="translate(429.8 229.2) rotate(-45)">
<text x="0" y="2.2" font-size="6.3" fill="#333" stroke="#333" stroke-width="0.17" text-anchor="middle">10</text>
<text x="3.6" y="-1" font-size="3.9" fill="#333" stroke="#333" stroke-width="0.1">5</text>
</g>
<path d="M390 215.8v1.2M392.3 215.8v1.2M394.6 215.8v1.2M396.9 215.8v1.2M399.2 215.8v1.2M401.5 215.8v1.2M403.8 215.8v1.2M406.1 215.8v1.2M408.4 215.8v1.2M410.7 215.8v1.2M413 215.8v1.2M415.3 215.8v1.2M417.6 215.8v1.2M419.9 215.8v1.2M422.2 215.8v1.2M424.5 215.8v1.2M426.8 215.8v1.2M429.1 215.8v1.2M431.4 215.8v1.2M433.7 215.8v1.2" stroke="#444" stroke-width="0.5"/>
<line x1="397" y1="215.8" x2="397" y2="218" stroke="#111" stroke-width="1.1"/>
<line x1="408.5" y1="215.8" x2="408.5" y2="218" stroke="#111" stroke-width="1.1"/>
<line x1="419.2" y1="215.8" x2="419.2" y2="218" stroke="#111" stroke-width="1.1"/>
<line x1="429.8" y1="215.8" x2="429.8" y2="218" stroke="#111" stroke-width="1.1"/>
<g transform="translate(392.4 225.2) rotate(-45)"><text x="0" y="2.2" font-size="6.3" fill="#333" stroke="#333" stroke-width="0.17" text-anchor="middle">0</text></g>
<g transform="translate(471.7 229.2) rotate(-45)">
<text x="0" y="2.2" font-size="6.3" fill="#333" stroke="#333" stroke-width="0.17" text-anchor="middle">10</text>
<text x="3.6" y="-1" font-size="3.9" fill="#333" stroke="#333" stroke-width="0.1">2</text>
</g>
<g transform="translate(483.2 229.2) rotate(-45)">
<text x="0" y="2.2" font-size="6.3" fill="#333" stroke="#333" stroke-width="0.17" text-anchor="middle">10</text>
<text x="3.6" y="-1" font-size="3.9" fill="#333" stroke="#333" stroke-width="0.1">3</text>
</g>
<g transform="translate(493.9 229.2) rotate(-45)">
<text x="0" y="2.2" font-size="6.3" fill="#333" stroke="#333" stroke-width="0.17" text-anchor="middle">10</text>
<text x="3.6" y="-1" font-size="3.9" fill="#333" stroke="#333" stroke-width="0.1">4</text>
</g>
<g transform="translate(504.5 229.2) rotate(-45)">
<text x="0" y="2.2" font-size="6.3" fill="#333" stroke="#333" stroke-width="0.17" text-anchor="middle">10</text>
<text x="3.6" y="-1" font-size="3.9" fill="#333" stroke="#333" stroke-width="0.1">5</text>
</g>
<path d="M464.7 215.8v1.2M467 215.8v1.2M469.3 215.8v1.2M471.6 215.8v1.2M473.9 215.8v1.2M476.2 215.8v1.2M478.5 215.8v1.2M480.8 215.8v1.2M483.1 215.8v1.2M485.4 215.8v1.2M487.7 215.8v1.2M490 215.8v1.2M492.3 215.8v1.2M494.6 215.8v1.2M496.9 215.8v1.2M499.2 215.8v1.2M501.5 215.8v1.2M503.8 215.8v1.2M506.1 215.8v1.2M508.4 215.8v1.2" stroke="#444" stroke-width="0.5"/>
<line x1="471.7" y1="215.8" x2="471.7" y2="218" stroke="#111" stroke-width="1.1"/>
<line x1="483.2" y1="215.8" x2="483.2" y2="218" stroke="#111" stroke-width="1.1"/>
<line x1="493.9" y1="215.8" x2="493.9" y2="218" stroke="#111" stroke-width="1.1"/>
<line x1="504.5" y1="215.8" x2="504.5" y2="218" stroke="#111" stroke-width="1.1"/>
<g transform="translate(467.1 225.2) rotate(-45)"><text x="0" y="2.2" font-size="6.3" fill="#333" stroke="#333" stroke-width="0.17" text-anchor="middle">0</text></g>
<g transform="translate(396.9 491.9) rotate(-45)">
<text x="0" y="2.2" font-size="6.3" fill="#333" stroke="#333" stroke-width="0.17" text-anchor="middle">10</text>
<text x="3.6" y="-1" font-size="3.9" fill="#333" stroke="#333" stroke-width="0.1">3</text>
</g>
<g transform="translate(409.4 491.9) rotate(-45)">
<text x="0" y="2.2" font-size="6.3" fill="#333" stroke="#333" stroke-width="0.17" text-anchor="middle">10</text>
<text x="3.6" y="-1" font-size="3.9" fill="#333" stroke="#333" stroke-width="0.1">4</text>
</g>
<g transform="translate(423 491.9) rotate(-45)">
<text x="0" y="2.2" font-size="6.3" fill="#333" stroke="#333" stroke-width="0.17" text-anchor="middle">10</text>
<text x="3.6" y="-1" font-size="3.9" fill="#333" stroke="#333" stroke-width="0.1">5</text>
</g>
<path d="M380.5 479.6v1.2M382.8 479.6v1.2M385.1 479.6v1.2M387.4 479.6v1.2M389.7 479.6v1.2M392 479.6v1.2M394.3 479.6v1.2M396.6 479.6v1.2M398.9 479.6v1.2M401.2 479.6v1.2M403.5 479.6v1.2M405.8 479.6v1.2M408.1 479.6v1.2M410.4 479.6v1.2M412.7 479.6v1.2M415 479.6v1.2M417.3 479.6v1.2M419.6 479.6v1.2M421.9 479.6v1.2M424.2 479.6v1.2" stroke="#444" stroke-width="0.5"/>
<line x1="396.9" y1="479.6" x2="396.9" y2="481.8" stroke="#111" stroke-width="1.1"/>
<line x1="409.4" y1="479.6" x2="409.4" y2="481.8" stroke="#111" stroke-width="1.1"/>
<line x1="423" y1="479.6" x2="423" y2="481.8" stroke="#111" stroke-width="1.1"/>
<g transform="translate(388.3 488.4) rotate(-45)"><text x="0" y="2.2" font-size="6.3" fill="#333" stroke="#333" stroke-width="0.17" text-anchor="middle">0</text></g>
<g transform="translate(484.4 491.9) rotate(-45)">
<text x="0" y="2.2" font-size="6.3" fill="#333" stroke="#333" stroke-width="0.17" text-anchor="middle">10</text>
<text x="3.6" y="-1" font-size="3.9" fill="#333" stroke="#333" stroke-width="0.1">3</text>
</g>
<g transform="translate(496.9 491.9) rotate(-45)">
<text x="0" y="2.2" font-size="6.3" fill="#333" stroke="#333" stroke-width="0.17" text-anchor="middle">10</text>
<text x="3.6" y="-1" font-size="3.9" fill="#333" stroke="#333" stroke-width="0.1">4</text>
</g>
<g transform="translate(510.5 491.9) rotate(-45)">
<text x="0" y="2.2" font-size="6.3" fill="#333" stroke="#333" stroke-width="0.17" text-anchor="middle">10</text>
<text x="3.6" y="-1" font-size="3.9" fill="#333" stroke="#333" stroke-width="0.1">5</text>
</g>
<path d="M468 479.6v1.2M470.3 479.6v1.2M472.6 479.6v1.2M474.9 479.6v1.2M477.2 479.6v1.2M479.5 479.6v1.2M481.8 479.6v1.2M484.1 479.6v1.2M486.4 479.6v1.2M488.7 479.6v1.2M491 479.6v1.2M493.3 479.6v1.2M495.6 479.6v1.2M497.9 479.6v1.2M500.2 479.6v1.2M502.5 479.6v1.2M504.8 479.6v1.2M507.1 479.6v1.2M509.4 479.6v1.2M511.7 479.6v1.2" stroke="#444" stroke-width="0.5"/>
<line x1="484.4" y1="479.6" x2="484.4" y2="481.8" stroke="#111" stroke-width="1.1"/>
<line x1="496.9" y1="479.6" x2="496.9" y2="481.8" stroke="#111" stroke-width="1.1"/>
<line x1="510.5" y1="479.6" x2="510.5" y2="481.8" stroke="#111" stroke-width="1.1"/>
<g transform="translate(475.8 488.4) rotate(-45)"><text x="0" y="2.2" font-size="6.3" fill="#333" stroke="#333" stroke-width="0.17" text-anchor="middle">0</text></g>
<rect x="80.4" y="36.1" width="15.9" height="14.5" fill="none" stroke="#6e6e6e" stroke-width="0.75"/>
<rect x="101.4" y="56.3" width="14.8" height="14.8" fill="none" stroke="#6e6e6e" stroke-width="0.75"/>
<text x="81.5" y="35" font-size="8.4" fill="#1a1a1a" stroke="#1a1a1a" stroke-width="0.13" textLength="10.16" lengthAdjust="spacingAndGlyphs">1.0</text>
<text x="105.1" y="55.4" font-size="8.4" fill="#1a1a1a" stroke="#1a1a1a" stroke-width="0.13" textLength="10.16" lengthAdjust="spacingAndGlyphs">1.5</text>
<line x1="96.3" y1="40.3" x2="125.2" y2="40.3" stroke="#111" stroke-width="0.8"/>
<path d="M129.2 40.3L124 38.2L124 42.4Z" fill="#111"/>
<rect x="80.4" y="84" width="15.9" height="13.7" fill="none" stroke="#6e6e6e" stroke-width="0.75"/>
<rect x="101.4" y="102.1" width="14.8" height="14.9" fill="none" stroke="#6e6e6e" stroke-width="0.75"/>
<text x="81.5" y="83" font-size="8.4" fill="#1a1a1a" stroke="#1a1a1a" stroke-width="0.13" textLength="10.16" lengthAdjust="spacingAndGlyphs">6.1</text>
<text x="102.1" y="100.8" font-size="8.4" fill="#1a1a1a" stroke="#1a1a1a" stroke-width="0.13" textLength="14.22" lengthAdjust="spacingAndGlyphs">11.5</text>
<line x1="96.3" y1="88.7" x2="125.2" y2="88.7" stroke="#111" stroke-width="0.8"/>
<path d="M129.2 88.7L124 86.6L124 90.8Z" fill="#111"/>
<rect x="80" y="131.3" width="16.7" height="15.6" fill="none" stroke="#6e6e6e" stroke-width="0.75"/>
<rect x="100.3" y="150.3" width="14.2" height="15.1" fill="none" stroke="#6e6e6e" stroke-width="0.75"/>
<text x="81.5" y="130" font-size="8.4" fill="#1a1a1a" stroke="#1a1a1a" stroke-width="0.13" textLength="10.16" lengthAdjust="spacingAndGlyphs">0.3</text>
<text x="103.6" y="148.9" font-size="8.4" fill="#1a1a1a" stroke="#1a1a1a" stroke-width="0.13" textLength="10.16" lengthAdjust="spacingAndGlyphs">1.1</text>
<line x1="96.7" y1="140.5" x2="125.2" y2="140.5" stroke="#111" stroke-width="0.8"/>
<path d="M129.2 140.5L124 138.4L124 142.6Z" fill="#111"/>
<rect x="80" y="178.7" width="18.8" height="16.3" fill="none" stroke="#6e6e6e" stroke-width="0.75"/>
<rect x="104.1" y="198.7" width="14.4" height="14" fill="none" stroke="#6e6e6e" stroke-width="0.75"/>
<text x="81.5" y="177.8" font-size="8.4" fill="#1a1a1a" stroke="#1a1a1a" stroke-width="0.13" textLength="10.16" lengthAdjust="spacingAndGlyphs">0.7</text>
<text x="107.7" y="196.6" font-size="8.4" fill="#1a1a1a" stroke="#1a1a1a" stroke-width="0.13" textLength="10.16" lengthAdjust="spacingAndGlyphs">1.3</text>
<line x1="98.8" y1="185.8" x2="125.2" y2="185.8" stroke="#111" stroke-width="0.8"/>
<path d="M129.2 185.8L124 183.7L124 187.9Z" fill="#111"/>
<rect x="175.2" y="43.2" width="15.6" height="18.1" fill="none" stroke="#6e6e6e" stroke-width="0.75"/>
<text x="183.5" y="40.8" font-size="8.4" fill="#1a1a1a" stroke="#1a1a1a" stroke-width="0.13" text-anchor="middle" textLength="14.22" lengthAdjust="spacingAndGlyphs">66.7</text>
<rect x="176.3" y="92.4" width="12.2" height="16.3" fill="none" stroke="#6e6e6e" stroke-width="0.75"/>
<text x="182.9" y="89" font-size="8.4" fill="#1a1a1a" stroke="#1a1a1a" stroke-width="0.13" text-anchor="middle" textLength="14.22" lengthAdjust="spacingAndGlyphs">20.3</text>
<rect x="177.3" y="137.2" width="13.8" height="19" fill="none" stroke="#6e6e6e" stroke-width="0.75"/>
<text x="184.7" y="135.2" font-size="8.4" fill="#1a1a1a" stroke="#1a1a1a" stroke-width="0.13" text-anchor="middle" textLength="14.22" lengthAdjust="spacingAndGlyphs">49.4</text>
<rect x="177.3" y="184.2" width="13.3" height="18.2" fill="none" stroke="#6e6e6e" stroke-width="0.75"/>
<text x="184.45" y="181.8" font-size="8.4" fill="#1a1a1a" stroke="#1a1a1a" stroke-width="0.13" text-anchor="middle" textLength="14.22" lengthAdjust="spacingAndGlyphs">64.3</text>
<rect x="305.4" y="37.3" width="19.3" height="14.1" fill="none" stroke="#6e6e6e" stroke-width="0.75"/>
<rect x="333.5" y="53.6" width="11" height="14.1" fill="none" stroke="#6e6e6e" stroke-width="0.75"/>
<text x="309.4" y="36.4" font-size="8.4" fill="#1a1a1a" stroke="#1a1a1a" stroke-width="0.13" textLength="10.16" lengthAdjust="spacingAndGlyphs">1.2</text>
<text x="336" y="52.3" font-size="8.4" fill="#1a1a1a" stroke="#1a1a1a" stroke-width="0.13" textLength="10.16" lengthAdjust="spacingAndGlyphs">1.3</text>
<line x1="344.5" y1="53.9" x2="410.2" y2="53.9" stroke="#111" stroke-width="0.8"/>
<path d="M414.2 53.9L409 51.8L409 56Z" fill="#111"/>
<rect x="305.4" y="84.4" width="19.3" height="14.3" fill="none" stroke="#6e6e6e" stroke-width="0.75"/>
<rect x="333.5" y="101.3" width="11" height="13" fill="none" stroke="#6e6e6e" stroke-width="0.75"/>
<text x="309.4" y="83.8" font-size="8.4" fill="#1a1a1a" stroke="#1a1a1a" stroke-width="0.13" textLength="10.16" lengthAdjust="spacingAndGlyphs">6.6</text>
<text x="334.2" y="99.3" font-size="8.4" fill="#1a1a1a" stroke="#1a1a1a" stroke-width="0.13" textLength="14.22" lengthAdjust="spacingAndGlyphs">11.4</text>
<line x1="324.7" y1="101.3" x2="354.7" y2="101.3" stroke="#111" stroke-width="0.8"/>
<line x1="381" y1="101.3" x2="410.2" y2="101.3" stroke="#111" stroke-width="0.8"/>
<path d="M414.2 101.3L409 99.2L409 103.4Z" fill="#111"/>
<rect x="305.4" y="131.3" width="19.3" height="14.1" fill="none" stroke="#6e6e6e" stroke-width="0.75"/>
<rect x="333.1" y="147.6" width="11.4" height="14.1" fill="none" stroke="#6e6e6e" stroke-width="0.75"/>
<text x="309.4" y="128.9" font-size="8.4" fill="#1a1a1a" stroke="#1a1a1a" stroke-width="0.13" textLength="10.16" lengthAdjust="spacingAndGlyphs">0.4</text>
<text x="336" y="146.3" font-size="8.4" fill="#1a1a1a" stroke="#1a1a1a" stroke-width="0.13" textLength="10.16" lengthAdjust="spacingAndGlyphs">0.8</text>
<line x1="344.5" y1="147.9" x2="410.2" y2="147.9" stroke="#111" stroke-width="0.8"/>
<path d="M414.2 147.9L409 145.8L409 150Z" fill="#111"/>
<rect x="305.4" y="178.4" width="19.3" height="13.9" fill="none" stroke="#6e6e6e" stroke-width="0.75"/>
<rect x="333.1" y="195" width="12.3" height="13.3" fill="none" stroke="#6e6e6e" stroke-width="0.75"/>
<text x="309.4" y="176.3" font-size="8.4" fill="#1a1a1a" stroke="#1a1a1a" stroke-width="0.13" textLength="10.16" lengthAdjust="spacingAndGlyphs">0.9</text>
<text x="336" y="193.3" font-size="8.4" fill="#1a1a1a" stroke="#1a1a1a" stroke-width="0.13" textLength="10.16" lengthAdjust="spacingAndGlyphs">0.9</text>
<line x1="345.4" y1="194.8" x2="410.2" y2="194.8" stroke="#111" stroke-width="0.8"/>
<path d="M414.2 194.8L409 192.7L409 196.9Z" fill="#111"/>
<rect x="414.4" y="35.5" width="13.8" height="38.1" fill="none" stroke="#6e6e6e" stroke-width="0.75"/>
<line x1="414.4" y1="59.1" x2="428.2" y2="59.1" stroke="#6e6e6e" stroke-width="0.75"/>
<text x="414.4" y="49.7" font-size="8.4" fill="#1a1a1a" stroke="#1a1a1a" stroke-width="0.13" text-anchor="end" textLength="14.22" lengthAdjust="spacingAndGlyphs">36.2</text>
<text x="415.9" y="72.7" font-size="8.4" fill="#1a1a1a" stroke="#1a1a1a" stroke-width="0.13" text-anchor="end" textLength="14.22" lengthAdjust="spacingAndGlyphs">64.0</text>
<line x1="428.2" y1="46.9" x2="438.4" y2="46.9" stroke="#111" stroke-width="0.8"/>
<path d="M442.4 46.9L437.2 44.8L437.2 49Z" fill="#111"/>
<rect x="414.4" y="82.9" width="13.8" height="38.1" fill="none" stroke="#6e6e6e" stroke-width="0.75"/>
<line x1="414.4" y1="105.1" x2="428.2" y2="105.1" stroke="#6e6e6e" stroke-width="0.75"/>
<text x="414.4" y="97.1" font-size="8.4" fill="#1a1a1a" stroke="#1a1a1a" stroke-width="0.13" text-anchor="end" textLength="14.22" lengthAdjust="spacingAndGlyphs">27.8</text>
<text x="415.9" y="120" font-size="8.4" fill="#1a1a1a" stroke="#1a1a1a" stroke-width="0.13" text-anchor="end" textLength="14.22" lengthAdjust="spacingAndGlyphs">72.4</text>
<line x1="428.2" y1="95.2" x2="438.4" y2="95.2" stroke="#111" stroke-width="0.8"/>
<path d="M442.4 95.2L437.2 93.1L437.2 97.3Z" fill="#111"/>
<rect x="413.7" y="129.1" width="14" height="38.5" fill="none" stroke="#6e6e6e" stroke-width="0.75"/>
<line x1="413.7" y1="152" x2="427.7" y2="152" stroke="#6e6e6e" stroke-width="0.75"/>
<text x="414.4" y="143.8" font-size="8.4" fill="#1a1a1a" stroke="#1a1a1a" stroke-width="0.13" text-anchor="end" textLength="14.22" lengthAdjust="spacingAndGlyphs">55.9</text>
<text x="415.9" y="167.4" font-size="8.4" fill="#1a1a1a" stroke="#1a1a1a" stroke-width="0.13" text-anchor="end" textLength="14.22" lengthAdjust="spacingAndGlyphs">43.9</text>
<line x1="427.7" y1="143.2" x2="438.4" y2="143.2" stroke="#111" stroke-width="0.8"/>
<path d="M442.4 143.2L437.2 141.1L437.2 145.3Z" fill="#111"/>
<rect x="414.4" y="174.2" width="13.8" height="41.6" fill="none" stroke="#6e6e6e" stroke-width="0.75"/>
<line x1="414.4" y1="199.1" x2="428.2" y2="199.1" stroke="#6e6e6e" stroke-width="0.75"/>
<text x="414.4" y="190.1" font-size="8.4" fill="#1a1a1a" stroke="#1a1a1a" stroke-width="0.13" text-anchor="end" textLength="14.22" lengthAdjust="spacingAndGlyphs">73.5</text>
<text x="415.9" y="214.3" font-size="8.4" fill="#1a1a1a" stroke="#1a1a1a" stroke-width="0.13" text-anchor="end" textLength="14.22" lengthAdjust="spacingAndGlyphs">26.5</text>
<line x1="428.2" y1="191.7" x2="438.4" y2="191.7" stroke="#111" stroke-width="0.8"/>
<path d="M442.4 191.7L437.2 189.6L437.2 193.8Z" fill="#111"/>
<rect x="490.1" y="39.5" width="16.3" height="14.1" fill="none" stroke="#6e6e6e" stroke-width="0.75"/>
<text x="506.6" y="38.3" font-size="8.4" fill="#1a1a1a" stroke="#1a1a1a" stroke-width="0.13" text-anchor="end" textLength="14.22" lengthAdjust="spacingAndGlyphs">70.2</text>
<rect x="490.1" y="87.6" width="16.3" height="13.7" fill="none" stroke="#6e6e6e" stroke-width="0.75"/>
<text x="506.6" y="85.3" font-size="8.4" fill="#1a1a1a" stroke="#1a1a1a" stroke-width="0.13" text-anchor="end" textLength="14.22" lengthAdjust="spacingAndGlyphs">75.0</text>
<rect x="489.4" y="134.6" width="16.3" height="13.7" fill="none" stroke="#6e6e6e" stroke-width="0.75"/>
<text x="506.6" y="132.9" font-size="8.4" fill="#1a1a1a" stroke="#1a1a1a" stroke-width="0.13" text-anchor="end" textLength="14.22" lengthAdjust="spacingAndGlyphs">71.4</text>
<rect x="489.4" y="181.6" width="16.3" height="13.7" fill="none" stroke="#6e6e6e" stroke-width="0.75"/>
<text x="506.6" y="180.8" font-size="8.4" fill="#1a1a1a" stroke="#1a1a1a" stroke-width="0.13" text-anchor="end" textLength="14.22" lengthAdjust="spacingAndGlyphs">67.4</text>
<rect x="400.3" y="299.5" width="14.2" height="12.1" fill="none" stroke="#6e6e6e" stroke-width="0.75"/>
<text x="408.1" y="297.9" font-size="8.4" fill="#1a1a1a" stroke="#1a1a1a" stroke-width="0.13" text-anchor="middle" textLength="10.16" lengthAdjust="spacingAndGlyphs">0.2</text>
<line x1="414.5" y1="303.9" x2="431.7" y2="303.9" stroke="#111" stroke-width="0.8"/>
<path d="M435.7 303.9L430.5 301.8L430.5 306Z" fill="#111"/>
<rect x="400.3" y="347.5" width="14.2" height="12.2" fill="none" stroke="#6e6e6e" stroke-width="0.75"/>
<text x="408.1" y="346.3" font-size="8.4" fill="#1a1a1a" stroke="#1a1a1a" stroke-width="0.13" text-anchor="middle" textLength="10.16" lengthAdjust="spacingAndGlyphs">1.0</text>
<line x1="414.5" y1="352.8" x2="431.7" y2="352.8" stroke="#111" stroke-width="0.8"/>
<path d="M435.7 352.8L430.5 350.7L430.5 354.9Z" fill="#111"/>
<rect x="400.3" y="393.3" width="14.2" height="12.2" fill="none" stroke="#6e6e6e" stroke-width="0.75"/>
<text x="408.1" y="391.7" font-size="8.4" fill="#1a1a1a" stroke="#1a1a1a" stroke-width="0.13" text-anchor="middle" textLength="10.16" lengthAdjust="spacingAndGlyphs">0.3</text>
<line x1="414.5" y1="397.3" x2="431.7" y2="397.3" stroke="#111" stroke-width="0.8"/>
<path d="M435.7 397.3L430.5 395.2L430.5 399.4Z" fill="#111"/>
<rect x="400.3" y="441.4" width="14.2" height="11.9" fill="none" stroke="#6e6e6e" stroke-width="0.75"/>
<text x="408.1" y="439.8" font-size="8.4" fill="#1a1a1a" stroke="#1a1a1a" stroke-width="0.13" text-anchor="middle" textLength="10.16" lengthAdjust="spacingAndGlyphs">0.3</text>
<line x1="414.5" y1="446.6" x2="431.7" y2="446.6" stroke="#111" stroke-width="0.8"/>
<path d="M435.7 446.6L430.5 444.5L430.5 448.7Z" fill="#111"/>
<rect x="481.3" y="310.6" width="21.1" height="12.6" fill="none" stroke="#6e6e6e" stroke-width="0.75"/>
<text x="493.1" y="302.9" font-size="8.4" fill="#1a1a1a" stroke="#1a1a1a" stroke-width="0.13" text-anchor="middle" textLength="14.22" lengthAdjust="spacingAndGlyphs">68.0</text>
<rect x="481.3" y="358.3" width="21.1" height="12.5" fill="none" stroke="#6e6e6e" stroke-width="0.75"/>
<text x="493.1" y="351.1" font-size="8.4" fill="#1a1a1a" stroke="#1a1a1a" stroke-width="0.13" text-anchor="middle" textLength="14.22" lengthAdjust="spacingAndGlyphs">72.9</text>
<rect x="481.3" y="404.4" width="21.1" height="11.9" fill="none" stroke="#6e6e6e" stroke-width="0.75"/>
<text x="493.1" y="396.9" font-size="8.4" fill="#1a1a1a" stroke="#1a1a1a" stroke-width="0.13" text-anchor="middle" textLength="14.22" lengthAdjust="spacingAndGlyphs">70.2</text>
<rect x="481.3" y="452.5" width="21.1" height="11.1" fill="none" stroke="#6e6e6e" stroke-width="0.75"/>
<text x="493.1" y="444.2" font-size="8.4" fill="#1a1a1a" stroke="#1a1a1a" stroke-width="0.13" text-anchor="middle" textLength="14.22" lengthAdjust="spacingAndGlyphs">49.7</text>
<circle cx="71.2" cy="340.8" r="2.2" fill="#4b1b61"/><circle cx="75.1" cy="346.3" r="2.2" fill="#4b1b61"/><circle cx="67.8" cy="350.8" r="2.2" fill="#4b1b61"/><circle cx="67.8" cy="357.7" r="2.2" fill="#4b1b61"/><circle cx="71.2" cy="359.8" r="2.2" fill="#4b1b61"/><circle cx="75.6" cy="362.4" r="2.2" fill="#4b1b61"/><circle cx="67.8" cy="365.3" r="2.2" fill="#4b1b61"/><circle cx="71.2" cy="366.4" r="2.2" fill="#4b1b61"/><circle cx="74.7" cy="365.3" r="2.2" fill="#4b1b61"/><circle cx="69.5" cy="368.1" r="2.2" fill="#4b1b61"/>
<circle cx="89.8" cy="326.9" r="2.2" fill="#e38d15"/><circle cx="93.2" cy="326.1" r="2.2" fill="#e38d15"/><circle cx="96.7" cy="333.3" r="2.2" fill="#e38d15"/><circle cx="89.4" cy="343.4" r="2.2" fill="#e38d15"/><circle cx="97.2" cy="349.1" r="2.2" fill="#e38d15"/><circle cx="92.5" cy="348.6" r="2.2" fill="#e38d15"/><circle cx="89.4" cy="355" r="2.2" fill="#e38d15"/><circle cx="96.9" cy="355" r="2.2" fill="#e38d15"/><circle cx="93.2" cy="359.5" r="2.2" fill="#e38d15"/><circle cx="93.2" cy="368.5" r="2.2" fill="#e38d15"/>
<circle cx="118.8" cy="359.5" r="2.2" fill="#2c664a"/><circle cx="109.3" cy="361" r="2.2" fill="#2c664a"/><circle cx="115" cy="361.9" r="2.2" fill="#2c664a"/><circle cx="112" cy="364.8" r="2.2" fill="#2c664a"/><circle cx="115.4" cy="366" r="2.2" fill="#2c664a"/><circle cx="118.5" cy="364.5" r="2.2" fill="#2c664a"/><circle cx="113" cy="368" r="2.2" fill="#2c664a"/><circle cx="115.4" cy="369" r="2.2" fill="#2c664a"/><circle cx="117.8" cy="367.8" r="2.2" fill="#2c664a"/><circle cx="111" cy="366.5" r="2.2" fill="#2c664a"/>
<circle cx="136.7" cy="352.4" r="2.2" fill="#8c84c8"/><circle cx="132.7" cy="364.1" r="2.2" fill="#8c84c8"/><circle cx="140.5" cy="364.1" r="2.2" fill="#8c84c8"/><circle cx="136.7" cy="365.9" r="2.2" fill="#8c84c8"/><circle cx="134.4" cy="367.6" r="2.2" fill="#8c84c8"/><circle cx="138.7" cy="367.6" r="2.2" fill="#8c84c8"/><circle cx="136.7" cy="369.3" r="2.2" fill="#8c84c8"/><circle cx="133" cy="366" r="2.2" fill="#8c84c8"/><circle cx="140" cy="366.5" r="2.2" fill="#8c84c8"/><circle cx="136.7" cy="368" r="2.2" fill="#8c84c8"/>
<line x1="64.3" y1="357.6" x2="78.7" y2="357.6" stroke="#111" stroke-width="1.3"/>
<line x1="86" y1="346.5" x2="100.7" y2="346.5" stroke="#111" stroke-width="1.3"/>
<line x1="107.6" y1="365.5" x2="122.3" y2="365.5" stroke="#111" stroke-width="1.3"/>
<line x1="129.2" y1="364.7" x2="143.9" y2="364.7" stroke="#111" stroke-width="1.3"/>
<line x1="60.3" y1="270.3" x2="60.3" y2="371.5" stroke="#111" stroke-width="1.2"/>
<line x1="59.7" y1="370.9" x2="147" y2="370.9" stroke="#111" stroke-width="1.2"/>
<line x1="57.3" y1="370.9" x2="60.3" y2="370.9" stroke="#111" stroke-width="1"/>
<text x="53.7" y="374.1" font-size="9" fill="#222" stroke="#222" stroke-width="0.14" text-anchor="end" textLength="4.25" lengthAdjust="spacingAndGlyphs">0</text>
<line x1="57.3" y1="351.4" x2="60.3" y2="351.4" stroke="#111" stroke-width="1"/>
<text x="53.7" y="354.6" font-size="9" fill="#222" stroke="#222" stroke-width="0.14" text-anchor="end" textLength="4.25" lengthAdjust="spacingAndGlyphs">5</text>
<line x1="57.3" y1="331.9" x2="60.3" y2="331.9" stroke="#111" stroke-width="1"/>
<text x="53.7" y="335.1" font-size="9" fill="#222" stroke="#222" stroke-width="0.14" text-anchor="end" textLength="8.51" lengthAdjust="spacingAndGlyphs">10</text>
<line x1="57.3" y1="312.4" x2="60.3" y2="312.4" stroke="#111" stroke-width="1"/>
<text x="53.7" y="315.6" font-size="9" fill="#222" stroke="#222" stroke-width="0.14" text-anchor="end" textLength="8.51" lengthAdjust="spacingAndGlyphs">15</text>
<line x1="57.3" y1="292.9" x2="60.3" y2="292.9" stroke="#111" stroke-width="1"/>
<text x="53.7" y="296.1" font-size="9" fill="#222" stroke="#222" stroke-width="0.14" text-anchor="end" textLength="8.51" lengthAdjust="spacingAndGlyphs">20</text>
<line x1="57.3" y1="273.4" x2="60.3" y2="273.4" stroke="#111" stroke-width="1"/>
<text x="53.7" y="276.6" font-size="9" fill="#222" stroke="#222" stroke-width="0.14" text-anchor="end" textLength="8.51" lengthAdjust="spacingAndGlyphs">25</text>
<line x1="72.7" y1="370.9" x2="72.7" y2="373.5" stroke="#111" stroke-width="0.9"/>
<line x1="93.8" y1="370.9" x2="93.8" y2="373.5" stroke="#111" stroke-width="0.9"/>
<line x1="115.4" y1="370.9" x2="115.4" y2="373.5" stroke="#111" stroke-width="0.9"/>
<line x1="136.5" y1="370.9" x2="136.5" y2="373.5" stroke="#111" stroke-width="0.9"/>
<line x1="89" y1="282.1" x2="137.2" y2="282.1" stroke="#222" stroke-width="1"/>
<text x="113" y="281.4" font-size="7.6" fill="#222" stroke="#222" stroke-width="0.11" text-anchor="middle">**</text>
<text x="27.1" y="321.2" font-size="10.2" fill="#1a1a1a" stroke="#1a1a1a" stroke-width="0.12" text-anchor="middle" textLength="65.6" lengthAdjust="spacingAndGlyphs" transform="rotate(-90 27.1 321.2)">Mean % CD8<tspan dy="-3.8" font-size="6.12">+</tspan><tspan dy="3.8"> T</tspan></text>
<text x="36" y="320.7" font-size="10.2" fill="#1a1a1a" stroke="#1a1a1a" stroke-width="0.12" text-anchor="middle" textLength="68.3" lengthAdjust="spacingAndGlyphs" transform="rotate(-90 36 320.7)">among live cells</text>
<circle cx="220" cy="287.5" r="2.2" fill="#4b1b61"/><circle cx="216.5" cy="340.7" r="2.2" fill="#4b1b61"/><circle cx="223.6" cy="340.2" r="2.2" fill="#4b1b61"/><circle cx="217.7" cy="346.1" r="2.2" fill="#4b1b61"/><circle cx="221.6" cy="346.1" r="2.2" fill="#4b1b61"/><circle cx="216.5" cy="352.8" r="2.2" fill="#4b1b61"/><circle cx="223.6" cy="352.8" r="2.2" fill="#4b1b61"/><circle cx="216.5" cy="361.5" r="2.2" fill="#4b1b61"/><circle cx="223.6" cy="364.3" r="2.2" fill="#4b1b61"/><circle cx="220" cy="367.3" r="2.2" fill="#4b1b61"/>
<circle cx="240.3" cy="291" r="2.2" fill="#e38d15"/><circle cx="240.3" cy="298.5" r="2.2" fill="#e38d15"/><circle cx="240.3" cy="315" r="2.2" fill="#e38d15"/><circle cx="240.3" cy="321.9" r="2.2" fill="#e38d15"/><circle cx="236.9" cy="328.8" r="2.2" fill="#e38d15"/><circle cx="244" cy="331.3" r="2.2" fill="#e38d15"/><circle cx="240.3" cy="333.3" r="2.2" fill="#e38d15"/><circle cx="236.9" cy="346.1" r="2.2" fill="#e38d15"/><circle cx="244" cy="351.7" r="2.2" fill="#e38d15"/><circle cx="240.3" cy="366.1" r="2.2" fill="#e38d15"/>
<circle cx="260.4" cy="343.7" r="2.2" fill="#2c664a"/><circle cx="257.3" cy="354.2" r="2.2" fill="#2c664a"/><circle cx="263.8" cy="354.2" r="2.2" fill="#2c664a"/><circle cx="260.4" cy="358.5" r="2.2" fill="#2c664a"/><circle cx="257.3" cy="364" r="2.2" fill="#2c664a"/><circle cx="263.8" cy="364" r="2.2" fill="#2c664a"/><circle cx="260.4" cy="367" r="2.2" fill="#2c664a"/><circle cx="257.3" cy="367.8" r="2.2" fill="#2c664a"/><circle cx="263.8" cy="367.8" r="2.2" fill="#2c664a"/><circle cx="260.4" cy="368.2" r="2.2" fill="#2c664a"/>
<circle cx="280.2" cy="336.8" r="2.2" fill="#8c84c8"/><circle cx="276.9" cy="355" r="2.2" fill="#8c84c8"/><circle cx="287.3" cy="358.8" r="2.2" fill="#8c84c8"/><circle cx="276.9" cy="364" r="2.2" fill="#8c84c8"/><circle cx="283.8" cy="363" r="2.2" fill="#8c84c8"/><circle cx="280.4" cy="367" r="2.2" fill="#8c84c8"/><circle cx="277" cy="368" r="2.2" fill="#8c84c8"/><circle cx="284" cy="366" r="2.2" fill="#8c84c8"/><circle cx="280.4" cy="368.5" r="2.2" fill="#8c84c8"/><circle cx="282" cy="365" r="2.2" fill="#8c84c8"/>
<line x1="213.3" y1="346.4" x2="226.6" y2="346.4" stroke="#111" stroke-width="1.3"/>
<line x1="233.7" y1="328.3" x2="246.7" y2="328.3" stroke="#111" stroke-width="1.3"/>
<line x1="253.8" y1="360.6" x2="266.5" y2="360.6" stroke="#111" stroke-width="1.3"/>
<line x1="273.8" y1="360.4" x2="287" y2="360.4" stroke="#111" stroke-width="1.3"/>
<line x1="206.6" y1="270.3" x2="206.6" y2="371" stroke="#111" stroke-width="1.2"/>
<line x1="206" y1="370.4" x2="293.7" y2="370.4" stroke="#111" stroke-width="1.2"/>
<line x1="203.6" y1="370.4" x2="206.6" y2="370.4" stroke="#111" stroke-width="1"/>
<text x="200" y="373.6" font-size="9" fill="#222" stroke="#222" stroke-width="0.14" text-anchor="end" textLength="4.25" lengthAdjust="spacingAndGlyphs">0</text>
<line x1="203.6" y1="350.88" x2="206.6" y2="350.88" stroke="#111" stroke-width="1"/>
<text x="200" y="354.07" font-size="9" fill="#222" stroke="#222" stroke-width="0.14" text-anchor="end" textLength="4.25" lengthAdjust="spacingAndGlyphs">5</text>
<line x1="203.6" y1="331.35" x2="206.6" y2="331.35" stroke="#111" stroke-width="1"/>
<text x="200" y="334.55" font-size="9" fill="#222" stroke="#222" stroke-width="0.14" text-anchor="end" textLength="8.51" lengthAdjust="spacingAndGlyphs">10</text>
<line x1="203.6" y1="311.82" x2="206.6" y2="311.82" stroke="#111" stroke-width="1"/>
<text x="200" y="315.02" font-size="9" fill="#222" stroke="#222" stroke-width="0.14" text-anchor="end" textLength="8.51" lengthAdjust="spacingAndGlyphs">15</text>
<line x1="203.6" y1="292.3" x2="206.6" y2="292.3" stroke="#111" stroke-width="1"/>
<text x="200" y="295.5" font-size="9" fill="#222" stroke="#222" stroke-width="0.14" text-anchor="end" textLength="8.51" lengthAdjust="spacingAndGlyphs">20</text>
<line x1="203.6" y1="272.77" x2="206.6" y2="272.77" stroke="#111" stroke-width="1"/>
<text x="200" y="275.97" font-size="9" fill="#222" stroke="#222" stroke-width="0.14" text-anchor="end" textLength="8.51" lengthAdjust="spacingAndGlyphs">25</text>
<line x1="220" y1="370.4" x2="220" y2="373" stroke="#111" stroke-width="0.9"/>
<line x1="240.4" y1="370.4" x2="240.4" y2="373" stroke="#111" stroke-width="0.9"/>
<line x1="260.3" y1="370.4" x2="260.3" y2="373" stroke="#111" stroke-width="0.9"/>
<line x1="280.3" y1="370.4" x2="280.3" y2="373" stroke="#111" stroke-width="0.9"/>
<line x1="237.6" y1="282.2" x2="285.4" y2="282.2" stroke="#222" stroke-width="1"/>
<text x="261.7" y="281.1" font-size="7.6" fill="#222" stroke="#222" stroke-width="0.11" text-anchor="middle">**</text>
<text x="172.6" y="318.5" font-size="10.2" fill="#1a1a1a" stroke="#1a1a1a" stroke-width="0.12" text-anchor="middle" textLength="65.6" lengthAdjust="spacingAndGlyphs" transform="rotate(-90 172.6 318.5)">Mean % CD4<tspan dy="-3.8" font-size="6.12">+</tspan><tspan dy="3.8"> T</tspan></text>
<text x="182.7" y="318.1" font-size="10.2" fill="#1a1a1a" stroke="#1a1a1a" stroke-width="0.12" text-anchor="middle" textLength="68.2" lengthAdjust="spacingAndGlyphs" transform="rotate(-90 182.7 318.1)">among live cells</text>
<circle cx="72.9" cy="421.9" r="2.2" fill="#4b1b61"/><circle cx="76.2" cy="426.2" r="2.2" fill="#4b1b61"/><circle cx="70" cy="431" r="2.2" fill="#4b1b61"/><circle cx="72.9" cy="431" r="2.2" fill="#4b1b61"/><circle cx="76.2" cy="435.2" r="2.2" fill="#4b1b61"/><circle cx="66.5" cy="440.6" r="2.2" fill="#4b1b61"/><circle cx="70" cy="446.9" r="2.2" fill="#4b1b61"/><circle cx="79" cy="447.7" r="2.2" fill="#4b1b61"/><circle cx="76.2" cy="453.1" r="2.2" fill="#4b1b61"/><circle cx="70" cy="458.5" r="2.2" fill="#4b1b61"/>
<circle cx="91.9" cy="432.9" r="2.2" fill="#e38d15"/><circle cx="91.9" cy="447.9" r="2.2" fill="#e38d15"/><circle cx="88.7" cy="464.6" r="2.2" fill="#e38d15"/><circle cx="91.9" cy="465.6" r="2.2" fill="#e38d15"/><circle cx="95.4" cy="465.6" r="2.2" fill="#e38d15"/><circle cx="91.9" cy="467.5" r="2.2" fill="#e38d15"/><circle cx="95.4" cy="471" r="2.2" fill="#e38d15"/><circle cx="88.7" cy="475.2" r="2.2" fill="#e38d15"/><circle cx="91.9" cy="476.2" r="2.2" fill="#e38d15"/><circle cx="93.5" cy="475.6" r="2.2" fill="#e38d15"/>
<circle cx="107.9" cy="423.7" r="2.2" fill="#2c664a"/><circle cx="114.2" cy="425.8" r="2.2" fill="#2c664a"/><circle cx="107.9" cy="430.6" r="2.2" fill="#2c664a"/><circle cx="114.2" cy="431" r="2.2" fill="#2c664a"/><circle cx="111.2" cy="433.8" r="2.2" fill="#2c664a"/><circle cx="107.9" cy="435.8" r="2.2" fill="#2c664a"/><circle cx="114.2" cy="439.6" r="2.2" fill="#2c664a"/><circle cx="107.9" cy="443.1" r="2.2" fill="#2c664a"/><circle cx="111.2" cy="445" r="2.2" fill="#2c664a"/><circle cx="111.2" cy="454.4" r="2.2" fill="#2c664a"/>
<circle cx="133.3" cy="410.2" r="2.2" fill="#8c84c8"/><circle cx="127.1" cy="414.6" r="2.2" fill="#8c84c8"/><circle cx="127.1" cy="421.9" r="2.2" fill="#8c84c8"/><circle cx="133.3" cy="428.5" r="2.2" fill="#8c84c8"/><circle cx="127.1" cy="440.5" r="2.2" fill="#8c84c8"/><circle cx="133.3" cy="438.7" r="2.2" fill="#8c84c8"/><circle cx="130" cy="448.7" r="2.2" fill="#8c84c8"/><circle cx="133.3" cy="454.4" r="2.2" fill="#8c84c8"/><circle cx="127.1" cy="460.4" r="2.2" fill="#8c84c8"/>
<line x1="66.9" y1="439.2" x2="79" y2="439.2" stroke="#111" stroke-width="1.3"/>
<line x1="85.8" y1="464.2" x2="98.8" y2="464.2" stroke="#111" stroke-width="1.3"/>
<line x1="104.6" y1="436.3" x2="117.5" y2="436.3" stroke="#111" stroke-width="1.3"/>
<line x1="123.8" y1="435.4" x2="136.2" y2="435.4" stroke="#111" stroke-width="1.3"/>
<line x1="60.4" y1="386.8" x2="60.4" y2="481.3" stroke="#111" stroke-width="1.2"/>
<line x1="59.8" y1="480.7" x2="142.4" y2="480.7" stroke="#111" stroke-width="1.2"/>
<line x1="57.4" y1="480.7" x2="60.4" y2="480.7" stroke="#111" stroke-width="1"/>
<text x="53.8" y="483.9" font-size="9" fill="#222" stroke="#222" stroke-width="0.14" text-anchor="end" textLength="4.25" lengthAdjust="spacingAndGlyphs">0</text>
<line x1="57.4" y1="462.4" x2="60.4" y2="462.4" stroke="#111" stroke-width="1"/>
<text x="53.8" y="465.6" font-size="9" fill="#222" stroke="#222" stroke-width="0.14" text-anchor="end" textLength="8.51" lengthAdjust="spacingAndGlyphs">20</text>
<line x1="57.4" y1="444.1" x2="60.4" y2="444.1" stroke="#111" stroke-width="1"/>
<text x="53.8" y="447.3" font-size="9" fill="#222" stroke="#222" stroke-width="0.14" text-anchor="end" textLength="8.51" lengthAdjust="spacingAndGlyphs">40</text>
<line x1="57.4" y1="425.8" x2="60.4" y2="425.8" stroke="#111" stroke-width="1"/>
<text x="53.8" y="429" font-size="9" fill="#222" stroke="#222" stroke-width="0.14" text-anchor="end" textLength="8.51" lengthAdjust="spacingAndGlyphs">60</text>
<line x1="57.4" y1="407.5" x2="60.4" y2="407.5" stroke="#111" stroke-width="1"/>
<text x="53.8" y="410.7" font-size="9" fill="#222" stroke="#222" stroke-width="0.14" text-anchor="end" textLength="8.51" lengthAdjust="spacingAndGlyphs">80</text>
<line x1="57.4" y1="389.2" x2="60.4" y2="389.2" stroke="#111" stroke-width="1"/>
<text x="53.8" y="392.4" font-size="9" fill="#222" stroke="#222" stroke-width="0.14" text-anchor="end" textLength="12.76" lengthAdjust="spacingAndGlyphs">100</text>
<line x1="72.9" y1="480.7" x2="72.9" y2="483.3" stroke="#111" stroke-width="0.9"/>
<line x1="91.9" y1="480.7" x2="91.9" y2="483.3" stroke="#111" stroke-width="0.9"/>
<line x1="110.9" y1="480.7" x2="110.9" y2="483.3" stroke="#111" stroke-width="0.9"/>
<line x1="130" y1="480.7" x2="130" y2="483.3" stroke="#111" stroke-width="0.9"/>
<line x1="70" y1="411.2" x2="91" y2="411.2" stroke="#222" stroke-width="1"/>
<text x="80.4" y="410.9" font-size="7.6" fill="#222" stroke="#222" stroke-width="0.11" text-anchor="middle">**</text>
<line x1="91.2" y1="396.5" x2="138.7" y2="396.5" stroke="#222" stroke-width="1"/>
<text x="117" y="396.1" font-size="7.6" fill="#222" stroke="#222" stroke-width="0.11" text-anchor="middle">**</text>
<text x="72.9" y="496" font-size="8.6" fill="#1a1a1a" stroke="#1a1a1a" stroke-width="0.13" text-anchor="middle" textLength="15.11" lengthAdjust="spacingAndGlyphs">Untr</text>
<text x="72.9" y="509.5" font-size="8.6" fill="#1a1a1a" stroke="#1a1a1a" stroke-width="0.13" text-anchor="middle" textLength="14.67" lengthAdjust="spacingAndGlyphs">D27</text>
<text x="91.9" y="496" font-size="8.6" fill="#1a1a1a" stroke="#1a1a1a" stroke-width="0.13" text-anchor="middle" textLength="13.33" lengthAdjust="spacingAndGlyphs">Acc</text>
<text x="91.9" y="509.5" font-size="8.6" fill="#1a1a1a" stroke="#1a1a1a" stroke-width="0.13" text-anchor="middle" textLength="10.96" lengthAdjust="spacingAndGlyphs">LTI</text>
<text x="110.9" y="496" font-size="8.6" fill="#1a1a1a" stroke="#1a1a1a" stroke-width="0.13" text-anchor="middle" textLength="15.11" lengthAdjust="spacingAndGlyphs">Untr</text>
<text x="110.9" y="509.5" font-size="8.6" fill="#1a1a1a" stroke="#1a1a1a" stroke-width="0.13" text-anchor="middle" textLength="14.67" lengthAdjust="spacingAndGlyphs">D35</text>
<text x="130" y="496" font-size="8.6" fill="#1a1a1a" stroke="#1a1a1a" stroke-width="0.13" text-anchor="middle" textLength="18.67" lengthAdjust="spacingAndGlyphs">Conv</text>
<text x="130" y="509.5" font-size="8.6" fill="#1a1a1a" stroke="#1a1a1a" stroke-width="0.13" text-anchor="middle" textLength="10.96" lengthAdjust="spacingAndGlyphs">LTI</text>
<text x="20.5" y="433.8" font-size="10.2" fill="#1a1a1a" stroke="#1a1a1a" stroke-width="0.12" text-anchor="middle" textLength="97.2" lengthAdjust="spacingAndGlyphs" transform="rotate(-90 20.5 433.8)">Mean % PD-1<tspan dy="-3.8" font-size="6.12">+</tspan><tspan dy="3.8"> Eomes</tspan><tspan dy="-3.8" font-size="6.12">+</tspan></text>
<text x="30.2" y="433.8" font-size="10.2" fill="#1a1a1a" stroke="#1a1a1a" stroke-width="0.12" text-anchor="middle" textLength="84.2" lengthAdjust="spacingAndGlyphs" transform="rotate(-90 30.2 433.8)">among CD8<tspan dy="-3.8" font-size="6.12">+</tspan><tspan dy="3.8"> T cells</tspan></text>
<circle cx="217.1" cy="456.9" r="2.2" fill="#4b1b61"/><circle cx="223.8" cy="457.9" r="2.2" fill="#4b1b61"/><circle cx="220.6" cy="459.8" r="2.2" fill="#4b1b61"/><circle cx="217.1" cy="461.7" r="2.2" fill="#4b1b61"/><circle cx="223.8" cy="463.1" r="2.2" fill="#4b1b61"/><circle cx="220.6" cy="464.6" r="2.2" fill="#4b1b61"/><circle cx="217.1" cy="466.5" r="2.2" fill="#4b1b61"/><circle cx="223.8" cy="467.5" r="2.2" fill="#4b1b61"/><circle cx="220.6" cy="470" r="2.2" fill="#4b1b61"/><circle cx="219" cy="463.7" r="2.2" fill="#4b1b61"/>
<circle cx="239.8" cy="449.2" r="2.2" fill="#e38d15"/><circle cx="243.1" cy="452.7" r="2.2" fill="#e38d15"/><circle cx="236.3" cy="458.5" r="2.2" fill="#e38d15"/><circle cx="239.8" cy="458.8" r="2.2" fill="#e38d15"/><circle cx="243.1" cy="461.7" r="2.2" fill="#e38d15"/><circle cx="236.3" cy="463.7" r="2.2" fill="#e38d15"/><circle cx="239.8" cy="464.6" r="2.2" fill="#e38d15"/><circle cx="243.1" cy="465.6" r="2.2" fill="#e38d15"/><circle cx="236.3" cy="468.1" r="2.2" fill="#e38d15"/><circle cx="239.8" cy="469" r="2.2" fill="#e38d15"/>
<circle cx="259" cy="444.4" r="2.2" fill="#2c664a"/><circle cx="262.3" cy="447.3" r="2.2" fill="#2c664a"/><circle cx="256.2" cy="449.2" r="2.2" fill="#2c664a"/><circle cx="262.3" cy="451.2" r="2.2" fill="#2c664a"/><circle cx="259" cy="452.1" r="2.2" fill="#2c664a"/><circle cx="256.2" cy="458.5" r="2.2" fill="#2c664a"/><circle cx="262.3" cy="459.8" r="2.2" fill="#2c664a"/><circle cx="256.2" cy="470.4" r="2.2" fill="#2c664a"/><circle cx="262.3" cy="470.4" r="2.2" fill="#2c664a"/><circle cx="259" cy="472.9" r="2.2" fill="#2c664a"/>
<circle cx="278.3" cy="422.7" r="2.2" fill="#8c84c8"/><circle cx="275.2" cy="431.9" r="2.2" fill="#8c84c8"/><circle cx="281.5" cy="433.5" r="2.2" fill="#8c84c8"/><circle cx="281.5" cy="441.5" r="2.2" fill="#8c84c8"/><circle cx="275.2" cy="445" r="2.2" fill="#8c84c8"/><circle cx="281.5" cy="450.2" r="2.2" fill="#8c84c8"/><circle cx="275.2" cy="455" r="2.2" fill="#8c84c8"/><circle cx="278.3" cy="456.3" r="2.2" fill="#8c84c8"/><circle cx="278.3" cy="470.4" r="2.2" fill="#8c84c8"/>
<line x1="214.2" y1="463.3" x2="226.7" y2="463.3" stroke="#111" stroke-width="1.3"/>
<line x1="233.5" y1="461.7" x2="246.5" y2="461.7" stroke="#111" stroke-width="1.3"/>
<line x1="252.7" y1="457.3" x2="265.8" y2="457.3" stroke="#111" stroke-width="1.3"/>
<line x1="271.9" y1="445.4" x2="285" y2="445.4" stroke="#111" stroke-width="1.3"/>
<line x1="207.9" y1="387.3" x2="207.9" y2="481.6" stroke="#111" stroke-width="1.2"/>
<line x1="207.3" y1="481" x2="289.2" y2="481" stroke="#111" stroke-width="1.2"/>
<line x1="204.9" y1="481" x2="207.9" y2="481" stroke="#111" stroke-width="1"/>
<text x="201.3" y="484.2" font-size="9" fill="#222" stroke="#222" stroke-width="0.14" text-anchor="end" textLength="4.25" lengthAdjust="spacingAndGlyphs">0</text>
<line x1="204.9" y1="462.6" x2="207.9" y2="462.6" stroke="#111" stroke-width="1"/>
<text x="201.3" y="465.8" font-size="9" fill="#222" stroke="#222" stroke-width="0.14" text-anchor="end" textLength="8.51" lengthAdjust="spacingAndGlyphs">20</text>
<line x1="204.9" y1="444.2" x2="207.9" y2="444.2" stroke="#111" stroke-width="1"/>
<text x="201.3" y="447.4" font-size="9" fill="#222" stroke="#222" stroke-width="0.14" text-anchor="end" textLength="8.51" lengthAdjust="spacingAndGlyphs">40</text>
<line x1="204.9" y1="425.8" x2="207.9" y2="425.8" stroke="#111" stroke-width="1"/>
<text x="201.3" y="429" font-size="9" fill="#222" stroke="#222" stroke-width="0.14" text-anchor="end" textLength="8.51" lengthAdjust="spacingAndGlyphs">60</text>
<line x1="204.9" y1="407.4" x2="207.9" y2="407.4" stroke="#111" stroke-width="1"/>
<text x="201.3" y="410.6" font-size="9" fill="#222" stroke="#222" stroke-width="0.14" text-anchor="end" textLength="8.51" lengthAdjust="spacingAndGlyphs">80</text>
<line x1="204.9" y1="389" x2="207.9" y2="389" stroke="#111" stroke-width="1"/>
<text x="201.3" y="392.2" font-size="9" fill="#222" stroke="#222" stroke-width="0.14" text-anchor="end" textLength="12.76" lengthAdjust="spacingAndGlyphs">100</text>
<line x1="220.6" y1="481" x2="220.6" y2="483.6" stroke="#111" stroke-width="0.9"/>
<line x1="239.8" y1="481" x2="239.8" y2="483.6" stroke="#111" stroke-width="0.9"/>
<line x1="259" y1="481" x2="259" y2="483.6" stroke="#111" stroke-width="0.9"/>
<line x1="278.3" y1="481" x2="278.3" y2="483.6" stroke="#111" stroke-width="0.9"/>
<line x1="228" y1="398.5" x2="275.8" y2="398.5" stroke="#222" stroke-width="1"/>
<text x="252" y="397.8" font-size="7.6" fill="#222" stroke="#222" stroke-width="0.11" text-anchor="middle">*</text>
<text x="220.6" y="496" font-size="8.6" fill="#1a1a1a" stroke="#1a1a1a" stroke-width="0.13" text-anchor="middle" textLength="15.11" lengthAdjust="spacingAndGlyphs">Untr</text>
<text x="220.6" y="509.5" font-size="8.6" fill="#1a1a1a" stroke="#1a1a1a" stroke-width="0.13" text-anchor="middle" textLength="14.67" lengthAdjust="spacingAndGlyphs">D27</text>
<text x="239.8" y="496" font-size="8.6" fill="#1a1a1a" stroke="#1a1a1a" stroke-width="0.13" text-anchor="middle" textLength="13.33" lengthAdjust="spacingAndGlyphs">Acc</text>
<text x="239.8" y="509.5" font-size="8.6" fill="#1a1a1a" stroke="#1a1a1a" stroke-width="0.13" text-anchor="middle" textLength="10.96" lengthAdjust="spacingAndGlyphs">LTI</text>
<text x="259" y="496" font-size="8.6" fill="#1a1a1a" stroke="#1a1a1a" stroke-width="0.13" text-anchor="middle" textLength="15.11" lengthAdjust="spacingAndGlyphs">Untr</text>
<text x="259" y="509.5" font-size="8.6" fill="#1a1a1a" stroke="#1a1a1a" stroke-width="0.13" text-anchor="middle" textLength="14.67" lengthAdjust="spacingAndGlyphs">D35</text>
<text x="278.3" y="496" font-size="8.6" fill="#1a1a1a" stroke="#1a1a1a" stroke-width="0.13" text-anchor="middle" textLength="18.67" lengthAdjust="spacingAndGlyphs">Conv</text>
<text x="278.3" y="509.5" font-size="8.6" fill="#1a1a1a" stroke="#1a1a1a" stroke-width="0.13" text-anchor="middle" textLength="10.96" lengthAdjust="spacingAndGlyphs">LTI</text>
<text x="174.5" y="431.6" font-size="10.2" fill="#1a1a1a" stroke="#1a1a1a" stroke-width="0.12" text-anchor="middle" textLength="95.4" lengthAdjust="spacingAndGlyphs" transform="rotate(-90 174.5 431.6)">Mean % CD25<tspan dy="-3.8" font-size="6.12">+</tspan><tspan dy="3.8">FOXP3</tspan><tspan dy="-3.8" font-size="6.12">+</tspan></text>
<text x="184.8" y="431.5" font-size="10.2" fill="#1a1a1a" stroke="#1a1a1a" stroke-width="0.12" text-anchor="middle" textLength="82.1" lengthAdjust="spacingAndGlyphs" transform="rotate(-90 184.8 431.5)">among CD4<tspan dy="-3.8" font-size="6.12">+</tspan><tspan dy="3.8"> T cells</tspan></text>
<circle cx="71.3" cy="628.8" r="2.2" fill="#4b1b61"/><circle cx="74.2" cy="626.9" r="2.2" fill="#4b1b61"/><circle cx="77.1" cy="626.9" r="2.2" fill="#4b1b61"/><circle cx="79" cy="628.8" r="2.2" fill="#4b1b61"/><circle cx="72.3" cy="631.7" r="2.2" fill="#4b1b61"/><circle cx="76.2" cy="631.7" r="2.2" fill="#4b1b61"/><circle cx="74.2" cy="633.7" r="2.2" fill="#4b1b61"/><circle cx="78.1" cy="630.4" r="2.2" fill="#4b1b61"/><circle cx="70.4" cy="630.4" r="2.2" fill="#4b1b61"/><circle cx="74.2" cy="629.8" r="2.2" fill="#4b1b61"/>
<circle cx="96.3" cy="542.7" r="2.2" fill="#e38d15"/><circle cx="92.9" cy="597.7" r="2.2" fill="#e38d15"/><circle cx="99.8" cy="601.5" r="2.2" fill="#e38d15"/><circle cx="92.9" cy="613.5" r="2.2" fill="#e38d15"/><circle cx="96.3" cy="611.5" r="2.2" fill="#e38d15"/><circle cx="99.8" cy="614.4" r="2.2" fill="#e38d15"/><circle cx="94.4" cy="616.3" r="2.2" fill="#e38d15"/><circle cx="98.3" cy="619.6" r="2.2" fill="#e38d15"/><circle cx="99.8" cy="629.8" r="2.2" fill="#e38d15"/><circle cx="92.9" cy="634.2" r="2.2" fill="#e38d15"/>
<circle cx="117.5" cy="599.4" r="2.2" fill="#2c664a"/><circle cx="114.2" cy="619.2" r="2.2" fill="#2c664a"/><circle cx="121.3" cy="626" r="2.2" fill="#2c664a"/><circle cx="114.2" cy="629.8" r="2.2" fill="#2c664a"/><circle cx="117.5" cy="632.7" r="2.2" fill="#2c664a"/><circle cx="120.4" cy="630.8" r="2.2" fill="#2c664a"/><circle cx="115.6" cy="633.7" r="2.2" fill="#2c664a"/><circle cx="118.5" cy="634.6" r="2.2" fill="#2c664a"/><circle cx="116.5" cy="635" r="2.2" fill="#2c664a"/><circle cx="120.4" cy="633.7" r="2.2" fill="#2c664a"/>
<circle cx="139" cy="612.5" r="2.2" fill="#8c84c8"/><circle cx="135.8" cy="627.9" r="2.2" fill="#8c84c8"/><circle cx="142.5" cy="627.9" r="2.2" fill="#8c84c8"/><circle cx="139" cy="630.4" r="2.2" fill="#8c84c8"/><circle cx="135.8" cy="631.7" r="2.2" fill="#8c84c8"/><circle cx="141.5" cy="632.7" r="2.2" fill="#8c84c8"/><circle cx="137.3" cy="634.6" r="2.2" fill="#8c84c8"/><circle cx="140.6" cy="635" r="2.2" fill="#8c84c8"/><circle cx="139" cy="635.6" r="2.2" fill="#8c84c8"/>
<line x1="67.5" y1="630.4" x2="82.9" y2="630.4" stroke="#111" stroke-width="1.3"/>
<line x1="88.7" y1="608.3" x2="103.5" y2="608.3" stroke="#111" stroke-width="1.3"/>
<line x1="110.4" y1="627.3" x2="125.2" y2="627.3" stroke="#111" stroke-width="1.3"/>
<line x1="131.5" y1="629.4" x2="146.3" y2="629.4" stroke="#111" stroke-width="1.3"/>
<line x1="60.4" y1="531.5" x2="60.4" y2="638.1" stroke="#111" stroke-width="1.2"/>
<line x1="59.8" y1="637.5" x2="153" y2="637.5" stroke="#111" stroke-width="1.2"/>
<line x1="57.4" y1="637.5" x2="60.4" y2="637.5" stroke="#111" stroke-width="1"/>
<text x="53.8" y="640.7" font-size="9" fill="#222" stroke="#222" stroke-width="0.14" text-anchor="end" textLength="4.25" lengthAdjust="spacingAndGlyphs">0</text>
<line x1="57.4" y1="616.84" x2="60.4" y2="616.84" stroke="#111" stroke-width="1"/>
<text x="53.8" y="620.04" font-size="9" fill="#222" stroke="#222" stroke-width="0.14" text-anchor="end" textLength="4.25" lengthAdjust="spacingAndGlyphs">1</text>
<line x1="57.4" y1="596.18" x2="60.4" y2="596.18" stroke="#111" stroke-width="1"/>
<text x="53.8" y="599.38" font-size="9" fill="#222" stroke="#222" stroke-width="0.14" text-anchor="end" textLength="4.25" lengthAdjust="spacingAndGlyphs">2</text>
<line x1="57.4" y1="575.52" x2="60.4" y2="575.52" stroke="#111" stroke-width="1"/>
<text x="53.8" y="578.72" font-size="9" fill="#222" stroke="#222" stroke-width="0.14" text-anchor="end" textLength="4.25" lengthAdjust="spacingAndGlyphs">3</text>
<line x1="57.4" y1="554.86" x2="60.4" y2="554.86" stroke="#111" stroke-width="1"/>
<text x="53.8" y="558.06" font-size="9" fill="#222" stroke="#222" stroke-width="0.14" text-anchor="end" textLength="4.25" lengthAdjust="spacingAndGlyphs">4</text>
<line x1="57.4" y1="534.2" x2="60.4" y2="534.2" stroke="#111" stroke-width="1"/>
<text x="53.8" y="537.4" font-size="9" fill="#222" stroke="#222" stroke-width="0.14" text-anchor="end" textLength="4.25" lengthAdjust="spacingAndGlyphs">5</text>
<line x1="74.8" y1="637.5" x2="74.8" y2="640.1" stroke="#111" stroke-width="0.9"/>
<line x1="96.3" y1="637.5" x2="96.3" y2="640.1" stroke="#111" stroke-width="0.9"/>
<line x1="117.5" y1="637.5" x2="117.5" y2="640.1" stroke="#111" stroke-width="0.9"/>
<line x1="139" y1="637.5" x2="139" y2="640.1" stroke="#111" stroke-width="0.9"/>
<line x1="70.4" y1="581.3" x2="91" y2="581.3" stroke="#222" stroke-width="1"/>
<text x="81" y="580.7" font-size="7.6" fill="#222" stroke="#222" stroke-width="0.11" text-anchor="middle">**</text>
<line x1="93" y1="538.5" x2="141" y2="538.5" stroke="#222" stroke-width="1"/>
<text x="116.5" y="537.6" font-size="7.6" fill="#222" stroke="#222" stroke-width="0.11" text-anchor="middle">*</text>
<text x="74.8" y="653" font-size="8.6" fill="#1a1a1a" stroke="#1a1a1a" stroke-width="0.13" text-anchor="middle" textLength="15.11" lengthAdjust="spacingAndGlyphs">Untr</text>
<text x="74.8" y="666.3" font-size="8.6" fill="#1a1a1a" stroke="#1a1a1a" stroke-width="0.13" text-anchor="middle" textLength="14.67" lengthAdjust="spacingAndGlyphs">D27</text>
<text x="96.3" y="653" font-size="8.6" fill="#1a1a1a" stroke="#1a1a1a" stroke-width="0.13" text-anchor="middle" textLength="13.33" lengthAdjust="spacingAndGlyphs">Acc</text>
<text x="96.3" y="666.3" font-size="8.6" fill="#1a1a1a" stroke="#1a1a1a" stroke-width="0.13" text-anchor="middle" textLength="10.96" lengthAdjust="spacingAndGlyphs">LTI</text>
<text x="117.5" y="653" font-size="8.6" fill="#1a1a1a" stroke="#1a1a1a" stroke-width="0.13" text-anchor="middle" textLength="15.11" lengthAdjust="spacingAndGlyphs">Untr</text>
<text x="117.5" y="666.3" font-size="8.6" fill="#1a1a1a" stroke="#1a1a1a" stroke-width="0.13" text-anchor="middle" textLength="14.67" lengthAdjust="spacingAndGlyphs">D35</text>
<text x="139" y="653" font-size="8.6" fill="#1a1a1a" stroke="#1a1a1a" stroke-width="0.13" text-anchor="middle" textLength="18.67" lengthAdjust="spacingAndGlyphs">Conv</text>
<text x="139" y="666.3" font-size="8.6" fill="#1a1a1a" stroke="#1a1a1a" stroke-width="0.13" text-anchor="middle" textLength="10.96" lengthAdjust="spacingAndGlyphs">LTI</text>
<text x="32.9" y="584.5" font-size="10.2" fill="#1a1a1a" stroke="#1a1a1a" stroke-width="0.12" text-anchor="middle" textLength="99" lengthAdjust="spacingAndGlyphs" transform="rotate(-90 32.9 584.5)">Mean % MHCII<tspan dy="-3.8" font-size="6.12">+</tspan><tspan dy="3.8">CD11c</tspan><tspan dy="-3.8" font-size="6.12">+</tspan></text>
<text x="42.9" y="583.2" font-size="10.2" fill="#1a1a1a" stroke="#1a1a1a" stroke-width="0.12" text-anchor="middle" textLength="70.4" lengthAdjust="spacingAndGlyphs" transform="rotate(-90 42.9 583.2)">among live cells</text>
<circle cx="217.5" cy="633.5" r="2.2" fill="#4b1b61"/><circle cx="220.5" cy="632.5" r="2.2" fill="#4b1b61"/><circle cx="224" cy="631.5" r="2.2" fill="#4b1b61"/><circle cx="226.5" cy="633.5" r="2.2" fill="#4b1b61"/><circle cx="219" cy="635.5" r="2.2" fill="#4b1b61"/><circle cx="222.5" cy="635" r="2.2" fill="#4b1b61"/><circle cx="225.5" cy="635.5" r="2.2" fill="#4b1b61"/><circle cx="221" cy="633" r="2.2" fill="#4b1b61"/>
<circle cx="239.6" cy="612.7" r="2.2" fill="#e38d15"/><circle cx="239.2" cy="621.5" r="2.2" fill="#e38d15"/><circle cx="243.1" cy="620.4" r="2.2" fill="#e38d15"/><circle cx="246.3" cy="619" r="2.2" fill="#e38d15"/><circle cx="241.2" cy="628.7" r="2.2" fill="#e38d15"/><circle cx="246.3" cy="624.8" r="2.2" fill="#e38d15"/><circle cx="245" cy="629" r="2.2" fill="#e38d15"/><circle cx="239.6" cy="633.5" r="2.2" fill="#e38d15"/><circle cx="246.3" cy="635.4" r="2.2" fill="#e38d15"/><circle cx="243.1" cy="637.7" r="2.2" fill="#e38d15"/>
<circle cx="259.5" cy="634.5" r="2.2" fill="#2c664a"/><circle cx="262.5" cy="633" r="2.2" fill="#2c664a"/><circle cx="265.5" cy="632.5" r="2.2" fill="#2c664a"/><circle cx="268.5" cy="634.5" r="2.2" fill="#2c664a"/><circle cx="261" cy="636" r="2.2" fill="#2c664a"/><circle cx="264.5" cy="635.5" r="2.2" fill="#2c664a"/><circle cx="267.5" cy="636" r="2.2" fill="#2c664a"/><circle cx="263.5" cy="634" r="2.2" fill="#2c664a"/>
<circle cx="285.4" cy="623.3" r="2.2" fill="#8c84c8"/><circle cx="281" cy="635" r="2.2" fill="#8c84c8"/><circle cx="285.4" cy="635.5" r="2.2" fill="#8c84c8"/><circle cx="289.6" cy="634.5" r="2.2" fill="#8c84c8"/><circle cx="283" cy="636.5" r="2.2" fill="#8c84c8"/><circle cx="287.5" cy="636.5" r="2.2" fill="#8c84c8"/>
<line x1="215" y1="635.5" x2="229.5" y2="635.5" stroke="#111" stroke-width="1.3"/>
<line x1="236.2" y1="626.5" x2="250.2" y2="626.5" stroke="#111" stroke-width="1.3"/>
<line x1="257" y1="635" x2="271.5" y2="635" stroke="#111" stroke-width="1.3"/>
<line x1="278" y1="635.3" x2="292.5" y2="635.3" stroke="#111" stroke-width="1.3"/>
<line x1="207.5" y1="533.7" x2="207.5" y2="638.3" stroke="#111" stroke-width="1.2"/>
<line x1="206.9" y1="637.7" x2="300.3" y2="637.7" stroke="#111" stroke-width="1.2"/>
<line x1="204.5" y1="637.7" x2="207.5" y2="637.7" stroke="#111" stroke-width="1"/>
<text x="200.9" y="640.9" font-size="9" fill="#222" stroke="#222" stroke-width="0.14" text-anchor="end" textLength="4.25" lengthAdjust="spacingAndGlyphs">0</text>
<line x1="204.5" y1="617.2" x2="207.5" y2="617.2" stroke="#111" stroke-width="1"/>
<text x="200.9" y="620.4" font-size="9" fill="#222" stroke="#222" stroke-width="0.14" text-anchor="end" textLength="4.25" lengthAdjust="spacingAndGlyphs">1</text>
<line x1="204.5" y1="596.7" x2="207.5" y2="596.7" stroke="#111" stroke-width="1"/>
<text x="200.9" y="599.9" font-size="9" fill="#222" stroke="#222" stroke-width="0.14" text-anchor="end" textLength="4.25" lengthAdjust="spacingAndGlyphs">2</text>
<line x1="204.5" y1="576.2" x2="207.5" y2="576.2" stroke="#111" stroke-width="1"/>
<text x="200.9" y="579.4" font-size="9" fill="#222" stroke="#222" stroke-width="0.14" text-anchor="end" textLength="4.25" lengthAdjust="spacingAndGlyphs">3</text>
<line x1="204.5" y1="555.7" x2="207.5" y2="555.7" stroke="#111" stroke-width="1"/>
<text x="200.9" y="558.9" font-size="9" fill="#222" stroke="#222" stroke-width="0.14" text-anchor="end" textLength="4.25" lengthAdjust="spacingAndGlyphs">4</text>
<line x1="204.5" y1="535.2" x2="207.5" y2="535.2" stroke="#111" stroke-width="1"/>
<text x="200.9" y="538.4" font-size="9" fill="#222" stroke="#222" stroke-width="0.14" text-anchor="end" textLength="4.25" lengthAdjust="spacingAndGlyphs">5</text>
<line x1="222.3" y1="637.7" x2="222.3" y2="640.3" stroke="#111" stroke-width="0.9"/>
<line x1="243.1" y1="637.7" x2="243.1" y2="640.3" stroke="#111" stroke-width="0.9"/>
<line x1="264.2" y1="637.7" x2="264.2" y2="640.3" stroke="#111" stroke-width="0.9"/>
<line x1="285.4" y1="637.7" x2="285.4" y2="640.3" stroke="#111" stroke-width="0.9"/>
<line x1="221.3" y1="581.5" x2="241.9" y2="581.5" stroke="#222" stroke-width="1"/>
<text x="231.5" y="580.7" font-size="7.6" fill="#222" stroke="#222" stroke-width="0.11" text-anchor="middle">*</text>
<line x1="243.5" y1="555.6" x2="291.2" y2="555.6" stroke="#222" stroke-width="1"/>
<text x="266.9" y="554.7" font-size="7.6" fill="#222" stroke="#222" stroke-width="0.11" text-anchor="middle">*</text>
<text x="222.3" y="652.3" font-size="8.6" fill="#1a1a1a" stroke="#1a1a1a" stroke-width="0.13" text-anchor="middle" textLength="15.11" lengthAdjust="spacingAndGlyphs">Untr</text>
<text x="222.3" y="666.3" font-size="8.6" fill="#1a1a1a" stroke="#1a1a1a" stroke-width="0.13" text-anchor="middle" textLength="14.67" lengthAdjust="spacingAndGlyphs">D27</text>
<text x="243.1" y="652.3" font-size="8.6" fill="#1a1a1a" stroke="#1a1a1a" stroke-width="0.13" text-anchor="middle" textLength="13.33" lengthAdjust="spacingAndGlyphs">Acc</text>
<text x="243.1" y="666.3" font-size="8.6" fill="#1a1a1a" stroke="#1a1a1a" stroke-width="0.13" text-anchor="middle" textLength="10.96" lengthAdjust="spacingAndGlyphs">LTI</text>
<text x="264.2" y="652.3" font-size="8.6" fill="#1a1a1a" stroke="#1a1a1a" stroke-width="0.13" text-anchor="middle" textLength="15.11" lengthAdjust="spacingAndGlyphs">Untr</text>
<text x="264.2" y="666.3" font-size="8.6" fill="#1a1a1a" stroke="#1a1a1a" stroke-width="0.13" text-anchor="middle" textLength="14.67" lengthAdjust="spacingAndGlyphs">D35</text>
<text x="285.4" y="652.3" font-size="8.6" fill="#1a1a1a" stroke="#1a1a1a" stroke-width="0.13" text-anchor="middle" textLength="18.67" lengthAdjust="spacingAndGlyphs">Conv</text>
<text x="285.4" y="666.3" font-size="8.6" fill="#1a1a1a" stroke="#1a1a1a" stroke-width="0.13" text-anchor="middle" textLength="10.96" lengthAdjust="spacingAndGlyphs">LTI</text>
<text x="178" y="588.5" font-size="10.2" fill="#1a1a1a" stroke="#1a1a1a" stroke-width="0.12" text-anchor="middle" textLength="98" lengthAdjust="spacingAndGlyphs" transform="rotate(-90 178 588.5)">Mean % CD103<tspan dy="-3.8" font-size="6.12">+</tspan><tspan dy="3.8">CD11c</tspan><tspan dy="-3.8" font-size="6.12">+</tspan></text>
<text x="189.6" y="587.1" font-size="10.2" fill="#1a1a1a" stroke="#1a1a1a" stroke-width="0.12" text-anchor="middle" textLength="69.2" lengthAdjust="spacingAndGlyphs" transform="rotate(-90 189.6 587.1)">among live cells</text>
<rect x="0.5" y="0.6" width="518.6" height="673.2" fill="none" stroke="#111" stroke-width="1.2"/>
<line x1="519.2" y1="0" x2="519.2" y2="676" stroke="#111" stroke-width="1.6"/>
<line x1="0" y1="675" x2="520" y2="675" stroke="#4a4a4a" stroke-width="2"/>
</svg>
</body></html>
